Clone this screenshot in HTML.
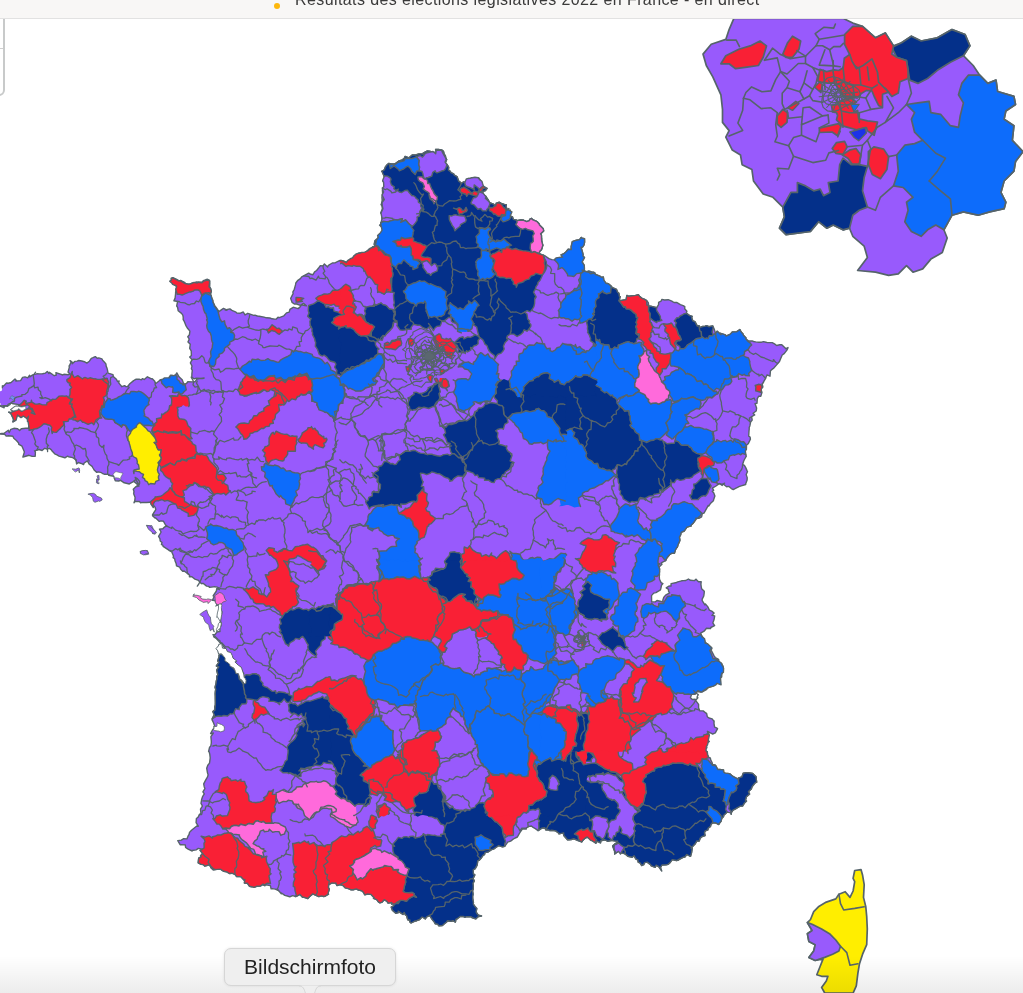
<!DOCTYPE html>
<html lang="fr">
<head>
<meta charset="utf-8">
<title>Résultats des élections législatives 2022 en France - en direct</title>
<style>
html,body{margin:0;padding:0;background:#fff;}
body{width:1023px;height:993px;position:relative;overflow:hidden;font-family:"Liberation Sans",sans-serif;}
#map{position:absolute;left:0;top:0;width:1023px;height:993px;}
#topbar{z-index:5;position:absolute;left:0;top:0;width:1023px;height:19px;background:#f8f7f6;border-bottom:1px solid #e2e2e2;box-sizing:border-box;overflow:hidden;}
#topbar .dot{position:absolute;left:274px;top:3px;width:6px;height:6px;border-radius:50%;background:#fdb80d;}
#topbar .title{position:absolute;left:295px;top:-9px;font-size:16px;line-height:18px;color:#3a3a3a;white-space:nowrap;letter-spacing:0.4px;}
#leftpanel{position:absolute;left:-12px;top:10px;width:12.7px;height:81.5px;border:2.5px solid #c8caca;border-radius:0 0 6px 0;background:#fff;z-index:1;}
#leftpanel i{position:absolute;left:0;top:35.5px;width:13px;height:1px;background:#cfcfcf;}
#fade{position:absolute;left:0;top:956px;width:1023px;height:37px;background:linear-gradient(to bottom,rgba(0,0,0,0),rgba(0,0,0,0.075));}
#tip{position:absolute;left:224px;top:948px;width:170px;height:36px;border:1px solid #d6d6d6;border-radius:7px;background:#efefef;box-shadow:0 0 3px rgba(0,0,0,0.10);font-size:21px;line-height:35px;text-align:center;color:#222;}
#tiparrow{position:absolute;left:299px;top:984.5px;width:22px;height:10px;}
</style>
</head>
<body>
<svg id="map" width="1023" height="993" viewBox="0 0 1023 993" shape-rendering="geometricPrecision">
<g stroke-linejoin="round" stroke-linecap="round">
<path fill="#985afc" d="M203.9 378.2l-1.9 .3-5.8-.3-1.9 .7-2.5-1.5 .1-3.7 .4-3.4-.9-1.7 .6-2.6-1.6-3.1 1.7-3.2-2.4-2.7 1.7-1.6-.2-4.6-1.5-2.5 .6-4.1-2.3-2.3 1-2.1 0-1.2-1.2-1.8 1.6-2 .5-3.7-2.6-3.1-1.5-2.7-1.7-4.2-.9-1.4 0-2.5-.4-2.1-1.3-1.7-3.3-2.6-.6-3.4-.9-1.4 .9-4.5-3.7-.8 1.2-2.6 .5-4.6 0-.8 .6-3.4 .7-2.4-1.1-1.1-2.5-1.7-1.2-1.3-1.5-1.6 .9-1.1-.3-2 1.7-.4 3.7 1.7 2.4 1.5 1.6-.4 3.9 1.8 1.5 1.8 3 .2 2.4-.8 2.6-.7 2.5-.9 2.7 .4 2.9-.3 1.2-1.3 2.3-.9 1.9-.5 1.8 .9 .5 3.7-.1 3 1 1.7 .6 2.6-.5 2-2.2-.6 2 1.5 .8 2.7 1.1 3.5 .5 1.4 .8 2 .8 1.6 2.2 3.2 1.7 2.3 0 1.1 5-3.5 3.5 1.8-1.8-.2 4.7-1.1 2 1.5 4.1 1.7 .9 1 3.5 .1 2.9-1.2 1.7 2.9 2.8-1.6 2.3 .8 3.6 1.3 1.2-.3 2.5 .9 1.8 .3 4.9 .8 2.3 .7 3.5 .2 2.2 .8 2.7 .3 1.5 0 1.7-1.8 1.3 .3 4.6-1.8 2.6-2.9 2.7-.8 .7-2.8 3.3-2 .7 .1 4.2 1.2 1.8-1.5 1.7-2.3 2 .6 2.8 .5-2.9-2.5-3.1 2-3.8-1.4-2.3 0-2.2-1.6-.4-1.1-1-2.9 1.5-3 1-2-.4-1.3 1.5-2.8 1.2-4.4 .3-1.9 2.1-2.7 2.5-1.7 1.3-1.8 1.9-.9 5.1-2.8 2.1 1.2 2.2 .4 1.6-2.8 2-1.4 1.8-2.2 1.9-2.6 2.7 .2 1.4-2 3.2 3 .8-1.6 3.9-2.3 2.7-.1 2.4-1.2 2.7-1.2 3.4 .4 3.1 1.4 3.8-1.9 1.5-1.8 2-1.5 2.2-2.8 2.7-1.2 2.1-.4 2.9 .5 2.8-1.8 2.2-2.1 2.7-.6 1-2 2.8-.1-1.1-2.5 .6-3.3 1.9-1.7 1.7-1.1 .2-2.2 3.1-2.3 2.6-2.9-1.2 .7-.6-4.9-1.8-.3 0-2.1 1.4-3 0-2.8-.2-4.5-.6-.9 2.8-4-1.2-3.2-1.2-3.4 .9-.5-.4-.6-.3-4.1 .7-3.9-.2-2.9 .6-1.6 1-1.3 .2-4.7 1.9-2.4-1.1-2.5-.7-.8-.9-2.4-.8-3.4-.9 .2 2.7-1.5 1-2.8 1.2-1.7 2-1.8 2.9 .5 2.7 0 2.3-1.2 2.3-1.8 2.9-.7 2.6-2.1 .8-1.8 3.9 1.4 3.2-2.8 3.5 0 3.2-1.1 2.7 0 1.7 .3-.1-1 4.2-2.3 2.1 .3 3.8 1.3 3.2-.1-.9-3 2.8 0 3.8 .8 1.2 1.1 .8 2.9 1.3 2 0 1.2 1.2 2.2-1.4 3.3 2 1.9 1.4 2.5-.3 2.8 1.9 1.2 .6 1.4 2.8 1.2 .5 1.2 2.8 1.5 1.6 4.5 1.6 1.1 1.1 1.2 2.1-1.4 2 .1 2.2-2 2.9-1.3-.2-.1 2.2-1.1 3.6 .4 2.5 0 1.4 2 .9 1.6-.3 4 1 1.4 2.1 .1 3.4 1.3-1.7 2.2-2.9 1 1.1 2.9 1.9 1.8 .6 .7 2.4 3.5 1.1 2.8 .3-.5 3.7 1.4 2.5 2.7-.2-2.7 1.9-1.5 1.6-.4 1.9 1 3 1.1 2 .4-.3 1.9 1.9 3.9 2.3-.5-1.2 4 1.2 2.1 2.2 .5 .9 2.6 3.1 .9 .8 .4 3.7-.6 2.8 .3 2.9 1.3 2.4-.8 1.3-1.9 1.3-.4 .8 1.1 4.7 2.1 1.9 2.1 .5 1.3 3.7 3.6 .4 2.2-3 2.9 .8 1.4 .1 3.2 .2 2.9 .6 2 .5 2.1-1.4 4.3-1.3 1-1.3 2.8 2.7 1.2 .8 .2 1.1 .2 2.2 1.1 3.4 2.4 2.8 1 2.8 .3 1-1.6 2.2-.7 4.8-.5-1.5-2.2 2.8-1.2 2.4-2.2 1.9-2.3 3.1 .4-.2-2.8 1.2-5.1 2-.8 2.2-.7 3.1-.6 1.6-2.2 1 .8 2.3 .4 .1 3.4-.6 2.8-1.3 2.2-1.7 .3 .8 2.5 1.3 4.7-.2 1.5 1.6 1.5-1.3 2.3-1.1 2.2 2.2 3.4 .1 3.9-.4 1.3 2.3 1.7 2.4-.2 2 1.6 3-.7 1.9 1.5 4.2 1.6 2 1.4 1.5-.6 .5 3.2 2.1 3.1 2.5 .6 2.4 2.1 1.7 1.8 4 1.7 1 2.7 1.4 1.2 .5 3.1 .8 .2-1.2 4.2 3.4-.5 3.7-.7 .8-4.2 1.9 .9 3.6-.5 3.1-.4 3-.6 1.3 1.8 2.8 2.1 1.6 .5 2.5 1.4 1.6 2.1 .5 3.6 1.9-.2 1.8 .5 4.2 1.1 1.9-3.1 0-2.2 2.4-1.2 .9-1.8 2.7 .6 3.6-.3 3.6 1.4 2.2 1.4 2.6-.1 3.8 2.3 2.8 .9 1.6 1-.1 2.2 2.2 2.5-.6 1.8 3.1 2.4 2.8 .8-.6 1.4 1.3 3.2 2 .8 2.4 4.5 1.8-.6 .3 2.1 3.4-1.2 2.4-.4 1.4-.5 2.2 1.1 3.9-.8 1.5 3.1 1.3 4.5 1.7-2.3 3.8 3.5-.3-1.4 4.7 1.5 .7 1.3 4.3-2 1.9-2.1 4.2-.1 0 0 3.4-2.3 1.1 2.1 2.2 2.5 0 .9 2.8 3-.2 .8 2.9 2.1 3.4-.1 1.5 .6 2.1 .4 3.2 .4 2.7-.1 1.9-.6 2.5 .6 1.2 .4 5 0 2.3 1.3 2.2 1.6 3.1-.8 2 0 4.2 4 2-1.1-1.1 2.5-2.7 3.6-2 1.3-1.6 3.8-1.1 2.8-1.8 1.9-1.3 1.6-2.8 3.2-1 .6-2.1 1.8-.2 1.9-.3 3.6-3-1.3-1.4 3.4-2.5 4.4 .4-.1-1.4 1.1 .8 3.3-2 2.3 1.1 3.1-1.2 3.8-2.1 0-1.4 2.4-.3 4.6-2 .4 1.6 4.5-.4 2.9-3.1 2.2 1.6 1.8-3.1 1.7 .6 3.4-1.6 1.9-.7 3.7-.7 1.9 0 1.6-.2 1.9-.3 5.1 1.4 .8 .3 2.2-2 4.2-1.9 1.9-1.7 2.8-.8 3.2 1.8 3.3 .5 1.6-1.6 2.8-1 2-1.1 3.5 1.8 .9 1.3 2.2 1.3 3 .5 .9-1.3 3.1 1 3-.1 2.5-1.4 3.7 0 .7-4.5 1.3-2.3 .8-.9 .6-3.4 1.6-1.3 .8-2-1-2.3-2.2-2.4 .3-3.4-2.7-1 1.4-2.8-1.9-.9 .6-2.5 1.9-3.6 2.2 1.3 2.1-1.4 1 1.5 1.7 1.1 3.1-1.2 3.3-.3 1.4-2.7 2.4-2 2.9-.4-.7-2.5 4.5-1.7 3.1-1.8 .7-.7 3.2-2.7 1.5-3.5 .2 .6 .8-2.9 3.9-1.9 1.8 0 .8-4.2 1.3-1.1 1.5-1.7 2.3-3.1 1.4-.5 2.6-1.2 2.2 .5 3-.6 1.7-1.3 2.9-.6 2.4-.7 .5-1.3 2.3-1 3.3-2.5-.2-2.4 1.7-2.5 3-1.4 2.9-4.4 2.1 .8 1.5-2.9 2.8 .5 1.9-.6 2.4 .5 3-.2 2.4 .2 2.4 1.6 3.4 1.8 1-1.4 1.6-.4 2.1-.6 2.5-4.6 2.8-2.2 .5-2.2 2.5 .1 4 0 2.3 3.8 0 1.6-1.4 2 .5 4.1 1-.3-1.7 1.1-3.2 1.7-2 4-2.2-1.1-1.7 0-1.9-2.3-1.5 2.8-1.8 2 .1 .1-2.5 5.6-1.1 .2-.4 4.7-1.3 1.9-.2 2.3-.1 2.6-1.5 2.1 1.3 4.1 .3 1.3-1.4 .3 .2 2.3 2.3 2.7 .1-.3 2.4 .4 2.8 .3 1.7 2.7 2.6-.1 1.7-.4 3-1.6 3.1 0 1.5 2.7 4.3 .5-1 2.3 2.7 1.7 3.5 2.3 1 2.4 1.9-2.1 2.4 2.7 .5-.7 3.9-1.2 3.1 1.8 2.8-3.8 1.8-.2 1-4.1-.2-2.4 2.9-3.5 2 .8 1.9 1.4 2.2 1.4 2.1 .9 2.8 1.1 .8 1.6 1.9 4.2 3.2-1.1 2.3 .6 .5 2.6 4.9 1.1 1.7 3.4 1.8 .3 1.9 2.6 2.4-.1-.3 1.6 2.9 .4 2.3-.9 4.3-.7 1.4-.1 2.8-1.3 1-.2 3.9-3.2 0-.9 1.5-2.3 2.4-3.8 1.1-1.7 .7-1.6 1.7-1.2 .8-3.7 2-1.6-.3-3.4-.2-1.8 2.7-3.1-.8-1.5 4.2 2 1.8 2.8-.2 .4 1.1 3 4 0 3.3 1 3 3.6 .2 2.9 2.4 .5 0 .7 3.4 1.7 1.3 3.2 .9 1.8 2.4 .1-.4-.1 2.7 .6 3.5 2 .8 1 .8-2.3 4.1-1.3 .7-1.7 .6-.9-.8-3.9-1.8 .5 2.9-1.2 4.8 2.3 2.4-3.5 1.1 .4 1.9 .7 3.2-2.4 2.7 3 1.3 .2 3.1 1.3 2.6 1.5 .4 .5 2.2 1.3 2.4 .4 1.9 2.8 .5 2.4 4.6 1.8 0 4 .4 .1 2.1 1.5 1.1 4.4 .5 3.5 2.9 .8 .3 3.7 2 1.4-1 3-.9 1.3-3.6 3.5-.7 1.1 .1 2 .3 2.9 .4 3.4 3.4 .2 2.7 .4 2.6-1.1 .5-1 .9-2.5 3.1-.8 2.4-2.4 2.1-.5 .6 1.2 2.3-3.1 2.8-1.1 3.5 1.1 .8-2.3 2.2-1.7 2.8-2-.1-3.4 1.9-1.6 1-2.5 1.3-1.7 2.3-.1 1.7-.4-1.3-3.5-.8-4 3.6 .3 .9-2 1.9-.5 2.4-.6 1-1.4 1.6-.4 .9-2.9-1.6-3.4 .1-1.5 1.6-.4 1.9-2.4 1.9-.2 1.5-2.6 1.1-.9 1.9 .7 2.7-3.1 1.1-1.9 1.6-.9 2.9-2.3-.2-2.1 3.6 .1-.5-3.7 4.1 1 .4-.7 4.4-1 3.5-3.7-1.9-2 2.5-1.3 .2-5.6 2.8 .6 .1-2 .4-4.3-.9-2.3 3.2-1.9 1.6-2 .4-4 .2-1.6 2.7 1.3 3.2-3-4.2-2.6-1.5-.8 2.1-4-1.5-1.1-1.4-3-2.3-2.6 .5-.9 2-2.1 .9-1.3-2.3-2.1-1-.4-2.3-1.8-.8-1.9-3.3-1.9 1.4-4.1-.8-3.1-2.6-2.1-.7-1.3 0-2.3-2.2-1.8 .8-2.8 2.3-.1-3-2-5 2-1.8 1.8-1 1.2-2-3.5-.3-2-.6-4.4 1 .4 0-3.3-1.5-4 1-.3 2.1-3.6-1.8-1 2.2-3.8-3.3-1.5-.5-3.4-2.5-1.6 .8-2.6 2.2-1.3 1.8-1.5-.4-2.1-.7-4-1.9-2.8 .7-2.4 .2-1.4 0-3.7-4.2-.2-.9 .1-1.7-4.7 1-.1-.6-3.2-2.4-4-.7-1.9 .4-1-.6-2.8-.1-1.4-2.2-2.8 .4-3.7 2.5-2.8-2-2.2-1.2-1.7-1.4-5 .9-.2 2.2-3.7-.2-2.8 3.9-1.4 2.6-.9 1.6-2.2 1-2 1.1-2.6 2.1-2.9 .9-1.2 1.8-1.8 2.5-2.2 .5-3.8-1.2-2.1 1.3-2.7 1.8-.3 .3-2.1 .5-3.4 2.4-3 .4-.7 2.3-1.2 .5-1.7 2.5-2.6 2.7-1.1 .2-.7 4.6-1.9 3.5-2 1.2 .1 4 1.5 1-1.8 3.7 1.3 2.2-1.4 2.6 .4 2.5-.1 3.5-.7 1.1 .6 3.7-.5 2.4 .2 2.9 .6 2.6-.1 2 2.1 3 1.4 1.3-.7 3.5 1 1.9 1.4 1.4 3 .8-3.1 .5-2 1.7-.7 .7-3.8-1.4-.8-.8-4.5 0-1.7 .6-1.6-.9-3.1 .1-2.6 2-1.7 .8-.5 2.8-2.3-1.4-2.2 .6-3.3-.6-1.3 1.6-1.9 1.5-2 1.7-3.5 .2-1.3-1.6-2.4-.3-.8-1.7-2.1-2.5-2.7-4.2-2.9 1.5-1.4 2-1.8-1.2-1.5-.6-2.3 2.4-3 1.2-2.4 .6-3.2 1.7-1.4-1.3 .3-1.4-2.2-.5-1.2-4.1-1.3-1-1.1-2.3-1.2 2-4.9-3.2 1.1 1.2-3.4 .8-3.4-3-1.1-3 2.2-1.3 1.7-2.7 3.1 .3 2-3.1-3.4 1.9-1.6 1.5-3.6 .3 .1-1.6-3.7 .6-1.1-1.8-2.8-1.6-2.5 2.7-1.8 .4-1.5-.9-1.7-2.3-3.2-1.2 .9-.5-3.3-3.5-3.6-.4-2.8 .8-1.3-2.5-1.4-1.4-3.5-.9-2.2-1.1-3.1 .8-2.5 0-2.3-1.1-3.2-.7-2-2.2-2.8-1.1-3.5 .9-1.2-2.6-1.1 .2-2.5-.2-3.3 1.6-.5 2.8 1 1.9-1.3 4.2 .5 .8-3.8 2.2-.8 .1-2.5-.6-2.5 .7-2.9-1.3-3.1-1.5-1.6 1.3-2.3 2.2-1.2 1.2-4.3-1.4-.7 .3-2.8-3-2.9 1.1-1.3 1-3.2-.9-2.8 1.3-1.6-.6-3.4-.9-3.4-2.4-.1 .8-2.8-3.3-3.3-1.4-2.8-.5-1.3 .3-.7-3.3-4.9-.8-.5 1-2-1.2-2.8 1.5-3.7 .2-2.3 1.1-2.4-.7-2.4-.5-2.1-3-2.9-.1 .5-3.6-.7 .7-3.5-3.6-3.8 0-.6-.5-1.3-1.7-3.1-1.2-2.5 .3-2.6-1.6-2.9-.6-1.6-.9-1.6-1.2-3.7 .2-2.1 .2-1.7 .1-2.2-2-1.5-2.9-4.8 1.3-1.3-1.5-2.2-.2-3-1.6 .5-4.6 2.5-1.4-.6-1 2.1-2.2-2.6-3.3 2.1-1-3.9-.9-2.1 1.5-4.1 .6 .1 .5-4.1-1.8-2.5-1.7-.3-2.6-4.4-.2-.8 0-2.3-4.1 3.5-.5 2.4-1.4 3.2 .2 1.2-3 1-1.4 .4-2.1 2-2.2 3.4-2.7 1.9-1.5 1.5 .2-2.2-3.6 .3-4.1 1.6-1.2 1.4-2.6 1.5-1.6-.4-3.9 1.9-3.1-.6-1.3-.8-1.4 .7-4.2 1-2.9 1.6-2.5-1.4-1.9 2-3.3-.7-1.9-.5-2.9 1-1.9 1.5-2.8 1.2-1.9 .7-2.3-.7-2.4-.7-4.3 1.1-3 1.7-2.1 .3-2 .4-3.3-.4-3.5-.6-2.5-.6-.3 1-4.3 1.2-1.2 .5-3 0-2.1-.4-4.2 2.4-3.7-2.7 .6 2.3-4.4 .9 .2 .8-3.7-1.4-3.6-1.1-2.2 .6-2.4 1.9-3.8-1.7-2.3 2.1-2-.4-2.4 .7-2.1 .1-2.2-.1-4.9 0-1.7-.1-2.3 .1-1.6 .4-2.9-.6-2.1 .9-3.6 .3-2.4 .6-2.4-.1-2.4 1.1-1.7-1.2-4.5 2.1-3.3-2.4-.9 2.6-3.9-1.3-1.2 1.4-4.1-.1-1.3 1.4-2 2.5-2.5 1.9-3.2 .5 1.3-2.2-3.4-1.5-2.6-1.1 .2-.6-2.4-1.6-1.2-3.2-3.1-2.2-1.8 2.2-.3 1.9-2.7 3-.3-.2-2.9 1.3-3.5 .2-2.5-.8 0 .2-4.7 .7-2.9 .5-3.2-.5-1.2-1.2-2.8 .8-4.6-3.8 1.9-2.3-4.6-2.5-.1 1.9-4.1-1.2-.4 3.3-4.9 .3-2.4 2.8 .9-2.1-2.4-2.9-.3-1.3 .1-3.8 .5-.5-1-2.3-.3-3.6-2.8-1.4 .4-2.1-1.8-1-1.5-3.6-1.3-3-2.3-2.5 0 .2-1.6-2.5-2-2.9-2.2-1.5 .2-2-1.9-1-2.2-3.2-1.2-.3-2.2-1.1-2.7-.5-2.4-1.5-.9 .4-1.6-1.7-4.1-2.9-1.6 0-.2-5.8-3.9-.2-1-1.5-.9 .6-1.8-1.8-1.7-.3-2.3-1.3-2.3 2.5-4.3-1.6-2.9 3.4-.3 1.3-1.5 2.5-1.6-1.2-.7-2.1-3.8-2.3-.3-1.8 .5-3.6-3.4-.7 0-2.5-2.2 1.1-2.8 2.2-3.4-.5-1.9-1.2-1.8-.9 .5-1.7-3.8-1.3-.4-3.7 .3-3.6-.1-2.3 .4-1.2-1.3-4.2-.2-1.2 1.4 .8-2.1 .3-3.2-1.5-3.9 .1-.3 .3-1.4-.7-2.5 2.5-2.5 3.1-.7-.4-2-2.4-4.2-.9-2.5 2.3 1.5 2 2.3 .1 1.8-.3 1.4-2.4 1.8 .6-1.7-3.7-3.1 1.1-1.1-2 1.6-3.6 1.9 0 .2-5.1-1.2-3.6-2.4-1.9 .6-3.4-.2-1-2.6 .3 0-1-2-5-.9 .4-.9-4.3-.1-2.5-.9-.7-.8-3.3-.7-1.4 .5-2.4-2.1-1.4-2.3-.9-1.6-2.8-2.1-1.9-3.4-3.2 2.1-.7 1.6-1.2-.7-3.9-1.4-1.8 1.4-.6-4.3-3.3-2-4.2-.9-.9-.5-2.7 1.6-2.4-.8-3.5-.9-2-1.2-2.3-1.1-2.6-2.7-.7-1.2-1.9-1.5-2.5 .6-2.3-.7-2.6 2.2-3-1-3.7 1.1-.9 .3 .9 1.1-.2 4.2-3 .2-3.2-1.1-3.3 .9-2.8 .8 1.5-5.1-.7-1.7-1.7-4-1.7-1-1.5-.9-.2-1.4-2.2-2.3-2.6-2.3-.9-2.1-4.4-.5-2.1 .4-.6-.5-1.3-1.3-5.5-.4 0 0 2.8-.5 2.3-.2 4.2-3 .9 2.3 1.6-3.2 3.1-1 3.7 .5 2 1.7 1.7-1.8 4.4-.5 2.9 0 .2-4.2-.6-3.6-.9-.5 0-2.5-3.6-1.4-2.9 1.2-3.2-2.2-1.2 2.3-.9 2.8-2.6 1.7 .7-1.8-.5-1.9-2.6-5.4-1.8-.6 1.9 1.1-.1-.5 3.2-1.4-2.9-1.6 4.1-3.1 1.5-.4 2.8 .2 1.6-1.6-1.7-.1-1.5-.3-4.4-.6-.1 0-1.8-.9-3.2 1.5-.4 1.3-4.6 .1 1.6 .7-4.8-.9 .9-1.7-2.2-3.3 1.1-1.9-.6-2.6-1.1-4.4 3.6-.8 .8-3 0-2.1 .5 .7 1.7-1.6 1.9-1.9 1.8 .2 2.8-.7 3.9-3.5 1.8 1.9-1 .1 4.8-.4 2-3.2 2.5-.5 2.6 .9 1.9-2.6 .2 1.6 2.9-1.9 4-1.1 3.2 .1 2.6-.2 3-.6 1.8-1.7 1.6 2.1 .5-1.2 2.2 1.5 2.6 1.9 2.1-.7-.4-2.4 3.8 1.3 3.1 1.1 1.1-.8 4.4 .5 1.7-.7-2-1.9 1.3-4.7-.2-1.5 .4-.3 1.5-3.4-.9-1.6 2 1.4 .1 1.8 2.5-2.4 2.5-.3 1.5-.6 3.1 .5 2.6 .7 2.4 1.4 2.6-1.9 1.9-2.9 1.7-.6 2.3-1.1 1.9 1.7 1.6-.4 3.1 .9 .7 1.5 1.7 1.7 1.6 1.9 .3 2.4 .8 1.8 .5 2 .5 3 5 1.5 .3 1.9 3.1 2.8 1.2 2.3 1.5-.7-.3 2.1 .5 .6 2.6 3.1 2.7-1.1 1.3 1 1.8-.1 2.1-2.7 3.8-3.2 .4-.2 2.2-1.2 3 0 2.1 .6 1.3-1.2 1.6 .9 3.2-2.7 3.6 1.9 1.3 0 2.2 2.2 .8 1.7 .6 .9 3.7-3 2.2-.3 3.4 1.2 2.8-1.5 1.5-3.3 2.5-1.3 1.9 .8 1.4-.4 1.5-2.8 2.2 3.9 3.2 3 1.2 3.2 .8 1 .2 .1 2.1-.6 1.3-1.7 4.4 .1 1.4-.2 1.3 .2 2-2.8 3.9-.7 3.3-.4Z"/>
<path fill="none" stroke="#56646a" stroke-width="1.4" d="M203.9 378.2l-1.9 .3-5.8-.3-1.9 .7-2.5-1.5 .1-3.7 .4-3.4-.9-1.7 .6-2.6-1.6-3.1 1.7-3.2-2.4-2.7 1.7-1.6-.2-4.6-1.5-2.5 .6-4.1-2.3-2.3 1-2.1 0-1.2-1.2-1.8 1.6-2 .5-3.7-2.6-3.1-1.5-2.7-1.7-4.2-.9-1.4 0-2.5-.4-2.1-1.3-1.7-3.3-2.6-.6-3.4-.9-1.4 .9-4.5-3.7-.8 1.2-2.6 .5-4.6 0-.8 .6-3.4 .7-2.4-1.1-1.1-2.5-1.7-1.2-1.3-1.5-1.6 .9-1.1-.3-2 1.7-.4 3.7 1.7 2.4 1.5 1.6-.4 3.9 1.8 1.5 1.8 3 .2 2.4-.8 2.6-.7 2.5-.9 2.7 .4 2.9-.3 1.2-1.3 2.3-.9 1.9-.5 1.8 .9 .5 3.7-.1 3 1 1.7 .6 2.6-.5 2-2.2-.6 2 1.5 .8 2.7 1.1 3.5 .5 1.4 .8 2 .8 1.6 2.2 3.2 1.7 2.3 0 1.1 5-3.5 3.5 1.8-1.8-.2 4.7-1.1 2 1.5 4.1 1.7 .9 1 3.5 .1 2.9-1.2 1.7 2.9 2.8-1.6 2.3 .8 3.6 1.3 1.2-.3 2.5 .9 1.8 .3 4.9 .8 2.3 .7 3.5 .2 2.2 .8 2.7 .3 1.5 0 1.7-1.8 1.3 .3 4.6-1.8 2.6-2.9 2.7-.8 .7-2.8 3.3-2 .7 .1 4.2 1.2 1.8-1.5 1.7-2.3 2 .6 2.8 .5-2.9-2.5-3.1 2-3.8-1.4-2.3 0-2.2-1.6-.4-1.1-1-2.9 1.5-3 1-2-.4-1.3 1.5-2.8 1.2-4.4 .3-1.9 2.1-2.7 2.5-1.7 1.3-1.8 1.9-.9 5.1-2.8 2.1 1.2 2.2 .4 1.6-2.8 2-1.4 1.8-2.2 1.9-2.6 2.7 .2 1.4-2 3.2 3 .8-1.6 3.9-2.3 2.7-.1 2.4-1.2 2.7-1.2 3.4 .4 3.1 1.4 3.8-1.9 1.5-1.8 2-1.5 2.2-2.8 2.7-1.2 2.1-.4 2.9 .5 2.8-1.8 2.2-2.1 2.7-.6 1-2 2.8-.1-1.1-2.5 .6-3.3 1.9-1.7 1.7-1.1 .2-2.2 3.1-2.3 2.6-2.9-1.2 .7-.6-4.9-1.8-.3 0-2.1 1.4-3 0-2.8-.2-4.5-.6-.9 2.8-4-1.2-3.2-1.2-3.4 .9-.5-.4-.6-.3-4.1 .7-3.9-.2-2.9 .6-1.6 1-1.3 .2-4.7 1.9-2.4-1.1-2.5-.7-.8-.9-2.4-.8-3.4-.9 .2 2.7-1.5 1-2.8 1.2-1.7 2-1.8 2.9 .5 2.7 0 2.3-1.2 2.3-1.8 2.9-.7 2.6-2.1 .8-1.8 3.9 1.4 3.2-2.8 3.5 0 3.2-1.1 2.7 0 1.7 .3-.1-1 4.2-2.3 2.1 .3 3.8 1.3 3.2-.1-.9-3 2.8 0 3.8 .8 1.2 1.1 .8 2.9 1.3 2 0 1.2 1.2 2.2-1.4 3.3 2 1.9 1.4 2.5-.3 2.8 1.9 1.2 .6 1.4 2.8 1.2 .5 1.2 2.8 1.5 1.6 4.5 1.6 1.1 1.1 1.2 2.1-1.4 2 .1 2.2-2 2.9-1.3-.2-.1 2.2-1.1 3.6 .4 2.5 0 1.4 2 .9 1.6-.3 4 1 1.4 2.1 .1 3.4 1.3-1.7 2.2-2.9 1 1.1 2.9 1.9 1.8 .6 .7 2.4 3.5 1.1 2.8 .3-.5 3.7 1.4 2.5 2.7-.2-2.7 1.9-1.5 1.6-.4 1.9 1 3 1.1 2 .4-.3 1.9 1.9 3.9 2.3-.5-1.2 4 1.2 2.1 2.2 .5 .9 2.6 3.1 .9 .8 .4 3.7-.6 2.8 .3 2.9 1.3 2.4-.8 1.3-1.9 1.3-.4 .8 1.1 4.7 2.1 1.9 2.1 .5 1.3 3.7 3.6 .4 2.2-3 2.9 .8 1.4 .1 3.2 .2 2.9 .6 2 .5 2.1-1.4 4.3-1.3 1-1.3 2.8 2.7 1.2 .8 .2 1.1 .2 2.2 1.1 3.4 2.4 2.8 1 2.8 .3 1-1.6 2.2-.7 4.8-.5-1.5-2.2 2.8-1.2 2.4-2.2 1.9-2.3 3.1 .4-.2-2.8 1.2-5.1 2-.8 2.2-.7 3.1-.6 1.6-2.2 1 .8 2.3 .4 .1 3.4-.6 2.8-1.3 2.2-1.7 .3 .8 2.5 1.3 4.7-.2 1.5 1.6 1.5-1.3 2.3-1.1 2.2 2.2 3.4 .1 3.9-.4 1.3 2.3 1.7 2.4-.2 2 1.6 3-.7 1.9 1.5 4.2 1.6 2 1.4 1.5-.6 .5 3.2 2.1 3.1 2.5 .6 2.4 2.1 1.7 1.8 4 1.7 1 2.7 1.4 1.2 .5 3.1 .8 .2-1.2 4.2 3.4-.5 3.7-.7 .8-4.2 1.9 .9 3.6-.5 3.1-.4 3-.6 1.3 1.8 2.8 2.1 1.6 .5 2.5 1.4 1.6 2.1 .5 3.6 1.9-.2 1.8 .5 4.2 1.1 1.9-3.1 0-2.2 2.4-1.2 .9-1.8 2.7 .6 3.6-.3 3.6 1.4 2.2 1.4 2.6-.1 3.8 2.3 2.8 .9 1.6 1-.1 2.2 2.2 2.5-.6 1.8 3.1 2.4 2.8 .8-.6 1.4 1.3 3.2 2 .8 2.4 4.5 1.8-.6 .3 2.1 3.4-1.2 2.4-.4 1.4-.5 2.2 1.1 3.9-.8 1.5 3.1 1.3 4.5 1.7-2.3 3.8 3.5-.3-1.4 4.7 1.5 .7 1.3 4.3-2 1.9-2.1 4.2-.1 0 0 3.4-2.3 1.1 2.1 2.2 2.5 0 .9 2.8 3-.2 .8 2.9 2.1 3.4-.1 1.5 .6 2.1 .4 3.2 .4 2.7-.1 1.9-.6 2.5 .6 1.2 .4 5 0 2.3 1.3 2.2 1.6 3.1-.8 2 0 4.2 4 2-1.1-1.1 2.5-2.7 3.6-2 1.3-1.6 3.8-1.1 2.8-1.8 1.9-1.3 1.6-2.8 3.2-1 .6-2.1 1.8-.2 1.9-.3 3.6-3-1.3-1.4 3.4-2.5 4.4 .4-.1-1.4 1.1 .8 3.3-2 2.3 1.1 3.1-1.2 3.8-2.1 0-1.4 2.4-.3 4.6-2 .4 1.6 4.5-.4 2.9-3.1 2.2 1.6 1.8-3.1 1.7 .6 3.4-1.6 1.9-.7 3.7-.7 1.9 0 1.6-.2 1.9-.3 5.1 1.4 .8 .3 2.2-2 4.2-1.9 1.9-1.7 2.8-.8 3.2 1.8 3.3 .5 1.6-1.6 2.8-1 2-1.1 3.5 1.8 .9 1.3 2.2 1.3 3 .5 .9-1.3 3.1 1 3-.1 2.5-1.4 3.7 0 .7-4.5 1.3-2.3 .8-.9 .6-3.4 1.6-1.3 .8-2-1-2.3-2.2-2.4 .3-3.4-2.7-1 1.4-2.8-1.9-.9 .6-2.5 1.9-3.6 2.2 1.3 2.1-1.4 1 1.5 1.7 1.1 3.1-1.2 3.3-.3 1.4-2.7 2.4-2 2.9-.4-.7-2.5 4.5-1.7 3.1-1.8 .7-.7 3.2-2.7 1.5-3.5 .2 .6 .8-2.9 3.9-1.9 1.8 0 .8-4.2 1.3-1.1 1.5-1.7 2.3-3.1 1.4-.5 2.6-1.2 2.2 .5 3-.6 1.7-1.3 2.9-.6 2.4-.7 .5-1.3 2.3-1 3.3-2.5-.2-2.4 1.7-2.5 3-1.4 2.9-4.4 2.1 .8 1.5-2.9 2.8 .5 1.9-.6 2.4 .5 3-.2 2.4 .2 2.4 1.6 3.4 1.8 1-1.4 1.6-.4 2.1-.6 2.5-4.6 2.8-2.2 .5-2.2 2.5 .1 4 0 2.3 3.8 0 1.6-1.4 2 .5 4.1 1-.3-1.7 1.1-3.2 1.7-2 4-2.2-1.1-1.7 0-1.9-2.3-1.5 2.8-1.8 2 .1 .1-2.5 5.6-1.1 .2-.4 4.7-1.3 1.9-.2 2.3-.1 2.6-1.5 2.1 1.3 4.1 .3 1.3-1.4 .3 .2 2.3 2.3 2.7 .1-.3 2.4 .4 2.8 .3 1.7 2.7 2.6-.1 1.7-.4 3-1.6 3.1 0 1.5 2.7 4.3 .5-1 2.3 2.7 1.7 3.5 2.3 1 2.4 1.9-2.1 2.4 2.7 .5-.7 3.9-1.2 3.1 1.8 2.8-3.8 1.8-.2 1-4.1-.2-2.4 2.9-3.5 2 .8 1.9 1.4 2.2 1.4 2.1 .9 2.8 1.1 .8 1.6 1.9 4.2 3.2-1.1 2.3 .6 .5 2.6 4.9 1.1 1.7 3.4 1.8 .3 1.9 2.6 2.4-.1-.3 1.6 2.9 .4 2.3-.9 4.3-.7 1.4-.1 2.8-1.3 1-.2 3.9-3.2 0-.9 1.5-2.3 2.4-3.8 1.1-1.7 .7-1.6 1.7-1.2 .8-3.7 2-1.6-.3-3.4-.2-1.8 2.7-3.1-.8-1.5 4.2 2 1.8 2.8-.2 .4 1.1 3 4 0 3.3 1 3 3.6 .2 2.9 2.4 .5 0 .7 3.4 1.7 1.3 3.2 .9 1.8 2.4 .1-.4-.1 2.7 .6 3.5 2 .8 1 .8-2.3 4.1-1.3 .7-1.7 .6-.9-.8-3.9-1.8 .5 2.9-1.2 4.8 2.3 2.4-3.5 1.1 .4 1.9 .7 3.2-2.4 2.7 3 1.3 .2 3.1 1.3 2.6 1.5 .4 .5 2.2 1.3 2.4 .4 1.9 2.8 .5 2.4 4.6 1.8 0 4 .4 .1 2.1 1.5 1.1 4.4 .5 3.5 2.9 .8 .3 3.7 2 1.4-1 3-.9 1.3-3.6 3.5-.7 1.1 .1 2 .3 2.9 .4 3.4 3.4 .2 2.7 .4 2.6-1.1 .5-1 .9-2.5 3.1-.8 2.4-2.4 2.1-.5 .6 1.2 2.3-3.1 2.8-1.1 3.5 1.1 .8-2.3 2.2-1.7 2.8-2-.1-3.4 1.9-1.6 1-2.5 1.3-1.7 2.3-.1 1.7-.4-1.3-3.5-.8-4 3.6 .3 .9-2 1.9-.5 2.4-.6 1-1.4 1.6-.4 .9-2.9-1.6-3.4 .1-1.5 1.6-.4 1.9-2.4 1.9-.2 1.5-2.6 1.1-.9 1.9 .7 2.7-3.1 1.1-1.9 1.6-.9 2.9-2.3-.2-2.1 3.6 .1-.5-3.7 4.1 1 .4-.7 4.4-1 3.5-3.7-1.9-2 2.5-1.3 .2-5.6 2.8 .6 .1-2 .4-4.3-.9-2.3 3.2-1.9 1.6-2 .4-4 .2-1.6 2.7 1.3 3.2-3-4.2-2.6-1.5-.8 2.1-4-1.5-1.1-1.4-3-2.3-2.6 .5-.9 2-2.1 .9-1.3-2.3-2.1-1-.4-2.3-1.8-.8-1.9-3.3-1.9 1.4-4.1-.8-3.1-2.6-2.1-.7-1.3 0-2.3-2.2-1.8 .8-2.8 2.3-.1-3-2-5 2-1.8 1.8-1 1.2-2-3.5-.3-2-.6-4.4 1 .4 0-3.3-1.5-4 1-.3 2.1-3.6-1.8-1 2.2-3.8-3.3-1.5-.5-3.4-2.5-1.6 .8-2.6 2.2-1.3 1.8-1.5-.4-2.1-.7-4-1.9-2.8 .7-2.4 .2-1.4 0-3.7-4.2-.2-.9 .1-1.7-4.7 1-.1-.6-3.2-2.4-4-.7-1.9 .4-1-.6-2.8-.1-1.4-2.2-2.8 .4-3.7 2.5-2.8-2-2.2-1.2-1.7-1.4-5 .9-.2 2.2-3.7-.2-2.8 3.9-1.4 2.6-.9 1.6-2.2 1-2 1.1-2.6 2.1-2.9 .9-1.2 1.8-1.8 2.5-2.2 .5-3.8-1.2-2.1 1.3-2.7 1.8-.3 .3-2.1 .5-3.4 2.4-3 .4-.7 2.3-1.2 .5-1.7 2.5-2.6 2.7-1.1 .2-.7 4.6-1.9 3.5-2 1.2 .1 4 1.5 1-1.8 3.7 1.3 2.2-1.4 2.6 .4 2.5-.1 3.5-.7 1.1 .6 3.7-.5 2.4 .2 2.9 .6 2.6-.1 2 2.1 3 1.4 1.3-.7 3.5 1 1.9 1.4 1.4 3 .8-3.1 .5-2 1.7-.7 .7-3.8-1.4-.8-.8-4.5 0-1.7 .6-1.6-.9-3.1 .1-2.6 2-1.7 .8-.5 2.8-2.3-1.4-2.2 .6-3.3-.6-1.3 1.6-1.9 1.5-2 1.7-3.5 .2-1.3-1.6-2.4-.3-.8-1.7-2.1-2.5-2.7-4.2-2.9 1.5-1.4 2-1.8-1.2-1.5-.6-2.3 2.4-3 1.2-2.4 .6-3.2 1.7-1.4-1.3 .3-1.4-2.2-.5-1.2-4.1-1.3-1-1.1-2.3-1.2 2-4.9-3.2 1.1 1.2-3.4 .8-3.4-3-1.1-3 2.2-1.3 1.7-2.7 3.1 .3 2-3.1-3.4 1.9-1.6 1.5-3.6 .3 .1-1.6-3.7 .6-1.1-1.8-2.8-1.6-2.5 2.7-1.8 .4-1.5-.9-1.7-2.3-3.2-1.2 .9-.5-3.3-3.5-3.6-.4-2.8 .8-1.3-2.5-1.4-1.4-3.5-.9-2.2-1.1-3.1 .8-2.5 0-2.3-1.1-3.2-.7-2-2.2-2.8-1.1-3.5 .9-1.2-2.6-1.1 .2-2.5-.2-3.3 1.6-.5 2.8 1 1.9-1.3 4.2 .5 .8-3.8 2.2-.8 .1-2.5-.6-2.5 .7-2.9-1.3-3.1-1.5-1.6 1.3-2.3 2.2-1.2 1.2-4.3-1.4-.7 .3-2.8-3-2.9 1.1-1.3 1-3.2-.9-2.8 1.3-1.6-.6-3.4-.9-3.4-2.4-.1 .8-2.8-3.3-3.3-1.4-2.8-.5-1.3 .3-.7-3.3-4.9-.8-.5 1-2-1.2-2.8 1.5-3.7 .2-2.3 1.1-2.4-.7-2.4-.5-2.1-3-2.9-.1 .5-3.6-.7 .7-3.5-3.6-3.8 0-.6-.5-1.3-1.7-3.1-1.2-2.5 .3-2.6-1.6-2.9-.6-1.6-.9-1.6-1.2-3.7 .2-2.1 .2-1.7 .1-2.2-2-1.5-2.9-4.8 1.3-1.3-1.5-2.2-.2-3-1.6 .5-4.6 2.5-1.4-.6-1 2.1-2.2-2.6-3.3 2.1-1-3.9-.9-2.1 1.5-4.1 .6 .1 .5-4.1-1.8-2.5-1.7-.3-2.6-4.4-.2-.8 0-2.3-4.1 3.5-.5 2.4-1.4 3.2 .2 1.2-3 1-1.4 .4-2.1 2-2.2 3.4-2.7 1.9-1.5 1.5 .2-2.2-3.6 .3-4.1 1.6-1.2 1.4-2.6 1.5-1.6-.4-3.9 1.9-3.1-.6-1.3-.8-1.4 .7-4.2 1-2.9 1.6-2.5-1.4-1.9 2-3.3-.7-1.9-.5-2.9 1-1.9 1.5-2.8 1.2-1.9 .7-2.3-.7-2.4-.7-4.3 1.1-3 1.7-2.1 .3-2 .4-3.3-.4-3.5-.6-2.5-.6-.3 1-4.3 1.2-1.2 .5-3 0-2.1-.4-4.2 2.4-3.7-2.7 .6 2.3-4.4 .9 .2 .8-3.7-1.4-3.6-1.1-2.2 .6-2.4 1.9-3.8-1.7-2.3 2.1-2-.4-2.4 .7-2.1 .1-2.2-.1-4.9 0-1.7-.1-2.3 .1-1.6 .4-2.9-.6-2.1 .9-3.6 .3-2.4 .6-2.4-.1-2.4 1.1-1.7-1.2-4.5 2.1-3.3-2.4-.9 2.6-3.9-1.3-1.2 1.4-4.1-.1-1.3 1.4-2 2.5-2.5 1.9-3.2 .5 1.3-2.2-3.4-1.5-2.6-1.1 .2-.6-2.4-1.6-1.2-3.2-3.1-2.2-1.8 2.2-.3 1.9-2.7 3-.3-.2-2.9 1.3-3.5 .2-2.5-.8 0 .2-4.7 .7-2.9 .5-3.2-.5-1.2-1.2-2.8 .8-4.6-3.8 1.9-2.3-4.6-2.5-.1 1.9-4.1-1.2-.4 3.3-4.9 .3-2.4 2.8 .9-2.1-2.4-2.9-.3-1.3 .1-3.8 .5-.5-1-2.3-.3-3.6-2.8-1.4 .4-2.1-1.8-1-1.5-3.6-1.3-3-2.3-2.5 0 .2-1.6-2.5-2-2.9-2.2-1.5 .2-2-1.9-1-2.2-3.2-1.2-.3-2.2-1.1-2.7-.5-2.4-1.5-.9 .4-1.6-1.7-4.1-2.9-1.6 0-.2-5.8-3.9-.2-1-1.5-.9 .6-1.8-1.8-1.7-.3-2.3-1.3-2.3 2.5-4.3-1.6-2.9 3.4-.3 1.3-1.5 2.5-1.6-1.2-.7-2.1-3.8-2.3-.3-1.8 .5-3.6-3.4-.7 0-2.5-2.2 1.1-2.8 2.2-3.4-.5-1.9-1.2-1.8-.9 .5-1.7-3.8-1.3-.4-3.7 .3-3.6-.1-2.3 .4-1.2-1.3-4.2-.2-1.2 1.4 .8-2.1 .3-3.2-1.5-3.9 .1-.3 .3-1.4-.7-2.5 2.5-2.5 3.1-.7-.4-2-2.4-4.2-.9-2.5 2.3 1.5 2 2.3 .1 1.8-.3 1.4-2.4 1.8 .6-1.7-3.7-3.1 1.1-1.1-2 1.6-3.6 1.9 0 .2-5.1-1.2-3.6-2.4-1.9 .6-3.4-.2-1-2.6 .3 0-1-2-5-.9 .4-.9-4.3-.1-2.5-.9-.7-.8-3.3-.7-1.4 .5-2.4-2.1-1.4-2.3-.9-1.6-2.8-2.1-1.9-3.4-3.2 2.1-.7 1.6-1.2-.7-3.9-1.4-1.8 1.4-.6-4.3-3.3-2-4.2-.9-.9-.5-2.7 1.6-2.4-.8-3.5-.9-2-1.2-2.3-1.1-2.6-2.7-.7-1.2-1.9-1.5-2.5 .6-2.3-.7-2.6 2.2-3-1-3.7 1.1-.9 .3 .9 1.1-.2 4.2-3 .2-3.2-1.1-3.3 .9-2.8 .8 1.5-5.1-.7-1.7-1.7-4-1.7-1-1.5-.9-.2-1.4-2.2-2.3-2.6-2.3-.9-2.1-4.4-.5-2.1 .4-.6-.5-1.3-1.3-5.5-.4 M-1 433.9l2.8-.5 2.3-.2 4.2-3 .9 2.3 1.6-3.2 3.1-1 3.7 .5 2 1.7 1.7-1.8 4.4-.5 2.9 0 .2-4.2-.6-3.6-.9-.5 0-2.5-3.6-1.4-2.9 1.2-3.2-2.2-1.2 2.3-.9 2.8-2.6 1.7 .7-1.8-.5-1.9-2.6-5.4-1.8-.6 1.9 1.1-.1-.5 3.2-1.4-2.9-1.6 4.1-3.1 1.5-.4 2.8 .2 1.6-1.6-1.7-.1-1.5-.3-4.4-.6-.1 0-1.8-.9-3.2 1.5-.4 1.3-4.6 .1 1.6 .7-4.8-.9 M2.4 387.9l0-2.1 .5 .7 1.7-1.6 1.9-1.9 1.8 .2 2.8-.7 3.9-3.5 1.8 1.9-1 .1 4.8-.4 2-3.2 2.5-.5 2.6 .9 1.9-2.6 .2 1.6 2.9-1.9 4-1.1 3.2 .1 2.6-.2 3-.6 1.8-1.7 1.6 2.1 .5-1.2 2.2 1.5 2.6 1.9 2.1-.7-.4-2.4 3.8 1.3 3.1 1.1 1.1-.8 4.4 .5 1.7-.7-2-1.9 1.3-4.7-.2-1.5 .4-.3 1.5-3.4-.9-1.6 2 1.4 .1 1.8 2.5-2.4 2.5-.3 1.5-.6 3.1 .5 2.6 .7 2.4 1.4 2.6-1.9 1.9-2.9 1.7-.6 2.3-1.1 1.9 1.7 1.6-.4 3.1 .9 .7 1.5 1.7 1.7 1.6 1.9 .3 2.4 .8 1.8 .5 2 .5 3 5 1.5 .3 1.9 3.1 2.8 1.2 2.3 1.5-.7-.3 2.1 .5 .6 2.6 3.1 2.7-1.1 1.3 1 1.8-.1 2.1-2.7 3.8-3.2 .4-.2 2.2-1.2 3 0 2.1 .6 1.3-1.2 1.6 .9 3.2-2.7 3.6 1.9 1.3 0 2.2 2.2 .8 1.7 .6 .9 3.7-3 2.2-.3 3.4 1.2 2.8-1.5 1.5-3.3 2.5-1.3 1.9 .8 1.4-.4 1.5-2.8 2.2 3.9 3.2 3 1.2 3.2 .8 1 .2 .1 2.1-.6 1.3-1.7 4.4 .1 1.4-.2 1.3 .2 2-2.8 3.9-.7 3.3-.4-.2 .2"/>
<path fill="#f92035" stroke="#56646a" stroke-width="1.4" d="M25.8 403.5l5.2-1.1 .4-2.1 .5 1.8 3.3 2 2 0 2.2-.4 3 1.2 4.2-.1 .4-2.1 2.1-1.2 3.3-2.2 2 .1 1.4-.2 3.4-3.1 2.8-.2 2.9 .3 1.9-.3 1.7 1.8 2.3 1.6 1-.7-2.5 5.3 3.1 .5-1 2.2 1.5 2.1 .7 2.7 .7 2.7 .2 2.7-2.2 .9-.8 1.4-2.2-.3-1.3 2.6-4.7 .3 1 3.2-2.7 2.1-1.7 2.1-1 .7-2.6 2.6-2.6-.3-.8-.4-.7 1.8-.9-4.2 .5-1.9-1.9-2.1-2.4-.5-.9-.6-2.7-.5-2.5 2.3-2.1 1.3-2 1.2-3.4 .6-.3 .4-4.5 .8 0-2.8-.5-2.6-.4-3-.8-.6 1-5.1-1.3 2.5-3.9-2.7-2.2 1.6-3.4-2.6-.7 2.1-.8 3-3.2 1.7 .7-1.8-.5-1.9-2.6-5.4-1.8-.6 1.9 1.1-.1-.5 3.2-1.4 3.7-1.1 1.6-1.1 2.5 2.3 2.9-1.6 4.7-1.3 2.7 1.2 .6 2.2-1.3 1 3.9 1.5-1.6-3-1.2-2.9-1.9-.2-2.4 .4 1.9-1.9Z"/>
<path fill="#f92035" stroke="#56646a" stroke-width="1.4" d="M18.8 405.5l2.7-2.1 2.7-3.1 2.1 .9-.8 1.5 1.2 1.7-.6 .9-3.3 1-3.2 .1Z"/>
<path fill="#ffffff" stroke="#56646a" stroke-width="0.6" d="M16.4 406.2l2.8 .1-.6-.7 1 1.1 2.2 .4 3.8-.9 .3 2.5-3.2 2-1.5 0-2.6-2.2-1 1.4-4.1 .9-2.7-1.1 4.1-3.1Z"/>
<path fill="#6f8ff5" stroke="#56646a" stroke-width="0.5" d="M9.6 398.7l.9-1.6 1.3-1.5 2.9 1.5 1.2 .2-1.3 1 .2 2.5-.7 .7-1.1-1.4-1.7-1.6Z"/>
<path fill="#f92035" stroke="#56646a" stroke-width="1.4" d="M66.9 379.7l3.1-2 1-3.4 1.3-2.9-.2 2.3 2.2 3.8 3.5-1.8 4.8 3.3 1-1.1 1.4-.5 2.4 .9 .2 .4 2.4-.9 4.1 1.1 .9-.1 2.5 .6 2.4 0 4.4-.5 1.6-.6 1.5 .1-.2 .6 1.7 3.4-1.2 5.7-.6 1.5-.4 1.5 .6 2.8-1.8 2.1-2.2 1.3 1.1 3-.4 1.6-.8 5-1.3-1.1-.8 2.7-1.6 2.9 .4 3.4 1.8 3.3-3.3 .3-2.6 1.6-.1 .8-1.8 4-2.2-2-3.6 1.6-4.1-2.1-1.4-.1-2.2-2.2-2.8 1.7-2.6-1.6-2.2-.2 .4-2.7 2.7 0-1.4-3.7-.7-2.2-.9-2.6-1.4-2.3 .7-2.4-2.5-.3 2.9-4.8-1.8 0-2.1-1.6 1.3-2.9 .1-4.3-.3-.7 1.9-2-2.3-2.6 .9-1.7-2-.3-1.4-1.7Z"/>
<path fill="#0d6cfb" stroke="#56646a" stroke-width="1.4" d="M102.3 407.4l1.9-.1 .4-2.8 .3-1.6 3.2-4.4 2 .1 .6 1.8 2.8-.9 3.3-1.3 1.7-1.3 2.6-1 2-1.4 3.3-1.1 3.1 .5 1.4-2.4 2.9-.1 3.3 .6 1.5-.8 2.3 .7 2.4 1.5 2.3 1.9 3.3 3.1 .4 1.8-1 2.9 .8 1.4-1 .5-2.3 2.1-1.9 3.1 .3 2.5 .6 2.4-.9 .8 3.1 1.4 .9 .5 2.8 3.2 1.3 .2 1.9 4.4-2.3 .3-3.6-.7-4.5 .3-3.4-2.4-.6 0-2.2 3.6-.4 1.1-3.2 1.3-1.4 2.2-2.3-.1-1.2-1-3.2-4.7-1.3-.3-1.7-.6-1 2.5-2.6-2.3-4.1-2.3-1-2.5-2.4-.8-3.1 .1-3.4-.6-.4-.8-1.5-1.3-2.4-3.2 .6-3.1Z"/>
<path fill="#ffee00" stroke="#56646a" stroke-width="1.4" d="M128 440.4l-.2-3.8 2.6-3.2 .5-1.8 1.5-2.1 4.1-2.7-.2-.9 2.4-2.8 1.5-.4 1.8 1.9 2.9 2.6 1.5 1.3 1.7 2.3 1.9 .9 4.3 5.4-.8-1.3 1.3 1.1 2 5.3-2.6 .3 1.9 1.9 .8 2.9 1.3 2.5 3.2 0-1.2 4.6-.7 .8 2.3 3-2.1 2.5-1.8 2.2 1.1 .7-1.1 4.1-.5 2.1 .8 2.9 1.1 1.5-.9 2.8 .2 1.6 .5 1.5-3.2 1.2-1.1 2.7-4.2-.5-1.9 1.2-1.4-2.9-2.2-1.1-.5-1.8-2.2-1.5 1.1-3-2.3-1.1-1.8-1.6-2.5-.3-3.5-.5 .5 2.7 .2-3.7 2.3-.4 2.8-.5-.6-4-1.5-1.7 .2-1.8-.8-3.2-3.4-1.8-.6-1.5-.2-2.3-1.5-3.8-1-4-.3-.6-.5-2.6Z"/>
<path fill="#0d6cfb" stroke="#56646a" stroke-width="1.4" d="M160 380l2.8-.9 1.8-1.2 5-.1 .8-2.6 3.4 .5 1.5-.7 1.8 1.5-.1 2.8 2.3 1.7 .8 1.8 3 1.4-.3 .6 2.4-.2 .4 2.2 .7 3-2.3 1.9-1.7 2.2-3.2 0-.2-1.9-3.8 .8-2.5-.5 .5-4.2-.6-1.4-1 .4-2.8-.7-2.5 1.4-4.4-4.6-.2-2.2Z"/>
<path fill="#f92035" stroke="#56646a" stroke-width="1.4" d="M169.4 396l3.2-.3 4.3 1.3 1.2-1.6 1-1.5 3.1 2.7 2.1 0 2.4-.1 1 2.4-1.7 1.9-1.5 2.2-2.5 1.4-.7 1.7-4.1 1.4 .8 2.5-.4 2.1 .3 1 0 3.1 1.5 2.6 5.1 .7 1.1 .8 1 1.1 1.5 4.5 1.4 1.1 1.4 1.4-.3 2.2 .3 1.6-.3 4.2 1.6 2.2-1.9 .4-1.6-.1 .4-.4-4.5-3.1-2.1-.7-.9-1.2-.5-2.8-2.2 1.6-2-.1-4.4-.4-3.4 .5-.9 .1-4.4-1.5-.3 1.7-3.4-.4-2.3-1.4-4.5 1.8-1.4-2.8 1.2-3 1.8-1.3-.4-1.8 2.4-1.8-.4-3.1 4.8-1 .4-3.8 1.1 .6 2.9-2.2 1.6-.9 1.7-2.1 .6-3.7 3.3-.6-1.2-1.2 0-4.8 .6-1.8Z"/>
<path fill="#f92035" stroke="#56646a" stroke-width="1.4" d="M151.6 430.8l1.9 2.2 4.3-2.1 1.9 .8 3.9 .9 .3-.9 4.3 1.6 0 .1 4.3-.8 4.2 .6 2.2-.7 2.2-1.8 .1 4.4 3.3-.5 4.4 5.2 .2-.4 2.8 2.5 .5 1.8 3.3 1.9 .3 3 .1 2.5 1.7 2.5-2.6 1-.6 2-3.6 1.1-3.6 1-1 1.7-4.8-1.5-1.3 1.9-3.3 .7-1.8 3.1-1.4 .3-3.5-1.8-4.2 1.8-1.3 1.1-2.6 1-.9 .6-1.2-1.8-1.5-1.4 1.2-2 1.1-2.3 .4-2.6-1.8-2.8 1.1-.6 .8-4.3-3.2 0-1.3-2.5-.8-2.9-1.9-1.9 2.6-.3-2-5.3-.9-1.7-.3-.8Z"/>
<path fill="#f92035" stroke="#56646a" stroke-width="1.4" d="M160.9 468l1.3-.3 2.2-1.1 2.1-1 3.7-2.6 3.3 1.8 1.3 .3 2.1-3.6 3.5-.1 1.5-1.7 4.7 1.4 1.1-1.8 3.5-1.1 3.7 .1 .4-2.7 1.1-2 3.7 1.2 1.7-.7 1.8 1 2.9 .3 1.7 2.6 .7 1.8 1.8 2 3.2 3.1 .8 1.2 1.6 1.6 .8 2 .1 3.6 1.4 1.3 4.7-.6 2.4 3.3 .5 1-2.9 4.2 1.6 1.3 2.8 1.5 .5 2.6 0 1.9 2.1 1.1-4.5 4.2-1.7-1.9-3.1 .9-2.3-.5-1.4-.2-3 1-.3 .8-1.6-2.8-3-4.4-1.5-.8-2.4 0-.6-1-4 .5-3.5-2.9-3.2-1.3-.7 2.3-3.1 1.1-.7 .3-2.3 1.9-.9 1.4-3.5 1.2 1.3 4.2-.4 .9-2 1.4-2.8-.9-3.8-1.6-.8-2.3-2.1-1.7-.4-1.7-.3-3.4 1-1.8-1.9-2.3-.6-3-1.4 .2-3.1-2.1-1.4-1.3-1.6-3.1-2.1-1.8Z"/>
<path fill="#f92035" stroke="#56646a" stroke-width="1.4" d="M150.5 501.7l1.7-1.5 1.7-1.3 1.9-2-.9 .2 5.7-.8 2.2-1.3 2-1.8 2.6-1.9 .9-.7 1.8-2.9 1.7 1.7 .3 1.1 2.2 2.2 1 2 3.8 1.6 2.8 .9 2.5 .6 .1 3.7 2.4 1.2 3 2.1 1.1-.6 1.9 1.5 3.4 .9 1.6-.7 .3 1.4-.4 3-1 2.2-3.2 2.9-1.2 .2-4.2 .8 .1-3.1-3.9-1.9-2.7-1.4-.8-1.1-3.1-.8-.8-1.8-1.2-2.3-1.3-.2-3.5-1.9-3.4-1.6-2.9 .8-2.9-1.6-2.9 1.2-1.5-.1-2.5 .8-1.4 2.1-.2 4-2.4-3.3Z"/>
<path fill="#0d6cfb" stroke="#56646a" stroke-width="1.4" d="M205.7 528l-.2-.9 2.6-1.4 2.1-.8 .3-1 2.7 1.9 3.2-.3 3.8 .9 2 .7 2 1.2 2.4-.3 2.2 1.7 3.8-.3 3.4 1.4 .6 3.5 1.1 1.9 1-.1 .9 2.1 1 1.7 2.4 2.9 .7 3 .3 3.5-3 1.9-3.7 2.6-.3 .8-3.8 .9 0-2-1.7-4.3-1.4-.2-4.3-2.3-.8-2.3-2.6-1.8-3.6-.3-1.3 1.4-3.9 1.1-2.9-1.6-.5-1.6-1.2-1.1-2.3-1.8 .8-3.6-.1-2.4Z"/>
<path fill="#ffffff" stroke="#56646a" stroke-width="0.6" d="M113.2 474.2l1.7-2 1.1-.6 4.8 1.2 2.2 .4-2.3 4.3 .2 1.9-2.3-1.3-3-.4-1.4 .5 .3-1Z"/>
<path fill="#985afc" stroke="#56646a" stroke-width="0.8" d="M88.3 494.1l1.4-.5 3.8-.3 2.2 1.2 .8 1.6 4.9 1.9 .8 1.9-2.6 1.5-1-.5-3.6 1.4-1.6-1.1-.8-3.6-2-2.4Z"/>
<path fill="#985afc" stroke="#56646a" stroke-width="0.8" d="M72.5 468.9l3.2 .3 3-1.2 .6 .3 .3 2.1-.2 2.6-.9-2.9-2.9 1.7Z"/>
<path fill="#985afc" stroke="#56646a" stroke-width="0.8" d="M140.7 551.2l1.8-.4 2.6-.1 2.4-.2 .5 1.5 .7 2.2-3.9 .7-1.4-1.1-2.6-.2Z"/>
<path fill="#985afc" stroke="#56646a" stroke-width="0.8" d="M146.9 525.6l2.2 .1 2.6-.2 1.9 4 .8 1.6 1 2.9-1 .2-1.4-.6-1.1-2.2-2.1-2Z"/>
<path fill="#985afc" stroke="#56646a" stroke-width="0.8" d="M97.4 475.8l1.5-.5 .3 4.6-.8-.3-.8 3.5 1.6-.3-.4 1-2.4-1 .2-3.9 1.3 .8Z"/>
<path fill="#04308a" stroke="#56646a" stroke-width="1.4" d="M381.7 171.3l2.7-1.5 1-2.8 1.2-1.7 2-1.8 2.9 .5 2.7 0 2.3-1.2 2.3-1.8 2.9-.7 2.6-2.1 .8-1.8 3.9 1.4 3.2-2.8 3.5 0 3.2-1.1 2.7 0 1.7 .3-.1-1 4.2-2.3 2.1 .3 3.8 1.3 3.2-.1-.9-3 2.8 0 3.8 .8 1.2 1.1 .8 2.9 1.3 2 0 1.2 1.2 2.2-1.4 3.3 2 1.9 1.4 2.5-.3 2.8 1.9 1.2 .6 1.4 2.8 1.2 .5 1.2 2.8 1.5 1.6 4.5 1.6 1.1 1.1 1.2 2.1-1.4 2 .1 2.2-2 2.9-1.3-.2-.1 2.2-1.1 3.6 .4 2.5 0 1.4 2 .9 1.6-.3 4 1 1.4 2.1 .1 3.4 1.3-1.7 2.2-2.9 1 1.1 2.9 1.9 1.8 .6 .7 2.4 3.5 1.1 2.8 .3-.5 3.7 1.4 2.5 2.7-.2-2.7 1.9-1.5 1.6-.4 1.9 1 3 1.1 2 .4-.3 1.9 1.9 3.9 2.3-.5-1.2 4 1.2 2.1 2.2 .5 .9 2.6 3.1 .9 .8 .4 3.7-.6 2.8 .3 2.9 1.3 2.4-.8 1.3-1.9 1.3-.4 .8 1.1 4.7 2.1 1.9 2.1 .5 1.3 3.7 3.6 .4 2.2-3 2.9 .8 1.4 .1 3.2 .2 2.9 .6 2 .5 2.1-1.4 4.3-1.3 1-1.3 2.8 2.7 1.2 .8 .2 1.1 .2 1.3 3.7 1.5 2.7 .2 2.4 .5 2-1 3.6-1.4 2.7-2.2 2.9-.1 .7-2.1 4.4-2.2 2.3-.1 1.7-1.9 2.6-.5 2.3-1.9 3.1 2.7 4.7-.9 1.5-.5-.4-.2 5.7-.7 2.9-1.4 2.4-.8 1.1-1.6 1.8-3.1-1.3-2.4 1.6 2.3 1.7 .6 3.6 .1 1.5 2 2-.5 1.8 1.7 1.8 .1 1.4-2.1 3.3-1.8 1.9-2.9-1.4-1.2 2.8-1.7 1.5-4.1 2.4-2.3-1.6-1-.8-3.5 0 .7-3-1.1 3.4-2.5 1.4-.7 2 .9 2.2-2.5 2.3-1.7 3.9 .8 2.7-.8 1.5-2.2 2.6-2.9 1.1-.3-.1-1.3 1.8-2 3.3-.3-3.7-3.6-2.8-1.6-1.6-1.3-2.7-.8-2.6-2.4-1.9-.6-1.8-1.2-2.2-3.3-2.6-.7-1.3-.8-3-.6-1.9-.1-.9-.7-3.2-4.4-2.8 2.1-.6-3.9-.4-1.4-1.2-1.5-1.8-1.6 2.8-1.6 3.2-2.6 .7-2.8-1.1-1.6 .3-.6-2.1-4-1.8-1.4-1.2-.2-3-2.4-.7-2 1.6-2.3 1.7-2.7 .6-1 3.4-.9 1.4-3 .4-2 1.6-1.5 2.6-2.3-3.8-2.3 .4-2.1 2-3.7-1.5-3.1-2.5-2.3 0-4.1-1-2.6 3.4 .5 1.6-3.2-.1-1.2 .4-2.5 .6-2.2 .2-2.3-.4-3.1-4.4 .5-1.2-.6-3.6 .1 1.4-3.4-4.2 1.9-3.3-.2-3.6-2.5-.4 2.5-2-1.7-3.8 .9-1.7-.7-4-.2-3.8 .8-2.6-2.7-.7-.2-1.6-.5-.2-.8-3 1.4-1.8 .1-2.2 .1-2.5 .2-4.4 1-1.5-1.3-2.6-.7-1.8 .6-1.1-4.4-4 .7-2.7-1.8-1.3-1.8-2.4-.7-1.1-1.7-1-2.9-3-3-2.3-2.3 .1-.3-3.5-1.4-.3 2.9-1.1-.5-2.4 .9-3.6 2.3-1.6 .9-2.8 1.2-.8 3.9-4.8-.7 .7-1.5-4.8-1.7-1.3 1-1.2 1.5-2.8 .4-2.3-.6-5-1.2-1 1.6-4.1-.2-2.6-1.1-1.8 1.7-3.1-.3-.3 2.1-4.3-.8-3.9 2.9-2.2-1.6-1.2-.5-2-.6-4.4 .9-3.2-.8-.8 .8-1.9-1.2-2.2Z"/>
<path fill="#985afc" stroke="#56646a" stroke-width="1.4" d="M416.6 156.6l3.6-1.1 2.3 1.6 1.5-1.8 .9-1.5 2-1.1 2.3-.4 3.8-.8 2.7 2.2 .6-3.7 1.7 .2 3.6 0 .6 1.6 2.2 4 .4 .7 1.4 2.7-1.1 2.9 1.8 2.6-.8 2.5-1.2 2.3-1.2 1.1-1.3 .1-2.1 .9-3.3 1.2-1.4-.7-.5-1.3-2.3 1.5-1.1 3.9-3.5 1.3-1.8 .2-1.9 1.6-1.1-3.1-.7-3-.7-1.7-2.9-.7 .4-3.9-.7-1.2-.2-2.1 .5-3.2-2.5-3.2Z"/>
<path fill="#0d6cfb" stroke="#56646a" stroke-width="1.4" d="M389.5 165.1l.7-.7 3.5 .4 1.9-.7 2.4-1.9 1.9-.5 4.2-1 1.3-2.2 2.3 .1 4.3-.1 2.7-.9 1.9-1 0 .6 2.5 3.2-.5 3.2 .2 2.1 .7 1.2-.4 3.9-2.3 .1-1.6 3.7-3.6-3.7-.9-2.1-1.5-1.5-1.1-1.2-2.3 1.1-2.6 2-4 1.6-.6-1.3-4.5-3.6-3.8 2.6Z"/>
<path fill="#985afc" stroke="#56646a" stroke-width="1.4" d="M383.1 179.3l1.4-3.3 2.9 .1 3 2 .6 1.2-.7 2.3 1.1 3.3 2.9 1.9-.5 1.9 2.8 2.3 .9-.6 1.8 1.6 2.4 .5 3.3-2 2.4-.3 1.7 2.3 2.6 2.8-.2 .3 2.1 .2 2.1 1.5 .2 .8 2.3 1.6 .2 2.6 2.6 1.3-.4 2.3 1.2 2.3-1.9 3.1-.3 2.2-.3 2.5-2.3 1.1 .3 1.4-.3 2.2-1.6 2.2-2 2.5-2.3 1.4 .4-1.1-2.9-2.1-1.2-1.6-1.8-2-4.9 2.4 1.7-3.7-5 1.3-4.1-.5 .3 .6-4 1.1-1 .5-2.3-.1-2.8-.1-2.6 1.2 1.3-3.9-.8-3.7-.4-2.1 1.9-4.3-.7-3.2-.2-3 .6-.7 1.7-2.3-2.2-4.5 1.5-3.1-.9-1.9-.4-2 1.5-1.3-.2-4.4-1-1.3Z"/>
<path fill="#ff6adb" stroke="#56646a" stroke-width="1.4" d="M417.8 177.2l.7-.4 3.2-.2 2.9 2.5 1.5 .2 1.4 1.2 .2 3 2 0 .8 2.6 1.4 3.1 .9 1 1.3 3.3 2 2.3 1.3 .9-.3 3-.8 1.1-.5 .6-1.9 2.3-.8-2.3-2-1.7-.7-.2-.8-1.8-.6-3.2 .2-1.2-1.8-1.4-1.4-.7-2.9-2.3 1.3-2.3-1.7-3.8-3-1.4-1.4-1.7Z"/>
<path fill="#985afc" stroke="#56646a" stroke-width="1.4" d="M465.4 181l1-2.1 2.7-.6 .9 .1 2.3-.7 2.6-.4 3.2 .4 1.5 1.9 2.3 1.6 .6 2.1 .9 2.8-1.4 .9-.8 .7-1.8 1.8-1.4-1.8-3.8-2.8-.2 3.5 .4 1.2-2.2-1-2-.9-2.8-1-1.9-1.1-.7-2.6Z"/>
<path fill="#f92035" stroke="#56646a" stroke-width="1.4" d="M459.9 189.4l1.8-1.5 1.2 0 .9-.8 3.5 2.1 2 1.4 1.3 1.6 1.5 1 2-2.3 3.6 1.4 1.7-2.8 1.8-1.8 .8-.7 1.4-.9 2.4 1.6-3 1-1.4 3-1.9-.3-2.1 4.3-1.7 .4-1.4-.6-5.8-1.8-1.8 2.6-1.3-2.5-.8 .2-3.6-1.6Z"/>
<path fill="#985afc" stroke="#56646a" stroke-width="1.4" d="M473.4 197.7l2.3-.2 1.6-1.6 2.2-4.5 1.3 .9 2.5 1 1.7 2.3 1.2 .9-.9 1.8 3.8 3.3 .5 1.5 1.1-.1-.9 1.2-1.7 4.1-1.2 .9-.4 1.7-4-.2-1.7-2.2-3 .8-1.2-1.6-2.7-2.9-2.5-.9-.4-1.1 2.4-5.1Z"/>
<path fill="#f92035" stroke="#56646a" stroke-width="1.4" d="M453.5 208.2l2.7 .9 3-1.4 1.6 .6 1.5 2.2 2.3-.4 1.4-2.7 1.2 2.7-.9 1.6-2.5 .7-1.8 1.5-1.7-.1-1.3 .5-.8-2-.8-2.7Z"/>
<path fill="#f92035" stroke="#56646a" stroke-width="1.4" d="M489.3 207.5l3.1 .2 2.5-1.8 .9 0 .4-2.9 3-.1 2.3 1.3 2.3 3.5 .5-.3 2.3 3.1-.8 .6-.4 4.1-3.9-.7-.8 1.5-1.9 .4-1.3-.4-2.8-2.3-.8 .7-2-2.5-2.5-1.3Z"/>
<path fill="#0d6cfb" stroke="#56646a" stroke-width="1.4" d="M506.6 210.5l1.4-1.3 .9-.8-1.1 1.1 4.1 2.4-1.7 4.1 .3 1.9-1.2 1.4-1.1 .7-3.3 1.4-1.9 .4-2.2-2.5 0-1 1.7-3.2 2.9 .1 .4-4.1Z"/>
<path fill="#985afc" stroke="#56646a" stroke-width="1.4" d="M449.2 215.6l2.7 .4 1.7-1 2.1-.3 1.7 .7 3.3 .3 3.9 .3 1.6 4-.8 1.9-1.6 .7-.3 .2-3.1 1.9-.2 1.6-3.3 2.5-2 2-.9-3.1-2-2.4-.4-1.4-1.7-3-.6-1.7Z"/>
<path fill="#0d6cfb" stroke="#56646a" stroke-width="1.4" d="M479.3 229.3l2.1-1.4 3.8 .5 2.4-1 2.3 .5 .7 1.6-2.3 2 0 2.4 1.4 2.6 1.5 2-.4 1.3 2.6 .4 2.6 1.4 2.9-.8 2.6-.4 2.2-1.2 1.9 1.2 1.4 1.5 3.9 2.9 .6 .4-2.3 .8-3.3 2.1-2.3 .8-2 .9-1.2-.4-3.8-1.5-4.1 1.8-2.5 1-4-2.1 .3 2.1-4.4-.6-.8-1.2-2.5-1.8-1.4-.1 1.3-2.4-2.1-2 .4-3.3-.8-2.7 2.1-2.2 1.3-1Z"/>
<path fill="#0d6cfb" stroke="#56646a" stroke-width="1.4" d="M481.3 250.7l4.1-.5 1.5 .9 2.7 .7 .8 2.4-.4 1.7 .9 2.2 2 .9-.1 2.6 1.3 1.6-1.5 4.9-.8 1.5 1.1 2.6 2.1 1.5 1.4-.3-2.8 2.1-1.1 1.6-3.4 1.8-1.8-.7-2.5 1.7-1.9-1.6-3.8 2.2 .2-3.3-1.6-1.8-.1-1.9 .5-2.2-1.6-3.2-.5-3.8 .3-.4-.6-1.9 2.5-3.2 2.5-.6 .9-2.6-.3-2.4Z"/>
<path fill="#f92035" stroke="#56646a" stroke-width="1.4" d="M392.9 241.5l5.3-1.5 2.2 .2 1-2.9 3.2 1.2 .5 .1 5.2-.9 1.9-.3 1.4 .9-.1 2.8 2.6 .8 1.3 .7 2.9 .6 3.2 2 1-.3 2.5 1.7-1.6 2.5-.4 .9-2.7 3.5-1.1 2.3 1.2 .9 2.9 .7 2.2-.2 3.1 .9 .5 .9-.3 5.4-3.8-3.7-1.6 .5-3.4 .4-.5 .8-1.2-1.9-2.6-1-4.5 0-.5-3.4-1.6-.9 .2-2-.2-4.6-1.4-2.5-3.2 1.2-4.5-.1-1-1.7-.4 1-3.5-.3-1.3-3.2Z"/>
<path fill="#0d6cfb" stroke="#56646a" stroke-width="1.4" d="M380.9 222.7l2.6-1.2 2.8 .1 2.3 .1 1-.5 4-1.1-.3-.6 4.1 .5 5-1.3-1.7 3.7 4.9-2.4 1.8 2 1.2 1.6 2.9 2.1-.4 1.1 2.4 3.4 .3 .2-.8 2 .1 1.5-.9 3.5-1.9 .3-5.2 .9-.5-.1-3.2-1.2-1 2.9-2.2-.2-5.3 1.5 2.9 1.5 1.3 3.2 3.5 .3 .4-1 1 1.7 4.5 .1 3.2-1.2 1.4 2.5 .2 4.6-.2 2 1.6 .9 .5 3.4 3.4 .8 1.9 1.1 1.5 1.9-2.2 2.3 0 2-4.9 2 .1-2.9-2.8-.6-1.1-2.1-.5 .2-3.6-3.3-1.1-.9-1.6 1.5-.7 2-3 0-2 2.1-.2 2.3-2.5-1.8-1.9-1.4-.8-2.8 .1-3.7-1.8-3-2.2-.8-2.1-.9-2.1-2.6-3.7-1.2 .2-1.3-1.1-1.9-2.6-1-.4-.1 .9-4.9 .9-1.5 1.1-1.6-.8-1.9 2.9-2.8 1.6-2.6-.9-4.3-.3-.2Z"/>
<path fill="#985afc" stroke="#56646a" stroke-width="1.4" d="M422.1 263.3l.7-1.1 3.5-1.5 .8 .1 2.8 2.7 1.6 2.2 2.6-2.3 1.7 .8 1 1.7 1 2.2-.7 3-2 .8-3.2 1.5-1.1 2.1-1.3-1.7-2.8-.8-.4-1.2-1.3-1.7-2.2-3 .4-1.3Z"/>
<path fill="#f92035" d="M339.5 260.6l1.9-.2 4.9 2.3 1.3-2.1 3.4-2.2 1.7-.5 .9-1.8 2.5-2 2.6-.9 1.9-.2 1.1-.6 3.2-.2 3.3-1.5 2-2.5 1.7-.4 2.7-1 .9-1.4 .6 .4 2.1 1.7 .4 3.2 2.1-.9 1.9 2.5 2.1 2.6 2 .3 3.5 1.4 .4 3.2 .3 2.5 1.1 2.4-.9 1.1 1.2 2.5-.1 3.3 .8 1.4-.4 3.6-1.9 2.2-.1 2.7 .9 4 0 1.2 .4 2.8-.8 2.9-2.6-.6-2.8 .6-1.4 1.6-2.9-1.2-1.9-1.5-1.9 1.1 0-2.2-.4-2.2 .5-3.2-2.4-.5-1.3-2-2-3.1-1.1-1-1.2-1.1-1.7 0-2.2-3.8-.8-2.4-1 .6-.7-2.9-3.3-2.4-4.1 0-2.5-.8-1 .8-4.4-.6-2.1 .8-2.4-2-1.6-1.3-1.2 .6Z"/>
<path fill="none" stroke="#56646a" stroke-width="1.4" d="M339.5 260.6l1.9-.2 4.9 2.3 1.3-2.1 3.4-2.2 1.7-.5 .9-1.8 2.5-2 2.6-.9 1.9-.2 1.1-.6 3.2-.2 3.3-1.5 2-2.5 1.7-.4 2.7-1 .9-1.4 .6 .4 2.1 1.7 .4 3.2 2.1-.9 1.9 2.5 2.1 2.6 2 .3 3.5 1.4 .4 3.2 .3 2.5 1.1 2.4-.9 1.1 1.2 2.5-.1 3.3 .8 1.4-.4 3.6-1.9 2.2-.1 2.7 .9 4 0 1.2 .4 2.8-.8 2.9-2.6-.6-2.8 .6-1.4 1.6-2.9-1.2-1.9-1.5-1.9 1.1 0-2.2-.4-2.2 .5-3.2-2.4-.5-1.3-2-2-3.1-1.1-1-1.2-1.1-1.7 0-2.2-3.8-.8-2.4-1 .6-.7-2.9-3.3-2.4-4.1 0-2.5-.8-1 .8-4.4-.6-2.1 .8-2.4-2-1.6-1.3-1.2 .6"/>
<path fill="#0d6cfb" stroke="#56646a" stroke-width="1.4" d="M403.4 291l2-1.2 2.2-3.9 1.4-.7 4.9-2.3-.3 .2 2.4-.6 3.6-1.8 1.9 .8 2.9-.4 4.4 2.9 .9 .3 .6-.7 4.3 2 2.5 1.1 1.2 .1 2.2 .7 1.7 1.5 2 1.5 1.8 1-.5 3.3-.2 2.8 1.9 1-1 4.5 .6 2.5 .6 3 .7 .2-2.9 2.7-.9 3.1-3.4 2-1.2-.4-3.2 1.3-2.1-1.2-2.9 1.1-3.1-1.3-1.8-5.4 .6 1-1.6-3.7 .4-5-1.2-1.9-1.3 2.3-2-.9-4.1 .9-1.1 2.8-2.7-3-2.6-.2-1.6-1.1-3.5-3.5 0-2.5-.4-2-1.7-1.6Z"/>
<path fill="#0d6cfb" d="M448.8 305.6l1.7-2.9-.5 0 2.5 2.2 3.4 2.1 2 1.9 2.2-1.1 3 1.6 .9-.7 2-2.9 2.9-2.3-.5-2.6 3.2 2.5 3-3.2 1.4 1.3 3.1 3.9-1.8 .9-1.8 3.9-1.5 1.5 0 1.5-.7 2.2-2.1 3.6 1.8 3 .5 2.3-.7-.1-.8 4.4-3.1 2-.2 .7-1.9 .5-.9 .2-5.2-.3 .7 1.2-3.9-1.6 .3-3.7 .3-3-2.2-2.3-1.2-1.2-1.4-2.2 .6-.1-3.6-2.7 .8-1.5-2.8-.9 1.9-4.2-.9-1.8Z"/>
<path fill="none" stroke="#56646a" stroke-width="1.4" d="M448.8 305.6l1.7-2.9-.5 0 2.5 2.2 3.4 2.1 2 1.9 2.2-1.1 3 1.6 .9-.7 2-2.9 2.9-2.3-.5-2.6 3.2 2.5 3-3.2 1.4 1.3 3.1 3.9-1.8 .9-1.8 3.9-1.5 1.5 0 1.5-.7 2.2-2.1 3.6 1.8 3 .5 2.3-.7-.1-.8 4.4-3.1 2-.2 .7 M461.4 332.9l-3.9-1.6 .3-3.7 .3-3-2.2-2.3-1.2-1.2-1.4-2.2 .6-.1-3.6-2.7 .8-1.5-2.8-.9 1.9-4.2-.9-1.8-.5-2.1"/>
<path fill="#ff6adb" stroke="#56646a" stroke-width="1.4" d="M516.4 220.2l.8 .4 3.7-.6 2.8 .3 2.9 1.3 2.4-.8 1.3-1.9 1.3-.4 .8 1.1 4.7 2.1 1.9 2.1 .5 1.3 3.7 3.6 .4 2.2-3 2.9 .8 1.4 .1 3.2 .2 2.9 .6 2 .5 2.1-1.4 4.3-1.3 1-1.3 2.8-2.7-1.2-2.1-.8-2.1 1.2-.6-1.3-1.1-3 0-1.2 .4-4 1.3-.4 1.4-1.6-.2-2.9-.5-2.4 1.6-2.2-1.1-2.6-1.1-.5-4-.8-2.5-1.4-3.1 1-2.9-1.2-1.7-1.8-2.1-1.9 1.4-2.2Z"/>
<path fill="#f92035" stroke="#56646a" stroke-width="1.4" d="M490 255.9l3-2.4 1.3 0 4.8-2.9 2.6 1.9 .5-3.6 3.3-.2 1.1-1.7 4.6 2 .7 .5 3.8-1 2.2 1 1.4 .4 4 1 2.2 0 3.2 .5 3.2 1.3 2.6-1 3.6 2 3.5 1 .3 .2 1.5 .2 .6 3.4 .9 2.9-.7 1.5 .9 2.7-.2 3.5-1.2 3.5-1.3 2-2.1 0-4.4-1.3-1.7 1.7-3.4 1.1-1.8 3-2.3 .5-2.6 1.3-.3 .7-2.2 .9-3.6 .9-1.7 3.9 .1-1.9-3.1-1.4 .1-2.4-1.6-1.4-.4-1.8-3.1-.2-2 .4-1.7-.9-2.2-.5-2.7 .3-3.1-1.6-.4-2.7-1-1.3-2.1-3.3-.1-.9 1.1-4.5 .8-2.5-1.6-2.1-2-.9Z"/>
<path fill="#0d6cfb" stroke="#56646a" stroke-width="1.4" d="M554.6 259.9l1-1.6 2.2-.7 4.8-.5-1.5-2.2 2.8-1.2 2.4-2.2 1.9-2.3 3.1 .4-.2-2.8 1.2-5.1 2-.8 2.2-.7 3.1-.6 1.6-2.2 1 .8 2.3 .4 .1 3.4-.6 2.8-1.3 2.2-1.7 .3 .8 2.5 1.3 4.7-.2 1.5 1.6 1.5-1.3 2.3-1.1 2.2 2.2 3.4 .1 3.9-.4 1.3-.9 1.3-2 1.1-4.4 .6-1.2 1.3-1.7 1.6-2.4-.4-3.7-.3-.4-2-.9-1.1-2.6-3.5-1.8-1.6-4.1 1.8 .7-3.2-.2-1.7-1.4-2.1Z"/>
<path fill="#0d6cfb" d="M584 270.6l2.6 1.1 2.3-.9 2.9 1.2 1.4-.1 2 1.3 1.7 2.1-.5 3.5-.3 3.8-.2 1.1-.9 3.9 1.3 2.1-.1 3.9 .1 2.6-1.1 3.2 .2 2.2-.2 4 1.4 3.3-.3 3.1-.4 2.6 1.9 4.5-2.2 .2-3.3 1.1-2.3-2.8-2.4 1.3-3.1-.5-3.9 1.2-1-.5-2.1 .6-2.9-.6-2.6 2.1-3.8-2.5-2.4 .1-2.1-1.1-2.2 .3-2.6-1-.9 .8 1.1-.7-.1-5.4-.7-1.1 2.6-3.3-.2-4.2 .3 .1 3.2-4.3 1-.6 .8-3.2 2.4-.9-.1 .2 4.6-3.1 1.7-2.9 1.7 .4 1.5-1.4 1-2.4 1.1-1.2-1.3-4 1.7-2.4 1.1-4.1 2.8-.6Z"/>
<path fill="none" stroke="#56646a" stroke-width="1.4" d="M584 270.6l2.6 1.1 2.3-.9 2.9 1.2 1.4-.1 2 1.3 M595.6 319.3l-3.3 1.1-2.3-2.8-2.4 1.3-3.1-.5-3.9 1.2-1-.5-2.1 .6-2.9-.6-2.6 2.1-3.8-2.5-2.4 .1-2.1-1.1-2.2 .3-2.6-1-.9 .8 1.1-.7-.1-5.4-.7-1.1 2.6-3.3-.2-4.2 .3 .1 3.2-4.3 1-.6 .8-3.2 2.4-.9-.1 .2 4.6-3.1 1.7-2.9 1.7 .4 1.5-1.4 1-2.4 1.1-1.2-1.3-4 1.7-2.4 1.1-4.1 2.8-.6-.2-2.1"/>
<path fill="#f92035" stroke="#56646a" stroke-width="1.4" d="M171.2 279.1l1.4-1.3 3.7 1.9 2.8 1.4 1.2-.4 4 2.4 1 .4 3.4 .8 2.7-.8 2.6-1.1 3.2 .6 1.4-.8 3.4 .5 1.8-1.6 2-.5 1.6-.5 2.4 .9-.8 5.8 1.4 1.4 .9 3-.5 2-2.2-.6-4.4 .8-2.4 2.1-1-2.7-1.1-2-1.6-.8-2-.1-1.9 .3-.9 1-2.9 .8-.7-.1-5 1.9-.8 .6-1.8 .6-3.2-.9-1.7 .2-.6-2.2-.9-2.9 1-2.6-.6-.9-3.5-1.3-.6-1.2-2.3-2 1.8-1Z"/>
<path fill="#0d6cfb" stroke="#56646a" stroke-width="1.4" d="M201.1 298l.2-1.1 .5-.8 3.7-3.1 4 1.9 1.5 .2 .8 3.2 1.1 2 0 2 1.2 2 .1 1.6 3.1 3.9 .8 1.7 .7 3.3 1.2 4.2 1.8 2.8 2.7-1 .6 3.6 .8 1.5 1.6 2.9 1.8-1.2 1.9 1.9-.4 2.8 2.7 .7 1.1 2.6-.4 2.6-.7 2.1-3.8 1.8 .2 2-3.2 2.5-.5 .2-1.9 1.8 .2 1.8-2 2.5-3.5 1.4 .2 2.1-2.9 2.3-.4 1-.4 4.2-1.6 2.6-4-.5-.5-3.5-1.2 .1 1.3-3.2 1.6-2.9-.4-3.2-.2-1.6 1.7-4 .2-2 .4-2.9-.6-.7-.7-2.8-.2-3.1-.9-3-.4-.6-1.4-1.1-1.5-3.2-.4-2.6 .8-3.7-.9-2.3 .7-.6-1.4-5.5-1.2-1-1.2-3.3-.4-3-1.1-2-1.1-2.9Z"/>
<path fill="#f92035" stroke="#56646a" stroke-width="1.4" d="M266.7 329.9l2.7-1.6 2.7-3.5 2.9 2 1.7 1.8 2.2-.5 3.4 2.9-.4 1-1.9 1.6-.7 .8-1.4-.7-3-2.4-1.7-.3-1.4-.6-3.4 2.5-.8-2-1-1.6Z"/>
<path fill="#0d6cfb" stroke="#56646a" stroke-width="1.4" d="M238.8 368.3l1.2 1 2.6-3.3 3.8-2.1 3.2-2.8 1.5 1.2 1-3 3.7 .3 2.4-.6 2.7 1.5 2.7-.1 1.6-.3 2.7-1.5 2.8 1.9 2.2 .2 3.7 1.3 2.4 .2 1.4-2 3-1.8 4.1-1.9 .6-.3 2.7-1.5 .9-3.7 1.7 .7 2.7-1 2.7 .8 1.3-.1 4.3 1.4 2-.5 2.7 1 3.1 1.1 .8 2.2 3.8 1.2 2 .3 2.7 1.4 2 2.2 1.5 2.1 2.2-1.6 2.2 3 1.4 2.8-.4 1.6 5.4 2.7 .5 2.4 .3 2.3 3.5 1.7-.5 .6 1.1 5.2-1 1.2 2.3 .5-.7 2 2.1 3.7 2.8 2.1-3.2 2.3-3.4 4.3-.7 .4-2.9 .4 0 1.9-2.7 1.4-3.2-.4-3.4-.5-3.1 .9-.9-.1-1.7-1.4-1.4 .7-5-2.5-2.8 0-.1-5.2-.2-2.3-2.7-.8 2.8-3.5-1.7 .1 2.3-3 1-3.3-1.1-1.1-1-3.7-2.2-.7-.4-2.1-1.7-2.7-4.3 1.9-2.8-1.5-3.8 4.1-.7-1.5-3.6 1.6-2.7-.2-2 1.9-2.9 .8-2.1-1.4-1.1-1.5-4.2 1.4-2.7-2 .6-1.3-1.9 .4-3.8 .5-3.8 3-2 .8-2.4 0-1.2 .8-3.4-1.8-2.2-3.6-4.2 1.9-3-2.7-1.3-.1-1.2-.6-3-3.4Z"/>
<path fill="#f92035" d="M237.9 389.6l.9-1.5 1-2.5 1.1-3.1 1.1-.9 1.2-2.6 1.9-1.8 .7-2.8 2.5 1.8 2.7 1.1 2.8-1.3 2.1 2.9 3.6 2 .8 .1 3.2 .2 1.6-1.4 3.6-2.9 3.6-.9 2.3 .3 .2 1.1 1.5 1.7 4.2-1 .7 0 2.9 2.8 2.9-1.2 2.2-1.6 2.8 .5 3.2-2.5 .9 1.1 3.5-2.7 3.6 1.2 2.6-1.5 2.6 2.3 .6 1.9 2.1 .4 .9 3.4 1.2 1.2-1 3.3-2.3 3 1.7-.1-2.8 3.5-.3-1.3-2.7 2.9-2.9 .3-3-.8-1.6 2.1-2 1.3-3.2-.1-3.7 1.3-1 1.9-1.6 .1-1.5 3-1.4 1-3.2 1.5-2.4-.6-2.1 .9-2.6-.4-1.8 1 .2-3.3-.8-1.9 3-2.7-.3-2.5 1.1-5.4-3-1.3-2.2-.9-1.4-.3-1.9-.7-.9-.3-1.5 2-3.5 2.6-4.2 1.2-.4-.8-3.1 .7-2.9 1.1-.8-.1-1.7 1.1-3.5 .5-1.5-2.4-2.7-1.2-1.1-2.3Z"/>
<path fill="none" stroke="#56646a" stroke-width="1.4" d="M237.9 389.6l.9-1.5 1-2.5 1.1-3.1 1.1-.9 1.2-2.6 1.9-1.8 .7-2.8 2.5 1.8 2.7 1.1 2.8-1.3 2.1 2.9 3.6 2 .8 .1 3.2 .2 1.6-1.4 3.6-2.9 3.6-.9 2.3 .3 .2 1.1 1.5 1.7 4.2-1 .7 0 2.9 2.8 2.9-1.2 2.2-1.6 2.8 .5 3.2-2.5 .9 1.1 3.5-2.7 3.6 1.2 2.6-1.5 2.6 2.3 .6 1.9 2.1 .4 .9 3.4 1.2 1.2-1 3.3-2.3 3 1.7-.1-2.8 3.5-.3-1.3-2.7 2.9-2.9 .3-3-.8-1.6 2.1-2 1.3-3.2-.1-3.7 1.3-1 1.9-1.6 .1-1.5 3-1.4 1 M271.8 407.2l.2-3.3-.8-1.9 3-2.7-.3-2.5 1.1-5.4-3-1.3-2.2-.9-1.4-.3-1.9-.7-.9-.3-1.5 2-3.5 2.6-4.2 1.2-.4-.8-3.1 .7-2.9 1.1-.8-.1-1.7 1.1-3.5 .5-1.5-2.4-2.7-1.2-1.1-2.3-.8-.7"/>
<path fill="#f92035" d="M170.7 405.3l.8-.8 .2-3.1 0-2.1-.7-2.6 3.8-.7 2.8 .2 1.3-4 .7 1.5 2.5 2.2 2.5-.5 2.2 .8 1.7 1.7 .7 4.1 .2 3.1-.7 1.5-3-.2-2.4-1.5-2.2 1.6-1.5 .3-3.7-1-2.1 .5Z"/>
<path fill="none" stroke="#56646a" stroke-width="1.4" d="M170.7 405.3l.8-.8 .2-3.1 0-2.1-.7-2.6 3.8-.7 2.8 .2 1.3-4 .7 1.5 2.5 2.2 2.5-.5 2.2 .8 1.7 1.7 .7 4.1 .2 3.1-.7 1.5"/>
<path fill="#04308a" stroke="#56646a" stroke-width="1.4" d="M308.5 306.7l.2-1.2 4.8-1.6 1.6-1 2.5-1.8 2.2 .2 4.5 2.3 1.7 3.7 2.4-.7 2.3 1.5 2.7-.4 .6 3.4 4.5 1.2 .6 .8 5.4 1.2-1.2-1.5-.2-2 3.2-4.5 3.1 0 2.8 1.1 1.7 .7 .3 2.5-1 2.1 1.4 .3 3.2 3 2-1.5 5.3 2.4 1.3-1.5 .1-3.4-1.4-.9 .3-3.6 2.5-.2 4.4-1.1 1.8-1.7 1.6 1 4.1-1.8 2.5 .9 3.7 .8 2 2.6 1.8 1.5 1.6 1.7 2.3 2.6-.9 .5-.9 2.9 4.1 5-2.2-.8-.5 4-1 2.3-.8 .6-1 1.6-3.3 3.3-1.5 1.2-1.8 .9-1.7 4.9-3.4-.9-1.6 1.8-1.9 1.3-.6 3 1 3.3 .8 1.7 .4 3.4-1.6 2.2-.3 3.8-.1 1.3-.8 3.1-3.4 .8-3.1-.8-1.9 2.5-3.2-.2-1.3 .8-1.4 .8-2.4 .7-4.5 1.8-.5-.1-3.5 2.6-2.3 .5-1.4 .7-1.1 .7-2.6 1-3.5-1.5-2 .4 .6-1.3 .3-3-2.3-3.4 1.3-3-1.2-2-4.6-1.2-1.8-1.8-1.5-2.1-2.7-2-1.6 .9-1.3-.4-2.1-1.5-1.5-4.4-1.3-2.2-1-1.2 .4-3.9-.5-.9-.7-3-2-3.9 .1-1.8-.7-1.5 .2-2.6-1.9-3.4-.3-3.8 1.1-3-.8 .3-2.6-2.6 1.5-3.3-.7-1.6-.1-.9Z"/>
<path fill="#f92035" stroke="#56646a" stroke-width="1.4" d="M315.8 298.3l2.9-2.2 2.8-.9 2.7-1.2 .6-.1 2.9 .2 2.4-.7 2.7-3.1 3.1 0 2.2-.1 2-1.1 1.9-1.5 2-2.1 1.7-1.3 4 2.2 .9 1.4 .1 2.7 .7 1.8-1.5 3.3 0 .3 1.8 2 3.8 3-2.4 .8-1 1.9-4 .9-2.9 .6-1.4 1.3-4.4 2-.3-2.1-3.4-.2-1.6-1.9-2.8 1-5-.7-1.4 .2-.4-.7-5.2-3-1.7-.6Z"/>
<path fill="#f92035" stroke="#56646a" stroke-width="1.4" d="M295.9 300.2l.2-2.8 4.5 .2 3.1 .9-3.4 1.9 2.2 .9-4.7 .7-1.8 .1 .6-1.1Z"/>
<path fill="#0d6cfb" stroke="#56646a" stroke-width="1.4" d="M340.1 378.7l1.6-2.5 2.7-.2 2.4 .3-.2-2.7 2.1-.1 3.8-3 1 .9 3.8-1.7 2.5-1 1.3-.9 1.1-1.1 3.5 0 2.2-1.8 3.1 1.2 2.8-1.4 1.5-3.5 0-1.5 0-3.6 1.6-2.3 1.7-.2 2.5 0 2.6 1.3 1.1 2.9-.5 2.1 0 4.8-.9 3.5-1.5 .1-2 3.2-1.2 3.6-1.9 .7-4 4.8-.1-.8-2.4 1.9-2 2.2-.9 1.2-4.1-1-2.9 1.1-.8 .2-3.5 .1-3-.3-2.9 1.6-2.4-1.9-2.3 .8-1.8 .3-1.7 .2-2.3-.5 1-1.2-1.1-5.2Z"/>
<path fill="#f92035" stroke="#56646a" stroke-width="1.4" d="M384.4 343.6l3.1-1.4 2.5 1.4 1.9-3.1 2-.2 1.9-.7 4.8-1.5-.6 3.5-1.8 1.5 .4 2.9-3.3 1.8-1.8-.2-1.4 0-2.7 1.3-3.5-.7-.9-2.5Z"/>
<path fill="#0d6cfb" stroke="#56646a" stroke-width="1.4" d="M582.1 270.2l2.4 1.2 1.9 .4 2.5 .4 1.8 1.5 3-.7 1.9 1.5 4.2 1.6 2 1.4 1.5-.6 .5 3.2 2.1 3.1 2.5 .6 2.4 2.1 .9 1.4-.6 .8-.5 4.8-3.9 .9-3.4-1.3-.5-1.5-3.4 3-.9-.3 .5 4-2.2 1.3-1.2 2-.1 2.2 .6 3.2-1.9 2.3 .3 3.7-1.9 1.6 2 .7-3.6 5.8-.4 2.7-3.3-1.1-.9-1.3-4.2 2.1-2.2 .1-.6-3.8 2.3-3.2-1.4-1.5 .5-1.4-.8-2.6 1-4.8 .2-2.2 0-3.7-1.2-1.5 1.3-2.5 .7-2.5-1-3.9-1.3-3.7 1.2-1.4 .4-3.4-.9-2.3 .3-5 2.4-1.7Z"/>
<path fill="#04308a" stroke="#56646a" stroke-width="1.4" d="M599.4 294l3.4-3 .5 1.5 3.4 1.3 3.9-.9 .5-4.8 .6-.8-.9-1.4 1.7 1.8 4 1.7 1 2.7 1.4 1.2 .5 3.1 .8 .2-1.2 4.2 2 2.3 2.7 3.9 1.7-.2 .7 2.1 3 .2 2.4 1.3 1.6 1.7 3.1 2.4 .2 2.9 1.4 0-1.5 4.4-.3 .5 1 2-1.3 2.5 .8 2.3-.7 4.4 3.2 2.4-1.2 3-.9-.3-.5 3.1-2.5 2.2-2.1-1-1.1 0-2.3-1.3-3.1 .9-3.9 1.6-3.1 1.1-.2 2.9-3.7-.8-2.1 2.1-2.6-.7-.9-3.8-3.8 .1-1.4-.5-2.9 0-1.1-5.1-.4 1.5-3.7-2.3-1.1-2.3-2.2-2.6-2.8-2.6-.2 0-1-2.9 .2-4.6 1.6-.4 .8-2.7 3.7-6-1.9-.6 1.9-1.5-.3-3.7 1.9-2.3-.6-3.2 .1-2.2 1.2-2 2.2-1.3-.5-4Z"/>
<path fill="#f92035" stroke="#56646a" stroke-width="1.4" d="M619 300.8l3.4-.5 3.7-.7 .8-4.2 1.9 .9 3.6-.5 3.1-.4 3-.6 1.3 1.8 2.8 2.1 1.6 .5 2.5 1.4 .1 2.3 .1 2.2 1.5-.1 .2 4.5 0 1.7 1.6 2.3 0 1.4-.2 2.9 .2 3.7-.7 .1 1.9 1.3 1.5 4.7-1.4 2.7 1.6 .9-2.4 1.7 .4 3.7-2 2.4 1.4 2 1.8 2.5 1 .5 .5 2.6 2.8 2.1 .2 2.3 2.9 .9 .3 1.5 3.9 .7 1.7 0 4.4-.9 .8 .8 0 3.7-.6 2.8-.3 2.1-.7 1.4-1.7 2.4-1.6 2.4-3.8-.2 .3 2.8-2.5 3.6-2.7-1.7-1.2-1.2 .3-4.2 2.3-2.8 .2-1.8-2.5-1.5-1.9-3.2-.9-1.1-.1-1.3-.6-2.7-2.9-.5 .6-2.3-3.6-1-1.8-3-2.4-1.8 1.2-2.4-3.2-2.9-2.1-.6 .9-4.9-3.1-.6 .6-4.6-1.3-2.1 1.3-2.5-1-2 .3-.5 1.5-4.4-1.4 0-.2-2.9-3.1-2.4-1.6-1.7-2.4-1.3-3-.2-.7-2.1-1.7 .2-2.7-3.9Z"/>
<path fill="#f92035" stroke="#56646a" stroke-width="1.4" d="M663.4 323.8l3.6 .5 2.6-.5 1.6-.8 1.1 1 1.5 2.9 1.8 .1 1.4 2.4 .5 1.7 1.3 4.2 .9 .2 1.7 4.1-2.2 1.1-2.8-.1-1.9 2.6 1.4 3 .1 1.6-.9 1.6-.7-1.2-2.6-2.9-1.2-1.3-.6-2.6-.6-3.8-1.7-1.3 .7-1.7-3.5-3.3 .1-2.4 1.2-.9-1.4-1.7Z"/>
<path fill="#04308a" stroke="#56646a" stroke-width="1.4" d="M648.8 306.3l1.9-.2 1.8 .5 4.2 1.1-.3 1.9 .5 1.4 1.3 1.8 2.1 3.5 .2 2.8 1.4 1.2-3.3 1.1-1.1-.2-.8 1.4-3.7-2.1-3-2.7 .2-2.9 0-1.4-1.6-2.3 0-1.7 .3-3.5Z"/>
<path fill="#04308a" stroke="#56646a" stroke-width="1.4" d="M676.9 317.7l1.7 .2 1.3-1.7 2.4-1.2 1.7-1.2 2.1-.3 .2-.4 3.1 2.4 2.8 .8-.6 1.4 1.3 3.2 2 .8 2.4 4.5 1.8-.6 .3 2.1 .4 3.1 1.5 1.1 .3 4.6 1.1 .7-3 1.1-3.3 .5-2.6 2.1-2.3 1.9-1.2 .5-2.8 1.7-2.1 2.8-1.5 .9-3.7 .1-.5-2.5-2.2-1.1-1.8-2.2 2.6-2.9 1.2 .7 1.9-1.2-1.7-4.1-.9-.2-1.3-4.2-.5-1.7-1.4-2.4-.2-2.2 1-2.1-2.1-1.7Z"/>
<path fill="#04308a" stroke="#56646a" stroke-width="1.4" d="M699.4 327.7l3.4-1.2 2.4-.4 1.4-.5 2.2 1.1 3.9-.8 .5 1.9-1.1 4.2 1 2.7-.4 1.2-3.3-.2-1.4 3.1-1.4-.6-1.9 .6-2-1.6-1.1-.7-.3-4.6-1.5-1.1Z"/>
<path fill="#0d6cfb" stroke="#56646a" stroke-width="1.4" d="M680.2 348.8l3.7-.1 1.5-.9 2.1-2.8 2.8-1.7 1.2-.5 2.3-1.9 2.6-2.1 3.3-.5 3-1.1 2 1.6 1.9-.6 1.4 .6 1.4-3.1 3.3 .2 .4-1.2 2.4-1.2 1.7-2.3 3.8 3.5-.3-1.4 4.7 1.5 .7 1.3 4.3-2 1.9-2.1 4.2-.1 0 0 3.4-2.3 1.1 2.1 2.2 2.5 0 .9 2.8 3-.2 .8 2.5 2.8 1.8 1.1 1.6 2.2-2 1.8-1.3 2.4-3.9 2.3 0 2.5-1.3 1.3 2.1 1.5 3.2 1.2 1.4 3.7-.2 1.2 .9 4 .4 1.5 .8 1.8-3.2 3.2 .8 2.5-4.1-.4-1-1.2-2.1 1.1-3.5-1.8-2 3.2-2.8 0-3.2 .3 1.1 4.2-1.5 2.4-2.1 1.2-2.9 .2-1.7 2.4-1.4 2.2-1.6 0-4.1-1.4-2.8 2.6-.1 .6-2.3-2.3-3-2.2-.1-1.5-2.3-1.5-2.1 .7-2.5-3.8-4.3 .6-1.1-1.8-1.3-2.3-2.8-1.9-.6-.5-3.8-1.5-1.6 .6-1.1-2-1.4-1.6-2.6-1.8-1.9-1.3-1.4-.4-3.7-.9-2.7-.1-.6-1.4-.2-4.1 .6-2.8 0-3.7-.8-.8 2.6-.5 2.5-3.3 2.3 1.1 1.2 .2Z"/>
<path fill="#0d6cfb" stroke="#56646a" stroke-width="1.4" d="M663.1 381.1l2.2-1.4-.8-2.9 .9-.4 4.4-1 1.5-2.9 2.7-1.3 1.4-1 3-.4 .4-2.4 1.9 1.3 2.6 1.8 1.4 1.6 1.1 2 1.6-.6 3.8 1.5 .6 .5 2.8 1.9 1.3 2.3 1.1 1.8 4.3-.6 2.5 3.8 2.1-.7 2.3 1.5 .1 1.5 3 2.2 2.3 2.3 2.8-.3 1.4 2.4-2.7 1.4-3.1 2.8-2-.5-3.2-.2-1.7 2.5-2.5 .7-2.2-.1-4.2-1.3-3.3-2.2-.7 .5-1.8 .3-3.9 1.5-3.1-.1-1.7-.6-2 2-4.5 1.2-2.3-.3-1.1-3.1-2.4-3.2-1.9-.9 1.3-.5-1-2-3.5-4.9-.4-2.1-1.3-2.3Z"/>
<path fill="#0d6cfb" stroke="#56646a" stroke-width="1.4" d="M584.6 362.2l1.1-1.8 1.9-2.3 2.3-4.6 1.5-1.3-.2-1.8 2.1-4.1 1.5-.6-1.7-1.6 2.7-4.1 3.9 1.4 .9 2.2 3 .9 1.4 .5 3.8-.1 .9 3.8 2.6 .7 2.1-2.1 3.7 .8 .2-2.9 3.1-1.1 3.9-1.6 3.1-.9 2.3 1.3 1.1 0 2.1 1 2.7-.6 2.2-1 3.3 .4-1.2 2.5 2.5 3.6 .5 1.6-.5 3.4-2.2 2.3-2.1-.4 1.4 3.9-.4 2.6-1.1 1.2-1.3 3.3 .2 2.6 .8 .6 .5 4.3-.5 2.6-2.8 1.8-.2 2.6-.9 2.1 0 3.5 1.7 1 2.8 2.5-.4 1.4-3 1.3-.9 .9-1.9 1.5-5 1.1-1.1-1.5-1.5 .5-4 1.7-2.4 1-2.2 2.3-1.5-2.2-2.6-1.6-.7-.7-2.9-.7-3.3-2.9-1.9 1.1-2-2.1-.4-1-1.6-2-3-2.2-2.2-1-1.4-1.9-.6-2.8-.7 .3-1.5-2.5-1.7-1.8 0-2.5-2-3.2-.6-2.6-1.6-2.9 .4-1.8Z"/>
<path fill="#0d6cfb" d="M560.5 346.4l4.1 0 .1-2.3 3 .4 3.4 0 3.9 2 .4-2.1 1.3 3.7 3.1-1.6 1.6 2.1 3.2 1.8 1.4 2 0 3.1 .5 2.8-1.9 3.9 .5 1.3-.4 1.8 1.6 2.9-2.9 2.5-1.6 4.2-.8 2.1-3.1 .1-1.4 .3-3.3 2.6-4 .2 .3 .3-5.2-1.4-3.3 1.1 0 .7-.1-.4-1.6-3.1 .7-5.2-.7-2.6 .7-1.7-.6-2.7 2.7-3.8-3.8-3.1 1.3-2.3 1-2.5-1-2-.8-2Z"/>
<path fill="none" stroke="#56646a" stroke-width="1.4" d="M560.5 346.4l4.1 0 .1-2.3 3 .4 3.4 0 3.9 2 .4-2.1 1.3 3.7 3.1-1.6 1.6 2.1 3.2 1.8 1.4 2 0 3.1 .5 2.8-1.9 3.9 .5 1.3-.4 1.8 1.6 2.9-2.9 2.5-1.6 4.2-.8 2.1-3.1 .1-1.4 .3-3.3 2.6-4 .2 .3 .3-5.2-1.4-3.3 1.1 0 .7"/>
<path fill="#0d6cfb" stroke="#56646a" stroke-width="1.4" d="M616.9 402.9l2-1 1.6-3.8 2.3-.4 2.7-2.2 1.5-.5 1.1 1.5 5-1.1 1.9-1.5 .9-.9 3-1.3 2.2 1.3 2.7 1.1 1.3 .9 1.1 2.5 2.6 2.1-.5 1.7 2.4 2.5 1.9-.5 3.5-.3 2.7 1.1 3.3-1.8 2.4-.5 2.1-1.8 1.3 .2 2.4-.7 1.1 1.2 0 3.7 .9-.8-1.7 4.4 .7 3.5 .9 .1-1.8 3.1-.5 3.5-1.9 2.2-2 2.6 1.3 2.9 .8 2.9 .7 1.6-2.1 1.7-1.6 1.7-2.5 2.5-2.5 2.2-2.2 .4-2-.2-2.2 1.6-3 .2-4.3 2-1.1-.7-3.8-1.3-2-.1-.1-3.5-.6-2.7-1.3-.5-2.5-2.1-1-2.5-2.6-1.4-1.6-2.5 1.8-1.2-1.6-4.1 0-3.7-.9-1.4-.4-4-4 .5-1.5-2.3-4-3.4 1.2 .7-1.6-.9Z"/>
<path fill="#0d6cfb" stroke="#56646a" stroke-width="1.4" d="M672.3 403.6l1.6-.6 4.2-1.5 1.6-1.1 2-2.1 1.7 .6 3.1 .1 3.9-1.5 1.8-.3 .7-.5 3.3 2.2 4.2 1.3 .5 3.1 .2 .3-1.7 5.5-2.5-.6-1.3 .4-1.5 .9-2 1-1.8 1-2 2.2-3.3 .9 2.1 3-1 1.3 2.8 4.3-2.8 .2-.5 .8-1 2.3-2.4 4-1.4 1.1-2.1 .8-2.4 2.5-2.2 2-.8 1.4-1.5 .4-1.1-1-1.4-.9-3-2.2 .8-2 .2-.8 1.5-1.7-.7-1.6-.8-2.9-1.3-2.9 2-2.6 1.9-2.2 .5-3.5 1.8-3.1-.9-.1-.7-3.5Z"/>
<path fill="#0d6cfb" stroke="#56646a" stroke-width="1.4" d="M676.3 435.2l2.4-2.5 2.1-.8 1.4-1.1 2.4-4 2.1 .2 1.6-.4 2.5-1.2 3 1.8 2.7 .3 2.5-.1 3.7 1 .8 .6 2.9 .1 4.7 2 1.8 .4-.7 2 1 2.3 .8 1.9 .3 2.5-1.9 2.8-.2 .6-1.5 1.7-2.8 2.8-.8 1.4-1.3 3.2-2 .9-1 .6-1.5 .1-1.7-.1-2.9-.9-3.9-2.5-1.8-3.2-1.8-.6-.9-1.6-3.1-.2-2.8 .2-1.5-.5-2.7-3.3-1.9-.5-1.1-.8 .4-2.5Z"/>
<path fill="#0d6cfb" stroke="#56646a" stroke-width="1.4" d="M705.8 452.7l1.3-3.2 .8-1.4 2.8-2.8 1.9-1.4 .9-1.8 3.1-.8 .2-1.6 4.3 2.3 1.8-1.1 2.6-.5 1.2 1.4 4.3-1.7 2 2.1 1.9-3.5 .2 .1 3.5 1.2 2.4 1.9 2.7-.2 2 2.5 .8 2.2-.1 3.1-1.1 1.2 .5 3.9-3.6-1.2-1.4 1.4-2.4-1.1-4.2 1.7-.4-.7-4 1.1-1.5 3.9-1.3 .2-3.3 1.1 .3 .2-2.5 1.7-4.5 .1-1.5-1.6-1.5 0-1.2 .5-1.1-4.5-2.8-1.5Z"/>
<path fill="#04308a" d="M558.4 388.5l3.4-.5 4 1.4 3.2 .9 .5-3.6 3.5-.3 1.1-2.6-.2-2.5 4.8-1.7 .6-1.5 1.2-1 1.8 0 .4-1.9 3.8 .5 1.9 1 2.3 3.1 1.4 .5 1.4 .2 1.7 3.2 .1 1.8 2.4 .8 3.6 2-.3 1.9 2 1.3 1.8 1.4 1.9-1 4 3.9 1.8-.8 .7 2 2.4 1.2 1.3 2.3 0 2.4 1.9 2.5 1.6 .9-1.2-.7 4 3.4 1.5 2.3 4-.5 .4 4 .9 1.4 0 3.7 1.6 4.1-1.8 1.2 1.6 2.5 2.6 1.4 1 2.5 2.5 2.1 1.3 .5 .6 2.7 .1 3.5 2 .1 .1 3.4-1.7 3.1-1.8 1.3-.2 2.8-2.7-.3-1.7 4.6-1.1 .6-1.1 1.7-2.6 2.7-1.2 1.2-1 2.9-1.5-.7-3.2 2.2-4.4-1.4-1.5 2.3-1 2.2-2 .4-.4 2.3-2.5-1.5-3.2 .2-4-2.2 .6 .9-4.6-1.4-1.3-4.3-2.5 .3-1.4-.5-2-2.4-2.4-1.1-1.6-.8-1.8-3 .8-2.8-.9-1.8-1.4-2.5-1.4-3.5-1.4-1-2.2-.3-1.1-2.8-.9-1.9-3.1-1.7-1-1.4 1.4-3.6-1.8-1.2-1.3-2.7-.3-.4-5.4 2.7-.6-.6-2.5 1.2-4.1-.2 1.3-2.3-.2-1.4 2.1-2.8-1.2-3.4-.1-2.1-1.9-3.3 2.5-2 .7-6-2.4-1.2 .6-4.1-1-2.2 .8-4.5-.1-1.7-.9-3.4Z"/>
<path fill="none" stroke="#56646a" stroke-width="1.4" d="M558.4 388.5l3.4-.5 4 1.4 3.2 .9 .5-3.6 3.5-.3 1.1-2.6-.2-2.5 4.8-1.7 .6-1.5 1.2-1 1.8 0 .4-1.9 3.8 .5 1.9 1 2.3 3.1 1.4 .5 1.4 .2 1.7 3.2 .1 1.8 2.4 .8 3.6 2-.3 1.9 2 1.3 1.8 1.4 1.9-1 4 3.9 1.8-.8 .7 2 2.4 1.2 1.3 2.3 0 2.4 1.9 2.5 1.6 .9-1.2-.7 4 3.4 1.5 2.3 4-.5 .4 4 .9 1.4 0 3.7 1.6 4.1-1.8 1.2 1.6 2.5 2.6 1.4 1 2.5 2.5 2.1 1.3 .5 .6 2.7 .1 3.5 2 .1 .1 3.4-1.7 3.1-1.8 1.3-.2 2.8-2.7-.3-1.7 4.6-1.1 .6-1.1 1.7-2.6 2.7-1.2 1.2-1 2.9-1.5-.7-3.2 2.2-4.4-1.4-1.5 2.3-1 2.2-2 .4-.4 2.3-2.5-1.5-3.2 .2-4-2.2 .6 .9-4.6-1.4-1.3-4.3-2.5 .3-1.4-.5-2-2.4-2.4-1.1-1.6-.8-1.8-3 .8-2.8-.9-1.8-1.4-2.5-1.4-3.5-1.4-1-2.2-.3-1.1-2.8-.9-1.9-3.1-1.7-1-1.4 1.4-3.6-1.8-1.2-1.3-2.7-.3-.4-5.4 2.7-.6-.6-2.5 1.2-4.1-.2"/>
<path fill="#04308a" stroke="#56646a" stroke-width="1.4" d="M616.9 475l-.4-3.1 .7-3.6 .2-3.7 4.4 1.4 3.2-2.2 1.5 .7 1-2.9 1.2-1.2 2.6-2.7 1.1-1.7 1.1-.6 1.7-4.6 2.7 .3 .2-2.8 1.8-1.3 1.7-3.1-.1-3.4 3.8 1.3 1.1 .7 4.3-2 3-.2 2.2-1.6 2 .2 2.4 1.2 2.3-.2 .6 1.9 1.2-.1 2.7 2.1 4.5-.5 2.5 .1 1.1-3.1 1.1 .8 1.9 .5 2.7 3.3 1.5 .5 2.8-.2 3.1 .2 .9 1.6 1.8 .6 1.8 3.2 3.9 2.5 2.9 .9 1.7 .1-.9 4.2-1.7 3.1-.8 1.9 .8 4.4 1.8 2.8 1.1-.4-2.6 1.5-3.4 2.2-2.2 1.3-1 1.7-3.3 1.3-3.3-.1-1.9 1.4-3.7 .8-2.9-1.2-1.7 1-1.2 2.4-2.8-.2-2.2 .1-3.6 4.1-1.3 1-1 .4-1.1 2.6-2.6-.8-.1 3.4-4 .9-1.6 .2-1 1.5-3.9 .3-3.6 2.1 .1 2.1-2-1.7-4.1 .1-1.3 2.4-4.2 .9-2.2-.5-2.3 1.3-2.9-1.8-3.5-2.1-.6-2.3-2.5-2.6 .5-3-1.4-1.3 .1-2.6 .2-2.6-1.1-1.8-.4-3.8-1.2-1.8Z"/>
<path fill="#0d6cfb" stroke="#56646a" stroke-width="1.4" d="M704.2 468.6l3.2-.9 2.1-2.6 1.8 2.6 2.6 1 2.4 0 1.1 1.3 .8 3.7 .6 3.7 .2 1-.5 1.9-1.9 1 .2 1.5-5.1-.9-1.1-2.4-.5-1.7-.8 1.6-3.6-5.2-1.4-2.7 .1-1.5Z"/>
<path fill="#04308a" stroke="#56646a" stroke-width="1.4" d="M693.6 484.2l2.3-.5 2.4-2.2 .5-.5 2.5-2.6 5.3 .1 .9 .4 1.7 4 .8 1.3 1.1 1.7-2.3 4.1-1 3.1-2.3 2.9-1.6-.3-2.7 .8-2.8 2.4 .1 .7-3.7-.1-3.1 .1 0-.1-2.2-4.4 2.1-.3 .7-4.8 2-1.6Z"/>
<path fill="#0d6cfb" d="M559.8 434.8l.6-1.3 3.6-1.9 1.2-1.1 .6 .6 5.4-2.7 .3 .4 1.3 2.7 1.8 1.2-1.4 3.6 1 1.4 3.1 1.7 .9 1.9 1.1 2.8 2.2 .3 1.4 1 1.4 3.5 1.4 2.5 .9 1.8-.8 2.8 1.8 3 1.6 .8 2.4 1.1 2 2.4 1.4 .5 2.5-.3 1.3 4.3 4.6 1.4-.6-.9 4 2.2 3.2-.2 2.5 1.5 2.2 2.4 2.2 .8-.7 2.2-2-1.5-3.1 2.7-2.7 2.3-2.5 0-1 1-2.6 2.3-2.9 .8-1.7 1-3 1.9-2.1 .5-2.8 .9-2 2.1-2.8 .4-2.6 1.8 .2 1.9-4.2 2.9 .5 2.2 .1 2.2 1.5 3.9-3.5 .5-2.6 .4-3.3-1.3-2.7-1.2-2.2 0-3.7 1-3.6 .3 1.8-1.1-1-5.2 .7-1 .4-3.7-1.6-5.1 .2-2.7 1.2-3.3-1.7-2.3 1.2-4.3 0-1.7-.3-2 .1-3.9 1-3.8-.1-3.8 .5-1.2-.6-1.4 .1-2.9-.8-2.6 .1-4-2.4-4.9 .3 .1 3.2-4.4-2-2Z"/>
<path fill="none" stroke="#56646a" stroke-width="1.4" d="M559.8 434.8l.6-1.3 3.6-1.9 1.2-1.1 .6 .6 5.4-2.7 .3 .4 1.3 2.7 1.8 1.2-1.4 3.6 1 1.4 3.1 1.7 .9 1.9 1.1 2.8 2.2 .3 1.4 1 1.4 3.5 1.4 2.5 .9 1.8-.8 2.8 1.8 3 1.6 .8 2.4 1.1 2 2.4 1.4 .5 2.5-.3 1.3 4.3 4.6 1.4-.6-.9 4 2.2 3.2-.2 2.5 1.5 2.2 2.4 2.2 .8-.7 2.2-2-1.5-3.1 2.7-2.7 2.3-2.5 0-1 1-2.6 2.3-2.9 .8-1.7 1-3 1.9-2.1 .5-2.8 .9-2 2.1-2.8 .4-2.6 1.8 .2 1.9-4.2 2.9 .5 2.2 .1 2.2 1.5 3.9"/>
<path fill="#f92035" stroke="#56646a" stroke-width="1.4" d="M755.2 385.5l3.2-1.2 2.6 .4 .5 .7 .7 1.6-.9 1.8 0 3.8-3-1.1-2.6-.6 0-1.8 .2-1.8Z"/>
<path fill="#04308a" d="M658.7 478.5l3 2.9 .9-1.7 6.2 1.5 1.8-1.2 .5 2-.9 1.3 .9 1.8-3.4 2.4-4.1 2.6-.9 2.2-.5-2.1 .3-3.2-1.6-1.5-1.5-2Z"/>
<path fill="none" stroke="#56646a" stroke-width="1.4" d="M670.6 480l.5 2-.9 1.3 .9 1.8-3.4 2.4-4.1 2.6-.9 2.2-.5-2.1 .3-3.2-1.6-1.5-1.5-2-.7-5"/>
<path fill="#0d6cfb" stroke="#56646a" stroke-width="1.4" d="M610.3 526.9l1-3 .5-.1 2.6-3.3 1.1-1.5 1.3-2.1 1.3-3 1.1-3-.3-1.7 2.7-2.5 3.5-2.7 .9-.1 4.5 1.6-.6 .7 6-2.3 .5 4.4 2 2-.1 1.6 1.1 1-.3 2.2-.7 3.5-.8 1.6 .9 2.7 1.3 1.3 1.4 1.3 2.7 4.1 2.3-1.8 1.4 2.6 1.9 .5 1.2 2.6 .3 2.8-.1 4.2 .3 .2-4-.1-1.1 .5-2-1.4-2.1-.4-2.5-2.7-2-1.9-3.5 2-1.8-1.7-4.3 1.7-1.5-1.5-.3 1.9-4.1-3.6-1.7 .4-3.7-1-2-.3-.9-1.1-2.6-.3 0-2.2Z"/>
<path fill="#0d6cfb" stroke="#56646a" stroke-width="1.4" d="M652.3 521.4l-.6-1.2 5.7 .3-.9-1.3 5-2.6 1.7-1.5 1.7-1.7 1.3-2.5 1.5-1.4 3.5-.6 .5-2.9 2-2.3 2.2 .1 2.4 .3 3.8-1.8 2.2-.6 2.4 .9 1.7 .8 3.4 .2 1.9 1.9 1.8 2.1 1.1 .4 2.1 2.2 3 2.9-1.2 2.4-2.7 2.6-2 .1 .2 .8-2.9 4.3-1.9 1.8 0 .8-4.2 1.3-1.1 1.5-1.7 2.3-3.1 1.4-.5 2.6-1.2 2.2 .5 3-.6 1.7-1.3 2.9-.6 2.4-.7 .5-1.3 2.3-1 3.3-2.5-.2-2.4 1.7-2.5 3-1.4 2.9-1.9-2-1.8-2.4-2.6-.1 .1-3.5 2.7-1.9-.8-4.6 .8-2.5-1.2-.5-.4-1.1-5.1-1.6-1.5-1.3-3 1.3 .1-4.2-.3-2.8-1.2-2.6 .3-1.9 2-1.3-1.3-2.8Z"/>
<path fill="#0d6cfb" stroke="#56646a" stroke-width="1.4" d="M635.1 554.9l3-3.3 1.4-3.6 1.5-.1 2.8-3.9 1.3-.3 1.5-2 .7-2.7 5.1 2.2-1.5 0 4.3-2.3 2.4 4.7 1.3 .9 2 1.2 .4 .5 .8 4.6-2.7 1.9-.1 3.5-.6 .3-.7 4.4 .1 2.6 1.8 .3-1.9 1.3 1.6 3.9 .1 2.6-.4 2.6-2.3 2.3-2.7-.4 .4 3.2-3.1 2.1-4 1.3-.6 .4-.6 3.7-1.3 3-4-.1-2.5 .4-.2 .1-4-.6 .6-3.8-2.4-2.6-1.8-2.2 1.1-3.9 .9-2.2 0-2.7-.9-.9 2.5-4.5 1-1.1-.2-2.6 1.6-1.3-.7-4.4Z"/>
<path fill="#f92035" stroke="#56646a" stroke-width="1.4" d="M576.4 564.4l-1.4-5 1.5-.5 3.9-.7 1.4-3.6 1.1-2.8 .9-.6 1.9-3.7 .3-2.1-2-.1-1.5-.6-2.4-1 1.9-2.3 1.1-.5 2.9-1.8 2.2-1.1 3.2 .6 2.5 1.3 3.1 0 2.3-.1 2.3-1.6 .9-2.9 3.2-.7 3.2 1.9-.5 1 2.5 .4 2.7 2.1 1.2 1.1 4.7 1.6-3.6 3.1 .2 3.6-1.2 1.1 .4 .3-1.9 5.1 1.8 .3-1.4 3.3 1.9 3.6-.1 3.7-3.3-.7 1 5.1 1.6 1.2 1 .6-2.9-.1-1.8-.9-2.7-1.2-1.5-.1-2.8 .6-1.9-.6-3.5 .3-2 1.8-2.8 0-1.4 .7-4.5-2.6-2.4-1-.7-1.7-3.5-.6-1.8-1.3-2.4-1.8-1-2Z"/>
<path fill="#04308a" stroke="#56646a" stroke-width="1.4" d="M641.7 780l3.4-3 1-1.4-.1-1.3 3.2-1.3 3-1.9 2.3-.3 .2-2.5 4.2-1.2 2.6-.1 2.1-1.7 1.7 .3 3.6-.8 4-1.8 3.2 .4 1.4-.4 4.2-.1 1.5 .3 .7 .4 4.5 1.5 1.6-1.6 2.2 1.7 5.1 .8-1.4-2.8 3.4 3.9 .8 1.1 1.2 1.2 2.6 4.1 1.5 1-.1 2.7 2.9 3.2 .2 .7-.3 2.8 3.1-.9 4.3 .9-.2 3.3 4.7-.1 .9 2.2 2.6-.5 2 1.4-.7 4.5-.4 2.5 0 .9-1.2 2.9 2.7 1.2-.4 1.8 1 1.6-.9 3.9 1.7 2.6-4 3.6 .3 .9-2 1.9-.5 2.4-.6 1-1.4 1.6-.4 .9-2.9-1.6-3.4 .1-1.5 1.6-.4 1.9-2.4 1.9-.2 1.5-2.6 1.1-.9 1.9 .7 2.7-3.1 1.1-1.9 1.6-.9 2.9-2.3-.2-2.1 3.6 .1-.5-3.7 4.1 1 .4-.7 4.4-1 3.5-3.7-1.9-2 2.5-1.3 .2-5.6 2.8 .6 .1-2 .4-4.3-.9-2.3 3.2-1.9 1.6-2 .4-4 .2-1.6 2.7 1.3 3.2-3-4.2-2.6-1.5-.8 2.1-4-1.5-1.1-1.4-3-2.3-2.6 .5-.9 2-2.1 .9-1.3-2.3-2.1-1-.4-2.3-1.8-.8-1.9-3.3-1.9 1.4-4.1-.8-3.1-2.6 .3-2.2-1.5-1.7 .7-2.8 2.1 .3 1.3-2 4.5 .8 2.7-1.9-1.5-2.6-.2-2.9 1.1-3.1-.9-1.5 1.3-3.4-1.3-2 .3-1.3 1.6-3-1.5-2.9-1.2-2.3 .4-3 2.3-2.7 .7-1.4 4.1-1.6-1.5-2 3.5-3.5 .6-.7 1.3-5.1 .4-2.1 .3-1.8 1.5-3-.9-2.9 .1-1.3-1.6-4-1.3-1.2-1.5-1.2Z"/>
<path fill="#0d6cfb" stroke="#56646a" stroke-width="1.4" d="M701.9 760.1l.1-1.3 2.8 .3 3.6 1 .8 1.4 2.5 2.5 .9 1.4 3.3 .5 1.8 3.6 1.8 0 4 .4 .1 2.1 1.5 1.1 4.4 .5 3.5 2.9 .8 .3 3.7 2 1.4-1-.5 2.2 .5 3.7-3 2.2 1 1.9-.8 2.6-3.2 2.4-1.4-.7-.8 2-1.5 3.2-1.2 3.9-.3 .8 .4 2-1.6 1.6-1-1.6 .4-1.8-2.7-1.2 1.2-2.9 0-.9 .4-2.5 .7-4.5-2-1.4-2.6 .5-.9-2.2-4.7 .1 .2-3.3-4.3-.9-3.1 .9 .3-2.8-.2-.7-2.9-3.2 .1-2.7-1.5-1-2.6-4.1 1-.6-1.1-3.4 .9-.6Z"/>
<path fill="#04308a" stroke="#56646a" stroke-width="1.4" d="M738.9 777.8l3-.9 1.3-3.6 3.5-.7 1.1 .1 2 .3 2.9 .4 3.4 3.4 .2 2.7 .4 2.6-1.1 .5-1 .9-2.5 3.1-.8 2.4-2.4 2.1-.5 .6 1.2 2.3-3.1 2.8-1.1 3.5 1.1 .8-2.3 2.2-1.7 2.8-2-.1-3.4 1.9-1.6 1-2.5 1.3-1.7 2.3-.1 1.7-.4-3.2-2-2.2 .6-3-.1-2.3-1.3-2.3 1.2-3.9 1.5-3.2 .8-2 1.4 .7 3.2-2.4 .8-2.6-1-1.9 3-2.2-.5-3.7Z"/>
<path fill="#04308a" stroke="#56646a" stroke-width="1.4" d="M536.9 767.8l2.2-3.3-.6-.4 2.7 .3 .9-.3 3.3 0 2.4-.8 3.7-.1 0-3 .9-3.1 1 1 2.8 1.9 3.3 2.2 2.2 2.2 .1 1.1 2.4-.6 1.7-1.2 3.5-1.8 1.5-2.7 .3-3.6 1.2-1.5 .9-2.8-.6-3.2 .2-1.8-1.6-2.4 1.4-3.7 .9-2.4-.1-1.6 0-.7 2.6-2.6 0-2.9 .9-2.6 2.5-4-.1 .1 1.6-2.7 .8-.9-.2-3.3 .5-3.3 3.2-1.2 4.1 2.4-.1-2.2-.6 3.4-.2 3.2 1 3-.8 2.1-.3 2.3 1.3 2.7-.6 1.8 1.7 2.7-2 2.3-2.5 2.4-.7 .6-3.1 2.7-.3 1.6 .4 3.8-.7 .9-2.3 1.2-2.2 2.8 .8 2.1 1.1 2.4 1.9 2.7 1.6 2.8 .3 2 2.1 .5 2.9-.6 3.9-.6 3.2-.1 2.3 .7 1.6 1.4 2.5 1.3 3 2.2 4.4 1.8 .2-.8 1.1 1.9 3.7 .5 2 .2 .9 2 3.6 3.5 1.6-.3 1.3 2.9 0 .4 .5 3.7-1 4.2 1.8 2.3 .2 1.3 1.4 4-1 .6 2.3 3.3 1.4 2.1 2.3 2.8 2.9 1.2 .1 1.2 2.8 1.6 3.2 1.6-4.1 1.6-.7 1.4-2.3 2.7-.4 3 1.2 2.3 1.5 2.9-1.6 3-.3 1.3 1.3 2-1.3 3.4 .9 1.5-1.1 3.1 .2 2.9 1.5 2.6-2.7 1.9-4.5-.8-1.3 2-2.1-.3-.7 2.8 1.5 1.7-.3 2.2-2.1-.7-1.3 0-2.3-2.2-1.8 .8-2.8 2.3-.1-3-2-5 2-1.8 1.8-1 1.2-2-3.5-.3-2-.6-4.4 1 .4 0-3.3-1.5-4 1-.3 2.1-3.6-1.8-1 2.2-3.8-3.3-1.5-.5-3.4-2.5-1.6 .8-2.6 2.2-1.3 1.8-1.5-.4-2.1-.7-4-1.9-2.8 .7-2.4 .2-1.4 0-3.7-4.2-.2-.9 .1-1.7-4.7 1-.1-.6-3.2-2.4-4-.7-1.9 .4-1-.6-2.8-.1-1.4-2.2-2.8 .4-3.7 2.5 .8-3.2-.3-4.6 1-2.2-1.9-1.2-2-2.4-.9-3 .8-2-1.4-3.2-.3-3.1 .1-2 2.1-2.7 2.6-.9 1.3 .7 .4-1.4 3.2 .3 3.4-.8-1.3-2-1.4-4.4-2.5-1.3 0-4-1.4-.3 .7-3.6-2.5-3.4-3.6-2.4 0-2.8 1.6-3.4-2.1-.3Z"/>
<path fill="#f92035" stroke="#56646a" stroke-width="1.4" d="M541.1 712l2.5-.5 2.5-3.1 1.8-.5 .8-1.5 2.6-1.2 1.9-1.2 2.6 .1 3 1.2 2 1.2 3.6 1 2.4-.3 1.9-.3 2.9 2.1 2.8 0 2.5 .7 1.5-.3 2.6 2.1 2 .9-2.1 .8 .2 4.1 .7 2.6-.8 .9-1.6 2.7 .1-.1-2.5 4-.9 2.6 0 2.9-2.6 2.6 0 .7 .1 1.6-.9 2.4-1.4 3.7 1.6 2.4-.2 1.8 .6 3.2-.9 2.8-1.2 1.5-.3 3.6-1.5 2.7-3.5 1.8-1.7 1.2-.3-3.3-.4-1.5-1.2-2.9-1.2-3-1-1.9-.6-3.8 2.1-1.1 3.1-1.5-.5-2.4 .4-2.8 .7-1.1 .8-3.6-.2-1 .9-3.3-1.3-1.7 1.3-3.7-1.9-2-.2-2.4-3-1.3-1.7-1.5-1.1-3.9-2.1 1.7-2.5-1-3.5-.2-2.8 1-2.7-2.1-2.1-1.1Z"/>
<path fill="#0d6cfb" stroke="#56646a" stroke-width="1.4" d="M525 723.6l.3-2 .9-1 5.6-2.9-.5-2.2 2.2-1.8 5.1 1.7 1.8-1 .2-1.7 4.2 1.3 .7 1.1 2.5 1.6 2.8-1 3.5 .2 2.5 1 2.1-1.7 1.1 3.9 1.7 1.5 3 1.3 .2 2.4 1.9 2-1.3 3.7 1.3 1.7-.9 3.3 .2 1-.8 3.6-.7 1.1-.4 2.8 .5 2.4-3.1 1.5-2.1 1.1 .6 3.8 1 1.9 1.2 3-1 1.8-1.8 3.2-3.3-2.2-2.8-1.9-1-1-.9 3.1 0 3-3.7 .1-2.4 .8-3.3 0-.9 .3-2.7-.3 .6 .4-2.2 3.3-1.5-3.5-2.1-2.7 .6-2-1.7-3.7-1.1-2.9 1.7-.6-1.7-3.8-2.3-1-.5-2.7-.1-3.9 .4-2.6-.1-3.5-1.2-1.2-2.4-2.3 1-2.7 .1-2.3Z"/>
<path fill="#0d6cfb" d="M521.3 697.8l3.6-1.6 1.4-1.6 1.5-.1 4.1-1.5 1.8-2.4 1.9 .5 2 .9 4.5-.1 .2-1.4 4.5-2.8 1.6 1.4 3 1.8 2.1-.9 0 4.6-1.3 1.2 1.6 2.4-2.7 1.4-1.1 3.6-1.4-1.1-3.5 2.3-.1 3.1-1.2 3.2-2.7 1.3-1 1.9-1.6 .6-4.9-.9-2.3 1.9-.1 .9-.9-1.4-2.6 .4-3.5 .6-.5-3.7 .2-3 .2-3.2-2.8-1.8 2.3-4.8Z"/>
<path fill="none" stroke="#56646a" stroke-width="1.4" d="M521.3 697.8l3.6-1.6 1.4-1.6 1.5-.1 4.1-1.5 1.8-2.4 1.9 .5 2 .9 4.5-.1 M553.5 690l0 4.6-1.3 1.2 1.6 2.4-2.7 1.4-1.1 3.6-1.4-1.1-3.5 2.3-.1 3.1-1.2 3.2-2.7 1.3-1 1.9-1.6 .6-4.9-.9-2.3 1.9-.1 .9-.9-1.4-2.6 .4-3.5 .6-.5-3.7 .2-3 .2-3.2-2.8-1.8 2.3-4.8-2.3-1.7"/>
<path fill="#0d6cfb" d="M520.6 741.2l.7 2.6 3.9 .4 .4 1.9 1.9 2.1 3.3 1.3 .9 .9-.1 5.8-1.8 .7-1 2.9-.9 2.5-1 1.5-.5 3.2 .8 1.6-1 6.2-3.8 .9-1.1-1 .2-4.5-2.2 .2 .2-2.3 1.6-2.3 .4-2.7-1.7-4.6 .2-4.3-.2-1.7 .4-3.4-1.1-1.8 1.9-4.8Z"/>
<path fill="none" stroke="#56646a" stroke-width="1.4" d="M520.6 741.2l.7 2.6 3.9 .4 .4 1.9 1.9 2.1 3.3 1.3 .9 .9-.1 5.8-1.8 .7-1 2.9-.9 2.5-1 1.5-.5 3.2 .8 1.6-1 6.2-3.8 .9-1.1-1 .2-4.5"/>
<path fill="#f92035" d="M526 755.4l4.1-4 1.1-1.7 2.2 3.8-2.5-.5 1.3 2.9 1.7 3.7-.6 2 2.1 2.7 1.5 3.5-2.4 3.2 2.1 .3-1.6 3.4 0 2.8 3.6 2.4 2.5 3.4-.7 3.6 1.4 .3 0 4 2.5 1.3 1.4 4.4 1.3 2-3.4 .8-3.2-.3-.4 1.4-1.3-.7-2.6 .9-2.1 2.7-2.2 1.3-2.9 .2-.5 2.6-2.5 2.5-2.5-1.6-2.7 4 0-3.1-.9-3.4 1.4-2-1.5-4.5 .7-2.4-1.3-1.6 2.2-3.4-.2-4.6-1.2-1.1 1.1-2.4-1.5-5.3 1.3-2.3 .2-.8 1.4-.3 4.1-.7 .9-6-.9-1.8 .4-3.2 .2-1.7-.1-2.1 2.3-2.5Z"/>
<path fill="none" stroke="#56646a" stroke-width="1.4" d="M526 755.4l4.1-4 1.1-1.7 2.2 3.8-2.5-.5 1.3 2.9 1.7 3.7-.6 2 2.1 2.7 1.5 3.5-2.4 3.2 2.1 .3-1.6 3.4 0 2.8 3.6 2.4 2.5 3.4-.7 3.6 1.4 .3 0 4 2.5 1.3 1.4 4.4 1.3 2-3.4 .8-3.2-.3-.4 1.4-1.3-.7-2.6 .9-2.1 2.7-2.2 1.3-2.9 .2-.5 2.6-2.5 2.5-2.5-1.6-2.7 4 M520.8 776.6l.2-.8 1.4-.3 4.1-.7 .9-6-.9-1.8 .4-3.2 .2-1.7-.1-2.1 2.3-2.5-3.3-2.1"/>
<path fill="#0d6cfb" d="M583.3 689.5l2.9 2.2 1.6-1.4 3.6 1.5 .4-1.4 4.1 .1 4.2 1.2 1.5-2.1 1.8-.7 2 5.1 2.1 2.3 .6 2.3-1.9 0-3.7 3.9-2 .3 0 1.7-1.3 4.7-4.8-1.1-2.1-.6-2.3-2.1-1.6-2.4-2.3-1-.2-2-2.4-2.1-.5-2.6-.6-3.4Z"/>
<path fill="none" stroke="#56646a" stroke-width="1.4" d="M603.4 688.9l2 5.1 2.1 2.3 .6 2.3-1.9 0-3.7 3.9-2 .3 0 1.7-1.3 4.7-4.8-1.1-2.1-.6-2.3-2.1-1.6-2.4-2.3-1-.2-2-2.4-2.1-.5-2.6-.6-3.4 .9-2.4"/>
<path fill="#04308a" stroke="#56646a" stroke-width="1.4" d="M394.5 846.3l-1.7-2.2 3.5-3.9 2.1-2.9 3.6 1.1 1.4-1.5 3-.2 2.8 .9 .5-1.1 3.3-.4 2.4 2 4.8-1.2 2.2-1.5 1-1.6 2.9 1.6 1.2-.9 5.7 .9 1.5-.2 1.8 .7 4.7 .4-.5-1.8 4.3-.7-1.5-.9 1-3.8 .3-1.9-1-2.3-3-.9-2.3-3.3-1.7-2.5-1.4 .3-3.8-1.8-3-.4-.3-2-3.1-.5-3.1-3.4-1.6-1 .1-1-1.7-.9-1.7-2.5-1.8-3.2-1.6-3.1-.9-.6 1.5-2.8 3-2.7 2.1-.5 2.2-.1 3.3-1.5 2.6-1.7 .3-.1 .7-.4 1.4-4.1 .6-3.5 .6 .8 1.1-.2 1.4 2.7 3.1-.5 1.2 3.8 2.5 1.2 1 2.3 .1 2.4 2.8 3.3-.2 2.6-1.9 2.6 3.5-.2 .6 2.3 3.3 4.4 3.9-1.3 1.5 2.2 1.4 .4 4.5 1.5 2.9-.6 1.1 1.1 2.3-1.7 2.4 0 1.2-2.2 2.1-1 .9-1.1 3-1.9 2.8-1 .5 .5 2.7-.6 1.8 1.4 .5 1.5 .7 2.7-.5 4.7 2.6-.7 .8 3.5 1.4 1.1 1.7 1.2 3.2 3.7 1.9 .6 1.7 1.8 3.2 3.1 .7 2.3-.1 .4 .6 4.7 .5 1.6 1.2 3.2 .8 1.9-.9 2.8 0 2.4-2.2 .5-3.8-1.2-2.1 1.3-2.7 1.8-.3 .3-2.1 .5-3.4 2.4-3 .4-.7 2.3-1.2 .5-1.7 2.5-2.6 2.7-1.1 .2-.7 4.6-1.9 3.5-2 1.2 .1 4 1.5 1-1.8 3.7 1.3 2.2-1.4 2.6 .4 2.5-.1 3.5-.7 1.1 .6 3.7-.5 2.4 .2 2.9 .6 2.6-.1 2 2.1 3 1.4 1.3-.7 3.5 1 1.9 1.4 1.4 3 .8-3.1 .5-2 1.7-.7 .7-3.8-1.4-.8-.8-4.5 0-1.7 .6-1.6-.9-3.1 .1-2.6 2-1.7 .8-.5 2.8-2.3-1.4-2.2 .6-3.3-.6-1.3 1.6-1.9 1.5-2 1.7-3.5 .2-1.3-1.6-2.4-.3-.8-1.7-2.1-2.5-2.7-4.2-2.9 1.5-1.4 2-1.8-1.2-1.5-.6-2.3 2.4-3 1.2-2.4 .6-3.2 1.7-1.4-1.3 .3-1.4-2.2-.5-1.2-4.1-1.3-1-1.1-2.3-1.2 2-4.9-3.2 1.1 1.2-3.4 .8-3.4-3-1.1-3 2.2-1.3 1.7-2.7 3.1 .3 2-3.1 3.1 0 3.1 .9 2.4-2.7 2.1-1.3 2.7-1.2 2.8 1.2-2.5-2.2 .2-1.3-1.9-1.3-3.8 .2-3.5-.3-1.9-1 .9-2.8 .5-3 .4-.9 .8-2.6-.4-2.9 1.6-3.5 .4-2 1.7-5-.3 0-3.3-1-1.5-3.2-1.9-1.2-1.4-1.9-2.6-2.1-.1-2.4-1.3-.8-2.4-1.7-1.1-3-.1 .2-.5-6.6Z"/>
<path fill="#0d6cfb" stroke="#56646a" stroke-width="1.4" d="M470.7 728.8l.4-2.7 .9-1.9 3.4-2.2 1.3-3.3 2.2-3.1 2.1-.6 1.3-1.4 1.4-3.9 2.3-1.2 1-1.6 2.9-.5 2.5 .5 2.8 .6 3.2 1.5 3.3-.6 2.4-.1 2 1.4 3.5 .4 3 3.8-.6 .4 3 1.6 1.3 1.1 2.3 1.3 2 2.1 2.3 2.8 2.1 1.5 1 1.6-.4 2.2-.9 3 2.1 1.8 1.3 1.5-.9 3.3-.7 3.1-1.4 3.3 1.9 1.7-.6 4.7-.7 2.6-.2 .9 1.3 3.1-.5 2.3 .3 2.5 0 2.2-1.4 2.2-.9 2.8-3.4 1.2-2 .4-1.5-.6-4.5 2.1-1.7-.6-.7 .8-3.3 .8-1.8 1.1-2.9-.1-3.5-.2-3.8-.9-1.7-.1-1.9-1-3.5-1-.9-1.8-3.1-2.4-1.3-2.1 .2-2.3-.3-1.5-1.5-1.8-1.8-3.2 .6-.7-.8-3.9-.9-2.8 .3-3-2.2-2.6-.7-.2-.1-3.6-3-3.6-1.4-2.3 .6-2.5Z"/>
<path fill="#0d6cfb" d="M372.3 689.3l4.5 1.6 4.2 .8 3.1-2.1 2.1 1.5 1.8-2.4 2.3-.3 5.3 .2 2.4 2.1 2.2-.9 3 .2 2.2-1.6 1.9 3.1 4.6-1.4 3.7 2.1 1.9-1.2 2.3-.9 2.9-.9 4.9 .8 1.4 1.4 3.5 .8 3-1.6 4.6-.6 1.7 1.7 2.2-3.8 5 1 3.2-.6 1.5 .4 4.9 1.6 2.1-.3 2 .8 4.2-1.9 3.8 .1 1.4 .9 .8 .8 6.3 1.1 3.6-.8 1.8-1.7 1.5 1 2.7-.2 3.4-1.9 4.2 2.2 2.4 .7 3.2-.4 2.8-1.9 3.7 2.1 3.9 .3-.5-.3 4.2-2.5 1 .9 3.9 0 3.5 1.3 3.1-.3 3.7-.3 2.6 1 2 .2 6.1 .9-.1-1.3 5-2.8-1.1 3.8 .2 2.2-.6 3.6 .8 3.6-.7 2.9 .3 3.5 1.4 2.2-2.9 1.1-2.8 .9-1.6 1.1-1.8 .6-4 .3-3 1-.2 1.7-.5 1.2-4.7 2.7-1.9 1.3-.6-.8-4.6-2.6-2.3-1.3-1.3-1.1-3-1.6 .6-.4-3-3.8-3.5-.4-2-1.4-2.4 .1-3.3 .6-3.2-1.5-2.8-.6-2.5-.5 0-1.3 0-3.9-2.4-1.9 1.1-1.1-2.7-.6-3.5 .7-2.8 2.1 .5 2.4-3.1 2.4 .8 3.1-2.3 1.8-2.9 2.8-.4 2-1.4 1.6-1.9 2.4-4.8 1.2-1-3-1.3-.7-2.6-2.2 .2-.5-2.3-.5-1.9-.7-1.4-4.2-.8-2.9-.8-1.3 1.6-2.6 1.5-4.1 .9-1.6-1-1.3-4.4-.9-3-1.3-.1-.6-1.9-.8-3.5 2.8-3.8-1.3-2.2 2.4-2.5-.4-2.5-1.5-1.8 .1-2.9 1.4-4.3-1.5-1.2 .3-2.6 1.9-2.7 .8 .3 3.1-.2 2.4-2.7 .3 .4-1.3-1.6 1.4-1.5-.7-3.1-1.5-5.1-1.9-2.5-2.1-2.2 .3-2-1.7-3.6 1.1-.4 .6-1.6 .1-4.3 2-3.2 3.2-4.1-2.2-2.2 1.5-.5-1.6 .3-4.6-.4-2.8Z"/>
<path fill="none" stroke="#56646a" stroke-width="1.4" d="M547.2 709.8l-2.9 1.1-2.8 .9-1.6 1.1-1.8 .6-4 .3-3 1-.2 1.7-.5 1.2-4.7 2.7-1.9 1.3-.6-.8-4.6-2.6-2.3-1.3-1.3-1.1-3-1.6 .6-.4-3-3.8-3.5-.4-2-1.4-2.4 .1-3.3 .6-3.2-1.5-2.8-.6-2.5-.5 0-1.3 0-3.9-2.4-1.9 1.1-1.1-2.7-.6-3.5 .7-2.8 2.1 .5 2.4-3.1 2.4 .8 3.1-2.3 1.8-2.9 2.8-.4 2-1.4 1.6-1.9 2.4-4.8 1.2-1-3-1.3-.7-2.6-2.2 .2-.5-2.3-.5-1.9-.7-1.4-4.2-.8-2.9-.8-1.3 1.6-2.6 1.5-4.1 .9-1.6-1-1.3-4.4-.9-3-1.3-.1-.6-1.9-.8-3.5 2.8-3.8-1.3-2.2 2.4-2.5-.4-2.5-1.5-1.8 .1-2.9 1.4-4.3-1.5-1.2 .3-2.6 1.9-2.7 .8 .3 3.1-.2 2.4-2.7 .3 .4-1.3-1.6 1.4-1.5-.7-3.1-1.5-5.1-1.9-2.5-2.1-2.2 .3-2-1.7-3.6 1.1-.4 .6-1.6 .1-4.3 2-3.2 3.2-4.1-2.2-2.2 1.5-.5-1.6 .3-4.6-.4-2.8-3.3-2.2"/>
<path fill="#0d6cfb" stroke="#56646a" stroke-width="1.4" d="M415.8 695.9l2.7-.8 2.6-1.9 1.2-.3 5.2 1.6 1.6-3.2 3.3 .6 3.2 1.4 2.8-.6 3.7 .5 3.7-2.3 1.9 .8 .1 .6 3 1.3 4.4 .9 .2 1.2-1.4 4.3-1.2 4.3 .7 1.8-1.1 1.7-.2 2.1-1.9 4.5 1.3 2.5-2.2 2.3-2.9 .6-.4 1.9-1.4 1.9-1 2-.7 .9-2.9 2-.7 2.6-2.5-.1-3.5 1.3-1.9-.6 0 2-2.5-3.1-3.2-1.2-2.6-.6-1.9-3.1 .2-3.1-1.5-3.5-2-.4 .7-2.3 .2-2.7-3-4.1 1.2-2.2-1.5-2.2-2.4-3.5 2.7-.3 .2-2.4Z"/>
<path fill="#0d6cfb" d="M526 726.3l1.2-1.6-.7-3.2-.3-.9 4.9-2.3-.2-1.8 .5-2 3.6-.8 3.7-.6 2.5-.8 2.2-.7 3.8-1.8-.8 2.3-.9 2.5 .4 4.7-.2 2.2-.5 1.6 1.8 3.6-1.4 1.8 .5 5-.1 .6-1.3 2.5 1.4 3.2-.8 3.3 .9 2.7 .3 4.1-1.9 .9-2.3 2.1-.9 1.7-.2 .8-1.3 4.4-2.8 .7-.7-2.3-2.4 .2-2-3.8 0-1.3 .7-1.7-1.8-3-.6 1.9-4.6 3 .7-2.6 .6-4.7-1.9-1.7 1.4-3.3 .7-3.1 .9-3.3-1.3-1.5-2.1-1.8 .9-3Z"/>
<path fill="none" stroke="#56646a" stroke-width="1.4" d="M526 726.3l1.2-1.6-.7-3.2-.3-.9 4.9-2.3-.2-1.8 .5-2 3.6-.8 3.7-.6 2.5-.8 2.2-.7 3.8-1.8 M546.5 749.9l-1.9 .9-2.3 2.1-.9 1.7-.2 .8-1.3 4.4-2.8 .7-.7-2.3-2.4 .2-2-3.8 0-1.3 .7-1.7-1.8-3-.6 1.9-4.6 3 .7-2.6 .6-4.7-1.9-1.7 1.4-3.3 .7-3.1 .9-3.3-1.3-1.5-2.1-1.8 .9-3 .4-2.2"/>
<path fill="#0d6cfb" stroke="#56646a" stroke-width="1.4" d="M350.9 740.3l.9-1.4 2-2.1 1.9 .7 1.3-4.7 0-1.1 3-1.8 .5-2.1 2.2-2 1.3-1.5 1.9-2.5 1.5-1.4 2.5-4 3 0 1.7-.4 2.2 1.7 .1 .3 3.4 1.7 .5 3.5 2.2 .3 1.2 3.4 0 1.7 2.4 1.2 .6 3.5 .9 .9 1.7 1.3 3.6 3.7-.4 1.5 .5 4.8 .8 1.4 .5 2.6-1 1.5-2.9 3.1-1.8 .2 2.2 1.2 1.3 .8 .1 2-1.1 1.9-2.8-.1-2.1 4.1-4.8-2.5-2.7 3.3-1.9-2-2.4 2.4-3.9 1-.8 1.4-2.4-1.9-4.1 .4 .4-1.7-1-1.9-.6-2.4-4-3-.8-1.8-2.3-1.6-1.1-1.7-2-2.1 .3-2.4-.8-3.1Z"/>
<path fill="#f92035" d="M325.2 697.2l3.1-.7 3.1 .1 2-2.5 2-3.3 1.5 .2 1-.4 3.9-.5 2.9-.9 3 .9 1-.2 2.1 1 6.2-2.1 2 1.3 1.4 1.9 3.3-2.9 2.6 1 5.2-2.1 1.2 1.4 0 4.1 1.4 3.5 0 2.5 .1 .6 1.3 3.7-1.7 .9 1.9 2.4-1.1 2.3-.6 4.3-1.1 2.7-3 0-2.5 4-1.5 1.4-1.9 2.5-1.3 1.5-2.2 2-.5 2.1-3 1.8 0 1.1-.4 4-2.8 .4-2.5-1.2-.5-1.1-.5-2.8-.8-2.3-1.3-2.7-1.3-1.9 .1-4-1.2-1.5-2.1-1.9-3.3-2.9-.5-.8-2.6 .7-1.4-3.2-.4-2.7-3.3-3.3-1.9 .3 .1-2.9-1.8-2.3-.3-2.3Z"/>
<path fill="none" stroke="#56646a" stroke-width="1.4" d="M325.2 697.2l3.1-.7 3.1 .1 2-2.5 2-3.3 1.5 .2 1-.4 3.9-.5 M372.7 689.4l0 4.1 1.4 3.5 0 2.5 .1 .6 1.3 3.7-1.7 .9 1.9 2.4-1.1 2.3-.6 4.3-1.1 2.7-3 0-2.5 4-1.5 1.4-1.9 2.5-1.3 1.5-2.2 2-.5 2.1-3 1.8 0 1.1-.4 4-2.8 .4-2.5-1.2-.5-1.1-.5-2.8-.8-2.3-1.3-2.7-1.3-1.9 .1-4-1.2-1.5-2.1-1.9-3.3-2.9-.5-.8-2.6 .7-1.4-3.2-.4-2.7-3.3-3.3-1.9 .3 .1-2.9-1.8-2.3-.3-2.3-3.1-1.2"/>
<path fill="#04308a" stroke="#56646a" stroke-width="1.4" d="M340.1 756.7l2.8-1.6 2.8 0 3.2-.9 .7-1.3 1.8-1.5 .9-1.3 2 2.1 1.1 1.7 2.3 1.6 .8 1.8 4 3 .6 2.4 1 1.9-1 2.3 2.4 1.9-1.1 .3 1 3.3 .5 .7-.5 3.2-2.2 4.2 2 .3 2.3 5.1 1.1 .8-.8 2.9 1.6 4.4-.2 1.7 1.5 2.9-.3 1.3-1.1 4-1.6 .2-1.8 2.3-3.1-2.5-4.3 .3-.4-.5-3.3 .1-3.3 1.2-1.6-2.7-1.5-.2-2-.7-.5-3.1-3.9-.7 .7-3.3-1.2-2.5-1-3-.7-2.5-1.2-1.1-2.6-1.8-.3-3.6 .4-1.5 1.5-1.2-2.4-3.9 1.9-4 2.6-.6 1.9-2.1 1.9-2.2-1.7-2.5-1-1.5Z"/>
<path fill="#f92035" stroke="#56646a" stroke-width="1.4" d="M359.8 776.1l3.3-2.1 2.3-1.6 3-2.5 1.8-2.1 .8-1.4 3.9-1 2.4-2.4 1.9 2 2.7-3.3 4.8 2.5 2.1-4.1 2.8 .1 1.1-1.9 2.3 .3 3.5-2.8-.9-1.3 2.5 0-.2-4.5 1-1.9-1.3-2.2 .4-.2 3-2.6 2.8-2.8 3.5 .7 2.9-.9 1.9-1.5 2.6-.6 2.2-.4 1.5-2 3.3-1.5 2.3-.6 3.6-.7 1.9 .9-.1-1.6 1.7 .1 3.8-.5 3.7 1.5-.9 .3-2.6 5.2-.8 1.8-1.9 1.6-1.3 3.1 1.2 2.2-.9 2.5 2.1 .5 1.7 2.6 1.1 2.9-1.4 2 1.9 5.6-1 1.3 3.1 1.3-2.9 2.1 1.4 3.6-2.6 2.9-1.6 .7-2.6 .2-1.9 4.8-.6 .1 1.1 1-.6-.8-.6 3.5-1.4 4.1-.7 .4-.3 .1-2.6 1.7-3.3 1.5-2.2 .1-2.1 .5-3 2.7-1.5 2.8 1.2 1.7-2.1 2 .5 3-.9 3.6-2.8 1-.1 3.2-2.6-1.9 .1-1.5-3-3.5-1.5-1.7-2.5-2.9-.4 .5-2.2-.1-2.7 .4-2 .7-2.9-.8-.8-.4-3.9-1.2 1.7-2.8-3.1-2.7-.3-1.9-3.6 .5-1.3 1.7-.7 .7-5.6-1.8-.4 .9-1.7-4.7-.2-4.1-1.5-.8-2.4-4.4-1.8-1.3-1.2-2.7Z"/>
<path fill="#ff6adb" stroke="#56646a" stroke-width="1.4" d="M292 798.5l1.3-2.4 2.3-1.7 1.7-3.8 1.6-2.7 2.6 .5 1.7-.4 2-1.8 2.1 .7 2.3-.9 3.8-2.5 2.8-1.2 1 .8 2.4 .5 3.1-1.1 3-.5 3.9 2.6 .7 0 .9 2.5 2.8-1 .3 0 2.3 5.1-1 2.3-.5 2.9-.2 3.2-.5 .9 1.8 3.7-.3 1.2 3.2 .5 .6 1.2 2.5 1 2.2 4.1 3.6 .2 2.5 .9 2.4 1 .8 1.2 2.7 1.6 1.2 3 .5 2.1-1.6 1.3-.1 .9-3.7 1.9-2.1 1.6-4.1-1.5-1.5-.4-1.3-1.4-2.4-1-3.3-2-2.3-2.2-2.5-1.7-2.6-1-.3-2.1 1.8-3.1-.3-.3-.3-2.2-3.3-.3-1.9-.6-2.4 .1-2.5 .8-2.2 2.2-2.2 1-1.7 1.3-2.1 3.6-3 1.8-1.5 .8-.7-1.3-2.8-3.7-1.5-1.9-.1-2.1-4-1.9-2.1-.8-1.3-1.7 .9 0-4.1-3.2 .8-2.8Z"/>
<path fill="#f92035" stroke="#56646a" stroke-width="1.4" d="M376.3 811.2l2-2-.3-3.1 .7-.3 4.2-1.1 1.1-1.2 .9-.2 1.7 3 3.8 3.7-4.4 .8 .5 1.8-3.1 1.7-1.6 .6-3.1 2.5-1.5-4.1Z"/>
<path fill="#f92035" stroke="#56646a" stroke-width="1.4" d="M370.6 816l1.2-.9 4.8 2.2-1.7 2 1.5-.8 1.1 2.4-2.4 3.9 .4 3.4-2.8 .8-1.1-.4-2-1.9-.5-1.5-.3-3.8 1.2-1.9Z"/>
<path fill="#f92035" stroke="#56646a" stroke-width="1.4" d="M292.6 843.4l1.6 .1 4.8-1.2 .9 1 4.5-2.4 2.7 1.9 1.2-1.2 1.2 2.7 4.6-1.9 .5 1.1 3.2 2.1 3.4-.3 3.7 1.3 .6-1.2 2-.7 3.4-.1 1.3-2.3 2.2-1.1 2.4-1.7 2.2-1.8 2.6-1.8 3.5 1 1.8-.6 2.1-2.1 4.1 .7 2-1.5 3-2.2 1.5 1.5 3.1-2.2 .5-2.1 3.7-2.1 2.2 1.6 2.5 3.1 .9-1.8 1.5 2.9 1.5 5-.4 1 2.7 1.4 3.3 .1 .7 1-1.2 5.5-1.4 .2-2.7 .9-1.3-1.8-2.6 1.6-1.9 1-.5 2.3-.4 2.5-3.8 1.2-2.2 2.3-.7 0-2.3 1.3-2.7 1.2-1.7 .4-2.8 1.9 1.1 .7-2.1 3.1-2.9 1.1 1.9 1.8 1.9 1.7-.8 2.9 2.6 3.5 .4 .9 1.5 3 3.5-2.1 1.7 1.1 3.5-2.8 .3-1.1 .4-1.2 4.2-5 2.5 1.6 .2-.9 2.6-.6 5.1-1.4 1.8-.5 1.6-1.4 4.3 .9 2.3 0 1.7 1.9 .4 1.4 5.3-.2-1.1 2.1 2.7 2.1 4 1.4 1.5 0 1.2 .6-1.6 3.5 .4 2.9-.8 2.6-.4 .9-.5 3-.9 2.8 1.9 1 3.5 .3 3.8-.2 1.9 1.3-.2 1.3 2.5 2.2-2.8-1.2-2.7 1.2-2.1 1.3-2.4 2.7-3.1-.9-3.1 0-3.4 1.9-1.6 1.5-3.6 .3 .1-1.6-3.7 .6-1.1-1.8-2.8-1.6-2.5 2.7-1.8 .4-1.5-.9-1.7-2.3-3.2-1.2 .9-.5-3.3-3.5-3.6-.4-2.8 .8-1.3-2.5-1.4-1.4-3.5-.9-2.2-1.1-3.1 .8-2.5 0-2.3-1.1-3.2-.7-2-2.2-2.8-1.1-3.5 .9-1.2-2.6-1.1 .2-2.5-.2-3.3 1.6-.5 2.8 1 1.9-1.3 4.2 .5 .8-3.8 2.2-.8 .1-2.5-.6-2.5 .7-2.9-1.3-3.1-1.5-1.6 1.3-2.3 2.2-1.2 1.2-4.3-1.4-.7 .3-2.8-3-3 1.8-1.7 .4 .9-1.7-1.1-4-.4-3.7-1.4-.8 .1-3.7 1.6-4.1-1.1-1.5 .1-3.3 2.2-1.6-2.4-2.4 2.4-3.4-1.6 .5-1.5-4.5-.1-2.6 .2-4.1 .5-1.8-.1-.2-.2-3.6-.3-2.5Z"/>
<path fill="#04308a" stroke="#56646a" stroke-width="1.4" d="M219.1 656.8l-.1-1.3 1.4-2 1.9 1.4 2.7 2 .7 .5 1 2.8 2.3 2.3 1.6 1.2 .1 1.9 3.6 3.7 1.3 .9 .3 3 2.4 .7 .7 3.4 .3 1.9 1.6 1.1 2.2 3.6 .4-1.5 0 4.4 1 4.1 .1 2.8 1.4 2.3-.5 1.3 1.1 1.4 .2 3.5-.9 1.7-4.2 .1-.1 .4-2.2 3-.3 2.3-3.5-1-1.3 3.1-.5 1.7-2.6 .6-1-.4-2.6 2.3-3.7-.5-2.6 .8-2.9-.3-2.2 .4-4.2 2.4 2.5-3.5-1.8-3.6 2.2-1.6 .1-2.5 .3-2.6 .1-2.3-.1-4.9 0-1.7-.1-2.3 .1-1.6 .4-2.9-.6-2.1 .9-3.6 .3-2.4 .6-2.4-.1-2.4 1.1-1.7-1.2-4.5 2.1-3.3-2.4-.9 2.6-3.9-1.3-1.2Z"/>
<path fill="#04308a" stroke="#56646a" stroke-width="1.4" d="M243.5 682.4l.5 1.3-2.7-4.3-1.5-.1 2.9-.5 2.9-3.9 1-.2 3.1 .3 3.2-1.3 3.5-.1-1 .4 3.3 .9 1.6 2.7-.1 2.6 2.7 3.1-.3 1.8 2 1.6 2.7 .8 .9 .7 3.7 2.9 1.3 .3 2.5-.6 .4 2.7 2.9-1.8 5.4 .8 1.5 .6 3.3 .5-.7 1 4.8 1.9-1.5 1.8-1.5 2.6-.2 .9-2.7 .8-1.3-.9-1.9-2.8-2.8 3.4-2.5 .5 .8 1.8-2.2-1.9-3.9-1.3-4.7 0 .5-2.3-1-1.3-3.2-.7-2.3-.5-2.6 1-2.8 2.7-2.3 0-1.6-.6-2.9-.4-4.1-.6-1.1-1.4 .5-1.3-1.4-2.3-.1-2.8-1-4.1Z"/>
<path fill="#04308a" d="M290.1 701.8l2.8 1.9 2.5 0 2.3 2.3 2.1-1.5 2.9-1.4 3.5-2 2.9-.2 .4 .4 4.4-1.4 3.6-1.2 3.5-1.1 1.5-1.4 1.5 2.1 4.2 1 .7 1.6 2.2 2.3 .4 2.8 3 2.4 1.6 .6 2.7 2.8 2.9 .5-.9 .7 2.9 3.1 1.4 3.3 1.5 1.5 .3 3.9 1.3 3.8 2.3 2.8 0 1.6 2.5 2.1-.1 1.1 1.2 .9 2.2 .7-.2 3.2 .4 2.8 0 2.8-1.3 2.6 0 4.6 .8 1.6-.4 2.2 .8 2.7 0 2.8 .3 4.2-1.3 2.1-.3 4.5 1.1 1.4 .9 2.6-.4 3.2-.7 4.1-.5 2.7-1.4 1.6 1.5 5.1 1.1 1.5-1.2 2.4 .2 3.7 .9 2.1-3.1 .4-3.7-3.1-1.8-.1-1.9-1.6-2.3-1.6-2.7 .5-2.4-2-1.6-1.2-1.8-1.6 1.5-2.2-2.9-4.1 0-2.1 1.7-.9 1.2-3.2 1.6-3.1 3-3.4 .5-1.5-.8-.3-1.6-3.3 .9-3.4 1.2-.5-4.7-3.2-2.5 1.3-1.7-.4-3.2-.2-2.1-.1-3.9-1-1.3 2.1-2.2 1.3-4-.6-3.3 1.1-2.1 .7-.8-.1-3.1 .8-2.3 1.1-3.7-.5-.4 2.2 .6 2.8 .1 3-3.3 .4-2-2.2-2.3-.4-3-1.2-1.7 .7-1.4-1-4.4 .1-2.9-2.5 2.3-2.5 .2-1 1.6-2.6 1-2.7 2.1-1.7 .3-3.7 .5-2.9 .1-2.9-1.1-2.4 .6-1.9 .2-.2 2.6-2.9 2-1.5 2.5-2.5 2-3.6-1-1.9 .7-.5 1.4-2.7 .8-2.3-2.4-1.1 3.1-.9 3.5-1.7 .2 2.7 1.6-2.4-2.8-4-1-1.3-2 .5-1.3-2.5-2.4-2.2-1.3-2-2.3 .9-2.9-2.7 .3-2.9-.7-3.7 3-1.8Z"/>
<path fill="none" stroke="#56646a" stroke-width="1.4" d="M290.1 701.8l2.8 1.9 2.5 0 2.3 2.3 2.1-1.5 2.9-1.4 3.5-2 2.9-.2 .4 .4 4.4-1.4 3.6-1.2 3.5-1.1 1.5-1.4 1.5 2.1 4.2 1 .7 1.6 2.2 2.3 .4 2.8 3 2.4 1.6 .6 2.7 2.8 2.9 .5-.9 .7 2.9 3.1 1.4 3.3 1.5 1.5 .3 3.9 1.3 3.8 2.3 2.8 0 1.6 2.5 2.1-.1 1.1 1.2 .9 2.2 .7 M356.6 804.3l-3.1 .4-3.7-3.1-1.8-.1-1.9-1.6-2.3-1.6-2.7 .5-2.4-2-1.6-1.2-1.8-1.6 1.5-2.2-2.9-4.1 0-2.1 1.7-.9 1.2-3.2 1.6-3.1 3-3.4 .5-1.5-.8-.3-1.6-3.3 .9-3.4 1.2-.5-4.7-3.2-2.5 1.3-1.7-.4-3.2-.2-2.1-.1-3.9-1-1.3 2.1-2.2 1.3-4-.6-3.3 1.1-2.1 .7-.8-.1-3.1 .8-2.3 1.1-3.7-.5-.4 2.2 .6 2.8 .1 3-3.3 .4-2-2.2-2.3-.4-3-1.2-1.7 .7-1.4-1-4.4 .1-2.9-2.5 2.3-2.5 .2-1 1.6-2.6 1-2.7 2.1-1.7 .3-3.7 .5-2.9 .1-2.9-1.1-2.4 .6-1.9 .2-.2 2.6-2.9 2-1.5 2.5-2.5 2-3.6-1-1.9 .7-.5 1.4-2.7 .8-2.3-2.4-1.1 3.1-.9 3.5-1.7 .2 2.7 1.6-2.4-2.8-4-1-1.3-2 .5-1.3-2.5-2.4-2.2-1.3-2-2.3 .9-2.9-2.7 .3-2.9-.7-3.7 3-1.8-1.3-.9"/>
<path fill="#f92035" stroke="#56646a" stroke-width="1.4" d="M222.1 778.7l1.4-.7 4-1.2 1.3 1.4 1.5 .6 .8 2 4.6-.9 2.2 1.4 3-2.1 .2 2.2 3.5 0 .7 2.7 1.6 2.9-1.1 1.8-.1 2.6 1.9 1.9 1.1 2.4 .2 4 .2 1.1 2.8 1.3 3.2 .3 0 .3 4.8-.7 2.1-.6 2.9-2-1.3-1.6 3.2-2.1 2.1-4.6 2.5 .2 2.1-1.9-1.2 4.8 5.3 .2-1.7 4.5-.5 1.5 1.1 1.6-2.1 4.8 1 1.7-.4 2.6-.6 1-2.5 1-.8 4.2 .7 3.9 .2 1.8-6.1 .4-2.7-2-1.6 .9-3.2-1-.1-.6-2.7 .5-2.3 3.2-4.1-.9-1 .2-2.6 1.8-4.9-1.2-1.7 1.7-2.3-.5-3 0-2.4 1-1.7 2.3-3.9-.5-3.1 .4-1.4-2.4-2-2.2-2.3 0-1.3-2-1.4-1.9-1.2-1.5 2.1-.2 1.3-2.5 3.8-1.2 2.4 1.5 .2-.3 4.7-.4 .9-2.5 1.4-3.5 .2-2.3-.9-2.2 .7-2.5-2.2-3.4-.3-1.9-.9-2.8-3.1-2.1-.9 1.2-1.9-.7-5.1-1.3 3.4-1.9 .5-3.4 .9-3.4 1.4-1.6Z"/>
<path fill="#ff6adb" stroke="#56646a" stroke-width="1.4" d="M222.6 828.7l3.1-.4 3.9 .5 1.7-2.3 2.4-1 3 0 2.3 .5 1.7-1.7 4.9 1.2 2.6-1.8 1-.2 4.1 .9 2.3-3.2 2.7-.5 .1 .6 3.2 1 1.6-.9 2.7 2 6.1-.4 1.3 .4 1.3-.8 4 .6 .9 .4 1.3 1.3 4.5 2.1 1 2.5-1.2 2.5-.6 2-1.5 .4-1.9 .8-.2 .2-1.9-3.8-3.5 0-2.8 .7-3.4-3-.7 1.8-4.3 .6-.7-1.8-3.3 1.3-1.1 3.8-1.5 1.9-.4 2.1-2.7 2.1-1.5 2.5 3.8 2.2 2.1 .7 2.3 2.2 2.6-.1-1 .7 2.9 2-3 .8 1.1 4-1.9 2.4 .1-2.4-4.8-1.6-1.8-.3-.6-2.1-1.1-2.7-4-1.2 .5-.5-1.8-2.2-2-2.7-4.2-2.9-1.6-1.6-1.7-2.9 .5-.5-3.4-.4-3.2-.4-2.1-1.2-1.3 .7-2-2.9-1.9-1.7Z"/>
<path fill="#f92035" stroke="#56646a" stroke-width="1.4" d="M201.1 836.2l4.1 1 3.8-1.3 3.4 2.2 .2-1.3 2.4-.5 2.7-1.4 3.2 .1 4.1-1.9 .8 .1 2.5-.5 2.7 .9 1.5 1.4 2.6 2.6 2.6 .6 1 1.7 2 1.8 3.1 2.6 1.1 2 4.4 1.5-1.1 .6 2.1 1.4 2.8 3.9 2.2 .5 .8 .5 5.9 1.6-.5 1.5 5.4-1.6-.7 1.7 .4 3.9 1.4 2.7 1.1 2.8 1.2 1.3-.4 4.1 1.2 1-2.2 2 1.1 5.4 .5 2.5-3-.4-2.3 1.2-1.6 .7-.4-1.1-3 2.1-3.7 .2-2.3 1.1-2.4-.7-2.4-.5-2.1-3-2.9-.1 .5-3.6-.7 .7-3.5-3.6-3.8 0-.6-.5-1.3-1.7-3.1-1.2-2.5 .3-2.6-1.6-2.9-.6-1.6-.9-1.6-1.2-3.7 .2-2.1 .2-1.7 .1-2.2-2-1.5-2.9-4.8 1.3-1.3-1.5-2.2-.2-3-1.6 .5-4.6 2.5-1.4-.6-1 2.1-2.2-2.6-3.3 2.1-1 2-1.4-.2-3.9 0-.8 1.1-1.6-.8-2.4Z"/>
<path fill="#0d6cfb" stroke="#56646a" stroke-width="1.4" d="M261.3 466.6l2.7 .3 .2-2.5 1.5-1.4 2.2 1.9 1.8 .3 3.6 .6 1.3-.8 3.8 1.1 2.6 2.4 2.3-.5 1.4 1.2 1.6 1.9 3.7-.5 2.4 1.7 2.4 .4 3 .2 2.4 1.2-.2 2.6 .5 1.9-1.5 2.6 .7 2.9-.5 2.2-.5 2.7-3 2.3 1.7 4.2-1.5 1-1.7 2.5-.1 1.6-2.4 4.3 .5 2.1-.9-.3-1.5-1.4-4.1-1.5-.4-3.8-2.9-1.9-1.8-2.6-1.1 1.7-3.5-3.4 .1 0-1.9-3.6-2-3.1 .3-1.7-2.4 .7-1-2-1.7-4.8-1.3-1-1.5-1.5 .7-3.7-.7-1.2-2.7-1.4Z"/>
<path fill="#f92035" stroke="#56646a" stroke-width="1.4" d="M243.4 589.5l4.2-1.3 .9 1 4.5-2.4 2.5 1.8 3.3 1.7-.1 3.2 3.4 1.1 2.2 .2 2.5 2.3 1.1-1.7 1.2-2.1 1.6-1.3-.5-3.6-1.6-2.2-.1-2.5 .2 0-1.3-3.5-2.2-5.4 3.6 .2 0-2.5 1.9-1.2 2.3-.7 2.9-1.1 2-2.2 .3-2.2-.9-2.9-1.6-3-2.1-1.4-2.7-2.5-1.4-.1-.3-.5-1-1.9-2-2.2 2.7-2.9 3.6 .4 1.9 .5-.5 2.3 2.1 .7 1.4 1 1.5-1.3 4.3-2.5 0-.2 3.3 .9 2.5 1.1 3.2 .1 1.9-2.4 1.2-1.5 3.9-.7 3.7-1.1 2.4-.2 2.2-.6 2.1 1.4 2.3 1.7 1.6 0 2.4 1.7 2 2.3 1.4 1.9 1.3 2.3 2.4 .2 .6 1.8 3.2 3.5-.7 .6-1.6 3.6 1.4 .5-2 2.9-3.7 1.2-2.2 .9-.2-.6-1.8-1.8-1.3-2.3-.9-2.1-1.7-1.5-3.9-1.1-2.8-1.7-2-1-2.2-1.4-3.4-1.7-.5 .1-1.3 2.1-2.4 .8-4.2 .6-1.2 2.4 1 .8-1 2.8-.1 1.5 1.3 2.5 .9 2.7-.4 1 .1 2.2 2 3.7-1.4 2.9 2.3-.4 2.6 2.5 3.5 2.3-1.3 2.6-1.7 2.9 .5 1.3-.1 2.2 1.5 1.3-1.2 1.3 1.2 3.3 .7 1.5-2.1 2.9-1.8 1.2-2 .1-1.3 3-.5-1-3 2.6-.7 1.6-1.9 1-2.7 2.8-2.1-1.9-.7-2.5-.3-.5-2.9-1.9-3.2-3.4-2.9 1.1-.9-1.7-3.5 .5-2.4-2.4-3.9-.1-3.7-.1-2.2-1.3-1.2-3.3-1.9-.4-2.3-4.2-1.8-2.3-1.8-1.8Z"/>
<path fill="#04308a" stroke="#56646a" stroke-width="1.4" d="M279.7 619.1l2-1.3 1-1.4 2.2-3.5 2.4-.6 1.1-1.3 2.6-1.7 1.7 .8 2.7-1 .9-.9 2.6-.5 3.6 1.6 1 .3 3.2-.5 1.3 1.2 2.1-.9 4.2-1.5 .7 1.2 3.9-2.6 1 .6 3.4-1.7 2.3 .3 2.2-1 2.5 0 3.3-1.5-.4 3 1.3 2.5 1 3.3 5.3 1.7 .6 .8 2.3-.5-.8 5-2 1-1.9 1.2-1 .9-3.9 1.7-2.5 1.8-1.6 1.7 1.3 4-4.2-.2-2.2 2.4 .4 2.2-.2 3.3-2.9 1.7-1.1 1.4-.3 3.5-.1 0-2.6 2.5-2.6 3.2 1.3 3.1-1.1 1.9-3.9-2.9-2.1-2.1-1.3-1.4-.7-3.1 .6-1.9-1.5-1.9-1.6-3.3-2.5-3.3-2 1.3-1.1 1.5-4-.8-1.9 2.3-2.6 1.4-1.6 1.5-.9 2.6-1.7-1.8-1.5-.5-.7-2.3-1.4-2.5-1.2-4.1-2.8-3.5 1.7-.2-1.7-3.6 .3-3.2 1.7-.6Z"/>
<path fill="#f92035" d="M335.7 595l4.4-2.4 2.7-.4 1-2.4-.6-1 3.6-.9 1.2-2.1 3.5-.1 3 .5 1.1-1.3 .2 2.7-.3 2.1 1 3 .9 4-.6 1.8-1.3 2.7-.9 4.4 1.8 2.9 .3 1.5-1.6 3.5 .9 3.2 .8 2.2-1.9 3.2 .7 4.1 .9 2.2-.7 1.6 0 1.9 .8 5-1.1 2.8 1.1 3.1-1.9 2.9 2.4 3.2-1.4 2.9-.5 2.4-1.4-1.1-1.3-2-2.1-1.4-1.2 .3-1-2.6-3.3-2.9-2.5-.9-2.4 .1-2.8-1-.9-1.5-2.1-.6-2.8-.2-3-2.5-.4-2 2.3-2.4 2.6-2.7 2.3-.9 1.5-2.8 2.2-3.3 .1-2.6 1.9-1.2 2-1 .8-5-2.3 .5-.6-.8-5.3-1.7 .8-4.3 .6-1.9 0-3.3-.8-3.9 2.4-.6Z"/>
<path fill="none" stroke="#56646a" stroke-width="1.4" d="M335.7 595l4.4-2.4 2.7-.4 1-2.4-.6-1 3.6-.9 1.2-2.1 3.5-.1 3 .5 1.1-1.3 M355.2 654.2l-1.4-1.1-1.3-2-2.1-1.4-1.2 .3-1-2.6-3.3-2.9-2.5-.9-2.4 .1-2.8-1-.9-1.5-2.1-.6-2.8-.2-3-2.5-.4-2 2.3-2.4 2.6-2.7 2.3-.9 1.5-2.8 2.2-3.3 .1-2.6 1.9-1.2 2-1 .8-5-2.3 .5-.6-.8-5.3-1.7 .8-4.3 .6-1.9 0-3.3-.8-3.9 2.4-.6-2.8-3"/>
<path fill="#ff6adb" stroke="#56646a" stroke-width="0.8" d="M214.8 596.2l-.2-.4 4.8-3.3 2.3 .5 2.2 2.5 1 3.2 1.4 2-1 .7-2.1 .5-1.6 1.8-3.9 1.4-2.3-2.4-.2-3.7Z"/>
<path fill="#ff6adb" stroke="#56646a" stroke-width="0.8" d="M194.1 594.1l-.7 1.1 3.7 .1 4.1 1.2-1 1 2.5 1.6 3.7 .3 1.5-.5 3.9 .8-3.7 3.9-.3-1.4-.2-.5-4.5 .7-.9-.8-3-1.4-2.6-2.6-3.4-1.1Z"/>
<path fill="#ffffff" stroke="#56646a" stroke-width="0.8" d="M215.8 605.9l4.3-2.2 1.9 1.5-.6 2.2 .1 3.1 .4 1.4-.2 2.9-.7 3.6-.9 4 1.2-.2-.1 2.1-.8 3.4-1.3 1.7-1.6 1-.6 2-.5-3 1.6-3.1 .4-2.5 1.9-2.3-3-4.8-.5 .7 .6-4.5 1.1-4 0-3.3Z"/>
<path fill="#985afc" stroke="#56646a" stroke-width="0.8" d="M200 614.3l2.8-2.2 3.9-2.2 1 3.2 1.5 3.1 1.1 .7 .6 4.7 .5 2.2 2.2 2 .2 .6-.6 1.4 1.1 4.3-1.8-3.1-2.2 1.8-1.2-3.8-.4-2.5-1.9-1-1.6-1.6-.9-1.9-.7-1.6 .1-.7Z"/>
<path fill="#985afc" stroke="#56646a" stroke-width="0.8" d="M146.9 525.3l2.5 .5 1.8 1.3 2.3 2.6 1.3 .7 1.7 2.4-4.3 .8 .6-.4-1.5-1.7-2.5-1.9Z"/>
<path fill="#985afc" stroke="#56646a" stroke-width="0.8" d="M140.5 551.5l2.1-.8 2.9-.3 1.6 .5 1.5 2.5-2.8 .4-2 1.2-2.6-1.3Z"/>
<path fill="#0d6cfb" d="M310.6 387.6l.9 .1 1.3-2.8 3-4.2 3.6-.2 1.2-.4 3.7 1.8 2-3.4 1.8 2.1 2.4-.6 2.5 1.1 4.2-2.3 2.1 .3 1.1 3.1 1.4 1.7 1.9 .2 .7 1.8-.6 1.8 .9 1.8-.8 4-.6 .7-.3 3.1-2.4 4.2 .8 .5-2.4 2.5-.5 2.4-.3 3.7-1.4 1.3-.9 4.7-.1 2.5-2 1.8-.2-2.2-2-2.5-.7 .2-2.6-2.6-1.7-1.9-1.2 .1-2-1.9-4.2-1.2-2.5-4.1 .5-2.2-3.1-1.1-1.6-.7 0-5.6-1.8-2 .2-2.9Z"/>
<path fill="none" stroke="#56646a" stroke-width="1.4" d="M310.6 387.6l.9 .1 1.3-2.8 3-4.2 3.6-.2 1.2-.4 3.7 1.8 2-3.4 M339.3 379.1l1.1 3.1 1.4 1.7 1.9 .2 .7 1.8-.6 1.8 .9 1.8-.8 4-.6 .7-.3 3.1-2.4 4.2 .8 .5-2.4 2.5-.5 2.4-.3 3.7-1.4 1.3-.9 4.7-.1 2.5-2 1.8-.2-2.2-2-2.5-.7 .2-2.6-2.6-1.7-1.9-1.2 .1-2-1.9-4.2-1.2-2.5-4.1 .5-2.2-3.1-1.1-1.6-.7 0-5.6-1.8-2 .2-2.9-.3-2.7"/>
<path fill="#0d6cfb" d="M339.9 378.4l4.8 1.6 1.8 1.8 1.5-2.3 3.8-.1 2.7 .5 4.2 1.7 2.1-3.2 1.7 1.8 5-1.1 1.6 2 2.1-2.2 1.4 2.3 2.7-1.4 2.3 1.5-4 3.8-2.4 .8-1.6 1-4.2 1.3-.9 .7-3.9 2.2-2.4-.5-3.3-.4-1.9-2.1-3.8-.1-1.9-1.7-1-1.2-2.4-.8-1.5-2.3Z"/>
<path fill="none" stroke="#56646a" stroke-width="1.4" d="M375.3 379.8l2.3 1.5-4 3.8-2.4 .8-1.6 1-4.2 1.3-.9 .7-3.9 2.2-2.4-.5-3.3-.4-1.9-2.1-3.8-.1-1.9-1.7-1-1.2-2.4-.8-1.5-2.3-2.5-3.6"/>
<path fill="#04308a" stroke="#56646a" stroke-width="1.4" d="M407.9 397.9l2.6-.9 3.4-2.3 1.3-1.7 4.1 1 1.9-.5 1.9-.5 3.3-1.7 2.9-4-1.3 .6 4.8-2.2 1.5-1.3 2.6-.8 2 .2-.7 2.6 1.8 5.1-1.5 .7 1.6 4.1-.7 1.4 2 2.7-3.2 .1-1.4 2.9-2.2 2.3-2.5-1.8-3 .9-3.9 .6-3 .9-1.4 .2-3.8 1-.8 2.2-3.5-.2-2-.5 .3-.4-.7-1.8-2-1.5 .1-1.4 .3-3.5Z"/>
<path fill="#f92035" d="M435.3 379.4l3.9 1.9 .6-3.3 4.1 .1 1.7 1.3 1.1 .5 1.4 1.3 1 5-3.8 1.7-.3-1.3-2.5 1.1-2.6-1.7 1.1-3.9-1.6 .7-2.4 .9-.2-.6Z"/>
<path fill="none" stroke="#56646a" stroke-width="1.4" d="M446.7 379.9l1.4 1.3 1 5-3.8 1.7-.3-1.3-2.5 1.1-2.6-1.7 1.1-3.9-1.6 .7-2.4 .9-.2-.6-1.5-3.7"/>
<path fill="#0d6cfb" d="M453.2 379.8l3.6 1.1 3.5 .1 1.3-3 4.6 .9 2.6 .1 4.4-.9 1.7 3.3 1.4-.2 3.5-1.7 2.4-1.1 5.1-.2 1.1 3 3.8 .2 .7-.7 6.5 .6 1.9-1-2.5 1.2-1.7 2.4-.9 2.4-.8 .2 .9 5.7 .1 1.1-2.6 1.4-1.1 1.8-2 1.9-.5 3-2.8-1.6-.4 4-3.6-3-2.9 3.3-3.7-1.5-1.9-2.2-.4 1-3.2-3-2.3 1.6-2-.2-3.4 .9-1.5-1.3 1-1.6-.7-5.2-2.9-2-1.9-1.6 1.1 .6-1.5-4-.1-3.4Z"/>
<path fill="none" stroke="#56646a" stroke-width="1.4" d="M501.3 380.3l-2.5 1.2-1.7 2.4-.9 2.4-.8 .2 .9 5.7 .1 1.1-2.6 1.4-1.1 1.8-2 1.9-.5 3-2.8-1.6-.4 4-3.6-3-2.9 3.3-3.7-1.5-1.9-2.2-.4 1-3.2-3-2.3 1.6-2-.2-3.4 .9-1.5-1.3 1-1.6-.7-5.2-2.9-2-1.9-1.6 1.1 .6-1.5-4-.1-3.4-3.9-2.4"/>
<path fill="#04308a" d="M501.3 380.3l2.7-1.2 3.5 1.3 1-.2 4.3 1.4 1.5-1.9 4.6-1.4 3.1 2.1 .9 1 4.1-2.5 3.8 .4 3 1.4 1.9-.9 3.6 1.2 3.7-2.2 3.3 2.2 3.7-2.3 1.9 1.7 3.4 2 2.7-1.1 4.2 .5-.3-2.8 4.4 0 .2 3.5-.5 4 .8 2.9-2.1 .8 3.2 6.1-2.7 1.1 1.7 4.3-1.9 3.1 .5 1.9 1.6 2.8-1.6 .9-.4 6.7 .2 .7-.2 3.7 1 2.6 .4 2.7-1.5 2.8 2.4 3.4-.9 1.7-1.8-.5-3.6 .2-1.2-2-1.1-2.1 .4 0 .5-2.2-2.9-3.4-.9-1.1-2.4-3.4-1.2-1.8-1.5-.7-3.6-1-.7-3.2-2.8-2.7-2.7-.2-2.4-2.1-3 1-.1 1.1-4.6 1-1.6 .1-3.8-.9-.8 .8-3.9 1.2-2 .1-2.2 .2-4.2 .8-.9 .9-2 1.8-1.7 1.8-3-2.4-.7-1.5-.7-4.6 .2-2.6-2.4-.7-2.1-1.4-1.9-1.1 .2-3.3-2.9-3.1-.7-3 2.6-1.4-.1-1.1-.9-5.7 .8-.2 .9-2.4 1.7-2.4Z"/>
<path fill="none" stroke="#56646a" stroke-width="1.4" d="M566.5 434.7l-1.8-.5-3.6 .2-1.2-2-1.1-2.1 .4 0 .5-2.2-2.9-3.4-.9-1.1-2.4-3.4-1.2-1.8-1.5-.7-3.6-1-.7-3.2-2.8-2.7-2.7-.2-2.4-2.1-3 1-.1 1.1-4.6 1-1.6 .1-3.8-.9-.8 .8-3.9 1.2-2 .1-2.2 .2-4.2 .8-.9 .9-2 1.8-1.7 1.8-3-2.4-.7-1.5-.7-4.6 .2-2.6-2.4-.7-2.1-1.4-1.9-1.1 .2-3.3-2.9-3.1-.7-3 2.6-1.4-.1-1.1-.9-5.7 .8-.2 .9-2.4 1.7-2.4 2.5-1.2"/>
<path fill="#0d6cfb" stroke="#56646a" stroke-width="1.4" d="M508.7 418.2l3-2.8 .7-1.5 4.2-.8 2.2-.2 2-.1 3.9-1.2 .8-.8 3.8 .9 1.6-.1 4.6-1 .1-1.1 3-1 2.4 2.1 2.7 .2 2.8 2.7 .7 3.2 3.6 1 1.5 .7 1.2 1.8 2.4 3.4 .9 1.1 2.9 3.4 0 2-.4-.3 .2 1.8 1.1 3.1 2.6 2.8 .9 3.6-2.1 .7-1.6-1.2-4.4 1.1 0-2.2-2.9 2.4-5.3-1.7-.3 2-4.3 1.7-2.5-1.8-1.5 .7-3.7 .2-1.1-.3-2.4 1.6-2.8-.6-1.1-2.2-2.1-1.9-2.6-1.1-.8-3.5-.3-1.9-2.1-1.3-1.8-3.9-1.6-1.4-1.7-1.8-1-2.1-1.1-.5-1.1-1.3Z"/>
<path fill="#04308a" stroke="#56646a" stroke-width="1.4" d="M442.9 426.8l3.4 .2 .9-1.3 1.1-1.1 3.3 0 2.1-.7 2.1-.5 2.5-1.9 4.7-.8 2.9-.4 .7 .6 3.2-2.3 1.5-1.3-.6-.4 2.7-1.3 1.6-4.1 1.8-.4 1.9-3.1 2.5 0 2.3-1.3 2-3.2 1.2 .6 3.1-1.2 2.1-.2 3.4 .6 2.4 .9 1.3 1 3.3 .6 .8 1.7 .3 2.2 .4 4.5 1.1 1.6 2.9 2.6-.7-.5 .9 4.4-1.3 .8-1.9 1.1-.6 1.7-.8 3.3-2.1-.8-3.1 .8-2.5 1.6 2.2 2-.6 4.2 1.1 2.3 .7 2-.1 3.1 3 .6 3.3 1.2 1.6-.2-.6 2.2 1.4 2.7 4.2 3.2-1.3 .3 1.4 1-1.9 5.5 3.8 1.8-2.6 1.3-.3 2.2-1.5 3.2-4.2 2.6-.3 1.5-1.4 .9-1 .3-1.9 3.9-3 .2-2.5 1.1-1 2.7-2.8-.4-1.5-1-1.3-1.1-4.1 .1 .2-2.1-6.1-.5-1-2.7-2.5 .7-1.8-2.5-3.4-1.3-3.1-.8-2.2-.5-.5-4.3-.6 .4-.2-4.2-.3-1.4 .5-4.6-1.3 .8-.9-.6-2.7 1.1-2.7-2.4-1.7-1.5-2-.2-1.6-2.1-.2-1.8-.9-2.7 .5-3.5-2.7-.8-1-2.7-.7-1.9-2.1-3.3 2.1-1.8-.9-3.6Z"/>
<path fill="#04308a" stroke="#56646a" stroke-width="1.4" d="M365.7 501.7l2.4-1.4 .7-3 3.6-1.4-.2-3.9 1.7-1 1 1.1 3.7-.6 1.7-3.2 .2-3.9-1.4-.8-2.1-2 .4-2.6-.8-.3-2.9-2.4-.8-1.5 .8-1.3 1.9-1.7 2.9-1.5 0-3.8 3-.7 1.1-1.4 1.7-3 2.4 .1 3.1 1.5 .5 .8 2.6-.3 1.2 1.1 2.2-.4 1.7-2.7 2.3-1.7-1.4-4.6 .4-.3 1.9-.6 4.1-3.1 3.1 .2 2.1-.2 .8-.5 2.2-.5 1.7 .3 2.7 1.6 2.4 1 3.2 .3 3.8 1.2 1.7-.3 3.2 0 .8 .4 4 1 3.2 .5 2.3-.9 .2-.4 4.7-.8 2.5 1.3 2.3-1.8 2 .2 1.7 1.5 2.7 2.4 2.3 .4 1.8 4.1 1.7 .7 1.4 2.7-.9 1-.3 3.9 1.7 2.4-1.6 1-1.8 2.6-2.3-.3-2.6-.3-2.9 1.7-1.8 1.5-.9 1.4-2.6 .8 .1-1.2-2-2-1.5-.3-2.8-1.3-1.1-.9-3.3-1.9-2.3-.2-3.1-1.1-2.2-.5-1.7 1.5-3.2 1.3-3.4-1.3-2.9-.3 .5 3.2 .6 1.8 1 2.9 .7 .8-1.9 4.7 2.3 .2 .4 3.6-2.3 1.1-.9 3.2-3.6 .6 .3 1.3 .1 3.1-1.1 2.4-2.7-.9-2.3 .4-3 1.2-2.4 1.3-2.7 .3-2.8-.4 .8 3.4-4.1-2.6-3 .7-2.7-.9-3.2 .9-.3 0-5.8 1.3 1.3-2.1-4.8 .7-.2 0-5.1 .9-2.7 .9-1.6 1.9-1.6-3.7-1.1-1.4Z"/>
<path fill="#0d6cfb" stroke="#56646a" stroke-width="1.4" d="M364.9 525.2l2.6-4.6 .4-1.7 .1-2.4 .9-2.1 2-1.3 2.6-3.9 2-1.7 2.8-2-.1 .7 4.6-.1-.2 1 5.5-1.7 .3 0 3.2-.9 2.7 .9 3-.7-.3 2.7 1.2 4.1 .3 1.3 1 1.3 1.2 0 3.8 1.5 2.7 2.8 .7-.7 2 .6 1.5 1.9 1.3 1.2 .3 2.4 .9 2.6 1.9 1.6 1.6 1.9 .7 .4 .9 3.9-.2 2.8 1 2.5-3.1 2.3 .7 1-2.6 3.7 .1 2.5 .8-.4-.9 3.8 2.6 1.6 1 2.8 2.4 2.2-1.8 1.9 2.1 3.9-1.3 1.8 .7 2.6-.8 2.3 .9 3.3-.1 4.6-2.2-1-5.1-1.5-3.8 .7-3 .2-2.7-.1-.6 .4-3.6 .7-1.7 1.6-1 1.3-4.5-.1-4.5-1.8-1.8-.6-3.8 .4-2.7 1.4-.2-2.5 .2-4.2-.6-2.5 0-.3-2.2-3.5 1.8-2.5 .5-1.7-2.2-3.1 2.2-.8 .7-3.9-.7-2.9-.5-1.9 3.1-.2 4.9-.2 .7-1.1 3-2.5 1.8-.7 4.6-.1-.8-4.5 2.3-2.9 1.3-.3-4.6-.9-1.2-2.4-2.6 0-2.9 .6-1.4-.7-3.1-1.7-1.2-1.8-3-1.5-.7-2.8-3.5 1.1-1.7 .6-1.2 1.7-4.3-2.5 .3-2.7Z"/>
<path fill="#0d6cfb" d="M478.2 602.1l.7-.9-.2 0 3.3-2.3 2.8-2.8 .2-1.5 4-.9-.7-.8 4.3 .9 1.7 1.7 1.7 1.2 2.6 3 .5-.8 .7-2.6 2.8-2.5-1-1.9 .4-2 .3-2.6 0-2.4 1.8-.7 2.8-2.2 3-.3 2.4-2.5 .7-1.2 4.1-.6 2.6 1.5 .2-.1 3.1 .1 2.8 .7 .7-2.8 3.8-4-3.6 .6-2.6-1-2.2 .6-.5-.2-4-4.7-.5-1.3-2.2-2.2-.5-2.2-1.6-1.7-1.8-1.5 1.4-3.1-1.5-2.8-.8-2.1 2.5 2.2 3.7 .1 4 .8 .7 2 2 3.4 1.3 .2 3.5 .2 2.5-2.1 2.7-.5 1 1.1 3.5-1.4 3.1 .3 2.1 3.9 1.5-.4 1.8-.3 3.9-2.1 3.8 .7 1.8-1.4 3.1-2.7 2.7-2.1 3.1 .5 1.2-.1 1.2 1.5-1.2 3.3 .2 3.1 .9 1.4-.4 6.4-.8 1.3 .5 3.8 .2 1.3-.6 3.9 1.2 1.5-.7 3.4 .1 4.9-.1 2.3-.9 4 2.1 2.6-.3 2.6-1.2 1.5-.7 4.5 1.3 1.1 .2 3.7-1.2 4.3 1.7 3-.4 2.6 .1 3.2-.6 2.2-.9 3 1.2 2.5-1.8 3.8-.4-1.3-2.3 .9-6-.3-1.6 1.5-2.8-1.2-1.8 .2-4 1.1-4.2-.3-.6 1.3-4-1.9-3.9 .4-2.2-2.1-3.9 .7-2.2-.3-2.7 1.5-3.7-1-2-.6-1.2-2.5 1.4-3.4-3.1-1.5-2.1-3.5 1-.8-2.1-1-1.7-2-2.2-2-2.7-1.4-3 0 1.2-1.6-2.9-2.1-2.7-3.2-1.7-.5-.2 .2-3.2-1.4-4.2 .9-1-2.2-3.9-1.4-3.4-1.5Z"/>
<path fill="none" stroke="#56646a" stroke-width="1.4" d="M478.2 602.1l.7-.9-.2 0 3.3-2.3 2.8-2.8 .2-1.5 4-.9-.7-.8 4.3 .9 1.7 1.7 1.7 1.2 2.6 3 .5-.8 .7-2.6 2.8-2.5-1-1.9 .4-2 .3-2.6 0-2.4 1.8-.7 2.8-2.2 3-.3 2.4-2.5 .7-1.2 4.1-.6 2.6 1.5 .2-.1 3.1 .1 2.8 .7 .7-2.8 3.8-4-3.6 .6-2.6-1-2.2 .6-.5-.2-4-4.7-.5-1.3-2.2-2.2-.5-2.2-1.6-1.7-1.8-1.5 1.4-3.1-1.5-2.8-.8-2.1 2.5 2.2 3.7 .1 4 .8 .7 2 2 3.4 1.3 .2 3.5 .2 2.5-2.1 2.7-.5 1 1.1 3.5-1.4 3.1 .3 2.1 3.9 1.5-.4 1.8-.3 3.9-2.1 3.8 .7 1.8-1.4 3.1-2.7 2.7-2.1 3.1 .5 1.2-.1 1.2 1.5 M516.2 634.8l-1.2-2.5 1.4-3.4-3.1-1.5-2.1-3.5 1-.8-2.1-1-1.7-2-2.2-2-2.7-1.4-3 0 1.2-1.6-2.9-2.1-2.7-3.2-1.7-.5-.2 .2-3.2-1.4-4.2 .9-1-2.2-3.9-1.4-3.4-1.5-.3-1.8"/>
<path fill="#0d6cfb" d="M547.5 442.2l.3-2 5.3 1.7 2.9-2.4 0 2.2 4.4-1.1 1.6 1.2 2.1-.7 2 0-.1 2.4-1.8 4.3 2.3 1.6 .3 4.1-1 3.3-1 3.7 2.3 1-1.4 3.2 .4 5.2-1.3 2.4 .8 1.4 0 5.2 2.1 2.4-1.6 2.8-.5 1.6-.3 3.4 1.9 2.2-1.4 2.8 .6 4.6-1.2 2.3-2.5-.8-2.4-.8-2.3-.9-1.8 1-2.7 2-1.9 2-3.1 1.4-2.5-.6-2.1 .2-1-2.9-1.2-2.8-4.3-.9-1.2-2.5 1.6-3.7 .9-1.9-.7-1.5 .7-2.1 2.3-1.5 2-2.4-1.7-3.7 2.1-4.5-.4-2.8 .3-1.4-.2-1.7 1.8-3.9 .6-2 1.4-2.4-.2-2.4 1.4-3 1.9-3.4-1.9-1.7-.2-.7-.5-3Z"/>
<path fill="none" stroke="#56646a" stroke-width="1.4" d="M547.5 442.2l.3-2 5.3 1.7 2.9-2.4 0 2.2 4.4-1.1 1.6 1.2 2.1-.7 2 0 M565.2 501l-2.5-.8-2.4-.8-2.3-.9-1.8 1-2.7 2-1.9 2-3.1 1.4-2.5-.6-2.1 .2-1-2.9-1.2-2.8-4.3-.9-1.2-2.5 1.6-3.7 .9-1.9-.7-1.5 .7-2.1 2.3-1.5 2-2.4-1.7-3.7 2.1-4.5-.4-2.8 .3-1.4-.2-1.7 1.8-3.9 .6-2 1.4-2.4-.2-2.4 1.4-3 1.9-3.4-1.9-1.7-.2-.7-.5-3 .1-3.5"/>
<path fill="#f92035" d="M337.3 593.8l4.6-2 1.6-3 1.4-1.1 1.6-2.2 1.1-.5 3.8-.4 2.5 .5 1.4-1 3.4-.9 1.9 .8 6-.6 2.4 .6 1.1-1.3 2.9 1.4 1.5 1.1 3.1-1.4 1.6 .5-.3-2.7 .6-.6 2.7-1.4 3.8-.4 1.8 .6 4.5 1.8 4.5 .1 1-1.3 1.7-1.6 3.6-.7 .6-.4 2.7 .1 3-.2 3.8-.7 5.1 1.5 2.2 1 3-2.2-.4 .7 6.2-.4 1.5 2-2.2 0 .4 4.4 2.3 2.4 3 1.2 1.2 .2 .8 1.5 2.6 2.7 .8 2.1 1.4 3.4 .4 0 3.1 1.8 1.9 2.9-1.1 3.5 3.2-3.6 2.4 .3 2.5-2.4 .4-.4 1.7-1.1 1.8-2.2 1.8-1.9 2.7 .1 1.3 2.5 1.4 1.1 1.5 .5 2.2 3.5 2 1.5 1 2.2 1.7-2 2 .9 3.2-2.5 .3 1.8 3.4 1.5 3.9 1.4 1 2.2 4.2-.9 3.2 1.4 .2-.2 1.7 .5 2.7 3.2 2.9 2.1-1.2 1.6 3 0 2.7 1.4 2.2 2 1.7 2 2.1 1-1 .8 2.1 3.5 3.1 1.5-1.4 3.4 1.2 2.5-3.8 1.8-3.1 0-1.1 .1-2.9-.7-4.5 1.1-1.6-.9-3.3 0-4.2-.6-3.5-.7-1.3 .9-2.8 1.3-3.8 .5-1.7-.4-4.3-1-3.7 0-1.1-.8-3.4-.6-4.3 2.2-1.9-1.2-3.4 .9-2-2.3-3.5 .9-4.1-.8-2.4 .7-2.4 1-2.1 .8-4.4-1-2.6 1.1-3.3-1.3-1.9 1-5-1-2.6-.3-2.2 .9-2.3-1-3.9 1.3-1-.2-4.9 .1-2.9 .1-1.3 .5-3.3-1-3.3 .4-2.4-2-4 1.2-3.6 1.2-1.1-.7-5 0-.8 .5-4.3 .3-3.6-1.5-3.3 .6-.6 0-1.9-.7-5.1 .1-2.6 .4-4.3 0-3 .2-.6-1-3.7 .7-4.4-1-1.8 1.5-2 .3 1.3-2.9 .3-3 .8-.7 3.1-2 .2-4.2-.8-1.2 1.2-2.6-.1-.8-1.4-3.7-1.7-1.6-.2-2.4-2.8-1.4-.4-2.7 0-2.3-.8-3 .4-4.1 1.7-1.3Z"/>
<path fill="none" stroke="#56646a" stroke-width="1.4" d="M337.3 593.8l4.6-2 1.6-3 1.4-1.1 1.6-2.2 1.1-.5 3.8-.4 2.5 .5 1.4-1 3.4-.9 1.9 .8 6-.6 2.4 .6 1.1-1.3 2.9 1.4 1.5 1.1 3.1-1.4 1.6 .5-.3-2.7 .6-.6 2.7-1.4 3.8-.4 1.8 .6 4.5 1.8 4.5 .1 1-1.3 1.7-1.6 3.6-.7 .6-.4 2.7 .1 3-.2 3.8-.7 5.1 1.5 2.2 1 3-2.2-.4 .7 6.2-.4 1.5 2-2.2 0 .4 4.4 2.3 2.4 3 1.2 1.2 .2 .8 1.5 2.6 2.7 .8 2.1 1.4 3.4 .4 0 3.1 1.8 1.9 2.9-1.1 3.5 3.2-3.6 2.4 .3 2.5-2.4 .4-.4 1.7-1.1 1.8-2.2 1.8-1.9 2.7 .1 1.3 2.5 1.4 1.1 1.5 .5 2.2 3.5 2 1.5 1 2.2 1.7-2 2 .9 3.2-2.5 .3 1.8 3.4 1.5 3.9 1.4 1 2.2 4.2-.9 3.2 1.4 .2-.2 1.7 .5 2.7 3.2 2.9 2.1-1.2 1.6 3 0 2.7 1.4 2.2 2 1.7 2 2.1 1-1 .8 2.1 3.5 3.1 1.5-1.4 3.4 1.2 2.5 M337 636.7l1.3-2.9 .3-3 .8-.7 3.1-2 .2-4.2-.8-1.2 1.2-2.6-.1-.8-1.4-3.7-1.7-1.6-.2-2.4-2.8-1.4-.4-2.7 0-2.3-.8-3 .4-4.1 1.7-1.3-.5-3"/>
<path fill="#04308a" d="M308.5 610.5l3.4-2.5 3.1 1.4 1.3 1.8 3.9-.7 1.1-.5 3.1-3.2 3.3 .2 1.4-.6 5.6-.2-.4 1.3 3-.1 2.3 2.3 2.2 4.6 .2-.2 1 4.5 .1 1.5-1.2 2.6 .8 1.2-.2 4.2-3.1 2-.8 .7-.3 3-1.3 2.9-3.2 .8-4.9-1.4-2.8 .5-2-1-2.7-.2-3.5 1.1-2.8-.4-3 0-2.9 1.4-.6-5.5 3.2 .3-1.1-6.2-2.2-1.9 1.3-3.1-.1-1.8-1.7-3.4 3.3-2.5Z"/>
<path fill="none" stroke="#56646a" stroke-width="1.4" d="M308.5 610.5l3.4-2.5 3.1 1.4 1.3 1.8 3.9-.7 1.1-.5 3.1-3.2 3.3 .2 1.4-.6 5.6-.2-.4 1.3 3-.1 2.3 2.3 2.2 4.6 .2-.2 1 4.5 .1 1.5-1.2 2.6 .8 1.2-.2 4.2-3.1 2-.8 .7-.3 3-1.3 2.9"/>
<path fill="#f92035" d="M308.7 550.7l4.1 .8 3.2 .1 1.4 .5 1.2 2.2 2.1 2 1.4 2.2 4 2.8-1.4 2-1.4 2.9-1.7 2.7-1.8 .5-1.8 1.8-.4-.1-2.7-2.9-2.8-2.2-1.3-1 1.1-3.4-1.2-1.8 .2-2.4-.6-2.8-1-3Z"/>
<path fill="none" stroke="#56646a" stroke-width="1.4" d="M308.7 550.7l4.1 .8 3.2 .1 1.4 .5 1.2 2.2 2.1 2 1.4 2.2 4 2.8-1.4 2-1.4 2.9-1.7 2.7-1.8 .5-1.8 1.8-.4-.1-2.7-2.9-2.8-2.2-1.3-1"/>
<path fill="#0d6cfb" d="M511.2 371.3l1.7-1.7 1.6-3.8 2-.7-.3-3.8 3-.1-.4-4.6 .5-2.6 3.3-1.1 1.5-4 1.4 .4 1.4-1.7 1-1.9 1.8-.7 4.5 .3 2.5-2.8 1.9 .8 3.6 .4 2.4 .4 0 1.1 2.1 3.5 3.5-.5-.1 2.4 2.2 1.1 2.8-1.6 1.9-2.4 3-.8 2.8-3.6 1.8 .9 2.3 .6 4.2 .6 .4 .5 2.4 4.3 2.5 1-.2 3 3.6-.1 2.7-2.4 3.3 .9 1-1.9 1.8 .2 2-2.3 2.6-3 1.7 .9 1.3-1.7-.3 1.8-.5 2.9 .6 2.3 .9 3.7 .5 2.4-.7 1.9 .9 2.4-1.8 3.3-.4 3.6-.2 2.5 .3 2.2-.8 1.6 2.1 4.5-3.6-1.5-2.6-1.4-.6-.9-1.9-.8-4.8-.6-1 1.6-2.1 1.1-3.4-.5-.9-1.2-3.3 3.7-3.6 2.3 .1 .3-2.4 .1-2.3 2.8-4.4-1.4-.2-1.7-1.5-1.7-4 2.2-1-1.6-4.2-2.2 .9-4-3.1-1.8-4.1 .8-2.1 1-2.1 2.4-1.7-.1-3.3 2-.4 1.7-4.1 .9-3 3-2.2 2.6-.4 0 .4 2.4-2.2 3.5-.5 2.1-.1 2-3.7 .2-.5-1.7-1.1-2.7-1.8-1.8-1-.3-2.3-2.7-.7-2 .1-2.2-.9-3.5 1.8-3.1 .7-1.9Z"/>
<path fill="none" stroke="#56646a" stroke-width="1.4" d="M511.2 371.3l1.7-1.7 1.6-3.8 2-.7-.3-3.8 3-.1-.4-4.6 .5-2.6 3.3-1.1 1.5-4 1.4 .4 1.4-1.7 1-1.9 1.8-.7 4.5 .3 2.5-2.8 1.9 .8 3.6 .4 2.4 .4 0 1.1 2.1 3.5 3.5-.5-.1 2.4 2.2 1.1 2.8-1.6 1.9-2.4 3-.8 2.8-3.6 1.8 .9 2.3 .6 4.2 .6 .4 .5 2.4 4.3 2.5 1-.2 3 3.6-.1 2.7-2.4 3.3 .9 1-1.9 1.8 .2 2-2.3 2.6-3 1.7 .9 1.3-1.7 M596.8 379.9l-3.6-1.5-2.6-1.4-.6-.9-1.9-.8-4.8-.6-1 1.6-2.1 1.1-3.4-.5-.9-1.2-3.3 3.7-3.6 2.3 .1 .3-2.4 .1-2.3 2.8-4.4-1.4-.2-1.7-1.5-1.7-4 2.2-1-1.6-4.2-2.2 .9-4-3.1-1.8-4.1 .8-2.1 1-2.1 2.4-1.7-.1-3.3 2-.4 1.7-4.1 .9-3 3-2.2 2.6-.4 0 .4 2.4-2.2 3.5-.5 2.1-.1 2 M516.9 395.5l-1.1-2.7-1.8-1.8-1-.3-2.3-2.7-.7-2 .1-2.2-.9-3.5 1.8-3.1 .7-1.9-.5-4"/>
<path fill="#04308a" d="M521.1 397l.1-2 .5-2.1 2.2-3.5-.4-2.4 .4 0 2.2-2.6 3-3 4.1-.9 .4-1.7 3.3-2 1.7 .1 2.1-2.4 2.1-1 4.1-.8 3.1 1.8-.9 4 4.2 2.2 1 1.6 4-2.2 1.5 1.7 .2 1.7 4.4 1.4 2.3-2.8 2.4-.1-.1-.3 3.6-2.3 3.3-3.7 .9 1.2 3.4 .5 2.1-1.1 1-1.6 4.8 .6 1.9 .8 .6 .9 2.6 1.4 3.6 1.5 .8 2.5-2.3 2.9 1.1 2.2-1.9 3.8 .9 1.9 1.4 3.1-3.8-1.4-1.6 1-4.2 .2-2.5 .3-3.3-.9-2.2-.2-4.3-.4-2.3 .6-2.5 0-2 1.2-3.8 .7-4.1-2.2-2.1 .1-.7 2.4-5.2-1.2-2.7-.2-2.1-.1-3.2 .1-3.4-.4-4.8 .2-.1-2.1-4.8 1.7-1 1.6-3.6-1.8-3.9 1.1Z"/>
<path fill="none" stroke="#56646a" stroke-width="1.4" d="M521.1 397l.1-2 .5-2.1 2.2-3.5-.4-2.4 .4 0 2.2-2.6 3-3 4.1-.9 .4-1.7 3.3-2 1.7 .1 2.1-2.4 2.1-1 4.1-.8 3.1 1.8-.9 4 4.2 2.2 1 1.6 4-2.2 1.5 1.7 .2 1.7 4.4 1.4 2.3-2.8 2.4-.1-.1-.3 3.6-2.3 3.3-3.7 .9 1.2 3.4 .5 2.1-1.1 1-1.6 4.8 .6 1.9 .8 .6 .9 2.6 1.4 3.6 1.5"/>
<path fill="#04308a" d="M587.9 319.7l2.4-1 1.9 2.2 3.4-1.6-.1 3.4 .6 2.3-.8 3.1-.7 4.5 1.6 1.6-.5 2.7-.4 4.4 .9 3.5-3.4-2.5-2.5-1.7 .4-1.9-1.4-3.8-1.8-2.8 .5-.7-.6-2.6 .2-2.4-1-3.9Z"/>
<path fill="none" stroke="#56646a" stroke-width="1.4" d="M587.9 319.7l2.4-1 1.9 2.2 3.4-1.6 M596.2 344.8l-3.4-2.5-2.5-1.7 .4-1.9-1.4-3.8-1.8-2.8 .5-.7-.6-2.6 .2-2.4-1-3.9 1.3-2.8"/>
<path fill="#f92035" d="M340.5 288.5l4 2.4 1.8-2.3 1.4 3.2 1.3-1.7 1.8 1.3 1.8 2.7 .9 2-.5 .9 1.4 2.5-1.3 2.9-.5 1.5 2.1 0-.1 1.4 1.7 1.7-1 2.5-2.3 3 1.3 .8 2.4 2.2 2.1-1 3.1 0 2.3 2.7-.9-.5 1.9 3.4 1.1 2.1 2.8 1.7 .8 .6 2.3 1 1.2 3.3-2.4 3.3-.6 2.6 0 1.6-.9-.4-1.6-.6-2.1 1-2.2-.9-4.9-.4-2.1-2.7-.7-3.1-1.5-1.3-2.7-1.6-3.7 1.2-1.8-.2-1-3.2-3.5-.9-.9 2.2-2.3 1.4 1.5-3.1 1.2-1.3-1.5-2.7 2.1-5.5-3.2-1.9 1.9-3.2-1.9-.6 2-4-1.1-3.4 1-2.6 1-1.5-1.4-3.1Z"/>
<path fill="none" stroke="#56646a" stroke-width="1.4" d="M349 290.1l1.8 1.3 1.8 2.7 .9 2-.5 .9 1.4 2.5-1.3 2.9-.5 1.5 2.1 0-.1 1.4 1.7 1.7-1 2.5-2.3 3 1.3 .8 2.4 2.2 2.1-1 3.1 0 2.3 2.7-.9-.5 1.9 3.4 1.1 2.1 2.8 1.7 .8 .6 2.3 1 1.2 3.3-2.4 3.3-.6 2.6 0 1.6-.9-.4-1.6-.6-2.1 1-2.2-.9-4.9-.4-2.1-2.7-.7-3.1-1.5-1.3-2.7-1.6-3.7 1.2-1.8-.2-1-3.2-3.5-.9-.9 2.2-2.3 1.4"/>
<path fill="#f92035" d="M378.1 291.7l2.2-2.9 2 1.3 4.5-1.4 1.4 .9-1.5-.3-.6 2.7-2 2.2-3.2-1.7-2.1-.6Z"/>
<path fill="none" stroke="#56646a" stroke-width="1.4" d="M388.2 289.6l-1.5-.3-.6 2.7-2 2.2-3.2-1.7-2.1-.6-.7-.2"/>
<path fill="#04308a" stroke="#56646a" stroke-width="1.4" d="M364.5 310.6l1.4-1.6-.2-1.9 2.1-.3 2.2-.5 4.3 0 .5-2.3 1 1.4 5.2-2.6 1.8 1.7 3.4 1.1 3.2 3.4 .7-.1 2.7 .6 .9 2.8 1.2-.2-.9 2.7-.6 4.4 3.1 2.8-3.1 .1-.8 3.8-.2 1.8-.9 .7-1.4 1.7-2.8 2.5-.9 1-1.3 2.4-2.1-.6-1.9 2.2-1.2 2.1-2.5-.1-2.8-2.1-3-.9-.3-1.5 .1-3.2 2-3.1-1.2-3.3-2.3-1-.8-.6-2.8-1.7-1.1-2.1-.9-3.9 1.3-2.8Z"/>
<path fill="#04308a" d="M338.4 328.8l2.9-2.2 0-2.6 4.1 .9 .8 2.4 1.8 .2 3.7-1.2 2.7 1.6 1.5 1.3 .7 3.1 2.1 2.7 4.9 .4 2.2 .9 1.8 1.1 .9 2.8 2.5 1 2.5-.4 1.9 1.6 .1 2.4 1.4 2.3 2.2 1.9-1.5 .9 .2 4.3-2.5 1.5-1.7 3-2.6-.4-2.1 2.1-2.5-.4-1.5 2-2.3 1.1-2.8 2.1-1.5 .7-.5 .3-3.4 1-1.6-.6-1.5 .3-1.4 2.6-2-1.4-1.6 .7-2.2 2.4-2 2-1.6-.4 .6-.7-2.1-5.2 .9-.6 .4-5-1.4-3.2 1.2-1.6-1.7-2.1 2.6-2.1-.1-5.7 .9-3.7-2.7-1.9-.3-3.6 1.6-1.7-1-3.3 1.6-2.9Z"/>
<path fill="none" stroke="#56646a" stroke-width="1.4" d="M338.4 328.8l2.9-2.2 0-2.6 4.1 .9 .8 2.4 1.8 .2 3.7-1.2 2.7 1.6 1.5 1.3 .7 3.1 2.1 2.7 4.9 .4 2.2 .9 1.8 1.1 .9 2.8 2.5 1 2.5-.4 1.9 1.6 .1 2.4 1.4 2.3 2.2 1.9-1.5 .9 .2 4.3-2.5 1.5-1.7 3-2.6-.4-2.1 2.1-2.5-.4-1.5 2-2.3 1.1-2.8 2.1-1.5 .7-.5 .3-3.4 1-1.6-.6-1.5 .3-1.4 2.6-2-1.4-1.6 .7-2.2 2.4-2 2-1.6-.4"/>
<path fill="#04308a" stroke="#56646a" stroke-width="1.4" d="M453.5 343.4l3-2.8 1.7-1.7 1.5-1.3 3.3-.8 .9 2.1 3.8-2 2.6 .5 2.7-1.2 1.9-1.6 2.7 1.2 1.4 1.2 .9 1.2-1.9 2.3 .1 3.2-1.8 1.5-2.2 .5-2.1 2.5-1.4-.8 .3 2.4-3.3 2.2-.9-1.3-.8 1.3-1.4 .9-3.9-.4-2.8-.3 .7-2.4-.9-3.3-.3-1.2Z"/>
<path fill="#04308a" stroke="#56646a" stroke-width="1.4" d="M408.9 409.4l.8-2.3-1.7-2 .3-3.1 .8-1.6 .4-1.4 1.7-2.9 2.9-1.8-.3-1.9 2.4-.2 3.5 1.4 1-.2 1.8 2.7 2.4 .3 3.8-1.2-.3-1.2 1-1.7 2.3-2 .1-2.1 2-2.1 .5-2.6 1.2 1.1 .4-1.3 3.4-.6-.8 2.8 .9 3.1 .8 3.4-1.3 1.7 .8 3.7-.3 1.9-1 1.1-2.3 2.1-1.6 2.8 .2 .9-2.5 .6-3.5 1.7-4.7-1.2-2 .4-3.3-.5-3.2 2.4-1.9 .2-1.2 .5-1-.4Z"/>
<path fill="#0d6cfb" d="M341 376.1l1.1-1.6 1.2-1.3 1.9-.9 1.6-1.5 2.3-.9 2.3-.6 2-.8 4.2-2.8 .8 .6 2.8-2.3 3.4-.4 1.9-2.2 2.4-.1 1.6-1.1 2.4-1.9 2-.6 1.2-1.9 3-2.4 0 .2 3.2 1.9 .8 2.7 .8 1.6 .4 3.1-2.3 3.1-.9 1.5-.4 .8-2.5 5-.8-.5-1.7 4.1-2.7 1.4-.6 .9 1.4 2.3 3.1-.5-1.6 3.8-3.2-.8-1.8 1.4-1.4 1.5-3.7 .9-.2 .4-2.6 2.3-2.6 .4-1.7 .1-2.3 .1-2.8-1.6-3.2-1.3-1.4 .9-1.9-2.8-.6-.4-2.7-2.1-2.5 .9-3 1.5 2.9-2.2-.6-6 1.2-1.7Z"/>
<path fill="none" stroke="#56646a" stroke-width="1.4" d="M341 376.1l1.1-1.6 1.2-1.3 1.9-.9 1.6-1.5 2.3-.9 2.3-.6 2-.8 4.2-2.8 .8 .6 2.8-2.3 3.4-.4 1.9-2.2 2.4-.1 1.6-1.1 2.4-1.9 2-.6 1.2-1.9 3-2.4 0 .2 3.2 1.9 .8 2.7 .8 1.6 .4 3.1-2.3 3.1-.9 1.5-.4 .8-2.5 5-.8-.5-1.7 4.1-2.7 1.4-.6 .9 1.4 2.3 3.1-.5-1.6 3.8-3.2-.8-1.8 1.4-1.4 1.5-3.7 .9-.2 .4-2.6 2.3-2.6 .4-1.7 .1-2.3 .1-2.8-1.6-3.2-1.3-1.4 .9-1.9-2.8-.6-.4-2.7-2.1-2.5 .9-3 1.5"/>
<path fill="#0d6cfb" d="M338 387.8l3.7-.9 1.1 .5 2 2.2-.2 3.2 .4 3.8-1.7 1.8-.3 2.4-.1 2.6-1.3-.2-2.3-.2-.5-1.3-.1-3.1 2.7-4.9 .8-.8-3.1-3.9Z"/>
<path fill="none" stroke="#56646a" stroke-width="1.4" d="M338 387.8l3.7-.9 1.1 .5 2 2.2-.2 3.2 .4 3.8-1.7 1.8-.3 2.4-.1 2.6-1.3-.2-2.3-.2"/>
<path fill="#0d6cfb" stroke="#56646a" stroke-width="1.4" d="M459.3 364.2l1.5-.3 3.2-1.8 2 .3 2.4-.5 2.3 1.5 2.8 1-.1-2 2.2-1.7 2.1-3.7 .6-2.3 2.4-2.1 1.6 .8 2.8 2.5 2.9-2.1 1.4 2.8 1.9 1.6 1.1 0 2.2 2.4 2.3 2.5 1.7 1.5-.7 1.2-.1 2.3 0 2.8-1.5 3.2 2.6-.6-.7 4.2 1.8 2-.3 1.6-1.9 .1-2.3 3.6 1.9 2-1.6 1.5-.2 3-.1 2.4-1.9 2-1.3 1.9-1.6 3.1-1.5 .6-2.1-.5-2.7 .3-1.8 .6-4 1-3.1-1.3-2.4 .5 1.5 1.9-3.9 3.2-3 2.2-2.4 .6-.8 1.5-2.3-1-3.7-1.5-.6-3.4-.9-3.3-.7-.8 .5-2.7-.7-2.4-2.2-3.3-.3-1.3 1.5-2.7 .8-3-.6-3.5 .6-1.7 2.1-1.8 3.8-.3 2.7-.1 1.4 0 2.2 1.4 2-2.1 .2-1.5 1.5-2.6-2.4-2.7-1.1-1.3-2-.6-1.6-.2-2.1-2.3-4.3 .1 .9-1.6Z"/>
<path fill="#f92035" stroke="#56646a" stroke-width="1.4" d="M434.8 337.4l1.2-1.8 3-1.8 1.5 .7 1.2 3.7 1.7 .7 3 .2-.3-.8 2.4 1 1.9-.9 1.6 2.7 2.1 2.1 1.6 2.3 1.2 1.1-1 1.8 .3 2.8-.6-.4-2.2 2.2-1.5 3.6 0 2.5-4.8-2.8-1.2-1.1-.5-2.6-2.3-2.4 1-2.3-2.4-1.6-3.4 2.3 .7-1-2.1-.6-1.3-2-.6-1.5-1.7-4.1 1.4-.5Z"/>
<path fill="#f92035" stroke="#56646a" stroke-width="1.4" d="M384.2 345.3l2.7-.1 2.2-.4 1.8-1.6 1.6-2.1 2.1 .2 2.9-1.8 3.4 .7 .8 3-.6 2.2-2 .9-3.6 3.4-.1 .1-4.5-1.1-2.1-.1-4.1-.3Z"/>
<path fill="#f92035" stroke="#56646a" stroke-width="1.4" d="M408.6 339.6l1.9-1.3-.2-.1 2.9 1.5 .9 1.2-.5 2.8-1.9 2.3-2.2-.9-.7-1.1-.2-2.9Z"/>
<path fill="#f92035" stroke="#56646a" stroke-width="1.4" d="M406 366.7l2.3 .3 1.2-2.2-.1 3.6 .4 1.2-.7 2-1.8 0-.7-1.8Z"/>
<path fill="#f92035" stroke="#56646a" stroke-width="1.4" d="M442.7 379l1.9 .2 1.1-.6 2.1 2.5 1.2 5-2.9 2 1.4 2.7-2.1-2.8-2-.1-1.5-2.4-.1-2.1Z"/>
<path fill="#f92035" stroke="#56646a" stroke-width="1.4" d="M434.4 378.8l2.4-.5 1.9 3.5-.6 .5-1 1.2-1.8 1.1 1.6-1.4Z"/>
<path fill="#f92035" stroke="#56646a" stroke-width="1.4" d="M428.4 375.8l1.6-.8 2.3 .5-.4 3.6-.4 3.3-.7 0-2-2.5-1.1-2.5Z"/>
<path fill="#f92035" stroke="#56646a" stroke-width="1.4" d="M440.1 369.7l1.4 0 2.2-.2 .8 1.3-.7 2.1-2.9 1.7 .1-1.1-.5-.8Z"/>
<path fill="#f92035" stroke="#56646a" stroke-width="1.4" d="M333.6 318.3l2.9-1.6 3.7-1.5 4.3-.9-1.2-1.5-.2-2 3.2-4.5 3.1 0 2.8 1.1 1.7 .7 .3 2.5-1 2.1 1.4 .3 3.2 3 2-1.5 2.6 2.7 .9 1.7 3 3.4 1.6 .6 1.5 1.3 2.3 .3 2.9 2.3-3.3 4.6-.8 1.5 0 .7-1.7 1.5-1.9 .4-2.6 .3-3.3 .3-2-1.2-2.8-2.1-1.6-1.9-.7-1.3-3.1-1.8-2.1 .1-2.5-.1 0-2.2-2.3 1.1-2.8 .5-2.5 1.7 .6-2.8-2.6 0-5-3.5 2.2-2.1Z"/>
<path fill="#ff6adb" stroke="#56646a" stroke-width="1.4" d="M643.4 353.8l.7-2.2 2.7-1.4-.4 2.8 .6 1.9 2.7 1.9-1.4 1.7 .5 2.6 1.8 2.7 .3 1.5 1.7 2.1 2 3.4 .7 .6 3.3 2.6 1.3 3.4 .5 .4 .3 1.5 1 1.5-.3 .9 3.4 2.9 1.5 4.1 3.1 2.3 .6 2.4-1.5 2.4 .2 1.6-.9 1.8-1.3-.1-2 2.7-2.4 .5-3.3 1.8-2.7-1.1-3.5 .3-1.9 .5-2.4-2.5 .5-1.7-2.6-2.1-1.1-2.5-1.3-.9-2.7-1.1-2.2-1.3 .4-1.4-2.8-2.5-1.7-1 0-3.5 .9-2.1 .2-2.6 2.8-1.8 .5-2.6-.5-4.3-.8-.6-.2-2.6 1.3-3.3 1.1-1.2 .4-2.6-1.4-3.9 2.1 .4Z"/>
<path fill="#f92035" stroke="#56646a" stroke-width="1.4" d="M697.8 458.1l2.9-1.5 .4-1 4.1 .5 1.7 .5 2 .9 1.6 1 2.8 3.3 1.5-.2-1.1 3.7-3.4 1-1.7-.7-2.3 1.7-2.1 1.3-.7 2.4-.1 2.3-.4 2.8-.8 2.5 .3-3-1.3-2 .4-3.3-.8 1.1-.6-3.3-1.8-1.2 .7-3.2-1.3-2.8Z"/>
<path fill="#0d6cfb" stroke="#56646a" stroke-width="1.4" d="M705.6 811.7l3.1-1.2 .2-4.1 2.1 .3 1.6 2 1.4 1 2.5 1.1 2.4 2.4 2.3 2.8 .4 2.5-.5 2.4-.6 1-1.4 1.6-.4 .9-2.9-1.6-3.4 .1 .4-1.5-1.1-3.1-.6-.5-1.6-1.5-2.4-3Z"/>
<path fill="#985afc" stroke="#56646a" stroke-width="1.4" d="M549.4 783.4l1.1-3 1.6-1.2 1.5-1 3.8 2.5 1.1 .3-.6-.9 3.5 2.5 1.6 2.2-1.2 2.1-3.8 4.3 1.9 .8-.3 2.1-1 .6 .7 5.3-.5 1.1-2.7 2.5-2.1-3.4 .6-1.4-3.1-.4-1-2.5 .1-3 .7-.7 .1-.5-4.2-3.5 .8-2.6Z"/>
<path fill="#985afc" stroke="#56646a" stroke-width="1.4" d="M582.1 778.3l2.9 .8 3.6-3.2 .9 .6 3.4-1.2 3.7 2.1-.8-2.7 5.3-.7 2.1-1.4-.2 1.9 2.6-.6 2.7-1.4 2.1 3.1 2.9 3 1.4 .1 1.1 3.7 .6 2.5 .2 1.3 3.5 2.4 2.2 3.3-.5 .7 2 3.3 .1 .2 2.2 3.6 1.6 1 1.5 2.5 2.4 2.2 2.6 .8 0 1.6 3.3 3.6 1.1 .3-2.7 2.1-.8-.3-1.9 2.8-.4 3 1.2 2.3 1.5 2.9-1.6 3-.3 1.3 1.3 2-1.3 3.4-2.1 2-1.8 1.8-2.7-2.9-4.2-1.3-2-1.1 1.1-2.2-.7-2.1-1.6-2.1-.5 2.8-.2 2.6-2.6 .8-.9 3.7-1.7-.5-1.6 4.6-2.5-2.4-1.5-.7 .3-3.5-1.4-2.4 .7-1.8 1.1-2.7-.2-3.1 2.9-3.4 2.2-.2 2.2-.9 .6-3 2.4-3 1-1.5 .2-2-2.7-2 1-1.6-.6-2.7-3.5-3.6-2.9 .4-.1-.9-1.4 0-3.2-2.3-.2-1.1-2.1-3.7-1.8-2.2-.6-2.3-.3-1.3 1.2-2.8-3.1 0-3-2.3-2.4 1-3.8 .3-.1-.4-1.3-.4-1.8-.9-3.4 .1Z"/>
<path fill="#985afc" stroke="#56646a" stroke-width="1.4" d="M590.8 819.7l2.8-2.1 2-1.7 2.1 .1 2.8 .5 1 .9 5.6 1 .8 2.9-1.1 .1 1.8 2.3 .2 3.2-1.1 2.2-1.2 2.1-.8 2.9-1 2.6-2.1 2.8-2.7-2.6-3.1-.8-1.1-2.4-1.2-3-2.8-.1 .5-3.7 .5-1.8-.3-3.9Z"/>
<path fill="#985afc" stroke="#56646a" stroke-width="1.4" d="M614.4 844.9l1.5-1.7-.2 1.4 2.8-1.7 2.3 2.2 3.5 2.4-1.7 2.7-2 3.3-.1 .5-2-2.7-2.7 1.7-1.5-3.4-.3-2.4Z"/>
<path fill="#f92035" stroke="#56646a" stroke-width="1.4" d="M574.4 834.1l3.5-3.2 2-1 1.9-.8 .8 1.2 2.5-.6 2.9-1.9 .6 1.8 2.4 2.4 2-.8 .9 5.3 2 2.8 .6 .3-1.7 2.9-3-1.8-.7-.2-1.2-.9-2.7-2.6-1.6 .8-2.6 2.2-1.3 1.8-1.6-.7-1.6-2.2-.6-3.2Z"/>
<path fill="#f92035" d="M589.3 712.3l.1 2.2-4.1-2.4 1.8-2.9 .5-2.5 2.4-1.3 2.3 2.1 2.1 .6 4.8 1.1 1.7-3.5-.5-.9 .9-.9 4-.7 1.5-2.2 2-1.8 .8 0 1.9-3.1 2.9 3 4.5 1.1 2.6-2.3-2.8-1.9 1-3.5 .1-1 .4-1.3-.3-.7 4.1-1 4.8 .6 3.7 2 .6 .1 1.1 1.7-1.8 .5 1.4 3.5 1.6 2.1 1.2 2.2 2.9 1.4 1.6-.9 2.2-2.6 2.4-.7 3.2-1.8 1.4 .5 3.2-1.2 1.7-.4 3.9 1.5 2.2-2.6 3.5-1.4 2.7 .9-.1 .2 1 2 1.5 1.1 2.7 3.5-1.9 1.5 .1 3.5 1.6 3.2-3.5 .3-1.6 2.6-2.1 .6-3.2 1.9-1.9-1.1-4.2 2-.1 1.3-2.4 1.8-.7 1.9-2.7 .4-4.1 3.3-2.3 2-2 .9-2.5 .5-1.1 1-3.4 3.7-2.9-.8-1.1 1.9-.1 2.2-1.5 1.6-.2 2.6 .3 1.9-3.5 2.2-1.7 1.3-1.7 2.5-2.6-1-.1 2.8-1.3 3.2 .5 3.1 1.8 1.9 3.2 2.4 2.7 1.3 1.2 .9 3.5 .8 1.3 1.1 .5 5.3 2 .2-3.9 1.5-1.7 2.7-2.5-.4-3 .1-2.3 2.3-1.3-.4-4.3-2.8-1.9-.4-3.7-.5-1.1-1.9-.2 .8-4.4-1.8-3-2.2-2.5-1.3-1.6-1.4-1.9-.4 .5-3.8-.9-1.2-.8-1.7-1.6-3-.1-1.1-3.4 .2-3.1 0-.2 1-1.4-2.7-2-3.7 0-.4-.4-3.8 .3-1.6 3.1-2.7 .7-.6 2.5-2.4 2-2.3-1.7-2.7 .6-1.8-1.3-2.7 .3-2.3 .8-2.1-1-3 .2-3.2Z"/>
<path fill="none" stroke="#56646a" stroke-width="1.4" d="M589.3 712.3l.1 2.2-4.1-2.4 1.8-2.9 .5-2.5 2.4-1.3 2.3 2.1 2.1 .6 4.8 1.1 1.7-3.5-.5-.9 .9-.9 4-.7 1.5-2.2 2-1.8 .8 0 1.9-3.1 2.9 3 4.5 1.1 2.6-2.3-2.8-1.9 1-3.5 .1-1 .4-1.3 M633.1 691.2l1.1 1.7-1.8 .5 1.4 3.5 1.6 2.1 1.2 2.2 2.9 1.4 1.6-.9 2.2-2.6 2.4-.7 3.2-1.8 1.4 .5 3.2-1.2 1.7-.4 3.9 1.5 2.2-2.6 3.5-1.4 2.7 .9-.1 .2 1 2 1.5 1.1 2.7 3.5-1.9 1.5 .1 3.5 1.6 3.2-3.5 .3-1.6 2.6-2.1 .6-3.2 1.9-1.9-1.1-4.2 2-.1 1.3-2.4 1.8-.7 1.9-2.7 .4-4.1 3.3-2.3 2-2 .9-2.5 .5-1.1 1-3.4 3.7-2.9-.8-1.1 1.9-.1 2.2-1.5 1.6-.2 2.6 .3 1.9-3.5 2.2-1.7 1.3-1.7 2.5-2.6-1-.1 2.8-1.3 3.2 .5 3.1 1.8 1.9 3.2 2.4 2.7 1.3 1.2 .9 3.5 .8 1.3 1.1 .5 5.3 2 .2-3.9 1.5-1.7 2.7-2.5-.4-3 .1-2.3 2.3-1.3-.4-4.3-2.8-1.9-.4-3.7-.5-1.1-1.9-.2 .8-4.4-1.8-3-2.2-2.5-1.3-1.6-1.4-1.9-.4 .5-3.8-.9-1.2-.8-1.7-1.6-3-.1-1.1-3.4 .2-3.1 0-.2 1-1.4-2.7-2-3.7 0-.4-.4-3.8 .3-1.6 3.1-2.7 .7-.6 2.5-2.4 2-2.3-1.7-2.7 .6-1.8-1.3-2.7 .3-2.3 .8-2.1-1-3 .2-3.2 .6-3.4"/>
<path fill="#f92035" stroke="#56646a" stroke-width="1.4" d="M621.5 775.6l2.3-2.3 3-.1 2.5 .4 1.7-2.7 3.9-1.5 1.7-.6 1.7-1.4 3.5-.8 1.4-.8 3.3-1.4-1.7-2.1 1.8-2.9-1.9-1.9 1.4-1.2 3-2.2 2.5-2.1 4.2-.8 1.9-.6 .7-2 2.8-.1 1.4 3.2 2.4 .5 1.8-1.2 2.2-1.8-.4 1 3.9-.8 1.3-2.5 1.8 .3 5.3-1.6 1.7 .8 4.1-.1-1.1 .7 4.9-1.5 .9 .7 3-1.4 2.3-1.3 2.8-1.3 1.3-.7 1.1-2.2 1.9-2 1.5-2 2.8-2-.6-1.8 .5 2.9-1.2 4.8 2.3 2.4-3.5 1.1 .4 1.9 .7 3.2-2.4 2.7 3 1.3 .2 3.1 1.3 2.6-4 1.6-2.8-.3-.1 1.3-2.1 3.6-3.9-.5 1.4 2.8-5.1-.8-2.2-1.7-1.6 1.6-4.5-1.5-.7-.4-1.5-.3-4.2 .1-1.4 .4-3.2-.4-4 1.8-3.6 .8-1.7-.3-2.1 1.7-2.6 .1-4.2 1.2-.2 2.5-2.3 .3-3 1.9-3.5 1.8 .6 1.8-2.4 1.9-1.3 3.2 2.7 2 .4 4-.2 1.5 .9 3.2-1.5 3-.3 1.8-.4 2.1-1.3 5.1-1-1-2.4 3.3-2.5 1.3-.9-.7-1.9-1.1-2.9-1.2-2.3-2.8-1.4-2.1-2.3-3.3 1-.6-1.4-4-.2-1.3-1.8-2.3 1.3-4.6-1-3.7-1-1.3Z"/>
<path fill="#0d6cfb" stroke="#56646a" stroke-width="1.4" d="M475 837.1l3.2-.6-.3 .3 3-2 4.1 2.9 1.7 .7 4.4 1.9-1 2.5 1.5 .5 1.6 1.4-3.3 2.6 .1 2.2-4 .1-3.2 .9-3.8-.2-.7-1.8-1.6-2.1-1.3-1.6-.2-2.3 .3-2.7Z"/>
<path fill="#f92035" d="M490 780.2l3.5-1.7 1.8 0 .9-2 3.5-2.1 3.4-1.4 1.7 1.5 2.2-2 3.5 .3 .7-.8 1.7 .6 4.5-2.1 1.5 .6 2-.4 3.4-1.2 .9-2.8 1.4-2.2 0-2.2-.3-2.5 .5-2.3-1.3-3.1 .2-.9 4.6-3 .6-1.9 1.8 3-.7 1.7 0 1.3 2 3.8 .1 1.2-.8 3.1 2.1 2 1.2 3.6-2 2.7 3 .2 .3 4-2.3 2.5 3 2.4 2.6 3.3-1.1 3.9 1.4 .2-.2 3.3 2.8 .4 2.1 1.9 .3 4.4 .4 1.3-2.8 .9-3.6 .1-.4 .7-1-.3-3.1 .9-2.4 2.2-4.8-.3 1.2 2.1 .3 1.7 .2 3.9-1.5 1 .2 1.7-3.1 .8-2.1-.9-2.2 2-2.9 .8-1 1.3-1.6 4.1-.7 2.2-.6 1.1-1.4 1.5-.4 3.5 .3 2.8-.2 2.6-5.4 .6-3 1.9 .4-2.9-2.3-1.6-.5-3.4 .1-.4-.7-2.3-3.2-3.1-1.7-1.8-1.9-.6-3.2-3.7-1.7-1.2-1.4-1.1-.8-3.5-2.6 .7 .5-4.7-.7-2.7-.5-1.5 2.2-3.5 1.6-2.1 3.2-1.4 0-1.7 1.1-.4 2.5-1.9 1.1-.6-1.1-2.4-1.1-2.5-1.2-4-1.6-.8Z"/>
<path fill="none" stroke="#56646a" stroke-width="1.4" d="M490 780.2l3.5-1.7 1.8 0 .9-2 3.5-2.1 3.4-1.4 1.7 1.5 2.2-2 3.5 .3 .7-.8 1.7 .6 4.5-2.1 1.5 .6 2-.4 3.4-1.2 .9-2.8 1.4-2.2 0-2.2-.3-2.5 .5-2.3-1.3-3.1 .2-.9 4.6-3 .6-1.9 1.8 3-.7 1.7 0 1.3 2 3.8 .1 1.2-.8 3.1 2.1 2 1.2 3.6-2 2.7 3 .2 .3 4-2.3 2.5 3 2.4 2.6 3.3-1.1 3.9 1.4 .2-.2 3.3 2.8 .4 2.1 1.9 M546.9 798.8l-2.8 .9-3.6 .1-.4 .7-1-.3-3.1 .9-2.4 2.2-4.8-.3 1.2 2.1 .3 1.7 .2 3.9-1.5 1 .2 1.7-3.1 .8-2.1-.9-2.2 2-2.9 .8-1 1.3-1.6 4.1-.7 2.2-.6 1.1-1.4 1.5-.4 3.5 .3 2.8-.2 2.6-5.4 .6-3 1.9 .4-2.9-2.3-1.6-.5-3.4 .1-.4-.7-2.3-3.2-3.1-1.7-1.8-1.9-.6-3.2-3.7-1.7-1.2-1.4-1.1-.8-3.5-2.6 .7 .5-4.7-.7-2.7-.5-1.5 2.2-3.5 1.6-2.1 3.2-1.4 0-1.7 1.1-.4 2.5-1.9 1.1-.6-1.1-2.4-1.1-2.5-1.2-4-1.6-.8-1.4-2.4"/>
<path fill="#985afc" d="M290.4 716.9l3.3-3.2 2 .2 2.6 2.2 3.2-2.6 .9 2.9 3.4 .8 .2 1.8-3.9 1.5 .1 2.2-1.5 .2-3.6 2.7 0 1.2-2 2.2-.5 3 .5 1.3-2.7 3.4-2 4.2-1.2 .4-.7-2.8 2.2-1.6-.5-5-1.1-1.6 .1-3.1 .1-2.6-.2-3.8 1.2-2.7Z"/>
<path fill="none" stroke="#56646a" stroke-width="1.4" d="M290.4 716.9l3.3-3.2 2 .2 2.6 2.2 3.2-2.6 .9 2.9 3.4 .8 .2 1.8-3.9 1.5 .1 2.2-1.5 .2-3.6 2.7 0 1.2-2 2.2-.5 3 .5 1.3-2.7 3.4-2 4.2-1.2 .4"/>
<path fill="#ff6adb" stroke="#56646a" stroke-width="1.4" d="M349.7 866l2.9-1.1 2.1-3.1-1.1-.7 2.8-1.9 1.7-.4 2.7-1.2 2.3-1.3 .7 0 2.4-1.7 2-1.2 2.9-1.9 .6-2.4 3.4-.9 2 1.3 3.6 .7 1.1 2.2 2.5-1.6 5.4 2.7 1-.7 .5 .8 5.2 3.2 1.5 .7 .2 1.7 3.6 1.7 1 1.2 1.6 2 1.2 3.1 3.2 1.5 .3 0-1.7 5-.4 2-1.2-.6-1.5 0-4-1.4-2.7-2.1 1.1-2.1-5.3 .2-.4-1.4-1.7-1.9-2.3 0-4.3-.9-1.6 1.4-1.8 .5-5.1 1.4-2.6 .6-.2 .9-2.5-1.6-4.2 5-.4 1.2-.3 1.1-3.5 2.8-1.7-1.1-3.5 2.1-1.5-3-.4-.9-2.6-3.5 .8-2.9-1.9-1.7Z"/>
<path fill="#f92035" stroke="#56646a" stroke-width="1.4" d="M253.3 701.4l.9-.8 1-.3 .7 1.9 2.5 .9 .8 1.9 2.9 1.8 2.6 .3 2.5 3.8 2 2.7-3.3 .5-2.4 1.1-2.4-1.1-1.6 1.8-1.1 1.4-3.8 3.3 .2 1 .2 1.5-.3-2.2-2.7-3.3 .5-3.5 1.3-1 .3-1.8 .7-3.7-.9-1.9-.7-1.5Z"/>
<path fill="#f92035" d="M293.3 696.5l0-3.8 1.9-1.6 2.1-.7 1.4-2.1 1.7 1 3.8-1.5 2.6-1.3 1.5 .2 3.7 .1 2.4-2.4 3.1-2.9 .8-.1 1.3-.3 3.8-2.1 2.6-1.6 1.9-.3 2.2-.5 1.3 3.9 3.2-.5 2.9 1.3 1.9-2 3.8-1.1 1 0 2.5-1.1 3.3-1.3 2.1-.3 4.2 .4-1.6 1.9 .1 4.5 1.9 .9-1.4 3.3 1.7 2.5-.7 3.8 .3 2.3-.9 4.3 .2 2.7 1.9 2.2-2 3.4-.4 3 1 2.6-.2 2.6 .5 3.9-1.5 1.8 1.6 3.4 .1 4.2-.8 1 .4 4-.6 2.5-1.3 .3-1.7-.8 .1-1.1-2.5-2.1 0-1.6-2.3-2.8-1.3-3.8-.3-3.9-1.5-1.5-1.4-3.3-2.9-3.1 .9-.7-2.9-.5-2.7-2.8-1.6-.6-3-2.4-.4-2.8-2.2-2.3-.1-2.5-1.1-2.1-1.1-2.4-3.4-.5-3.2-1.5-1.3-.4-1.1 1-4 1.5-2.1 1.7-2.5 .3-2.9 3.1-1.5 .8-2.7 .3-.3 2-2.2-1-3.1 .4-2 .1-1.5-.5 .2-3.1Z"/>
<path fill="none" stroke="#56646a" stroke-width="1.4" d="M293.3 696.5l0-3.8 1.9-1.6 2.1-.7 1.4-2.1 1.7 1 3.8-1.5 2.6-1.3 1.5 .2 3.7 .1 2.4-2.4 3.1-2.9 .8-.1 1.3-.3 3.8-2.1 2.6-1.6 1.9-.3 2.2-.5 1.3 3.9 3.2-.5 2.9 1.3 1.9-2 3.8-1.1 1 0 2.5-1.1 3.3-1.3 2.1-.3 4.2 .4 M355.9 736.7l-1.3 .3-1.7-.8 .1-1.1-2.5-2.1 0-1.6-2.3-2.8-1.3-3.8-.3-3.9-1.5-1.5-1.4-3.3-2.9-3.1 .9-.7-2.9-.5-2.7-2.8-1.6-.6-3-2.4-.4-2.8-2.2-2.3-.1-2.5-1.1-2.1-1.1-2.4-3.4-.5-3.2-1.5-1.3-.4-1.1 1-4 1.5-2.1 1.7-2.5 .3-2.9 3.1-1.5 .8-2.7 .3-.3 2-2.2-1-3.1 .4-2 .1-1.5-.5 .2-3.1 .3-1.6"/>
<path fill="#ff6adb" d="M276.1 792.8l2.7-.9 1.8-1 3.3-1.6 3.5 2.4 1.2 .7 3.4-.4 .2-.5 3.6-2.9 .7-1.6 3.3-.2 2.3 0 1.1-2.1 2.6-1.7 2.2 .2 2.7-1.5 3.7 .2 1.9-.6 1.4 1 3-.2 2.7-1.3 3 .7 3.2 2.6 .6 1.7 2.5 .4 1.2 1.5 2.9 4.1-1.5 2.2 1.8 1.6 1.6 1.2 2.4 2 2.7-.5 2.3 1.6 1.9 1.6 1.8 .1 3.7 3.1 3.1-.4-.7 2.8 .7 5.6-.9 1 .4 2.8-.2 2.5-.4 3.9 .8 1.9-3.4 .4-2.7-1.1-2-1.7-3.2-1.3-.3-1.5-2 .1-3.1-.9-3.9-1.9-1.8-1.5-3.1-1.2 2.3-1.8 2.9-.8 .4-2.4-2.6-2.3-2.9-1.1-2.6-.3-1.8 .3-2.7 1.1-2.9 .3-.7 1.7-1 2.7-3 .4-2.1 1.4-2.1 2.6-1.6 2.5-1.2 1.6-.4-1.1-2.2-1.6-2.1-1.9-1.3-4.6-1.9-2.5-2.3-2.4-.4-1.7-.8 .2-4-.6-1.5-2.9-1.8-.4-2.3-.4-1.7 1.4-3.2-.2-4.3 1.9-1.3-2-1.4-3.3Z"/>
<path fill="none" stroke="#56646a" stroke-width="1.4" d="M276.1 792.8l2.7-.9 1.8-1 3.3-1.6 3.5 2.4 1.2 .7 3.4-.4 .2-.5 3.6-2.9 .7-1.6 3.3-.2 2.3 0 1.1-2.1 2.6-1.7 2.2 .2 2.7-1.5 3.7 .2 1.9-.6 1.4 1 3-.2 2.7-1.3 3 .7 3.2 2.6 .6 1.7 2.5 .4 1.2 1.5 2.9 4.1-1.5 2.2 1.8 1.6 1.6 1.2 2.4 2 2.7-.5 2.3 1.6 1.9 1.6 1.8 .1 3.7 3.1 3.1-.4 M356.3 824.8l-3.4 .4-2.7-1.1-2-1.7-3.2-1.3-.3-1.5-2 .1-3.1-.9-3.9-1.9-1.8-1.5-3.1-1.2 2.3-1.8 2.9-.8 .4-2.4-2.6-2.3-2.9-1.1-2.6-.3-1.8 .3-2.7 1.1-2.9 .3-.7 1.7-1 2.7-3 .4-2.1 1.4-2.1 2.6-1.6 2.5-1.2 1.6-.4-1.1-2.2-1.6-2.1-1.9-1.3-4.6-1.9-2.5-2.3-2.4-.4-1.7-.8 .2-4-.6-1.5-2.9-1.8-.4-2.3-.4-1.7 1.4-3.2-.2-4.3 1.9-1.3-2-1.4-3.3-.2-5.2"/>
<path fill="#f92035" stroke="#56646a" stroke-width="1.4" d="M398.5 512.8l2.7-1 3.4-2.1 .8-1.6 1.5 .6 3.3-1.7 1.4-2 2.5-3.5 2.4 .5 1.1-2.4-.1-3.1-.3-1.3 2.9-2.9 2.4-3.4 .9 2.4 3.8 2.6-.5 2.9-.1 1.9 .1 2.2 1 .7 .8 1.2-1.2 3.8-1.7 1.9 1.2 2.5 2.7 .9 .8 3 3 1.8 2.3 1.7-1.4 2.2-2.9 3-2.6 .9 .2 1.3-1.6 .7-.5 2.2-1.2 5.2-.7 1.4-.7 2.1-3.2 .9-1.2 1.2-1-2.5 .2-2.8-.9-3.9-.7-.4-1.6-1.9-1.9-1.6-.9-2.6-.3-2.4-1.3-1.2-1.5-1.9-2-.6-.7 .7-2.7-2.8-3.8-1.5-1.2 0Z"/>
<path fill="#f92035" stroke="#56646a" stroke-width="1.4" d="M461 554.6l3.3-1.5-.3-4.3 .3-1.9 3.2 1.5 2.4-2.9 1.3 2.7 1.3 1.6 3.5 2.4 1.4 .6 3.2 .4 1.2 3.2 4.1-1.8 3.3 2.1 2.4-3.8-.2 2.4 3.5 1.4 1.5 1.7 2.8-2.9 1.1-1.3 2.8-2.1 2.6-1.5 3.6 3-.1 1.3 .8 1.1 .8 3.2 1.8 1.5 1.6 1.7 .5 2.2 2.2 2.2 .5 1.3 4 4.7 .5 .2 2.2-.6 2.6 1 3.6-.6-3.8 4-.7 2.8-2.8-.7-3.1-.1-.2 .1-2.6-1.5-4.1 .6-.7 1.2-2.4 2.5-3 .3-2.8 2.2-1.8 .7 0 2.4-.3 2.6-.4 2 1 1.9-2.8 2.5-.7 2.6-.5 .8-2.6-3-1.7-1.2-1.7-1.7-4.3-.9 .7 .8-4 .9-.2 1.5-2.8 2.8-3.3 2.3 .2-2.4-1.9-2.1-3.5-2.6 .5-2.6-1-3-1.4 .2-1.8-2.2-1.2-3.2-2-1.6-.3-2-.1-4.4-1.8-2.2-2.8-3.3 .3-3.2 1-1.9-1-2 .3-3.4-1.1-1.6Z"/>
<path fill="#04308a" stroke="#56646a" stroke-width="1.4" d="M429.3 577.5l0-.6 2.2-1.6 .4-3.5 2.7-1.3 .9-2.2 3.9 .3 1.9-.2 3.5 .6 1.4-4.2-.6-.9-1.1-2.3 1.8-2.7 3.1-3.4 .3-2.7 .9-.6 4.2-.4 1.7 .8 2.7 .2 1.8 1.8 .1 3.1 1.1 1.6-.3 3.4 1 2-1 1.9-.3 3.2 2.8 3.3 1.8 2.2 .1 4.4 .3 2 2 1.6 1.2 3.2 1.8 2.2 1.4-.2 1 3-.5 2.6 1.6 1.2 .7 3.6 1.4 1.8 1 1.4-3.2 2.5-2-.9-1.7 2-1-2.2-2-1.5-2.2-3.5-1.5-.5-1.4-1.1-1.3-2.5-2.7-.1-1.8 1.9-1.8 2.2-1.7 1.1-.4 .4-2.5 2.4-2.4-.3-3.2 3.6 1.1-3.5-1.9-2.9-3.1-1.8-.4 0-1.4-3.4-.8-2.1-2.6-2.7-.8-1.5-1.2-.2-3-1.2-2.3-2.4-.4-4.4 2.2 0Z"/>
<path fill="#0d6cfb" d="M475.3 608.1l3.2-1.9 .8-2.7 3.4-.3 .8-4 .1-1.7 2.7-1.7 2.3-1.6-.4 .5 4.6 .3 3.6 1.2 .7 .1 1.7 1 1.5-.5 .5-2-1.2-.6-.4-3.2 1.1-1.3-.9-1.7-.4-4 2.4 .1 2.9-.5 1.8-2 2.3-.8 3.7-2.3 .5-.2 3.7 .2 2 1 .9 .3 3-1.2 1.8-3.2-1.1-1.1-2.1-1.5-2.6-2.8-1.3-2.7 0-3.4-.8-2.9-2.5-.6 3.7 1.1 3-2.8 3.4 1.4 3-.5 3.3-.4 3.1-.5 1.5 .6 4.2-.6 2.7-.4 2 3.3 1-.7 3.6-1.4 4.3-.2 2.2-.2 3.4-.7 4.4 2.9 .9-3.2 2.1 3-1.8 5.2-2 .9-1.2 4.6-2.2 .3-1.1 1.9-.8 2.9 .2 .8-.9 4-1.7 1-.3 3.3 3.7 3-.3 0 2.2 2.6 1.8-1 2.9-.3 1.9-2 4.2 1 2.3 3.6 .7 .9 0 1.3 .6 2.9 .9 3.8-.4 1.8 2.3 2.5-1.3 1.9 2.2 1.8 .6 4.3-1.7 3.3-3.3 2.6 1.2 .8-2.3 3.5-1.4 3 .5 1.1-3.2 1.2-1.2 1.5-2.3 .9-1.3 1.3-2.8 .1-2.2-.1-1.7 .5-2-3.2-1.3-2.1-1.2-1.5-.3 0-4-2.1-2.3-1.7-1.4 .3-2.3-.7-2.6 1-2.1 .5-1.2 1.5-4.5 0-3.4 .8-1.1 1.5-2.5 .3-3.3 1.3-1.1-2.1-3.4-1.9-2.8-1.8 .1-3-1.5-1.9-.1-1.1-3.2-1-.4-1.9-2.7-.4-2.4-.1-3.4-.3-1.9-3-1.3-.3-3.1 1.5-3.4-2.2-2.9 .6-3.9-.7-1.9 1.3-1.5-1.8-1.9-.2Z"/>
<path fill="none" stroke="#56646a" stroke-width="1.4" d="M475.3 608.1l3.2-1.9 .8-2.7 3.4-.3 .8-4 .1-1.7 2.7-1.7 2.3-1.6-.4 .5 4.6 .3 3.6 1.2 .7 .1 1.7 1 1.5-.5 .5-2-1.2-.6-.4-3.2 1.1-1.3-.9-1.7-.4-4 2.4 .1 2.9-.5 1.8-2 2.3-.8 3.7-2.3 .5-.2 3.7 .2 2 1 .9 .3 3-1.2 1.8-3.2-1.1-1.1-2.1-1.5-2.6-2.8-1.3-2.7 0-3.4-.8-2.9-2.5-.6 M563.3 558.1l2.1 3-1.8 5.2-2 .9-1.2 4.6-2.2 .3-1.1 1.9-.8 2.9 .2 .8-.9 4-1.7 1-.3 3.3 3.7 3-.3 0 2.2 2.6 1.8-1 2.9-.3 1.9-2 4.2 1 2.3 3.6 .7 .9 0 1.3 .6 2.9 .9 3.8-.4 1.8 2.3 2.5-1.3 1.9 2.2 1.8 .6 4.3-1.7 3.3-3.3 2.6 1.2 .8-2.3 3.5-1.4 3 .5 1.1-3.2 1.2-1.2 1.5-2.3 .9-1.3 1.3-2.8 .1-2.2-.1-1.7 .5-2-3.2-1.3-2.1-1.2-1.5-.3 0-4-2.1-2.3-1.7-1.4 .3-2.3-.7-2.6 1-2.1 .5-1.2 1.5-4.5 0-3.4 .8-1.1 1.5-2.5 .3-3.3 1.3-1.1-2.1-3.4-1.9-2.8-1.8 .1-3-1.5-1.9-.1-1.1-3.2-1-.4-1.9-2.7-.4-2.4-.1-3.4-.3-1.9-3-1.3-.3-3.1 1.5-3.4-2.2-2.9 .6-3.9-.7-1.9 1.3-1.5-1.8-1.9-.2-2.7-1.3"/>
<path fill="#0d6cfb" stroke="#56646a" stroke-width="1.4" d="M513.4 623.9l2.8 1.8 3.4 1.9 1.1 2.1 3.3-1.3 2.5-.3 1.1-1.5 3.4-.8 4.5 0 1.2-1.5 2.1-.5 2.6-1 2.3 .7 1.4-.3 2.3 1.7 4 2.1 .3 0 1 1.9-.8 1.9 2.3 4.3-.3 2.3 1.6 3.2 .1 1.3 0 3.3 .6 3.4-.7 2.1 1.3 2.6-4 4.2 .6 1-2.7 .4-1.1 1.9-2.9 1.2-2.3 1.7-3.4-1-2-1-2-1.1-2.7 .2-3.9-1.5-3-2.6 1.1-.9-2.4-2.5-2.6-.5-2-3.8 .4-.2-.8-3.1-2-1-2.6-3.3-.2-2-3.1 .1-.4-4.2 1.1-2.9 1.3-2.7-1.4-2.6Z"/>
<path fill="#0d6cfb" stroke="#56646a" stroke-width="1.4" d="M522.4 673.8l2.6-1.5 1.6-1.6 2.8 0 1.4-4.1 2.2 1.8 1 1.3 1.7 .5 3.5-.8 2-.4 2.2-.5 .4-1.8 2.2-2.6 2.4-1 1.2-2.3 .8 .3 1.9-1 4 0 2.3 1.4 2.9-.7 3.4 1.6 1.9-1.2 4.8-.4 2-.5 1.4 2.9-2.4 1.3 1.6 4.3-1.6 1.7-2.9 2.7-1.5 1.2-5.2 1-1.5 2.3-1.5 2.3-1.4 1.6 .1 .8-1.3 1.5-.4 1.4-2.1 2.5-1.6 3.5-.3 2.7-2.7 .4-1.5 1.3-2.4 3.2-.2 2.4-1.6 1.1-1.5 2.8-.7 1.4-1.5-.6-1.6 2.4-3.1 .1-2.5 2.7-2.2 2-.4 3.2-3-2.1-2-1.6 .4-3.1-1.9-1.9-1.6-3.4 2.1-1.8-1.3-3.7-1-2.1-.7-2.7 .4-2.8 .7-1.5 1.7-3.8-.2-2.2-3.2-2.8-1.1-3 .6-.2 .3-.3Z"/>
<path fill="#0d6cfb" stroke="#56646a" stroke-width="1.4" d="M366.1 661.7l1.2 .1 2.2-1.4 2.3-2.2 .7-1.5 .9-2 3.3-2.5 2-1.2 3.2 0 3.5-1.8 1.1-.2 3.6-2 2.6-3.5 2.4-.4 1-.1 3.7-1.8 .9-2.5 3.4 .5 0-1.9 3-.8 3.8 .1 .8 1 3.1 .6 3.1 1 2.6 1.2 3.1-.7 .3 .7 2.5 .2 1.4-.6 .6 1.4 3.9 .8 2.2 2.6 1.6 1.2 1.5 1.8 2.5 3.7-.9-.2 2 3-1.1 2.9 .6 2-.3 4.3-2.2 1.7-2.8-1.2-4.3 2.5 1 3.4-1.4 2.3-1.3 2-2.9 1.9-1.1 1.8-.8 1.7-1.5 .6-1.5 4.6-1.1 2.4-.1 1.7-2.1 1.2-.1 3.6-.9 2.8 .6 3.8-.9 2.5-.1 1.9-2.3-1.5-1.6 1.1-3.1-.1-1.1 1.3-4.3-.5-1.5 .4-2.5 .2-3.1 2.5-2.9-3.8-.9 .2-4.2-.5-1.8-2.2-1.9-.7-4.8-1.2-2.6-.7-2.5 1 .3 .9-2.2-1.2-1.6-.5-1.6-.5-2.3-2.7-.8-1.6-.9-2.4-.4-4.1-.5-1.7-1.6-1.8-.1-2.6-.4-2.8 .5-2.8 .9-3.5 .5-1.5-1.2-2.8-.5-2.6Z"/>
<path fill="#0d6cfb" stroke="#56646a" stroke-width="1.4" d="M420.4 688.9l.1-1.7 1.1-2.4 1.5-4.6 1.5-.6 .8-1.7 1.1-1.8 2.9-1.9 1.3-2 1.4-2.3-1-3.4 4.3-2.5 2.8 1.2 2.2-1.7 2.3-.6 .7 2.5 4.1 .7 2.1 1.5 1.7 .6 3.1 .4 2.8-.3 2.6-.7 2 2.6 2.3 2 4 1 1.9 .6 1.8 .7 2.2 2.2 .9-2.1 3.4-.4 2 .4 .4-1.6 3.8-1.8 2.8-.3-.6-2.7 2.2-.2 3 .7 4.8-1-.8 .8 5.5 2-.2 1.3 5.6-2.1-.1 2 4 .2 2.4-2.2 1.1-2.7 2.4 2.4 2.4 .4 2.4 .3 0 3.1-.5 3.2 .3 1.1-.8 .4 1.1 3 3.2 2.8 .2 2.2-1.7 3.8-.7 1.5-.4 2.8 .7 2.7 1 2.1 1.3 3.7-2.1 1.8 1.6 3.4 1.9 1.9-.4 3.1 2 1.6 3 2.1-.9 .4-2.9 2.5-1.8 2.5-.5 .6 0 3.3-2.7-2.2-3.7-3.3-1.9-.4-1.5-1.7-1.2-1.2-2.9-.7-1.9-2.5-1.6 .3-3.2 1.9-2.5-.7-.8 .9-2.4-2.5-2.1-.1-2.4-.3-.6-3-2-1.1-3.2-3.2-2.6 1.5-.6 1.6-3 1.2-2 2.2-3.5-1.8-1.6 4.7 .2 2.1-1.9 3.5-1.8 2.9-1.8 .5 .2 2.9-.4 .2-1.6 3.5-1-3-2.1-3.7 0-2 .1-1.7-1.9-3.8-2-.1-1.1-2.9-.5-.7-3.4-2.1-.5-.1-2.3-2.7-.8 1.2-2.7 4.5 1.5 3-2 .2-1.8 1.2-1.5 2.5 0 3-2.1 1.4-1.6 1.5-3.8 2-1.1 .6-.8 1.7-3.9 .5-1.9-1.2-2.1 .7-3.4-.1-1 0-1.9 .1-2 .2-1.5-2.8 .2-1.7 .1-5.6-.6-2.2 .2 .4-1.6-3-.5-3.7-1.6-3.5 1.2-2.1 0-3.3-2-2.3 1.9-1.2-.5-4.4 1.6-.8 .4-3.9Z"/>
<path fill="#0d6cfb" stroke="#56646a" stroke-width="1.4" d="M469.8 724.3l1.8-.5 1.8-2.9 1.9-3.5-.2-2.1 1.6-4.7 3.5 1.8 2-2.2 3-1.2 .6-1.6 2.6-1.5 3.2 3.2 2 1.1 .6 3 2.4 .3 2.1 .1 2.4 2.5 .8-.9 2.5 .7 3.2-1.9 1.6-.3 1.9 2.5 2.9 .7 1.2 1.2 1.5 1.7 1.9 .4 3.7 3.3 2.7 2.2-.5 2.2-.8 2.5 1.2 3.2 .4 .7 2.8 1.4-.3 3.4 .5 3.5-.5 3.6 .8 2.6 2.2 1.3-2 3.1 .2 3.8 .4 1.5 .8 2.6-.4 3.6-.2 2.5 .7 2.2-1.2 2.2-.6 1.9-.4 2.5-3.5 .9-2.7-.5-1.4-1.6-1.9-.3-2.4 1.2-3.2-1.7-1.4-.9-2.8 .1-.8 1.8-1.8 1.8-2.2-2.7-3.5-.5-1.5 1.6-4.9-.8-1.9-.4-4.4-2.6 1.4-.1-4.2-4.3-2.1-1.2-.1-1.6-2.2-1.5-.7-2.6-1.5-2.3-1.1-2.4 1-2.9-.6-2.5-.4-3.4 .1-1.6-2.3-.6 .3-2.8-2.9-4.6-1.2-1.8 .4-1.2-1.3-2.3-.6-2.9 1.1-.4Z"/>
<path fill="#0d6cfb" stroke="#56646a" stroke-width="1.4" d="M525 725.7l0-3.3 .5-.6 1.8-2.5 2.9-2.5 .9-.4-.5-1.9 2.1-1.2 3 0 4.2 1.3 3.3-.7 1.1 1.9 2.7 2.8 1.6 0 3.5 .1 2.6 1.5 .7 1 1.8 2 3.2 .5 2.4 4 1.1 1 .3 1.3 2 1.7-.3 1.8-.3 2.7 1.7 .4-1.8 3.6-.9 1.8 0 4.4-.9 1.2-3 2.6-.4 1.3-1.5 1.8-.6 2.9-1.5 .4-.9 1.1-1.8 2.6-2.1 .9-1.5-3.4-2.3 1.3-2.7 1.2-2.6 1.6-2.5 2.4 1.8-.9-3.7-3.5-1.6-.3 .3-2.6-3.4-4.1 .1 .9-2.2-4.2-1.9-1.3-1.9-2.1 .5-3.6-.5-3.5 .3-3.4-2.8-1.4-.4-.7-1.2-3.2 .8-2.5Z"/>
<path fill="#0d6cfb" stroke="#56646a" stroke-width="1.4" d="M350.4 740.4l1.5-3.3 2.1-.4 2.7-.4 .3-3.5 1.2-1.3 3-1.9 1.1-2.1 1.2-2.1 3.1-2.9 3-.5 1.1-2 .6-2.3 4.3-1 .9-2.5 .3 2.3 3.4-.2 .6 4.3 2.7 .9 .9 2 .9 1.6 2.1 1.1 1.1 1.9 2.8 2.2 2 .3-.3 3.2-.1 2.2 .2 4 .3 .3-.3 2.1 .9 4.5 .7 1.9-.4 1.7-1.6 3.6-1.7 1-1.9 1.3-3.2 .8-2.5 1.3 .1 .2-2.9 2.5-1.4 .2-3.2 1.3-1.6 1.3-2.6 1.3-.3 2-2.2 1.2-2.1-2.3-3.9-.1 2.2-1.8-3.1-2.9-.8-1.1-3.2-3.7-2.7-1.8-.1-.3-1.9-2.5-1.1-2.2-.5-1.8 0-2.1-1.6-4Z"/>
<path fill="#0d6cfb" d="M376.4 559.3l1.6 1.1 5.5-.6 1.4-1.3 2.9 2.8 3.5-2.2 4.1 1.5 2.9-1 2.9 1.3 2.2 .7 1.9-2.3 1 2.7 4.5-1.5 2.7 .6 3.9-1 5.1-2-4 2.5 2.4 3.8-2.4 1.4 .8 3.8-.3 1.7 1 2.8 1 4.2-1.3 .6-5-2.5-2.7 1.5-2.3 1.1-3.2-.3-3-1.5-.4-.1-3.5 .4-2.4-.5-3.3 1.5-2.7 .2-2.2 1-1.8-.9-4.4-.3 1.2-1.3-1.9-4.4-1.6-2.7-2.2-2.4-1.5-1.7 2.1-.7-.3-1.7Z"/>
<path fill="none" stroke="#56646a" stroke-width="1.4" d="M422.5 558.1l-4 2.5 2.4 3.8-2.4 1.4 .8 3.8-.3 1.7 1 2.8 1 4.2-1.3 .6-5-2.5-2.7 1.5-2.3 1.1-3.2-.3-3-1.5-.4-.1-3.5 .4-2.4-.5-3.3 1.5-2.7 .2-2.2 1-1.8-.9-4.4-.3 1.2-1.3-1.9-4.4-1.6-2.7-2.2-2.4-1.5-1.7 2.1-.7-.3-1.7-2.2-4.3"/>
<path fill="#985afc" stroke="#56646a" stroke-width="1.4" d="M441.3 652.4l3.6-.4 1.9-3.9-2.6-1.7 3.2-4.7 1.5-.8 2.5-2.2 .7-3.1 .1-1.4 2.5-1.4 3.2-1.4 .5-1 1.9-.6 2.9-.3 3.1-.9 2-1.1 1.5-.7 2.3 3.6 2.7-.1 1.6 2.6-.9 1.7 .8 2.9 1.5 2.3 .8 .6 4.7-2.2 2.9-.5 .1 .1 1.6 .3 3.3 4 .4 1.3 2.1 .3 .7 1.8 .5 1.7 3.9 4.5-.4 2.4 2.5 1.3 .9 1-.4 1.6 .1 4.5-.1 2.9-.3 2.2-1.1-.5-4.1 1.4 .8-.8-4.8 1-3-.7-2.2 .2 .6 2.7-2.8 .3-3.8 1.8-.4 1.6-2-.4-3.4 .4-.9 2.1-2.2-2.2-1.8-.7-1.9-.6-4-1-2.3-2-2-2.6-2.6 .7-2.8 .3-3.1-.4-1.7-.6-2.1-1.5-4.1-.7 .5-3-1-1.7-1.2-2.7-.8-1.2 1.6-2.8Z"/>
<path fill="#985afc" stroke="#56646a" stroke-width="1.4" d="M376.1 701.1l-.3-.9 2.5-1 2.6 .7 4.8 1.2 1.9 .7 1.8 2.2 4.2 .5 .9-.2 2.9 3.8 3.1-2.5 2.5-.2 1.5-.4 4.3 .5 .1 .1 3.3-.2 2.1 .9-1.3 4.2 1.4 1.2 1.8 4.8 1.9 2.2-.5 .8 .3 1.5 1.2 5.6-.2 1.7 1.5 2.8-2.6 1.8-.9 1.8-1.6 1.8 1 1.3-3.6 1.6-1.7 .5-3.9 .5-.4 1.3-4 2-1.4 2.8 1.3 2.3-1.1 .7-3.6 2 .6 1.4-1.4-1.5-2.4-2.6-.7-1.9-.9-4.5 .3-2.1-.3-.3-.2-4 .1-2.2 .3-3.2-2-.3-2.8-2.2-1.1-1.9-2.1-1.1-.9-1.6-.9-2-2.7-.9 1.2-5.1-2.9-.2 .6-1.2-1.1-4.7-1.1-2.7-.4-2.3 .4-.4Z"/>
<path fill="#985afc" stroke="#56646a" stroke-width="1.4" d="M437.4 729.2l1.1-.6 3.8-2 1.6-1.5 2.1-1.4 0-3 1.5-2.5 1.8-1.2 2-.2-1.5-3 2.7-4.5 .8-1.2 2.3 2.7 .5 .1 3.4 2.1 .5 .7 1.1 2.9 2 .1 1.9 3.8-.1 1.7 0 2 2.1 3.7 1 3 .5 1.1 2.8 2.2 .1 1.4 1.1 1.4 2.9 4.6-.3 2.8 2.3 .6-.1 1.6 .4 3.4 .6 2.5-1 2.9 1.1 2.4 1.5 2.3 .7 2.6 2.2 1.5 .1 1.6 2.1 1.2 4.2 4.3-1.4 .1 2 2.7-2.2 3.6-1.2 1.9-.8 2.9-.5 1.1-.3 2.8-1.5 3 .3 2.1 1.6 4.1-3.5 .5-1.3 3.2-1.1 2.5-1.6 1.9-2.1 1.9-.6 1.8-3.7 1-1.5 1.7-3.8-.8-1.7 .4-.9 .7-4.6-.4-2.9-.4-2.3-1-1-2.4-1.5-.2-4.8-3.6-1.1-1.9-1.8 .6 2.3-2.3-.1-2.5-3.1-4-2-1.5 .4-4.5-3.1-1.6-.8-4.1-.8-1.5-.1-3.5 1-.8 .1-3.3 1-4.1 1.4-.7 .1-2.3-.3-3.2-.2-3.4 .1-.8-1.2-2.1-1.5-4-4.7-.1 2-1 1.3-4.3-.1-3.5 2.8 .1 2-1.8 1.6-3.7-1.5-1.7-.1-1.7Z"/>
<path fill="#f92035" stroke="#56646a" stroke-width="1.4" d="M330.9 634.7l.6-4 2.9-.8 .5-2.1-.5-3.8 3.1-2.1 1.6-.9 2-.8 1.2-1-1.3-4-.6-1.1-.8-2.5-2.7-1.7 .2-2.5-.2-3.3 .5-4 1.2-1.2 .9-2.9 1.8-3.2 1.7-1.1-.5-2 3.9-2.4 1.7-1.3 2.8-.2 3.8 .5 .9-1.1 2-.5 2.5-.7 3.2-.3 4 1.3 1.7-.7 2.2-2.6 1.2 .2 3-.5 3.7-.5-.2 .7 1.4-.5 2.5-2.6 4.4 .3 1.8 .9 2.2-1 2.7-.2 3.3-1.5 2.4 .5 3.5-.4 .4 .1 3 1.5 3.2 .3 2.3-1.1 2.7-1.5 5 2.5 1.3-.6 1.1 .9 1.6 2.2 6.3 .1-2.7 .7 2.1 4.9 2.5 3.2 1 1.4 2.9 0 2.1 2.4 .4 1.9 .9 3.5 .8-.9 1.2 3.4 .7 2.3 1.1 2.2-.8 2.1 .6 2.2-.6 1.7-2.8 2.1-1.6 2.6-.6 2.3 1.8 4.1-2.4 1.9-.7-.2 .2 4.6-.8 2-1.2 3.1-.8 2.1-1.5 1.6-.8 2.2-2.6 .5-.6-1.4-1.4 .6-2.5-.2-.3-.7-3.1 .7-2.6-1.2-3.1-1-3.1-.6-.8-1-3.8-.1-3 .8 0 1.9-3.4-.5-.9 2.5-3.7 1.8-1 .1-2.4 .4-2.6 3.5-3.6 2-1.1 .2-3.5 1.8-3.2 0-2 1.2-3.3 2.5-.9 2-.7 1.5-2.3 2.2-2.2-.1-2.9-1.9-3.6-.8-1-1.8-1.9-1.3-3.9-1.3-.9-1.9-2.2-1.5-2.1 0-2.3-1.7-3.2-1.1-4.3 .5-.3-1.8-.9-.8-2.8 0-4.3-1.2 2.1-2.5-.5-2.4Z"/>
<path fill="#f92035" stroke="#56646a" stroke-width="1.4" d="M441.9 604.3l4.8-1.8-.3-2 3.9 .2 1.7-.7 .8-1.2 3.3-2.4 2.5-1.9 3.3-.9 3.5 .9-2.7 2.1 .8 .5 2.4 2 .1 1.5 4 1 1 1.5 2.2 .5 2 2.6 1.6 2.6 3.1 .8 1.5 1.8 1.9-1.3 3.9 .7 2.9-.6 3.4 2.2 3.1-1.5 1.3 .3 0 5.2-3 .9-4.7 .9-.9 1.4-2.1 .4-2.1-.4-2.6 .4-1.1 1-1.3 4.6-1.8 1.5-2.1 2 .1-.5-3.9 1.2-2.6-3-1.5 .7-2 1.1-3.1 .9-2.9 .3-1.9 .6-.5 1-3.2 1.4-2.5 1.4-.1 1.4-.7 3.1-2.5 2.2-1.5 .8-3.2 4.7 2.6 1.7-1.9 3.9-3.6 .4-.3-1.2-.6-.4-2.8-3 2-3.6 1.8-3-.9-2-2.5-1-2.9-1.8-1.8 .7 .8-2.1 1.2-3.1 .8-2-.2-4.6 .7 .2 2.4-1.9-1.8-4.1 .6-2.3 1.6-2.6 2.8-2.1 .6-1.7-.6-2.2 .8-2.1Z"/>
<path fill="#f92035" d="M460.5 567.1l2.2-2.2 .6-.9 1.3-2.2 1-.1 5.5-1 2.6 0 2.6 .4 1-2.1 3.8 1.1 3.9 .1 2.1-1.2 2.6 1.8 4.4-1.2 1-.3 5.4 2.2 .4-.8 4.8 .7 2.2-1.8 2.7 .3 3 .5 2.5 .6 .8 2.9 0 3.4 1.3 2.7 2.6 2.8 2.1 1.5 1.1 1.1-1.8 3.2-3 1.2-.9-.3-2-1-3.7-.2-.5 .2-3.7 2.3-2.3 .8-1.8 2-2.9 .5-2.4-.1 .4 4 .9 1.7-1.1 1.3 .4 3.2 1.2 .6-.5 2-1.5 .5-1.7-1-.7-.1-3.6-1.2-4.6-.3 .4-.5-2.3 1.6-2.7 1.7-.1 1.7-2.6 0-1.5-1.3-2.3-1.5-3.1-2.6 .3-3.6-1.6-1.8-2-1.2 .3-1.9 .4-3.2-3.3-.7 1.8-3.5-3.3-1.7 1.1-1.5-2.8-1.4-1.4-2.3-2.2-2.5Z"/>
<path fill="none" stroke="#56646a" stroke-width="1.4" d="M460.5 567.1l2.2-2.2 .6-.9 1.3-2.2 1-.1 M513.6 560.4l2.5 .6 .8 2.9 0 3.4 1.3 2.7 2.6 2.8 2.1 1.5 1.1 1.1-1.8 3.2-3 1.2-.9-.3-2-1-3.7-.2-.5 .2-3.7 2.3-2.3 .8-1.8 2-2.9 .5-2.4-.1 .4 4 .9 1.7-1.1 1.3 .4 3.2 1.2 .6-.5 2-1.5 .5-1.7-1-.7-.1-3.6-1.2-4.6-.3 .4-.5-2.3 1.6-2.7 1.7-.1 1.7-2.6 0-1.5-1.3-2.3-1.5-3.1-2.6 .3-3.6-1.6-1.8-2-1.2 .3-1.9 .4-3.2-3.3-.7 1.8-3.5-3.3-1.7 1.1-1.5-2.8-1.4-1.4-2.3-2.2-2.5-.8-1.4"/>
<path fill="#04308a" d="M427.3 577.1l1.8-.2 2.6-1.7 1.1-3 2.3-.6 2.3-.7 4-1.6 1.5 0 2.5-1.6 1.4-4.2-1 .2-1.2-2.4 2.7-.8 2.7-.1 4.7 .7 2.7-1.2 1-.8 3.1-.1-1.5 2.6 1.1 2.8-.6 2.7 .8 1.4 2.2 2.5 1.4 2.3 2.8 1.4-1.1 1.5 3.3 1.7-1.8 3.5 3.3 .7-.4 3.2-.3 1.9 2 1.2 1.6 1.8-.3 3.6 3.1 2.6-.4 .9-1.7 3.2-.4 2 2.2 3.9-4.1-3.1-1-2.4-4.9 0-.9-1.8-2.4-2-.8-.5 2.7-2.1-3.5-.9-3.3 .9-2.5 1.9-3.3 2.4-.8 1.2-2 1.5-2.1 .1-1-2.2-1.2-1.7-2.6-1.4-2.2 .1-2.8-2.2-.6-4.5-2-2-.7 .4-2.5-1.3-3.3-2.6-1.3-3.8 2.7-.3Z"/>
<path fill="none" stroke="#56646a" stroke-width="1.4" d="M427.3 577.1l1.8-.2 2.6-1.7 1.1-3 2.3-.6 2.3-.7 4-1.6 1.5 0 2.5-1.6 1.4-4.2-1 .2-1.2-2.4 M461.5 559l-1.5 2.6 1.1 2.8-.6 2.7 .8 1.4 2.2 2.5 1.4 2.3 2.8 1.4-1.1 1.5 3.3 1.7-1.8 3.5 3.3 .7-.4 3.2-.3 1.9 2 1.2 1.6 1.8-.3 3.6 3.1 2.6-.4 .9-1.7 3.2-.4 2 2.2 3.9-4.1-3.1-1-2.4-4.9 0-.9-1.8-2.4-2-.8-.5 2.7-2.1-3.5-.9-3.3 .9-2.5 1.9-3.3 2.4-.8 1.2-2 1.5-2.1 .1-1-2.2-1.2-1.7-2.6-1.4-2.2 .1-2.8-2.2-.6-4.5-2-2-.7 .4-2.5-1.3-3.3-2.6-1.3-3.8 2.7-.3-3.1-3"/>
<path fill="#f92035" stroke="#56646a" stroke-width="1.4" d="M480.1 625.6l1.3-4.6 1.1-1 2.6-.4 2.1 .4 2.1-.4 .9-1.4 4.7-.9 3-.9 0-5.2 1.9 3 3.4 .3 2.4 .1 2.7 .4 .4 1.9 3.2 1 .1 1.1 1.5 1.9-.1 3 .4 3.2 1.4 2.6-1.3 2.7-1.1 2.9 .4 4.2 3.1-.1 .2 2 2.6 3.3 2 1 .8 3.1-.4 .2 2 3.8 2.6 .5 1.6 2.2-.4 2.7 .6 .7-1.4 3.4-.3 1-.7 .8-2.5 1.9 .6 3.7-2.2 .4-2.4-.3-2.4-.4-2.4-2.4-1.1 2.7-2.4 2.2-4-.2-.4-1.8-2.2-3.2 .7-2-3.7-1-.7-4.3 2-1.4-1.5-2.6-2.5-1.3 .4-2.4-3.9-4.5-.5-1.7-.7-1.8-2.1-.3-.7-1.4-5.6-3.9 2-.8 1.2-3.2 2.4-.1-3.2-.5-1.5-1.8-1.7-.2-1.5-3.1-1.9-1.6Z"/>
<path fill="#f92035" stroke="#56646a" stroke-width="1.4" d="M401.9 749.2l1.2 .6 .6-3.1-.3-3.5 3.3-1 .4-1.8 3.9-.5 1.7-.5 3.6-1.6 .9 .5 3.9-1.9-.1-.7 2.9-1.8 2.5-1.4 2.3-1.6 2.1-.7 1.9 1.2 3.9-.5 .8-1.7 2.5 4 .1 1.7 1.5 1.7-1.6 3.7-2 1.8-2.8-.1 .1 3.5-1.3 4.3-2 1 4.7 .1 1.5 4 1.2 2.1-.1 .8 .2 3.4 .3 3.2-.1 2.3-1.4 .7-1 4.1-2.2 2.3-2.7 1.5-1.3 1.4-2.5 .4 .4-3.6-3.2-.5-3.1 .6-.5-.8-4.9-1.8-1.7 2.2-2.7-2-3.2 2.9-1 1.7-1.8-4.6-3.2-3.6-.2-2.6 2-1.5-.8-2.8 1.6-.9-3.3-2.3-.3-5.5Z"/>
<path fill="#f92035" stroke="#56646a" stroke-width="1.4" d="M360 775.2l1.7-1.8 2.6-1.9 2.1-2.3 2.9-.7 2.2-1.2 .3-2 2.6-1.3 1.6-1.3 3.2-1.3 1.4-.2 2.9-2.5-.1-.2 2.5-1.3 3.2-.8 1.9-1.3 2.3 0 2.3 3.7 3.9-1.7-.5 1.1 1.6 3.5 3.2 3-.4 .3 .2 2.6 3.2 3.6 1.8 4.6 1-1.7 3.2-2.9 2.7 2 1.7-2.2 4.9 1.8 .5 .8 3.1-.6 3.2 .5-.4 3.6 2.5-.4 1.3-1.4-.6 4.8-.5 1.5-.6 .2-1.1 2.4-.8 2.4-.1 1.8-.2 2.1-2.1 2.5-2.3 2-.8 2.2-.5 2-1.5 1.7-.8 2.3-2 1.3-2.8 2.6-3.3 .4-1.5 .8-2.3 .9-1.2 .8-1.9-.3-1.4-2.4-2.5-1.6-.9-2.2-.6-1.6-2.2-.3-2.1-1.3-3.8-2.2 .3-3.2-2.4-2.1-2.1-.2-3.4-.5-3.5-.2-3.2-.7-.2 2.8-1-1.3-3.5-1.6-1.8-1.9-1.4 .7-.6-3.4 .2-2.8-2.9-1.3-3.1-1.6 .2-3.5-1.2-.9Z"/>
<path fill="#f92035" d="M378.1 806.7l2.1 .7 2.7-2.3 .4-1.5 2.8 .6 .1 1.8 4.1 2.3-1.6 3.2 .7 2-1.2 .8-3.6 1.9-1.4 .2-1.5-.3-3 1-.4-5 1.1-1.6Z"/>
<path fill="none" stroke="#56646a" stroke-width="1.4" d="M378.1 806.7l2.1 .7 2.7-2.3 .4-1.5 2.8 .6 .1 1.8 4.1 2.3-1.6 3.2 .7 2-1.2 .8 M378.7 817.1l-.4-5 1.1-1.6-1.3-3.8"/>
<path fill="#f92035" d="M329.6 688.5l3 .3 2.2-1.3 2.3-1.8 2.6-1.5 2.7-1.1 1.9-2.5 2 .7 1.6-3 2.4-.6 1.3-1.2 2.6-.5 4 3.3 3-.5 2.1 2.6 1 3.1 1.2 2 .8 1.6 .4 4.1 .9 2.4 .8 1.6 2.3 2.7 1.6 .5-1.8 4.1 4.3 2.5-2.5 .1 1.8 3-.9 4.1-1.8 .7-1.4 .9-2.7 3.8-1.7 1.4-.2 2.4-2.1-.6-2.8 3.1-2.1 3.7-1.1 .3-1.9 2 1.1 3.5-.7 3.1-1.7-2.6-2-2.9-.7-1.6-3.9-1.6 1.2-2.2-2.3-4.1 .1-3.5-2.3-1.1-2.7-4.3-.4-.2-1.6-.7-3.6-3.3-1.1-.5-3.1-3.5-1.4 .4 .2-1.2-1-3.8 0-2.1 2.5-1.9-1.6-2-1.7-3.6Z"/>
<path fill="none" stroke="#56646a" stroke-width="1.4" d="M329.6 688.5l3 .3 2.2-1.3 2.3-1.8 2.6-1.5 2.7-1.1 1.9-2.5 2 .7 1.6-3 2.4-.6 1.3-1.2 2.6-.5 4 3.3 3-.5 2.1 2.6 1 3.1 1.2 2 .8 1.6 .4 4.1 .9 2.4 .8 1.6 2.3 2.7 1.6 .5-1.8 4.1 4.3 2.5-2.5 .1 1.8 3-.9 4.1-1.8 .7-1.4 .9-2.7 3.8-1.7 1.4-.2 2.4-2.1-.6-2.8 3.1-2.1 3.7-1.1 .3-1.9 2 1.1 3.5-.7 3.1-1.7-2.6-2-2.9-.7-1.6-3.9-1.6 1.2-2.2-2.3-4.1 .1-3.5-2.3-1.1-2.7-4.3-.4-.2-1.6-.7-3.6-3.3-1.1-.5-3.1-3.5-1.4 .4 .2-1.2"/>
<path fill="#04308a" d="M327.8 606.3l6.9-.1-1.5 1.1 2.5 1.6 2 2.1 3.8 3.5 .9-.5 .3 1.9-.4 3.3-1.2 1-2 .8-1.6 .9-3.1 2.1-.4 3.8-.7 1.5-3 2-.6 1.8 2.2-2.2-2.6-4.8-1.3-1.6 .4-2.1 1.7-4.2-1.3-3.1 2.2-.8-.7-3.5 .7-2.2Z"/>
<path fill="none" stroke="#56646a" stroke-width="1.4" d="M327.8 606.3l6.9-.1-1.5 1.1 2.5 1.6 2 2.1 3.8 3.5 .9-.5 .3 1.9-.4 3.3-1.2 1-2 .8-1.6 .9-3.1 2.1-.4 3.8-.7 1.5-3 2-.6 1.8"/>
<path fill="#04308a" d="M330.1 706.9l3.1 3.8 2.9-1 .2 1.2 3.2 1.8 1.6 .7 .4 .2 2.7 4.3 2.3 1.1-.1 3.5 2.3 4.1-1.2 2.2 3.9 1.6 .7 1.6 2 2.9 1.7 2.6-2.1-2.1-2.3 1.8-1 3.2 .1 1.5 1.6 4 0 2.1 .5 1.8 1.1 2.2 1.9 2.5 .1 .3 2.7 1.8 3.2 3.7 .8 1.1 3.1 2.9-2.2 1.8 3.9 .1 2.1 2.3-2.9 .7-2.1 2.3-2.6 1.9-1.7 1.8 2.3 1.2 1.2 .9-.2 3.5 3.1 1.6 2.9 1.3-.2 2.8 .6 3.5 .6 3.3-1.3 2.3 2.5 2.4-3.2-.4-2.2 2.4-.3 2.6-1.1 1.5-4.3 .2-1.9-.5-2 .8-1.5 1.6-4-4.1-1.7-1.6-2.4 .2-.3-4.5-2.8-2.4-.3-2.9-1.1-2.6-3.2-3.1-.7 .6-2.3-2.8-.4-2.9 .4-2.4 .3-.5 1.9-2.7-1.7-2.7-.8-2.2-.7-1.9-1.5-1-.3-2.2-2.5-3-2.5-.5 1.8-3.2 .5-1.1 1.1-3.1-1.3-5.9 1.3-.8-.3-3.5-.6-2.2-.8-4.6 0-2.9 1.4-1.2-.5-2-1-4.3 .3-2.3 .1-1.8-.8-6 .5-2.1 1.1-2.6Z"/>
<path fill="none" stroke="#56646a" stroke-width="1.4" d="M330.1 706.9l3.1 3.8 2.9-1 .2 1.2 3.2 1.8 1.6 .7 .4 .2 2.7 4.3 2.3 1.1-.1 3.5 2.3 4.1-1.2 2.2 3.9 1.6 .7 1.6 2 2.9 1.7 2.6-2.1-2.1-2.3 1.8-1 3.2 .1 1.5 1.6 4 0 2.1 .5 1.8 1.1 2.2 1.9 2.5 .1 .3 2.7 1.8 3.2 3.7 .8 1.1 3.1 2.9-2.2 1.8 3.9 .1 2.1 2.3-2.9 .7-2.1 2.3-2.6 1.9-1.7 1.8 2.3 1.2 1.2 .9-.2 3.5 3.1 1.6 2.9 1.3-.2 2.8 .6 3.5 .6 3.3-1.3 2.3 2.5 2.4-3.2-.4-2.2 2.4-.3 2.6-1.1 1.5-4.3 .2-1.9-.5-2 .8-1.5 1.6-4-4.1-1.7-1.6-2.4 .2-.3-4.5-2.8-2.4-.3-2.9-1.1-2.6-3.2-3.1-.7 .6-2.3-2.8-.4-2.9 .4-2.4 .3-.5 1.9-2.7-1.7-2.7-.8-2.2-.7-1.9-1.5-1-.3-2.2-2.5-3-2.5-.5"/>
<path fill="#04308a" d="M413.7 798.5l.7-1.3 3.4-2.2 1.7-2.7 .7 1.3 1.8-.4 3.8-.6 2.6-2.1-.4-1.2 .5-.9 1.3-3.7 .8-3.5 .6 .4 1.2-.2 1.5 2.8 3.1-.4 1.5 4.6 2.1 1.3 .9 1.3 1.4 4.1 .7 1.9-1.4 4.6 .5-1.1 .4 4.9 .9 3.9-.8 .6 1.5 3.8-.4 2.8-4-.5-1.7 .4-1.4 .2-5.1-.4-3.1 0-2.2-.4-3.8-.7-2.1 .1-3.2 1.6-3.3-1.7 .6-1.3-1.9-3.4 0-1.7 2.7-2.8-1.7-3.9Z"/>
<path fill="none" stroke="#56646a" stroke-width="1.4" d="M413.7 798.5l.7-1.3 3.4-2.2 1.7-2.7 .7 1.3 1.8-.4 3.8-.6 2.6-2.1-.4-1.2 .5-.9 1.3-3.7 .8-3.5 .6 .4 1.2-.2 1.5 2.8 3.1-.4 1.5 4.6 2.1 1.3 .9 1.3 1.4 4.1 .7 1.9-1.4 4.6 .5-1.1 .4 4.9 .9 3.9-.8 .6 1.5 3.8-.4 2.8 M414.4 815.1l.6-1.3-1.9-3.4 0-1.7 2.7-2.8-1.7-3.9-.4-3.5"/>
<path fill="#04308a" d="M536.5 766.8l2.2-3.4-.2 .6 1.8 .3 2.5-2.4 2.6-1.6 2.7-1.2 2.3-1.3 1.5 3.4 2.1-.9 2.2-.7 2.5-.6 2.4 .6 2.6 1.3 1.4-1.3 .5 1.5 .5-3.5 1.7-2.9 2.2-1.6-.5-2.1 1.9-4.4-1.6-.6 2.5-4.3 .8-3.1 .7-1.5 0-1.4 1.3-3-1.7-3.7 3.1-1.9 2.1-1.8 2.1-1.7 .8-.4-.5-2.7 2.1-1.4 3-1.4-.2-2.2 1.3 3.6 .3 1.6-.9 3.1-.5 1.5-1 3.3 .4 3.3 .4 2.2 .1 4 .3 2.4 1 3.5 .5 2.6-1.9 2.3 .9 4.5 .3 3.7-1.1 2.3-.4 4.1-.5 .8 .8 4.8 .7 2.3 .5 3.1-.1 2.3-.3 3.5 .3 2.4-.8 4-.9 1.8 2 4.6-1.3 2.6-.2 3.1 0 1.4 1.2 3.9-1.9 2.6 .4 2.5-.4 3.9 2.6 2.5-5 .8-2.9 .9-2.3-2.3-3.7 1.1-3.6-.7-1.1-1.3-3.9 1.6-2.4 .4-4.1 .1-2.1-.5-3.5-.1-3.1-.1-2.1 .7-4.2-.7-3.2 0-3.9 1.8-1.6-2-.9 2.1-4.8-1.9-2.3 0-3.6 0 1-2.8 2.5-.3 1.9-3-.1-3.7 1.2-.5 2.7-.5 2.4-2.7 2.6-1.7 .6 .4 3-1.5 .1 .5 2.9-2.3 1.8-1.1 .9-5.1-2.6-2-.7-3.6-.8-1.9-2.4-2.8-.8 .4-1.3-3.4-1.3-1.5 .6-3.4-.5-2.6-.7-.4Z"/>
<path fill="none" stroke="#56646a" stroke-width="1.4" d="M536.5 766.8l2.2-3.4-.2 .6 1.8 .3 2.5-2.4 2.6-1.6 2.7-1.2 2.3-1.3 1.5 3.4 2.1-.9 2.2-.7 2.5-.6 2.4 .6 2.6 1.3 1.4-1.3 .5 1.5 .5-3.5 1.7-2.9 2.2-1.6-.5-2.1 1.9-4.4-1.6-.6 2.5-4.3 .8-3.1 .7-1.5 0-1.4 1.3-3-1.7-3.7 3.1-1.9 2.1-1.8 2.1-1.7 .8-.4-.5-2.7 2.1-1.4 3-1.4-.2-2.2 M523.4 815.5l1-2.8 2.5-.3 1.9-3-.1-3.7 1.2-.5 2.7-.5 2.4-2.7 2.6-1.7 .6 .4 3-1.5 .1 .5 2.9-2.3 1.8-1.1 .9-5.1-2.6-2-.7-3.6-.8-1.9-2.4-2.8-.8 .4-1.3-3.4-1.3-1.5 .6-3.4-.5-2.6-.7-.4 .1-3.2"/>
<path fill="#f92035" d="M486.3 780.4l-.6-2.5 3.9-2.5-1.1-4.3 4.5 4.3 .9-.3 5.1 .1 1.5-1.6 3.5 .5 2.2 2.7 1.8-1.8 .8-1.8 2.8-.1 1.4 .9 3.2 1.7 2.4-1.2 1.9 .3 1.4 1.6 2.7 .5 3.5-.9 .2-3-.1-1.4 1.2-2.4-1.3-3.3-.4-2.2 .7-2.7 .6-2.4 0-1.6 1.1-4.1 1.5-3.3 2.2 4.2-.1-.9 3.4 4.1-.3 2.6-1.7 .5-1.1 3.3-.7 2.1 1.5 3.7 1.3 1.3 1.1 2.7-.2 3.2 1.3 1.5 1.3 3.4 .8-.4 2.4 2.8 .8 1.9 .7 3.6 2.6 2-.9 5.1-1.8 1.1-2.9 2.3-.1-.5-3 1.5-.6-.4-2.6 1.7-2.4 2.7-2.7 .5-1.2 .5 .1 3.7-1.9 3-2.5 .3-1 2.8-3 .8-3.4-.7-1.2 1.1-4.7-.7-2.4-1.3-2.2 .5-2.4-.1-2.6 1.8-3.6-.4-3.3-.5-2-.5-3.2 2.1-2.3-2.4 .6-2.7-1.4-.6-2.5-5.9 .9-1.4 .1-2.2 2.8-3.3 2.4 .3 3-4 .3 1.5-.2-3.9-.8-2.8-3-1 .3-1.7-.7-3.8-3.5-1.3Z"/>
<path fill="none" stroke="#56646a" stroke-width="1.4" d="M486.3 780.4l-.6-2.5 3.9-2.5-1.1-4.3 4.5 4.3 .9-.3 5.1 .1 1.5-1.6 3.5 .5 2.2 2.7 1.8-1.8 .8-1.8 2.8-.1 1.4 .9 3.2 1.7 2.4-1.2 1.9 .3 1.4 1.6 2.7 .5 3.5-.9 .2-3-.1-1.4 1.2-2.4-1.3-3.3-.4-2.2 .7-2.7 .6-2.4 0-1.6 1.1-4.1 1.5-3.3 2.2 4.2-.1-.9 3.4 4.1-.3 2.6-1.7 .5-1.1 3.3-.7 2.1 1.5 3.7 1.3 1.3 1.1 2.7-.2 3.2 1.3 1.5 1.3 3.4 .8-.4 2.4 2.8 .8 1.9 .7 3.6 2.6 2-.9 5.1-1.8 1.1-2.9 2.3-.1-.5-3 1.5-.6-.4-2.6 1.7-2.4 2.7-2.7 .5-1.2 .5 .1 3.7-1.9 3-2.5 .3-1 2.8 M487.1 815.2l.6-2.7-1.4-.6-2.5-5.9 .9-1.4 .1-2.2 2.8-3.3 2.4 .3 3-4 .3 1.5-.2-3.9-.8-2.8-3-1 .3-1.7-.7-3.8-3.5-1.3 .9-2"/>
<path fill="#f92035" stroke="#56646a" stroke-width="1.4" d="M543.6 711.4l1.1-2.9 2.1-1.1 3.4-1.4 1.7-1.3 3.3 .5 1 .8 1.8 1.4 3.4-.4 4.7-.1 .8-1.7 3.4-.3 1 3.3 3.8 .9 1.4 .8 3.4 3-1.8 2.4 1.1 3 1.2 2.5 1.1 2.4-.8 .4-2.1 1.7-2.1 1.8-3.1 1.9 1.7 3.7-1.3 3 0 1.4-.7 1.5-.8 3.1-2.5 4.3 1.6 .6-1.9 4.4 .5 2.1-2.2 1.6-1.7 2.9-.5 3.5-.5-1.5-1.4 1.3-2.6-1.3 1.1-2.1-.9-1.7 .1-2.2 .3-2.6 1.6-3.3 1.3-1.3-.4-4.4 1.7-1.2-.6-3.6 .3-1.8 1.1-3-1.2-1.7-2-.7-.1-2.2-3-4.1-3.2-.5-1.8-2-.7-1-2.6-1.5-3.5-1.8 0 1.4-3.1-4.5-2.7-.9Z"/>
<path fill="#985afc" d="M563.3 558.1l2.6 2.2 2.4-.3 4.9-.9 .4-.7 1.8 .2 3.8 2.3 .6 2.6 2.3 2.1 .4 2.2 .9 .7-2.8 3.2-2 2.5-1.9 2.7-.3 2-3.5 1.8-.3 1.2-2 3 1 3.6 .9 2.5 .5 2.8-.7-.9-2.3-3.6-4.2-1-1.9 2-2.9 .3-1.8 1-2.2-2.6 .3 0-3.7-3 .3-3.3 1.7-1 .9-4-.2-.8 .8-2.9 1.1-1.9 2.2-.3 1.2-4.6 2-.9 1.8-5.2Z"/>
<path fill="none" stroke="#56646a" stroke-width="1.4" d="M575.4 558.6l3.8 2.3 .6 2.6 2.3 2.1 .4 2.2 .9 .7-2.8 3.2-2 2.5-1.9 2.7-.3 2-3.5 1.8-.3 1.2-2 3 1 3.6 .9 2.5 .5 2.8-.7-.9-2.3-3.6-4.2-1-1.9 2-2.9 .3-1.8 1-2.2-2.6 .3 0-3.7-3 .3-3.3 1.7-1 .9-4-.2-.8 .8-2.9 1.1-1.9 2.2-.3 1.2-4.6 2-.9 1.8-5.2-2.1-3"/>
<path fill="#985afc" d="M577.3 609.8l3.1 1 3.4-1 1.7-.8 2.4 3.3-1.3 1.7-.8 3.5 .4 3.6 0 2.8 0 3.3 0 3.5 1.2 3.2-2.6 1.9 .5 4.1 .1 1.6-.6 2.6-.2 2.5 2.6 6-1.6 1.8-.1 2.7 .3 2 .4 4.1-.9 1 1 5.4 .2 3.3-.1 1.7 1.9 4.1-3.3 2.4 1.1 2.2-1 3.5 1 4 1.9 2.2-1.5 1.6-1.8 5.2 1.1 1.7 .2 2.5-2.4 2-2.4 1 .1 3.7-1.4 2.2-3.4-3-1.4-.8-3.8-.9-1-3.3-3.4 .3-.8 1.7-4.7 .1-3.4 .4-1.8-1.4-1-.8-3.3-.5-1.7 1.3-.3-2.5 .5-4.9 1.5-1.6 .6-2.5 1.2-2.3 1.2-4.4 2.1-2.5 .4-1.4 1.3-1.5-.1-.8 1.4-1.6 1.5-2.3 1.5-2.3 5.2-1 1.5-1.2 2.9-2.7 1.6-1.7-1.6-4.3 2.4-1.3-1.4-2.9-2 .5-4.8 .4-1.9 1.2-3.4-1.6-2.9 .7-2.1-3.2-2.2-.5-1.5-.3 4-4.2-1.3-2.6 .7-2.1-.6-3.4 0-3.3-.1-1.3-.3-2.8 .6-1.5 .4-2.5 1.7-.5 2.2 .1 2.8-.1 1.3-1.3 2.3-.9 1.2-1.5 3.2-1.2-.5-1.1 1.4-3 2.3-3.5-1.2-.8 3.3-2.6 1.7-3.3Z"/>
<path fill="none" stroke="#56646a" stroke-width="1.4" d="M577.3 609.8l3.1 1 3.4-1 1.7-.8 M586 704l-2.4 2-2.4 1 .1 3.7-1.4 2.2-3.4-3-1.4-.8-3.8-.9-1-3.3-3.4 .3-.8 1.7-4.7 .1-3.4 .4-1.8-1.4-1-.8-3.3-.5-1.7 1.3-.3-2.5 .5-4.9 1.5-1.6 .6-2.5 1.2-2.3 1.2-4.4 2.1-2.5 .4-1.4 1.3-1.5-.1-.8 1.4-1.6 1.5-2.3 1.5-2.3 5.2-1 1.5-1.2 2.9-2.7 1.6-1.7-1.6-4.3 2.4-1.3-1.4-2.9-2 .5-4.8 .4-1.9 1.2-3.4-1.6-2.9 .7-2.1-3.2-2.2-.5-1.5-.3 4-4.2-1.3-2.6 .7-2.1-.6-3.4 0-3.3-.1-1.3-.3-2.8 .6-1.5 .4-2.5 1.7-.5 2.2 .1 2.8-.1 1.3-1.3 2.3-.9 1.2-1.5 3.2-1.2-.5-1.1 1.4-3 2.3-3.5-1.2-.8 3.3-2.6 1.7-3.3-.6-4.3"/>
<path fill="#0d6cfb" stroke="#56646a" stroke-width="1.4" d="M312.5 385.7l-.2-2.4-.4-.7-.7-3.7 1.7 .1 4.2-.9 3.3 .4 1.7-.5 .7-.1 4.4-1.8 .8 0 5.4-1.8 2.1 1.9 3.3 2.8 .4 .2 1.4 4.3-.6 1.7 2.8 .2 .6 2.4 1 2.2-.1 3.1 .3 3-1 2.4-1.1 2.2-.9 1.3-1.9 1.9-1.4 1.2 0 1.9-.6 3.7-3.3 .9 .8 3 .1 3.5-.1 1.7-.4-1.8-2.9-2.2-1.2 .6-2.4-3-2.3-1.2-.9 .3-1.5-1.1-4.5-1.5-1.8-4.9-.2-2.2-3.2-1.2-1.2-.8-.9-5.2-1.2-2.1-.7-.2 3-2.8-1.6-1.5Z"/>
<path fill="#f92035" stroke="#56646a" stroke-width="1.4" d="M237.7 390.2l.9-.8 1.7-.6 2.5-1.8-2.3-4.5 1.9-1.3 .5-2 2.2-2 1-3 2 1.9 2.9 1.9 2.2-.8 1.4 2.8 1.7 .2 2 1.2 2.1-1.6 3.1 1.5 1.2-.6 5.4 .2 2.3 .6 2.5-1 .5-.5 2.2 2.9 1-.2 1.6-1.8 1.4-1 3.5 2.6 2.7-3.5 3.1 .4 3.3 .9 1-3.5 1.1-.3 1.6 .1 2.9-.4 3.3-.9 1.9-.1 2.3 2.5 .1 2 2.8-.8 .7 3.7 .4 .7 .2 2.4-.8 2.4 .7 1.5-.2 2.1-3.1 .8 .2-1.4-3.2 3.2-2.6 .6-2.4-.9-1.9 2.3-1.9 .2-1.5 3.2-3.9-.8-3 2.6-.6-.5-1.7-2.1-1.9-2.3-1-.7-1.9-2.2-3-2-.7-1.4-2-.4-1.2-2.1-4.3 1.5-1.6 1.8-2 .5-2.2-1.6-1.8-.3-4.4 3.4-3.4-.3 1.1-.5-3.8 1.2-2.4 .7-.6 .4-3 .9-3.2-.3-3.3-.5-.9-3Z"/>
<path fill="#f92035" stroke="#56646a" stroke-width="1.4" d="M271.9 398l.6-.4 3.7-1.9 .3-3 2.7 1.2 2.4 1.4 .2 .4-.1 1.8 2.5 5.2-.4 2.1-3.7-.4-1.5 .3 .4 2.8 .5 3.1-.8 .8-3.2 3-.3 2.8-.8 2.4-1.8 .5 .8 3.1-3.3 .6-.9 2.4-3.5 .4-2.3 2-1.9-.3-1.9 1.4-2.7 1.9-2.3 .2-1.7 1.2-2.8 .4-.4 2.4-2.9 2.9-3 .6-.3-2.3-1.7-2.6-.9-.6-3-5-2.1-1.8 .5-.3 2.2-2.5 2.2-.9 1-.1 2.5-.2 3.8 .6 .9-.2 .8-2.7 2.7-1.9 1.4-3 3.1 0 1.9-2.6 4-2.1 1 .1 .1-2.9 3.1-2.3 2.7-.9-1.4-4.3 .7-.1Z"/>
<path fill="#f92035" stroke="#56646a" stroke-width="1.4" d="M262.5 450.2l1.8-1.6 .8-2 2.3-.5 1.8-1.5-.2-2.6 .1-2-.1-1.9 2.5-4.7 1.7-1.1 1.1 2 1.8-3.1 5.1 2.4 3.3 .8-.6 0 3.2-.2 2.6 1.9 1.6 .1 .6-.5 2.2 .5 2.9-.1-.1 2.8-.7 2.7 .8 1.2-1.5 3-.1 .1 0 5.4-1.5-.1-2.4 0-3.8 0 0 2.9-1.5 2.6-1.6 1.3-.8 2.5-1.5 .5-3.5-.6-2.9-1.3-1.6 .5-2.1 .6-1.7 .8-2 3.2-2.6-3.4-.4-3.6-1.6-.8 1.3-3.5-.9-.5Z"/>
<path fill="#f92035" stroke="#56646a" stroke-width="1.4" d="M297.9 439.7l1.9-1.6 2.2-3.7 .1-1.3 2.2-1.5 3.1-2.1 .6-1.8 3.4-.3 0-.9 1.5 2.7 2.1-1 .8 1.7 2 1.4 .9 2.6 4.1 3 .9-.6 .4 2.6 2.4-.8 .5 1.5-1.4 2.9-2.1 .8 1.2 2.5-1.6 2-3.2-1-2-1-3-1.2-1.8 2.4 .4 2.2-3-2.1-1.6-.6-2.1-3.3-4.2-.3-1.4 .3-2.6-1.6Z"/>
<path fill="#04308a" stroke="#56646a" stroke-width="1.4" d="M584 756.3l2 .3 .2-3.2 2.5-1.7 3.2 2.2 .5 1 1.4 1.2-.6 1.4-1.8 1.8-.2 2.7-1.4-.9-2.7 .3-3.9 .6 .8-4Z"/>
<path fill="#04308a" stroke="#56646a" stroke-width="1.4" d="M571.2 763.9l-.7-2.3 .2-5.3 .3-1.7-.2-2.7 1.3-3.7 1.1-1.8 .5-1.8 1-3.6-.8-2.1 .2-2 1-3.5 1.1-1.2 1.5-3.2 .6-3.7 2.4-1.5-.3-1.3 .6-2.3 1.1-2.3-.9-3.8 3.9-1 3.9 1.9 .7-2.6-.9 4.3 0 2.5 .3 2.8-1.6 3.2-1.5 0-2.1 2.4 2.1 3.8 1.4 2.4 3.1-1.2-1.2 4.7-2.5 1.3-.6 2.4-1.3 3.1-1.2 1.2-1.4 1.1-.7 2.2-3 .7-1 1.1-1.9 2.7 .5 3.4 .8 1 2.6 3.3 .8 .5-3.6 .5-1.9 1Z"/>
<path fill="#985afc" stroke="#56646a" stroke-width="1.4" d="M589.2 775.9l.6 1.1 3.4-1.7 2.7 1.7 0-2.7 4.8 .1 2.1 0 1.4 .6 2.7-1.7 3.3 .6 4.4 1.6 .4-.6 1.8 1.7 2.6 3.6 3 1.6 .8-.8 1.3 4.2-1.8 3.1 1.7 3-4.4 1 0 .9-1-3.3-1.4 .2-2.6 .1-.8-1.6-5.3-3.5 .1-1.2-4.3-.5-1.5-1.4-3-.3-2.2-.9-1.7 1.3-3.9-.1-1.7-.1-.6-1.8Z"/>
<path fill="#985afc" stroke="#56646a" stroke-width="1.4" d="M516.8 819.7l.4-2.1 2.8-1.1 1.9-2.2 1.9-2 2.5 .9 2.4-1.5 0-1.2 4.4-1 2.2 .7 3-1.9 1.3 2-.1 3.6 1.2-.5-1.2 .8-1.2 3.8-1.5 1.4-2.1 .5-.1 .5-4.2 1.4-2.6 .9 .4 4.1-2.2 1.4-4.2-.1-1.8 2.9-1.4-2.9-1.8-1.8-.9-2.9 1.2-1.4Z"/>
<path fill="#f92035" d="M576.6 748.8l3.2 .6 2.6-2.2 2.6-1.7 2.2 1.6-.7 2.7 .2 3.4 .6 3.6-.2 1.4-1.2 3-.1 3.2-2.4 .3-.8-1.3-1.1-2-1.3-.6-1.3-3.8-2.2-1.2-.6-4.1Z"/>
<path fill="none" stroke="#56646a" stroke-width="1.4" d="M576.6 748.8l3.2 .6 2.6-2.2 2.6-1.7 2.2 1.6 M585.8 764.4l-2.4 .3-.8-1.3-1.1-2-1.3-.6-1.3-3.8-2.2-1.2-.6-4.1 .5-2.9"/>
<path fill="#0d6cfb" d="M578.5 671.3l2.2-1.9 3.4-.7 2.4 .8 .2 2.5-.7 2.9 2.2 3.5-3.2 2.1 1.8 2.5-2.1 2.6 .6 4.6-1.6-1.5 .4-2.3-4.7 2.9 1.7-3.1-2.2-4.5 0-.8 1.9-3.9-1.4-2.7Z"/>
<path fill="none" stroke="#56646a" stroke-width="1.4" d="M578.5 671.3l2.2-1.9 3.4-.7 2.4 .8 M585.3 690.2l-1.6-1.5 .4-2.3-4.7 2.9 1.7-3.1-2.2-4.5 0-.8 1.9-3.9-1.4-2.7-.9-3"/>
<path fill="#04308a" d="M578.2 607.9l1-2.4-.5-2.5 .7-3 1.5-.9 1.5-3.6-1.2-3.3 2.6-2.9 2.2-2.5 .4-.8 .6 2.2-.1 2.5-.9 2.4-.4 3.1 1.3 2.7-2.3 4.8 1.7 1.4-.8 3.9-2 .9-1.5-1Z"/>
<path fill="none" stroke="#56646a" stroke-width="1.4" d="M578.2 607.9l1-2.4-.5-2.5 .7-3 1.5-.9 1.5-3.6-1.2-3.3 2.6-2.9 2.2-2.5 .4-.8 M585.5 609l-2 .9-1.5-1-3.8-1"/>
<path fill="#985afc" stroke="#56646a" stroke-width="1.4" d="M549.3 778.1l1.1 .1-.5 .1 2.6-3 2.6 1.5 3.8 4.7-1.4-1.1 1.9 3.7-1.9 1.8 .1 4-2 .5-4.9-.8-2.4-1.6 .6-2 .2-1.8 .5-3.1Z"/>
<path fill="#0d6cfb" stroke="#56646a" stroke-width="1.4" d="M586 578.3l1.6-.6 .5-2.7 3.7-.7 .5-2.4 4.4 2 .9-2 2 .7 1.7-1 4.8 2.3 1.9 1.8 2.4-.4 1.3 4 2-.9 2.1 2.1 2.2 2.7-.3 2 .4 3.9 .7 2.5 .4 3 .2 3.1-3 2.3-2.3 2.1-.4 1.1-1 3.1-1.8 2.3-3.3 2.3 .7 2.1-1.7 2 1.2 3.6-1.7 1.3-5-.6 .6 1.9-4.6-2.5-1.9-.1-.7-.1-3.5 1.3 .3-.6-2.7 0-2.8-1-1.8-1 .1-1.5-2.9-1.8-2.2-1.1-.9-2-1.6-3 2-1.4-.5-3.2 .7-3.1 1.5-.9 2.6-4.2-2.6-2.8 4.9-3.1-2.5-2.8 1.6-1.6 1.7-2.4Z"/>
<path fill="#0d6cfb" stroke="#56646a" stroke-width="1.4" d="M610.5 617.2l1.4-2.2 2.7-1.2 .4-2.3-.3-3.9 .9-1.5 2.4-.5 .6-5.6-.3-2.6 2.5-2.2 1.1-2 1.4-1.1 3.6 .2 .8-3.2 3.5-1.4-.7 .5 4.1 1.3 2.4 1.8 1.2 1 2.4 1.9-.5 1.2-1.6 3.1-1.6 4.1-1 .6 1.5 4.4-1 3.6-1-.1-.4 3.4 2.7 3.5 .2 3.6-1.9 1-.8 3-.5 .6-.2 4.4-2.3 1-1.3 1.2-2.6 2.3-3.7 1.9-.6 2.7 .7 1.9-2.2-2 .7-4.2-2.2 .7-1.9-2.9-.8-1.9 .2-5.3-2.5 .1-3.1-2.2 .8-2.9-.9 .3-2.2-2.3Z"/>
<path fill="#04308a" stroke="#56646a" stroke-width="1.4" d="M598.7 637l2.5-3 1-1.4 2 0 2.6-1.4 1.9-1.3 3.2-2 1.1-1.4 .5 1.9 .7 .4 2.6 2.1 2 1.8-.3 3.3 2.2 .5 2.5 2.2 .8 2.5 .6 .5 1 4.3 2.2 1.6-3.2 2.1-2-1.8-2-1.7-3.5 0-2.6 2.9-1.9 2.8-.5-1.2-3.3-2.6-1.7-1.4-1.2-.1-2.1-1.6-1.8-1.4-1.4-2.3-2.5-2.9Z"/>
<path fill="#0d6cfb" d="M540.6 598.1l.4 1.8 1.5 .7 2.8 .1 .5-4.2 2.9-.6 3.8-.7-.6-1.5 2.9-3.2 1.3-1.9 1.4 .6 3 2.2 1.3 0 3.4 2.3 .3-.1 3.3 1 1.6 1.7 3.9 2.4-.4-1 1.3 3.6-.6 2.4 .8 1.6 .6 3.8-.3 .3-1.8 2.6 1.8 2.6-1.5 5-2.1 .8 .4 2-3.2 3.2-.3 2.5 1.3 1.6-1.4 4.4-3.6 1.5-1.7-1.3 .3-.1-2.2-1.1-3.1 0 1 0-3.7-2.5-.2-4.4-2.6-.5-.7 0-1.3 .4-4.3-1.1-2.9-1.3-3 3.1-1.4-1.2 1.7-3 .7-.6-.1-3.4-1.5-5.3 .7 .5-1.4-5.1 0-1 1.2-4-.5-2.2Z"/>
<path fill="none" stroke="#56646a" stroke-width="1.4" d="M540.6 598.1l.4 1.8 1.5 .7 2.8 .1 .5-4.2 2.9-.6 3.8-.7-.6-1.5 2.9-3.2 1.3-1.9 1.4 .6 3 2.2 1.3 0 3.4 2.3 .3-.1 3.3 1 1.6 1.7 3.9 2.4-.4-1 1.3 3.6-.6 2.4 .8 1.6 .6 3.8-.3 .3-1.8 2.6 1.8 2.6-1.5 5-2.1 .8 .4 2-3.2 3.2-.3 2.5 1.3 1.6-1.4 4.4-3.6 1.5-1.7-1.3 .3-.1-2.2-1.1-3.1 0 1 0-3.7-2.5-.2-4.4-2.6-.5-.7 0-1.3 .4-4.3-1.1-2.9-1.3-3 3.1-1.4-1.2"/>
<path fill="#0d6cfb" d="M541.1 558.1l2.2 3.8 .6-1.1 3-.8 4.7-.1 2.7-.9 2.3 0 4.5 2.3 1.5-3.4 2.1 1.9-.2 .9-.8 5.5-3 2.2-1.9 3.7-1.2-.3-1.6 2.1 .1 2.7-2.4-.1 1.1 4.6-1 1.4 .3 2 .6 4.6-3.1 1.9 .4 2.1 .5 2.1-3.8 .7-2.9 .6-.5 4.2-2.8-.1-1.5-.7-.4-1.8-1.6-1.3-.4-2.1 .9-4.2 2.3-3.5-.9-3.4-.3-4-.5-.8-.1-2.2-.7-4 .6-5 .2-2.7 .1-2.4Z"/>
<path fill="none" stroke="#56646a" stroke-width="1.4" d="M564.7 559.8l-.2 .9-.8 5.5-3 2.2-1.9 3.7-1.2-.3-1.6 2.1 .1 2.7-2.4-.1 1.1 4.6-1 1.4 .3 2 .6 4.6-3.1 1.9 .4 2.1 .5 2.1-3.8 .7-2.9 .6-.5 4.2-2.8-.1-1.5-.7-.4-1.8"/>
<path fill="#0d6cfb" stroke="#56646a" stroke-width="1.4" d="M641.8 608.1l.7-2.6 1.2-.4 2.8-1.5 1.4 .1 2.8 .8 .9-1.1 2.3 1.9 1.9 .8 2.7 .9 .3-3.6 4.9 .1 .4-1.7 1.4-1.9 2-3.4 4.2-.5 0-1.2 3.7 .5 2.7 .4 1.7-.2 1.4 3 1.9 3.6 .9-.6 1.5 4.4-3.5 2.8-.2 1.3-1.5 1.6-1.1 2.2 .3 3.6-1.3 1.4-1.1 3.3-3.5-3-1.9-3.1-1.3-1.4-4.1-3.4-1.4-.1-2.2 .5-2.4 .3 .4 .3-3.7 1.7-1.5-1-.7-.8-3.9 1.8-2.1-1.4-.4 2-1.8 2.5-2.9 1.5-.3-.7-1.7-.7-.5-3.4-.4-2.2Z"/>
<path fill="#0d6cfb" stroke="#56646a" stroke-width="1.4" d="M648.1 657.3l.9-1.4 1.2-.2 2.1 .1 3.1 .3 2.3-.3 1.7 1.8 2.2-3.9 1.2 0 2.5-.8 4.3-1.6 2.8-.8 3.7 .8-.6-3.4-.3-3 1.5-2 1.3-1.2 1.9-1.5-2.4-4.9 2.4-3.2 2.9-3.4 0-.8 3.7 1.2 2.1 .6 1 .3 2.3 2.8 .4 2 .8 1.9 3.6 0 2.3-1.5 1.9-.7 .9 2.1 2.8 2.2 .5 2.9 0 1.3 2.7 .9 3.6 3.7-.7 1.5-1 1.3 1.7 3.8 1.7 4.5 1.8-.1 2.4 1.1 1.3 1.5 3.1 2.3-.1 .9 1.4 2.2 .6 1.9-.2 3.9-1.6 .8-.7 2.6-.6 2.5 .2 1.9 .4 4.6-4-1.5-1.2 1.5-2.6 1.3-3.2 .9-2.9 .9-1 1.1-.9 .2-3.1 2.4-1.5 .4-2.8-1.3-2.9 3-2.2 .6-1.9 .1-2.6-.4-4.1 .4-.6-1.4-3.4 .2-3.1-.4-.5 1.6-2.1-1.3-3.4-3.4-.9-3-2 .3-1.3-.2-3.3-3.8-1.2-2.5-.3-.8 .6-2.6-2.2-2.3 1.3-3.4 1.5-3.9 1.2-1.9-4.4 .4-2.5-2-3.4-1.6-1.1-1-.6-1.6-2-3.4Z"/>
<path fill="#f92035" stroke="#56646a" stroke-width="1.4" d="M624.8 660.7l2.3-.8 2.1-.3 1.4 2.1 2.5 .9-.3 .3 1 .7 3.5 3.6 3.1 .2 .3-2.1 2.6 1.4 1.1-2.9 1.5 0 1.5-1.8 2.5-2 3 1.5 1.3 .9 3.4 1.6 2.5 2 4.4-.4-1.2 1.9-1.5 3.9-1.3 3.4-1.3 1-.1 1.3-2.6 3.4 4.4 1.2 .5 0 2.2 1.3 3.3 3.8 1.3 .2 2-.3 1.3 4.2 1.8 2.8 .4 1.8-.2 2.5-.7 3.4-1.2 2.5 1 4.3-2.6 .9-.3 1.8-1.1 .6-1.8 2.1-5 1.3-.8-1.8-4 1.1-3.4 1.8-1.6 0-2.8 2-1.2 2-3.1 3-1.3-.6-2 1-2.4 1.1-5 3.1-2.8 .9-.3-2.2-1-.5-2.1-4.6-3.3 1.1-2.1-4.5-3.4 .5 1.8-3.5-.3-2-.7-3-.2-2.7 .1-2.8 .8-4-.5-3.1 .8-2.3 0-3.6-1.2-1.4 1.2-2.2 2.6-3.8 3.6-.4 .1-2.3 1.9-3-.3-.5 2.2-.9 .3-3.5 .2-1.4 2.7-2.5-3.9-3.6-1.1-1.6-4.2-.4Z"/>
<path fill="#f92035" d="M588 705.9l3.4 .8 3.4 .1 1.2-2.6 3.2-1.8 1.7 .3 4.4-1.3 1.6-3 2.9-.1-.2-.1 1.8-1.4 2.3 2.3 4.3-.2 .9 2.3-.6 .5 .4 4.4 1.1 1 .2 2.7 .7 3 .3 2-1.8 3.5 3.4-.5 2.1 4.5 3.3-1.1 2.1 4.6 1 .5 .3 2.2 2.7 1.4 5-2.1 1.5 1.8-1.5 .8-1.3 1-2.8 2.4-2.8 2.4-1.6 1.8 .4 1.5-.5 1.7-1.6 1.5 2.2 5.9-3.4 1.8 .4 3.1-3-2.7-2.3 .9-4.1 .1-1-.5-5-.7-2.4 1.7-1.6-.9-2-1.1-4.4 .3-4.1 .4-2 .6-1.1 .4-2.5 .7-5.3-1.2-1.1 .5-4.9-1.2-3 1-2.9-.8-4.3 .6 2.2-3.2-.3-1.9 4.2-.7-.8-4.8-.1-2.2 1.6-.6 .5-4 2.6-1.3 1.1-1.3 .4-4.3-.6-2.5 .5-1.7 1.2-3.3 1.6-1.3 1.7-.9-.2-2.5 2-2.9-.6-3.2Z"/>
<path fill="none" stroke="#56646a" stroke-width="1.4" d="M588 705.9l3.4 .8 3.4 .1 1.2-2.6 3.2-1.8 1.7 .3 4.4-1.3 1.6-3 2.9-.1-.2-.1 1.8-1.4 2.3 2.3 4.3-.2 .9 2.3-.6 .5 .4 4.4 1.1 1 .2 2.7 .7 3 .3 2-1.8 3.5 3.4-.5 2.1 4.5 3.3-1.1 2.1 4.6 1 .5 .3 2.2 2.7 1.4 5-2.1 1.5 1.8-1.5 .8-1.3 1-2.8 2.4-2.8 2.4-1.6 1.8 .4 1.5-.5 1.7-1.6 1.5 2.2 5.9-3.4 1.8 .4 3.1 M571.1 751.6l2.2-3.2-.3-1.9 4.2-.7-.8-4.8-.1-2.2 1.6-.6 .5-4 2.6-1.3 1.1-1.3 .4-4.3-.6-2.5 .5-1.7 1.2-3.3 1.6-1.3 1.7-.9-.2-2.5 2-2.9-.6-3.2-.1-3.1"/>
<path fill="#f92035" d="M542.8 710.3l1.4-1.5 .9-1.4 2.3-1.2 2.8-.4 3.6 1.2 3.1 .6-.5-1.9 2.4 3 1.8-.3 4.9 0 .6-.2 6.1 3.6 1-1.2-.2-.5 4 2 .7 2.7-1 3.9 .8 3.1 .7 1.3 .3 2-.8 3.9-1.3 4.3-.5 .6-.7 4.8-.6 2.2 2.1 2.6-.5 2.6-3 .5-.4 1.9-1.7 3.1 0 .4-3.8 0-4.9 .1-2.3 .4 .9-2.2 3.2-2.9 .7-2.6-.5-4.1 1.1-.5 .4-3-.1-1.5 .6-3.7-2.8-1.5 1.4-.6-2.1-2.3-2.7-4.2-4.3-.7 .2-2.7-1.3-1.3-3.4-1-3.6-1.9-.5 1.7-1.9-3.3-3-1.1-.3-1.1Z"/>
<path fill="none" stroke="#56646a" stroke-width="1.4" d="M542.8 710.3l1.4-1.5 .9-1.4 2.3-1.2 2.8-.4 3.6 1.2 3.1 .6-.5-1.9 2.4 3 1.8-.3 4.9 0 .6-.2 6.1 3.6 1-1.2-.2-.5 4 2 .7 2.7-1 3.9 .8 3.1 .7 1.3 .3 2-.8 3.9-1.3 4.3-.5 .6-.7 4.8-.6 2.2 2.1 2.6-.5 2.6-3 .5-.4 1.9-1.7 3.1 M560.1 752.5l.9-2.2 3.2-2.9 .7-2.6-.5-4.1 1.1-.5 .4-3-.1-1.5 .6-3.7-2.8-1.5 1.4-.6-2.1-2.3-2.7-4.2-4.3-.7 .2-2.7-1.3-1.3-3.4-1-3.6-1.9-.5 1.7-1.9-3.3-3-1.1-.3-1.1 .7-1.7"/>
<path fill="#0d6cfb" d="M541.3 715.2l2.2-1.8 1.9 .8 1.9 3.3 .5-1.7 3.6 1.9 3.4 1 1.3 1.3-.2 2.7 4.3 .7 2.7 4.2 2.1 2.3-1.4 .6 2.8 1.5-.6 3.7 .1 1.5-.4 3-1.1 .5 .5 4.1-.7 2.6-3.2 2.9-.9 2.2-2-1-3.2-.2-3 1.1-.5-.9-1.2 .1-4.9-.8-2.7 1.2-2.9 2-.2-5.3 .8-2.8 0-3.5-.9-1.2 2.5-2.4-1.7-5.7 1.1-2.3-1.3-1.3-.6-3.4 .8-2.8 .1-4.6 1.3-2.7Z"/>
<path fill="none" stroke="#56646a" stroke-width="1.4" d="M541.3 715.2l2.2-1.8 1.9 .8 1.9 3.3 .5-1.7 3.6 1.9 3.4 1 1.3 1.3-.2 2.7 4.3 .7 2.7 4.2 2.1 2.3-1.4 .6 2.8 1.5-.6 3.7 .1 1.5-.4 3-1.1 .5 .5 4.1-.7 2.6-3.2 2.9-.9 2.2"/>
<path fill="#0d6cfb" stroke="#56646a" stroke-width="1.4" d="M577.6 675.5l.7-2.8 1.7-2.6 3.3-2.3 2.8-.2-.4-3.9 2.8 .4 3.3-.1 .8-.7 .7-2.6 2.7-1.9 3.7-.4 1.1-.8 1.4-.7 4.4-.8 .7-.4 3.4 .9 2 .3 3.7 1.6 2.9 1.4-.2-2 5.5 1.4 .2 1.4-.2 3-.3 1.9-1.7 2.5-1.8 2.4-1.8 1.6-1.6 .7-1.4 1.8-.5 3.9-3.1 1.6-3.1 .3-1.6 1.8-1.1 .9-.8 2.1-1.6 4.4-3 1.2-.1 3 .3 2.9 2.5 2.2 1.4 2.5-4.4 1.3-1.7-.3-3.2 1.8-1.8-1.3-1.8-1.9-3.2-2.9 .8-2-1.9 .2-.1-2.7-3.8-.7-3.2-.2 1-1.9-1.3-1.8-.3-1.5-.9-3.4-1.8-1.7 .3-2.6 .6-3.1Z"/>
<path fill="#0d6cfb" stroke="#56646a" stroke-width="1.4" d="M548.2 663l3.6-.3-.5-2.4 2.5-.3 4.2 1.4 .7 3.4 3.8-.6 3-.7 3.4-1.5 3.6-2.4 1.1 1.1 1.5 2.7 2.6 3.1 .8-.4 .3 2.2-.3 5-.9 2.2-.7-1.7-4.9 1.2-1.4 4-2.5 .4-1.8-.6-1.4 1-3.3-.4-2.9-.3-2.5-3.9-.6 0-1.9-.8-.7-1.4-1.3-1.7-3.8-.3-.1-4.7 .4-1.2Z"/>
<path fill="#f92035" d="M666.1 749.4l1-1.2 3.3-.1 3.1-2.3 3.4-.8 0-.3 4.7-1.9 1.4 .8 2.1-.5 2.9-1 1.2-.8 1.6-3.8 2.7 2.3 2.6-2.3 5.4-.7 1.9-.5 .4-1.4 4.6-.9-.1-2.1 1.1 3.3-1 4.3-.2 2.6-.7 2.7-1 1.5-.6 4.3 1.1 1.1-4 .4-4 1.1-1.9-1.9-2.3 1.7-4.4-1.3-2.1-.2-2.9 1.3-3.8 .3-3.1-.2-.7-.7-4.8-.6-.9-.7-5.1 .6 .9-2.2Z"/>
<path fill="none" stroke="#56646a" stroke-width="1.4" d="M666.1 749.4l1-1.2 3.3-.1 3.1-2.3 3.4-.8 0-.3 4.7-1.9 1.4 .8 2.1-.5 2.9-1 1.2-.8 1.6-3.8 2.7 2.3 2.6-2.3 5.4-.7 1.9-.5 .4-1.4 4.6-.9-.1-2.1 1.1 3.3-1 4.3-.2 2.6-.7 2.7-1 1.5-.6 4.3 1.1 1.1 M667 751.5l.9-2.2-1.8 .1"/>
<path fill="#f92035" stroke="#56646a" stroke-width="0.8" d="M581.8 637l2.2-.6 1-3-.1 3.3 .8 1.9-2.1 1.8-.9-1.1-.6-1.7Z"/>
<path fill="#f92035" stroke="#56646a" stroke-width="0.8" d="M580.9 641.7l2.7 .2 .9 0 1.2-.1-.2 3.2-1.7-.4-1.8 2.4-.4-2.5Z"/>
<path fill="#ffffff" stroke="#56646a" stroke-width="0.8" d="M213.7 726.7l3.2-.4 .3-3.6 2.4 1.2 1.9 .6 2.7 1.8 .2 2.1-.2 .8 .1 1.4-3.5 1.3-2.4-.9-1.2-.1-2.5-.3-1.1-.9 .5-1.9Z"/>
<path fill="#ffffff" stroke="#56646a" stroke-width="1.0" d="M219.5 644.2l2.2-.7 .8 4.6 3.6 .4 1.3 3.1 3.4 .9 1.5 3.1 .7 2.5 4.1 3.2-2.2 .6 3.5 3.4 2.7 1.7 .7 1.7 1.9 5.4-.1-1.5 .6 5 1.3 1 .6 1.8-.3 3.1-1.4 .2-2.9-4-1.7-.6-.3-2-1.2-3.6-2 .2-1-2.1-.5-1.7-1-2-3.7-1.6-.5-1.9-1.3-1.4-3.4-2 .1-3-1.1-1.3-2.4-2.9-2.9 .4-.9-3.4-1.7-2.2 2.4-2.7 .3-1.2Z"/>
<path fill="#04308a" stroke="#56646a" stroke-width="1.4" d="M578.1 610.8l-1.6-3 2-1.4-.5-3.2 .7-3.1 1.5-.9 2.6-4.2-2.6-2.8 4.9-3.1-2.5-2.8 2.9-2.6 2.3-2.1 2.3 2.2 1.7 1.4-1.6 3.2 .5 3.4 3.5 2.4 1.6 .3 1.5 .5 2.2 1 2 1 1.8 1.3 2.8 1 3.7 0-1 3.3 .7 2.5-1 3.2-1.8 .3-3.4 2.2 1.1 1.7 2 1.4 .6 4.9-2.3 .5-3.7 0 .7 1.9-4.6-2.5-1.9-.1-.7-.1-3.5 1.3 .3-.6-2.7 0-2.8-1-1.8-1 .1-1.5-2.9-1.8-2.2-1.1Z"/>
<path fill="#f92035" stroke="#56646a" stroke-width="1.4" d="M643.3 656.4l2.2-3.6 .4-1.6 2.6-2.5 1.3-.6 2.8-2.4-1.1-1.5 2.4-1.1 1.4-1.5 2.3-1.4 3.4 1.7 1-1 1.1 1.2 4 1.1-.9 .6 3.1 2.6 1.3 1.3 3.5 2.8 2 .8-3.7-.8-2.8 .8-4.3 1.6-2.5 .8-1.2 0-2.2 3.9-1.7-1.8-2.3 .3-3.1-.3-2.1-.1-.4 .5-1.6 1.2-2.4 2.3-.5-1.7-.8-.3Z"/>
<path fill="#985afc" stroke="#56646a" stroke-width="1.4" d="M634.5 685.2l1.9-2.4 1.8-.6 1.3-3 1.5-.6 4.9-.2 0 .8 1.4 3.3-1.3 .3-3 4.4-1.3 4.4 1.3-.6-1.6 3.1-1.1 4.4-1.1 2-.6 1.4-5 .1 2.7-4.2-2.6-1-1.6-4 1.8 .5 .2-1.9 .9-4.2Z"/>
<path fill="#04308a" d="M577.7 714.8l1.8 1.2 2.4-2.3 3.7-.7 3.6 1.7 0-2.5-.8 3.1 .3 3.8 .9 2.9-1.9 2.6 .2 2.7-.1 2-1.5 2.5-.6 1.7-.5 1.8 .2 1.3-.4 3.8-1.3 3.4-.4 1.7 .8 4.9-2.8 .5-3 1-2.9-.9-4.3 .6 1.7-3.1 .4-1.9 3-.5 .5-2.6-2.1-2.6 .6-2.2 .7-4.8 .5-.6 1.3-4.3 .8-3.9-.3-2-.7-1.3-.8-3.1Z"/>
<path fill="none" stroke="#56646a" stroke-width="1.4" d="M577.7 714.8l1.8 1.2 2.4-2.3 3.7-.7 3.6 1.7 0-2.5-.8 3.1 .3 3.8 .9 2.9-1.9 2.6 .2 2.7-.1 2-1.5 2.5-.6 1.7-.5 1.8 .2 1.3-.4 3.8-1.3 3.4-.4 1.7 .8 4.9-2.8 .5 M571.1 751.6l1.7-3.1 .4-1.9 3-.5 .5-2.6-2.1-2.6 .6-2.2 .7-4.8 .5-.6 1.3-4.3 .8-3.9-.3-2-.7-1.3-.8-3.1 1-3.9"/>
<path fill="none" stroke="#56646a" stroke-width="1.3" d="M582.2 638.8l-.7 .5 0 .4-.2-1.9-.2 1.8 .2-1.8 .7 .9"/>
<path fill="none" stroke="#56646a" stroke-width="1.3" d="M583.5 640l-.1 1.3-2.5 .7-.8-1.9-2.3-2 2.5-1.3 1 .4 1.7 .3 .6 3"/>
<path fill="none" stroke="#56646a" stroke-width="1.3" d="M583.9 640.7l.7 1.4 1.1-1.1-1.7 .7-.3 2.1-4.1-.7-.7 .5 .4-.1-3.3-3.1-2.1-1.1 3.3-2.2 1.9-2.3-.1-1.6-1.3-.8 1.8 2.4 3.9 2.5 .8-1.7 .7 1.2-.6 3.9"/>
<path fill="none" stroke="#56646a" stroke-width="1.3" d="M588.2 639.4l.6 1.9-3.1 .9-.5 .6-.8 1.2-1.6 3.8-2.2-.5-2.8-.9 .3-3-.5-.7-2.7-.8-1-1-.2-1.1 .5-1.8 1.6-1.7 2-1.9 1.1-1.6-.6-1.7 2.6-1.4 1.9 1.5 1.7 2.4 .6 .4 2.6 1.5 .1 .5-.5 3.3"/>
<path fill="none" stroke="#56646a" stroke-width="1.2" d="M582 638.9l1.6 3.3 2.8 .8"/>
<path fill="none" stroke="#56646a" stroke-width="1.2" d="M581.7 639.7l2.7 4.3-.4 2.1"/>
<path fill="none" stroke="#56646a" stroke-width="1.2" d="M581.8 639.8l-3.1 2.7 .3 2.2"/>
<path fill="none" stroke="#56646a" stroke-width="1.2" d="M581.4 638.7l-3.8 1.8-3.1 .8"/>
<path fill="none" stroke="#56646a" stroke-width="1.2" d="M580.8 638.2l-3-2.8-2.6 1.2"/>
<path fill="none" stroke="#56646a" stroke-width="1.2" d="M581.3 639.4l-2-5.1-1.3-2.5"/>
<path fill="none" stroke="#56646a" stroke-width="1.2" d="M581.3 638.1l2.4-.6 .9-4.5"/>
<path fill="none" stroke="#56646a" stroke-width="1.2" d="M582 638.1l2.9-.2 2.2-2.4"/>
<path fill="none" stroke="#56646a" stroke-width="1.3" d="M554.1 584.5l4.3 1.9 1.9 1.7 1 1.3 3.7-.2 1.4-2.3 2.9-2.7 1.2-1.1 1.4-2.7 1.2 0 3.2-1.9 2.9-.1 2.1-.4 2.2 2.4 2.5-2.1"/>
<path fill="none" stroke="#56646a" stroke-width="1.3" d="M564.7 559.8l.5 2.8 1.6 1.9 2.2 1.3 3.5 1.4-1.5 4.1 3 2 2.2 2.1 .1 3.1"/>
<path fill="none" stroke="#56646a" stroke-width="1.3" d="M576 609.1l-.6-1.2 2.9 3.9 2.1 2.1 3.7 1.8"/>
<path fill="none" stroke="#56646a" stroke-width="1.3" d="M568.9 634.1l2 .4 4.2 2.2 2.4-.8 2.8 .9 1.4 0 2.3-1.4 1.8-1.2 2.6-1.7 2.6 .5 2.7 1.6 1.9-.1 3.1 2.5"/>
<path fill="none" stroke="#56646a" stroke-width="1.3" d="M559.6 633.1l-2.9 .4-1.5 2.9 .9 3-1 2 3.2 2.7-.2 1.5 1.2 1.8 1.9 4 3.1-.3 2.7-.6 2.6 1.9 1.4 1.7 2.5-1.7 1.5-2.9 2.3 .1 4.2 .1 1.6-2.7 4.3-.9 3.3-.9 3.6 2.3-1 1.9 5.6 3.4 1.9-4.4 .8 0 4 1.5 1.5-3.2"/>
<path fill="none" stroke="#56646a" stroke-width="1.3" d="M548.2 663l-1.1-3.3-1-3.6-.1-2.6 .6-2.4 3.1 1.1 2.4-1.1 2.7-3.7-1.4-2.9 1.6-2.2 .1-.9"/>
<path fill="none" stroke="#56646a" stroke-width="1.3" d="M572.5 659.6l-1.9-3 .4-1.9 3.3-.5"/>
<path fill="none" stroke="#56646a" stroke-width="1.3" d="M590.7 645.2l-1.8-1.7 .5-1.7-1.3-2.7 .1-3.7 .2-2.9"/>
<path fill="none" stroke="#56646a" stroke-width="1.3" d="M612.6 651.9l.7-.1 2 3.3 4 4.8"/>
<path fill="none" stroke="#56646a" stroke-width="1.3" d="M627.8 647.6l-.9 1.2 2 1.6 .8 1.2 2.9 4.5 1.1 .5 2.8 2 .7-1.5 2.9-1.3 3.2 .6"/>
<path fill="none" stroke="#56646a" stroke-width="1.3" d="M624.6 637l3.3-.8 2.6 .8 2.2-1 2.1 1.2 2.7-1.1 2.5-2.8 3.4-3.6 .8-.8-.9-3.2 2.8-.5-2.8-4.5 .4-2.2"/>
<path fill="none" stroke="#56646a" stroke-width="1.3" d="M640 633.3l4.7 2.7 2.7 .2 2.4-.6 2.5 1.9 .6 .1 1.5 .6 3.2 2"/>
<path fill="none" stroke="#56646a" stroke-width="1.3" d="M655.5 612.9l.3 3.6-1.4 2.3 .2 1.8 .5 2.5 1.8 1.8 2.8 2.4-1.4-1.1 3.9-1 1.3 .9 1.4 .8-.3 1.7 2.9 2.3-.7 2.1 5.6-3.9-.7-1.5 2.9 0 2.4-3-.7-.8 .3-3.3 3-1.9-.1-1.2"/>
<path fill="none" stroke="#56646a" stroke-width="1.3" d="M684 601.5l1.7 2.1 3.9 .8 4.5 1.6 1.1-1.2-.2 1.8 2.1 1.6 2.5 1 1.2 .6 3.6 .8 1.8-1.6"/>
<path fill="none" stroke="#56646a" stroke-width="1.3" d="M681.8 610l1.8 3.8 3 .8-1.6 2.6 1.3 3 1.5 1 1.6 2.7 2 2.7 .3-.1 4.4 4.3-1 1.5 3.4 1.2 2.4 1"/>
<path fill="none" stroke="#56646a" stroke-width="1.3" d="M676.7 642.9l-1.5 2.2 .5 3.4 .2 3.1-1.9 3.1 0 2.4 1 2.9 2.1 2.2 1.4 2.1 .7 1.5 .7 4.3 2.1 .5-.3 .3 2.6 3.9 2.6 .8 3-1.6 .3 1.2 3.2-2.2 3.3-.9 3.1-2.4 2.9-2.1 2.1 0 1-.8 2.2-1.2 1.6-1.9 2.3-2.3 2.2 .4 1.7-1 2.8 .4"/>
<path fill="none" stroke="#56646a" stroke-width="1.3" d="M551.4 717.7l2.5-1.7 2.3 .6-1.3-3.9 2.3-2.6-.9-3.4-.7-1.9 .6-3.9-3.8-1.1 1.2-2.9 1.2-1.2 3.9-2 .5-3.5-1.7-1.8 5.1-2.9 1.7-1.2-.4-2.3 2.4-3.2"/>
<path fill="none" stroke="#56646a" stroke-width="1.3" d="M581 692.7l-.5 2.8 .9 4.6-2 2-.3 1.8 1.1 .6 .6 3 4.1-1.5 2.8 .3 .3-.4"/>
<path fill="none" stroke="#56646a" stroke-width="1.3" d="M601.2 690.8l2.2 3.2 3.7-.3 2.7 .7 2.1 .5 1.1 .1 3.3-.5 2.9 1.3 1.8-.9"/>
<path fill="none" stroke="#56646a" stroke-width="1.3" d="M648 720l3.9 .6 .1 4.8 .5 1 .7 1.4 2.4 4.4 2.7-1.5 1.8 .1 2.4 1.2 3.7 1.3 .2 5 2 .7 3 2.4 0 1.6 2.1 2.8"/>
<path fill="none" stroke="#56646a" stroke-width="1.3" d="M668.6 711.5l2.8 2.2 2.3-1 2.4 .9 1.6 1.1 3.3-.1 2.7-2.5 1.9 1 1.8-.6 4.5-1.6 2.6-.3 .5-2 3.6 1.2"/>
<path fill="none" stroke="#56646a" stroke-width="1.3" d="M673.7 695.5l2.9 2.6-.9 .6 3.1 3.5 1.6 1 2.5 2.4 2.5 2.4 2.2 .3 1.6 1.5 2.7 1.1"/>
<path fill="none" stroke="#56646a" stroke-width="1.3" d="M631.4 728.5l-.6 1.8-.8 3.7 1.1 3.3-.1 2.2"/>
<path fill="none" stroke="#56646a" stroke-width="1.3" d="M619.8 707.1l1.2 2.4 .2 .1 2.2 3.7 .5-.2 5.4 0 1.3 .9 2.7-.4 3.8-1.6 3.8 2.9 1.5-1.8 2.5 .1 1.7 2.3 2.2-.6 3.2 1.1"/>
<path fill="none" stroke="#56646a" stroke-width="1.3" d="M35.6 372.2l-2.4 3.1 .6 3.7 .5 4.6-.4 2 .7 2.2 3.4-.6 .4 2.6 2.3 2 0 2.4 1.7 3.1-2.6 .4 2 .9 3.4-.9 3.5 1.2 2.9 1.9"/>
<path fill="none" stroke="#56646a" stroke-width="1.3" d="M-.7 405.6l4.9 2.2-.8-2.2 4.1 .7 2.2-1.5 2.6-3.2 1.9-.1 .2-3 2.3-1.4 5.3-1.1-.2-1.3 3.3-.4 2.7-2.4 1.2-3.6 1.7-.7 3.2-2"/>
<path fill="none" stroke="#56646a" stroke-width="1.3" d="M63.8 421.9l.3 2.7 .6 1.9-.7 2.8 1.8 3.8 .6 1.4 2.6 1.2 1.1 1.7 2.2 5.1 1.2 1.2 .9 2.6 1 2.7-1.1 2.7-.9 2.9 1.1 1 .1 3.1 1.5 1.8"/>
<path fill="none" stroke="#56646a" stroke-width="1.3" d="M48.5 427.9l.8 3.5-1 2.7-.8 .6-1.3 4.5 .1 1 0 3 2.3 2.5-1.3 .4 .3 5.5"/>
<path fill="none" stroke="#56646a" stroke-width="1.3" d="M33.8 429.2l-2.3 3.3 1.6 2.2 .9 2.5 1.6 4.7-.8 1.9 1.6 2.4 1.8 .7-1.3 3.3"/>
<path fill="none" stroke="#56646a" stroke-width="1.3" d="M65.8 433.1l1.1-1.3 4.1 .6 3.1-2.7-.2-1.2 4.8 .1 .5-1.1 4.6 .9 .6 .2 2.4 .5 3.3 1.7 .4 .6 4.8 1.3 .9 1.1-.8-1.9 2.8-5.1 .3-2.1-2.1-3.3 2.5-2.9 1.3-1.6 .5-3.5"/>
<path fill="none" stroke="#56646a" stroke-width="1.3" d="M96.2 433.8l.2 2.8 2.3 1.6 .1 3.9 .7 3 2.7 2.3 1.8-2.2-.4 3 .5 2.4 1.2 3.3 1.4 1.6 .4 3.1 1.7 3.1 .1 2.6-1.3 2.7 .2 3.1-.2 3.4"/>
<path fill="none" stroke="#56646a" stroke-width="1.3" d="M74.4 446.3l1.8-1.3 3.9 1.7 2.8 2.3 2.4-.5 .8 3.5 0 3.9 1.2 1.6 1.9 3.5"/>
<path fill="none" stroke="#56646a" stroke-width="1.3" d="M108.1 398.5l-.9-.8-.8-5.2 1.6-1.1 .3-2.2 .5-1.9 2-3.1-.5-3.3 .4-3.3 2.6-1.1"/>
<path fill="none" stroke="#56646a" stroke-width="1.3" d="M108.8 387.3l-.8-2.6-.6-1.1-2.9-1.9-2.4-2.5 3.1-.6-2.1-2.2 2.6-1.6 .9-1.6"/>
<path fill="none" stroke="#56646a" stroke-width="1.3" d="M123.1 394.5l2.1-1.5 1.6-2.9 2.3-2.6-1.4-1"/>
<path fill="none" stroke="#56646a" stroke-width="1.3" d="M148.9 398.4l2.3-1.5 .5-4.5 1.6-1.2 1-3.2 2.3-.4-1.5-2.8 .2-2.2"/>
<path fill="none" stroke="#56646a" stroke-width="1.3" d="M113.9 420l1 2.5 4.1 2.3 2.6 2.3 1-2.5 1.7 .6 1.3 .3 1.8 4.9-.8 2.1-.2 3.5 1.6 4.4"/>
<path fill="none" stroke="#56646a" stroke-width="1.3" d="M108.8 461.7l2.4 .7 3.1 1 2.7 .7 1.8 1.3 1.9-2.6 2.4-2.6 4-.3 2.7-1.1-.6-1.7 1.9-.6 1.4-1.5"/>
<path fill="none" stroke="#56646a" stroke-width="1.3" d="M186.7 396.5l2.3-1.3 3.4-.3 1.7-.8 2.1 .1 1.8-4.1 0-4.5-1.5-2.4 .7-2.2"/>
<path fill="none" stroke="#56646a" stroke-width="1.3" d="M190.9 432.2l6.4 1.7 2.3-2.6 1.7-.1 3.4-.8 2.6 1.1 2.6 .5 1.8-1.1 2.7 .6 .9-1.1 2.9-4.4 0-.1 3.4-4.5-.2-2.3 0-1.7-2.3-2.8 2.6-3-.4-.9 .7-1.8-2.3-3.9 3-1.7 1.8-4.7-2.1-1.7 .4-2.4 .9-3.3-2.3-1-.3-4.9-.1-1.8-.2-1.6-1.8-1.8-2.9-.5-2.5-3-.1-.7-.5-2.4-2-3.5 .7-3.8"/>
<path fill="none" stroke="#56646a" stroke-width="1.3" d="M196.2 394.2l3.9-1.7 1.4-1.6 1.9 .1 1.6-.4 3.6-.8 2.4 1.3 3.1-.7 1.7 1.3 3.4-.3 3 .9 1.5-1.1"/>
<path fill="none" stroke="#56646a" stroke-width="1.3" d="M197.8 453.6l2.8-.5 2.2 .5 4.2 .5 2.5-.4 1.5-.2 2 1.7 1.7-3.6 .5-2.8 .6-3 2-1.8-1.9-3.1 1.5-2.5-3.9-4.2 .9-2.7"/>
<path fill="none" stroke="#56646a" stroke-width="1.3" d="M217.8 444l.9-2.1 1.5-1.6 4.2 1.7 3.2-1.4 .9-.1 5-2.5 .6 2.2 4.1-.4 1-1 1.8-2"/>
<path fill="none" stroke="#56646a" stroke-width="1.3" d="M230.3 490.9l.9 2.1 3.5-2.2 2.7 .9 .7-1.5 3.2 1.3 2 .8 1.4 1.2 1.1 2 6.2-2.4 .1-2 3.1 .6"/>
<path fill="none" stroke="#56646a" stroke-width="1.3" d="M217.2 473.3l3.1-2.6 4.7 3 3.2-.3 .6-.6 1.6 .8 5.6-1.1 1.4 4.2 2.3-1.2 1.2 1.4 5.2-.1-.3 .4 5.8-4-1 2.6 3.4 1.6 2.5 .6"/>
<path fill="none" stroke="#56646a" stroke-width="1.3" d="M197.9 505.9l.8 .9 3.1 1.5 2.5-.7 2.5-1.2 1.8-.6 0-1.8 1.5-2.1 2.1-3.5-1.4-.1 3.5-3.9"/>
<path fill="none" stroke="#56646a" stroke-width="1.3" d="M196.8 512.5l-.4 2.9 2.8 3.5 .1 2.7-.8 .4-.7 3.5 1.6 1 4.4 4.1 1.9-2.6"/>
<path fill="none" stroke="#56646a" stroke-width="1.3" d="M165.4 526.4l1.9-.1 4.4 2.2 .4-1.6 3.4 3.2 3.1 .9 2.4 .4 1.9 2.4 2.3-.8 1.6-.5 4-1.3 2.4 .3 3.1-.1 2.7-2.2-1.2-3.7"/>
<path fill="none" stroke="#56646a" stroke-width="1.3" d="M170.6 550.5l1.4 .7 3.7-2.6 2.1 1.3 2.5-1.8 .8 2.1 5.5 2.3 1-.5 2.6-1.2 2.1 1.2 2.4-2.4 1.2 1.2 5.3-4.5 .3-2 1.5-.7 1.3-.7 4.7-2.4"/>
<path fill="none" stroke="#56646a" stroke-width="1.3" d="M181.4 563.9l-.3-1 1.7-3.8 .4-1.5 2.2-3.2 1.5-.4 3.4-1.8 2-.2"/>
<path fill="none" stroke="#56646a" stroke-width="1.3" d="M233.2 555.5l-1.1 2.7 1.5 2.7-1.1 5.2-.3 .2-2.8 3.5-.6 1.9-1.9 3.3-1.7-.3-2.4 2.8 .3 2.9-1.3 2.5-.9 3.7"/>
<path fill="none" stroke="#56646a" stroke-width="1.3" d="M197.3 586.1l1.5-2.1 2.7-5.4 .6-2 .9-.5 .2-4.4 2.6-.7 3-1.8 2.1-.2 1.6-1.6 3.3 .8 3.9 1.5-.4 2.1 3.4 2.3 2.5 .6"/>
<path fill="none" stroke="#56646a" stroke-width="1.3" d="M239.6 538.2l4.4 .9 .9-3.6 2-1.1 1.3-1.4 3.9 1.4 .7 .7 2.6 1.6"/>
<path fill="none" stroke="#56646a" stroke-width="1.3" d="M152.5 514.3l.4 .9 4.9-.4 1.4 .3 2.4-2.4 1.4 1.6 3.6-1.4 .7-3.3 .5-1.6 .9-2.2 2.1-1.4 3.7-.6"/>
<path fill="none" stroke="#56646a" stroke-width="1.3" d="M215.7 440.4l.4 2.9-1 2.8-.9 1.7 0 3.9-1.4 3 0 2.7 1.1 1.5 .1-.3-.1 3.7 1.8 2.1 1.6 1.6 1.3 2.6-1.5 2.8-.5 2.6-.5 3.8 .7 1 1.4 1.6 3.5 0 .7 3.3"/>
<path fill="none" stroke="#56646a" stroke-width="1.3" d="M213.9 458.9l.4 .2 5.1-.1-.9-2.1 4.1 2.2 3.8 .7 .3-1.4 3.1-.5 2.2 .7 2.9 .8 3.2 .5 3.2-1.4 1 1.7 1.3-.6 3.3-1.2 1.9 1.7 3.1-.7 3 .7 2.4-2.9 2.9 3.8 .6 .3 2.8 .3"/>
<path fill="none" stroke="#56646a" stroke-width="1.3" d="M246.9 458.4l2.1 5.1-1.8 .4 1.3 5.1-.1 1.9 .3 0 3.1 2.4-.1 3.2 .4 1.5 .5 2.3 .3 2.8 3.6 4-4.6 .5-3.1-.4-2.6 .1-2.3 1-4 2.7 .9-.6-3.5 0 1.2 4.7-1.8 3.2-.5 1.7 5 .9 2-.4 3.8 1.7"/>
<path fill="none" stroke="#56646a" stroke-width="1.3" d="M256.5 487.1l1.9-2.3 1.4-1 2.2-1.4 4.3-.7"/>
<path fill="none" stroke="#56646a" stroke-width="1.3" d="M247 502.2l-.5 4-.6 2.3 2.6 3.8-1.1 2.5-.2 2.8 .6 2.9-.2 1.7 1.1 2.6-2 .7-1.2 1.8-1.6 1.5-2.9-.2-4.4 .8"/>
<path fill="none" stroke="#56646a" stroke-width="1.3" d="M248.7 524.8l3.2-1.7 2.8 1.3 1.8-3.8 .7 .9 1.8-1.7 4.7 .2 1.9 .8 3-2.4 1.3 .8 2.7-1.9 1.5 1.6 2.6-.1 3.4-.9 2.1 3.4 2.3-2.1 3-2.5 .8-2.5 3.4-.8-1.6-4.1 .7-1.9"/>
<path fill="none" stroke="#56646a" stroke-width="1.3" d="M282.2 521.3l1.9 1.4-.5 1.7 .8 1.9 .6 3.1-.1 3.7-.6 1.5-.1 2 .9 3.4-.6 1.5 2.3 4.6-.2 2.8-2.9-.4-1.3 2.3-3.4 .7"/>
<path fill="none" stroke="#56646a" stroke-width="1.3" d="M291.7 513.4l2.2 .1 .6-.2 4.1 2.1 1.3 .9 2.3 2 .3 2.4 3 .8-.4 1.7 .6 2.6 2.1 3.7 .1 3.2 2.6-2.4 1.4 .7 3.2-1.7 2-.9 2.8 1.5 2.4-.5 1.6-1.1"/>
<path fill="none" stroke="#56646a" stroke-width="1.3" d="M290.8 507.4l2.6-1.8 2.9-2.8 2.2 1 2.5-1.3 1.1-.6 2.7-.2 2.9-1.6 1.8-2 2.7-1.3 2 .5 4.5 .3 2.7-1 1.5 .2 3.5-3.9 2.4-.9 2.8-1.9"/>
<path fill="none" stroke="#56646a" stroke-width="1.3" d="M300 474.9l2.1-2 2.9-.7 3.2-1.3 1.8 .8 4.6-1.2 1.5-1.5 .8-.6 1.9-.5 5.2-1.6 2.4-.4-.7-1.2 6.1 1.9 .5 .2 4 1.5-.5 1.5 .1 1.7 2.8 1.4 2.7-1.8 3.2-1.6 1.6 .3 3.7-.9"/>
<path fill="none" stroke="#56646a" stroke-width="1.3" d="M326.4 465.9l-.7-4 3.7-.9 1.8-1.9 1.4-3-.1-2.2 2.1-2-1.9-2.9 3.4-1.5-1.3-2 1-2.9 2.2-2.5"/>
<path fill="none" stroke="#56646a" stroke-width="1.3" d="M331.6 490.1l-1.5-1.9-1.3-3 .9-1.7-1.7-3.8 2-.7 1.3-2.5 2.9-1.4-.7-3.4 0-1.6 2.8-1.8"/>
<path fill="none" stroke="#56646a" stroke-width="1.3" d="M322.9 496.8l1.1 1.1-.5 1.9 1.2 3.1 .7 2.7 1 1.8 2.7 .7 .3 3.5 1.5 2.7 .1 2.1-.3 1.3 .3 3.5-1.1 2.3-1.2 1.4-3.5 1.7-1.3 1.7 .2 1.8 2.8 .8 2.7 4-1.2 1.7 2.4 2.5 2.7 1.4 2.8 .3 1.2 2.3 .1 1.3 2.4 1.4 .3 5.3 0 1.2 2.2-.8 2.2 1.2"/>
<path fill="none" stroke="#56646a" stroke-width="1.3" d="M340.3 552.3l-2.8-1.3-1.7 2.5-2.8-3.2-2.5-.8-4.4 2.8"/>
<path fill="none" stroke="#56646a" stroke-width="1.3" d="M331.6 490.1l1.6 4.3 1.8 1 1.5 .4 1.4-.5 2.2 3.6-.7 1.8 1.9 1.6 1 2 1.6 1.7 .8-.1 1.3 .4 2.6-.6 2.4-.7 3.2-.9 2.4 .6 1.5 .9 1.6-.4 3.1-.2"/>
<path fill="none" stroke="#56646a" stroke-width="1.3" d="M349.9 468.9l1.1 3 2.8 2.1 0 1 .7 3.8-.9 3.2-.3 2.8 .3 1.1-2 .9 .7 3.2 2.9 3.8 1.4 2.3-.2 3.5-1.9 1.4-.3 3.1"/>
<path fill="none" stroke="#56646a" stroke-width="1.3" d="M344.7 552.7l1-2.6 .2-1.6 2.2-2.5 2.8-4-.7-2.3 .2-1.9-.2-2.9 1.6-3.8-.3-4 2.4 .2 1.8-.5 1.8-1 3-.9 3.1 1.5 1.2-.3 3.9-.4-1 1.9 5.1 1.1"/>
<path fill="none" stroke="#56646a" stroke-width="1.3" d="M344.7 552.7l-1.1 4 .6 3.5 1.9 2.2 1.1 .9 1.6 2.2 1.8 .9 2.1 1 .7 2.9 3.4 .8 2.5 4.2-.6 1.2 2.7 2.4 1.2 1.9 1 2.8"/>
<path fill="none" stroke="#56646a" stroke-width="1.3" d="M179.1 506.3l3.1 .6 2.7 1.5 1-.8 3.5-1.9 1.4-1.6 .5-2.6 3 .8 1.2 4.1 1.4 .4 1-2.4 2.3-2.4 2.7 .4 .9-.5 1.8-.3 3.6-3.1 1.8 4.7 1.7 1.3 2.9 1.5-.4 2.9 .7 2.3-.7 2.9 .1 .2-.6 4.7-1.9-.3-2.7 .5-1.6 2.9-.6 2"/>
<path fill="none" stroke="#56646a" stroke-width="1.3" d="M186.3 485.6l1.6 .4 1.3-1.6 3.4 .6 .9-1.5 2.2-.3 3.3 3.5 3.5 .1 2.9 2.3 1-.5 3.2 3.4 4 3-4.6 1.6 2.3 1.7-2.1 .2"/>
<path fill="none" stroke="#56646a" stroke-width="1.3" d="M215.2 514.1l2.7-.2 3.6 3.1 .1-1.8 2.2 2.5 3-1.9 3.8 2.2 1.2-1.1 3.4 0 2.8 1 1 2.8 2.7 1.2 3.9 .4-.2 2.9"/>
<path fill="none" stroke="#56646a" stroke-width="1.3" d="M178.9 533.2l3.3 2.2 1.3-.4 5.6 3.4-.3-.4 3.5-.6 2.4-1.9 1.7 .9-.1-1.5 1.9 2.2 3.2-.2 3.6 .5"/>
<path fill="none" stroke="#56646a" stroke-width="1.3" d="M179.2 549.2l1.1 2.2 6.1 1.5-.4 1.1 3.2 .8 2.1 1.9 3.4 .7 2.1-.1 1.8-1 3.6 1.4 1.7-1 3.8-.1 2.6-3.3 1.1 .1 2.1 .8 3.4-.7 2.2-2.1 3-2.1 1 .3 2.9-1.9 2.2 1.8 .2 2.1 2.4 2.2 .6 1.9"/>
<path fill="none" stroke="#56646a" stroke-width="1.3" d="M180.4 561l.5 2 3 1.7 1.1 1.8 1.8 1.3 .3 3.1 .3 2.2 1.4 1.3"/>
<path fill="none" stroke="#56646a" stroke-width="1.3" d="M244.1 545.9l2.1 3.4-1 1.4 .6 1.7 1.4 1.7 .8 2.4-.8 3.1 .9 5-.7 .5 .7 2.1 1.8 2-.4 3.1 2.4 3.5-.6 3.6-1.1-.2-2.4 4.1-1.4 2.8-.1 .9"/>
<path fill="none" stroke="#56646a" stroke-width="1.3" d="M205.2 579.8l3.9-3.4 2.8-.2-1.1-1.9 3.1 .3 3.4-5.3-1 .2 1.7-4.1 1.6-2.6-.7-2 3-3.2 .3-2.3 5.3 2.3 .9-2.4 3 .5"/>
<path fill="none" stroke="#56646a" stroke-width="1.3" d="M248 556.5l2.9 .1 2.9-.4 2.9 0 .7-3.6 1.9 2.4 4.4-.9 1.2-.7"/>
<path fill="none" stroke="#56646a" stroke-width="1.3" d="M251.3 579.4l1.2 1.9 2.4 .1 .6 4.2 1.7 1.3 2.8 2.2 .8 1.7 1.1 3.7 0-.7 2 .1 .6-3.8 .7-2.5"/>
<path fill="none" stroke="#56646a" stroke-width="1.3" d="M218.6 587.6l2.4 1 4.5 .5 1.1-1.6 3-1.2 3.5 .9 3.1 .9 1-1 3.4 .4 3.1 .8"/>
<path fill="none" stroke="#56646a" stroke-width="1.3" d="M235.7 599.3l3.1 2.8-.8 3.9 4.8 1.2 2.1 1.7-2.9 .7-3.2 3.1 0 .9 .7 1.1-.4 4.7-2.9 1.5-1 2.3 2.2 3.8-.8 3.1-1.2 .9"/>
<path fill="none" stroke="#56646a" stroke-width="1.3" d="M244.9 608.9l.6-2 2.4-.4 2.5 0 2.5-.7 3.3 1.6 2.4 1.7 1 2.4 2.4-.9 4.2-.7 2.6-.9 1.5-.1 2 2 3.4 1.3 1.6 1.4 2.2 1.2 2.8 1.5"/>
<path fill="none" stroke="#56646a" stroke-width="1.3" d="M283.8 560.8l2.1 2.8 1.4 2.5 1.1 2.2 1.3 3.5 1.2 .3 2.3-.6 3 1.4-.9 3.9 1.4 1.6 3.6 2.6 .8 .1 2.5 0 1.7 2.2 3.2-2.4 3 .9 1.2-1.2 2.3-2.3 2.1-.7 2.1-2.9-1-3.3 1.6-1.8 .3-.5"/>
<path fill="none" stroke="#56646a" stroke-width="1.3" d="M283.8 560.8l5.3 1.5 .5-1 3.8 .8 2 1.8 3.9 .7 2.8-.6 1.3-.4 2.4 1.9 2.8 .9 2.4 1.8 2.9-.6 .7 1.7 3.9 5.1 .7 .3"/>
<path fill="none" stroke="#56646a" stroke-width="1.3" d="M296.2 588.1l-.3 2.7 .6 1.3 1.7 2.1 .8 1.4-.5 2.4 3.1 2.3 3 .3 1.5 .3 3.3 1.9 1.9 1.7 2.7 1.7 .5-1.8 .8-1.9"/>
<path fill="none" stroke="#56646a" stroke-width="1.3" d="M361.4 578.9l-3.3 2.3-.9 2.1-3.6 1-.4 .7-4.9 .3-1 2.6-4 1 .4 1.4-1.9 2.5-2 .9-.2 5.5-4.1-.3"/>
<path fill="none" stroke="#56646a" stroke-width="1.3" d="M360.6 464.3l1.9 4.5-3.4 .7 1.7 .8-.8 4.1 3.3 1.9 1.8 2.4 2.9-2.8 1.9 2.2 3.3-.9"/>
<path fill="none" stroke="#56646a" stroke-width="1.3" d="M338.7 472.9l1.4 1.2 1.2 1.8-.6 4.5-1.3 3.2 2.5 2-2.3 .2 2.7 5.5-2 .8-.2 3.5 0 3.3"/>
<path fill="none" stroke="#56646a" stroke-width="1.3" d="M213.6 636.6l2.9 2.1 2.8 3.2 1.3 1.1 1.3 0 3.6 3.9 2.8 0 2.2 2.1 1.7-.1 2.4 1.5 3-2.4 .4-2.5 4.2-.3 1.3-1.5 1-.9 4.2 .8 3.2 .6 2.1-2.5 3-2.4 3.2 .1 1.7-.8 .4-2.7 .8-1.2 2.4-1.9 2.5 0 1.5 1.7 2.6-2.4 2.7 .9 1.8 2 1.6 1.1 2.4 .7"/>
<path fill="none" stroke="#56646a" stroke-width="1.3" d="M237.2 620.3l-.4 .8 1.6 2.4 .8 1.3 2.2 2.1-.5 4.4 1.5 2.9-1.9 0 .1 3 1 .5 2.2 4.3 .7 .8"/>
<path fill="none" stroke="#56646a" stroke-width="1.3" d="M261.9 638.6l1.4 4.5 .7 2 1.5 3.1 1.1 .4-.4 2.3 1.9 2.5 1 4.4 1.3 1.1-.7 1.2-.5 3.3 1.2 2.4-2.3 3.9 2.6 1.5 3.1 2.9 1.5 1.4 .3 2.6 3.8 .2 3.5 2.7 1.1 1.7 2.4 1.5 .8 2.2 1.1 1.8 1 3.5 .1 2.3"/>
<path fill="none" stroke="#56646a" stroke-width="1.3" d="M286.4 684.2l4.2-1.5 1.1-.7 2.5-2.3 2-1.5 2.3-.4 2.3-1.1 1.9-4.5 .7-2.9-1.3-.7 3.1-4.8 .9-2 2.1-2.2 1.9-.9 2-1.9 2.3 .7 2.3-.4"/>
<path fill="none" stroke="#56646a" stroke-width="1.3" d="M267.7 711.4l1.2 2.9 3 2 2.5 1.1-.2 1.5 3.7-.2 3.1 2 .9-1 4.5-1.6 1.6 .6 2.6 1.5 3.8-1.3 4-.4 .7 1.4 2.3-1.8 3.5-.2 .1-1.3 .9-3.8"/>
<path fill="none" stroke="#56646a" stroke-width="1.3" d="M255.9 718.9l.3 2.6 1.8 2.1 1.1-.2 2.7 2.5 1.4 2.7-.1 3.6 4.3 1 .7 .6 2.6 1.6 .5 2.2 3.2 2.4 1.2 1.5 3.8 1.3 .8 .9 2.1 .8 3.9 2.9-.5-.1"/>
<path fill="none" stroke="#56646a" stroke-width="1.3" d="M254.2 720.4l-.5 .4-5.3 3.6 0 2-3 1.5-1.5-.1-4.7 3.4-.9 0-1.4 3.4-1.4 3.1 .1 .3-.3 1.6-2.9-.9-2.6 3.9-.9 1.9-1.2 1.9 .9 3.4-1.6-1 .7 3.1 3.1 .7 1.4-.9 3.7-1.1 3.1-2.5 2.7 2 1.2 1.1 4 1.4 1 .4 1.9 2 2.7 2 1.6 1.1 2.2-.1 1.9 3.9 1.2 1.2 1 .8 2.6 3.9 2.8 2.5 1.8-.7 3.3 .5 2.3-1.5 1.9-.4 2.5-1.3 2.4-.3 3.5-.3"/>
<path fill="none" stroke="#56646a" stroke-width="1.3" d="M212.9 746l3.5-.8 .4 .7 3.6 .3 3.3-1.1 4 1.3"/>
<path fill="none" stroke="#56646a" stroke-width="1.3" d="M234.1 712.5l1 2.9 1.5 2.5 2.3 3.9 .3 .9 3.4 1.4 1 .1-.8 2.1 2.6 1.6"/>
<path fill="none" stroke="#56646a" stroke-width="1.3" d="M295.4 775.7l-1.7 2.7-1.9 2.4-.1 2.7 .3 2.8-.4 .9-3.2 3.9-1.5 .9-4-1.5"/>
<path fill="none" stroke="#56646a" stroke-width="1.3" d="M295.4 775.7l1.6 .5 3.4-2.8 1.7-.8 1.1-1.2 3-.4 3.2-1.3 2.5 .1 1.5-.7 1.6-.5 4.1-.1 3-.9 2 1.2 1.3 0 3.4 .3 2.2-.2 1.3 1.5 3.6 .8 2 1.6 3.6 1.1"/>
<path fill="none" stroke="#56646a" stroke-width="1.3" d="M202.8 800.8l4.2 .2 1.4-.1 4.2 2.1 1.8-1.2 4.9-.8 1.9-1.2 1.9-1.3 2.4 1.3"/>
<path fill="none" stroke="#56646a" stroke-width="1.3" d="M306.1 720.4l1.2 3.8 .7 .9-.4 3.3-.6 2.7 4.2-.3 .3 1.8 3.5-1.6 2.2-.2 .2 2.8 1.5 2.4-.4 3.7-4.2-1 .9 3.6-2.4 3.5 .6 1.1 1.3 1.9 2-.1 1.8 3.9 .5 2.6-1.3 1.8-2.5 1.8 1.8 3.2-3 2.2"/>
<path fill="none" stroke="#56646a" stroke-width="1.3" d="M318.7 731.5l3.2-.7 1.9-.7 3.3 1 3.7-.7 .2-.5 3.5-1 4.1 .1-.6 2.1-1.3 2.3 1.9 1.2 3.6 .5 3.7 2.4 .4-2.5 5.1 1"/>
<path fill="none" stroke="#56646a" stroke-width="1.3" d="M341.5 773.9l.3-3.6 .2-2 1.5-2.3 .8-2.9 .9-2-3.2-4-.7-2 3.6-.4 4.4 0 .4 .7"/>
<path fill="none" stroke="#56646a" stroke-width="1.3" d="M354.9 619.4l-.3 2.4 2.9 2 1.6 2.8 2.6-.1 .5 3.2 .5 3.2 3 2.3 .2 1.4 2.5-1.4 5 2.3 3 1 2.7-2.6-1-1.4 2.8-2.6"/>
<path fill="none" stroke="#56646a" stroke-width="1.3" d="M462.4 478.8l.6 2.5 .8 1.3 0 3.6 1.5 3.3 1.3 2-2.3 1.1-.9 2.6-1.5 3.6 1.8 1.1 2.4 1.3 1.1 2.6 .8 2.8 .5 2.5 1 2.2 1.7 1 .5 4.2 1.8 3.3-1.4 2.1 1.5-.2 2.6 5.1-2.4 2.2 .1 1.5-.2 3.3 .2 2.5-.9 3.2-2.3 .8 .5 1.9-.5 2.5"/>
<path fill="none" stroke="#56646a" stroke-width="1.3" d="M467.2 503.8l-1 2.2-4.4 .7-2.2 .8-1 1.5-3.4 2.2-2.1 2.2-3.1 1.1-3.7-.8-2.9 1.7-.2 3.2-4.7-.1-2.3 .1"/>
<path fill="none" stroke="#56646a" stroke-width="1.3" d="M470.8 480.9l1.9 1.8 4.4 2.1-.4 .9-.1 3.8-.5 .9-1.8 2.5 .8 2.6 3.5 2.3 1.2 1.7 2 1.7 1.9 3.6 0 1.8 .6 2.6 1.6 2.8-1.7 1.7 .2 4.1-2.2 .9-3.1 2.2-.5 1.9-.8 1.4-1.6 2.6"/>
<path fill="none" stroke="#56646a" stroke-width="1.3" d="M476.2 526.8l1.9-2.8 .9 0 2.5 .7 2.8-1.4 2.5-.6 1.3-2.5 4.2 .8 1.5 .9 1 2.8 3.2-1.2 1.5 3.5 4.8-1.4-.8 1 3.7 2.4 0 2.5 .9 2.1-2.3 3-2.8-1.2-2.8-1.2-.7 .5-2.4-.9-2.7-1.4-3.4 1.8-3 2.3-2.7-.8-1.6-.6-.8 2.7-3.3-.9-3.9 .1-2.7 2.5"/>
<path fill="none" stroke="#56646a" stroke-width="1.3" d="M500.4 479.2l-.2-.6 3.7 2.9 1.5 2.3 1.1 2.1 1.9-.2 4 2.7 2.2 2 2.9-.3 .4 1.9 3 0 2.4 2.1 3.6-.2 2.5 1.2 2.3 .2 2.4 1.9 2.4 2.2 .2-1.7"/>
<path fill="none" stroke="#56646a" stroke-width="1.3" d="M536.7 497.7l3.9 1.5-.2 4.1 1 1.2-.3 1.9 4.8 3.9-1.9 1.6-3.1 2.6-2.7 2.1-1.5 .9-2.3 2.4 .8 2.8-1.6 2.4-1 3.6 .7 2.5 .1 .3 0 3.6 .8 3-1 1.9-.4 2.5-1.3 2.9-1.3 3.8-3 .4-1.8-.3-1.8 2.1-2.9 1.7"/>
<path fill="none" stroke="#56646a" stroke-width="1.3" d="M545.9 510.3l.8 1.2 1.3 1.9 .8 1.5 .6 1.6 2.1 3.1 1.7 1.6 1.9 .3 3.7 2.6 2.8 .1 1.5 1.3"/>
<path fill="none" stroke="#56646a" stroke-width="1.3" d="M533.2 540l5 2.9 2.2 1.9 .2-.2 3.3 1.3 1.5 2 1.5-3.6 1.7-.7 0-2.3-1.2-2.5 2.9 2 2.4-1.1 .9 .5-.2 3.2 2 3.6-.3 2.5 2.6-1.3 3.6 .1 3.2 1"/>
<path fill="none" stroke="#56646a" stroke-width="1.3" d="M379.4 440.9l2.9-.8 1.1 5.2 .1 0-1.1 3.2 1.8 2.8-1.9 3.1-.4 3.6-.1 2.5"/>
<path fill="none" stroke="#56646a" stroke-width="1.3" d="M403.9 440l.1 2.7 1.8 .7 3.2 1 1.5 1.7 2.5-.8 3 1.9 1.1 1.2 4-.5 1.2 2.2 3.5 .2 3.2-1.4 .5-1.1 4.7 .3 3.5 2 2.3-3 3.5 .5 1.4-.4 3.2-.5 3.5-.8"/>
<path fill="none" stroke="#56646a" stroke-width="1.3" d="M372 472.4l1.7 1.3 1.2 .2 3.2 2.5-.2 1.9 .1 3.9 .7 1.1-.4 5.6 .4 3.6-3.3-.2-1.2-.7-2.2 1.9"/>
<path fill="none" stroke="#56646a" stroke-width="1.3" d="M463.6 459.9l1 3.4 1.8 2-.5 2.8-.6 3.5 .7 2.3-1.5 2.1-2.1 2.8"/>
<path fill="none" stroke="#56646a" stroke-width="1.3" d="M451.3 441.2l3.8 2.3 .4 2.3 1.2 .3-1.1 2.6 .8 1.5 2.8 3.5 0 .5 3.6 3 .8 2.7 3.2-1.7 1.9-3.6 .9-2.4 1.2-1.6 1.6-1.2-.2-1.3 .7-2.2-1.5-3.3"/>
<path fill="none" stroke="#56646a" stroke-width="1.3" d="M513.7 462.3l-.8 3.5-1.7 1.8-.4 3.7-.5 .7-3.7 2.4-.3 2.4-3.8-.8-2.1 3.2"/>
<path fill="none" stroke="#56646a" stroke-width="1.3" d="M516.9 597l1.9 2.2-2.3-.2 1.4 5.5 1.6 1.3-1.9 2.1-.7 2.9 .2 1.1-.5 4.7 2.4 3.9-1.3 2.6 3.3-.1 2.7 1.8 1.9 .3 3.1-.8 3.6-.2 .7-3.1"/>
<path fill="none" stroke="#56646a" stroke-width="1.3" d="M525.6 592.9l.8 .7 3.8 2.3 1.3 2.1 .7 2.3 3-.2 1.8 .2 3.8-1.3 4-1.1 2.4-1.7 .1-.9 3.6 1.4 3.5-1.4 2.6-1.5 .7-.5 1.1-.6 2.1-2.4 2.4-1.3"/>
<path fill="none" stroke="#56646a" stroke-width="1.3" d="M547 632.8l2.1-4.4 .4-1.4-.9-1 .4-3 .5-4.1-.7-.8-2.4-3.6 .9-2.3-1.9-2.5 2.3-2.7 3.5-.7-.9-1.2 3.2-2.5 1.6 .3 1.9-1.1 3.3 .8 3.1-1.3"/>
<path fill="none" stroke="#56646a" stroke-width="1.3" d="M371.1 582.9l2 1.9 .2 4.2 1.1 1.5 2.3-.5 .9 4.6 0 3 .4 2.2 .5 1.7 2.6 2.4 .5 2-.3 3-1.9 1.8-2.8 3.8 3.1 2.3 .7 2.6 1 3 2.4 1.8 1.4 2.7 1 3.2-1 3.4"/>
<path fill="none" stroke="#56646a" stroke-width="1.3" d="M441.6 605.8l2.8 .9 .4 1.6-1.3 4.6 1.5 1.2-1 .8 .1 3.1-1.4 3.3-2 3.5-1.9 1.9-1.3 2.4 .5-.9-1.3 3.2"/>
<path fill="none" stroke="#56646a" stroke-width="1.3" d="M479.3 631.5l-.8-3-.6 .2 2.7-3.5 1.1-4 1.9-.2 2.6 0 3.2-.5 1.2-1.1 3.6-1.2 2.3 1.1 3.5-3.2 1.4-.6 1.9-.9 3.9 1 1.3 1.3 3.6 .9 .4 1.5 .6 2.8 1.3 3.8"/>
<path fill="none" stroke="#56646a" stroke-width="1.3" d="M373 548.9l2.6-.5 2.2 .5-.1 2.7 .9-.1 .7 3.7 .3 3-2.1 1.5 2.1 3.5 .3 1.1-2.2 2.5 .9 1.9 3.4 2.8-.6 2.5-2 5.7-.7 2.1"/>
<path fill="none" stroke="#56646a" stroke-width="1.3" d="M744.5 351.5l3.7-1.6 1.9 2.6 3.4 1.9 2.2-1.2 2.6 1.8 2.7 2 3.3 .8 1.4 .9 3.5 1.4 3.6 1.4 1.3-1.5-.8-.3 2.4 2.6 2 1.2"/>
<path fill="none" stroke="#56646a" stroke-width="1.3" d="M751.8 370.2l3.1 2.6 3 1.8 1-.4 .1 1.8 2.8-1.6 3.3 3.3 .5 .6"/>
<path fill="none" stroke="#56646a" stroke-width="1.3" d="M720.6 389.7l.5-2.7 .9-2.9 1.6-1.4 .9-3.7 4.3-.2 2.8-2.4 .7 1.3 2.3-.6 3.5-1.8 .5 4 3.3-.9 3.7 .1 1.1 3.8 .1 1-.3 3.8 1.6 1.9-1.3 2.4-.6 2.5-.2 2.6 1.3 1.8 3.6 1.1 3.2-1.4 1 2.2"/>
<path fill="none" stroke="#56646a" stroke-width="1.3" d="M720.6 389.7l.6 1.1-1.4 4.3 0 1.1 .4 2.4 1.2 3.9 0 1.8 .4 2.4 .8 4.1 5.5 1.4 2-1.3 4.9 2.2 .3 1.5 3 0 .6 .6 3.1 1.3 1.2 .4 3.2 1.7 3.5 3.2-.5-3.7 2.2-1.4"/>
<path fill="none" stroke="#56646a" stroke-width="1.3" d="M722.6 410.8l.1 .5-1.2 2.6-.5 1.5-2.4 3.6-2.8 2 1.3 2.8-.4 2.2 .2 4.4-3.4 1.1-.1 2.9 .5 .9-1.1 4.2"/>
<path fill="none" stroke="#56646a" stroke-width="1.3" d="M729.8 435.7l.7-3.4 .9-3.1 1.1-2.3 3.2 0 3.1-3.2 .4-4.6 1.5-2.9-1.8-1"/>
<path fill="none" stroke="#56646a" stroke-width="1.3" d="M729.8 435.7l1.6 2.7 2.7 .9 1.9 2.7 2.9 .9 2.3 2.3 .9 2.4 3.5-.8 .8 2.7"/>
<path fill="none" stroke="#56646a" stroke-width="1.3" d="M685 414.9l2.7 1.4 2.8 .4 2 1.6 4.2-1.4 3.3-2.3 1.6-1 3.7-1 1.4 .5 1.6 1 3 1.9 2.9 3.5 1.5-.8 .1 2.3"/>
<path fill="none" stroke="#56646a" stroke-width="1.3" d="M699.4 409.1l3.8-3.5 .9-2.1 2.1-2.3 1.9-3.1 1.9-.8 2 .5 3.1-2.8 2.7-1.4 1.7-3.3 1.1-.6"/>
<path fill="none" stroke="#56646a" stroke-width="1.3" d="M723.7 461l2.9 3.8-.1 2.2-1 2.5 2 1.1 2.2 3.6 1.1 2 2 .8 4.2 1.6 0-3.3 2.2-1.7 .7-2 1.7-2.1 .7-2.1 .3-2.9"/>
<path fill="none" stroke="#56646a" stroke-width="1.3" d="M716.8 482.8l1.5 1.1 1-.3 3.2 .8 2.1-1.3"/>
<path fill="none" stroke="#56646a" stroke-width="1.3" d="M582.6 495.3l-.2-.3 3.3 1.4 2 0 4 .6 2.8 .7 .4 1.4 .7 1.9 .4 2.6 2.7 1.5"/>
<path fill="none" stroke="#56646a" stroke-width="1.3" d="M616.9 475l-1.3 2-1.5 2.2-.8 1.4 .9 5.5-2.3-.2-.1 3 1.4 2.5 .2 1.8 3.6 6.1-.3 .9-.1 3.1 2.4 3.3"/>
<path fill="none" stroke="#56646a" stroke-width="1.3" d="M671.6 482.4l-.6 1.2 .1 2.2 2.6 3.5 1.1 2.6-2.5 3.7-.6 2.1-.4 3.5-.5 1-2.2 3.9"/>
<path fill="none" stroke="#56646a" stroke-width="1.3" d="M560.6 293.8l4-.5-1.1-.1 5-.4-.1 1 5.2-3.3 2.7 .1 2.8-1.1 1.9-.1"/>
<path fill="none" stroke="#56646a" stroke-width="1.3" d="M559 324.6l2.3 1.3 4.5-.3 1.8 .9 2.7 0 2.1-2.1 4.5 1.6 2-3.5 1.1 .5"/>
<path fill="none" stroke="#56646a" stroke-width="1.3" d="M651.4 322.9l.1 1.8 3 3 4.5 .5 1.1-2.8 1.5-1.2 1.8-.4"/>
<path fill="none" stroke="#56646a" stroke-width="1.3" d="M653.1 331.2l1.5 3.3 4.4-.4-.2 2.9 5.5 1.9 1.3-1.2 1 2 2.8-2.1"/>
<path fill="none" stroke="#56646a" stroke-width="1.3" d="M649.1 339l1.9 2.9 2.9 1.3 2.7 1.2 1.4 1.6 1.9 1 .7 4.4-.6 2"/>
<path fill="none" stroke="#56646a" stroke-width="1.3" d="M558 526l4 2.3 3.9-.6 1.4 3.9 2.4-1.3 1.9 .8 2.4-.3 2.3-2.8 3.7-.5 3.2 2.5 1.6 2.1 4.8 .4 1.2 2 1.1-1.3 4.2-1.4 .9-2 2.8-2.3 1.8-1.1 1.4-.4 2.3-.2 3.2 .9 1.8 .2"/>
<path fill="none" stroke="#56646a" stroke-width="1.3" d="M582.6 496.2l1.2 1.6 1.1 1.7 1-.6 2.2 1.1 2.3 .5 3.2 .4 1.9 .6 2.8 1.2 1.2-1.7 3.4-2.9 1.1-.2 1.9-1.7 2.3 .5 3-.8 1.7 1.7 4.1 1.8-.3 .9-.2 2.9 2.5 3.4-.1 2.6"/>
<path fill="none" stroke="#56646a" stroke-width="1.3" d="M598.3 502.7l1.5 2.5 .7 3.4-1.1 2.5 1.7 1.3 .2 2.6 2.4 3 .8 2.7 2.5-.3 1.7 3.1 1.6 3.4"/>
<path fill="none" stroke="#56646a" stroke-width="1.3" d="M637.7 507.3l.4-.3 2.3 2.3 3.3 3 2 1.6 1.1 1.9-.5 .9 2.9 2.6 3.1 2.1"/>
<path fill="none" stroke="#56646a" stroke-width="1.3" d="M635.9 503.9l.9 .4 1.6-2.2 .9-4 .5 .1 .4-.9 4.7 1 .8 .7 2 1.8 4.2 2-.8-4.2 2.8-1.6 2.4-.1 2.6 0 1.8-2.3 .9-3.2 1.7-.1 4.1-3.4 3.7-2.8"/>
<path fill="none" stroke="#56646a" stroke-width="1.3" d="M614.9 550.5l1-1.3 2.9-2.6 2.6-.5 1.9-2.6 5.6 .6 .6-3.1 1.5-1.3 1.9 .6 3.2 1.5 2.1-.5 3 2.1 2.6 .6"/>
<path fill="none" stroke="#56646a" stroke-width="1.4" d="M430.7 356.6l.4 2.4-1.2-.1-2.7-1.7 .9-2.1 1.8-.5 .8 2"/>
<path fill="none" stroke="#56646a" stroke-width="1.4" d="M431.2 356.5l1.1 1.9-3.4 .2-2-.3-.8-1.2 .8-1.5 4.5-2.4 0 .1-.2 3.2"/>
<path fill="none" stroke="#56646a" stroke-width="1.4" d="M435.3 356l-2.2 1.4-2.1 1.9-2.5 1.2 .3 .9-1.5-1.4-1.3-1.6-1-1.9 .3-3.5 1.2-.3 .6-1.2 4.2 1.6-.5 .9 1.2-.5 1 1.4-.2 .8 2.5 .3"/>
<path fill="none" stroke="#56646a" stroke-width="1.3" d="M434.9 356.3l.7 2.1-.8 2.5-1.4 2.9-.3-2.1-3.8-.7-1.8-1.1-4.4-.9-.3-1.8-1.4-1.8-.3-.3 3.3-2.4 1-.4 2.1 .9 1.2-1.4-.4-.7 4.6 .6 .6 .1-.8 1.3 1.5 .8-.4 1.2 1.1 1.2"/>
<path fill="none" stroke="#56646a" stroke-width="1.3" d="M441.3 356.1l-.8 1.5-3 2.7-2.2 .7-1.5 1.3-.2-.7-1.7 .7-2.6 1.1-1.4-1.1-.8-.8-2.5 2.6-1.1-.4-2.4-2.7 1.4-3.4 1.9-1.8-1.6-.7-.4-2.9 .9-1.3 .1 .2 1.2-1.4 3.2-.5 1.6-.7 3.9 1.2 .2 2.2-.9 1.3 .6 1.4 2.2-1.6 3.5 .5 2.4 2.6"/>
<path fill="none" stroke="#56646a" stroke-width="1.3" d="M439.5 356.7l-.5 2.9-2.4 .4 0 2.3 .2 1.4-1 2.1-2.3 1.1-.3 .2-4.6-3.2-.4 .2-.7-1.8-.9-1.6-2.9 2.1-2.1-.3-.5-1.6-.7-1.9-2.5-1.4-.6-3-.4-1.8 4.3-2 2.6 1 .7-1.1 1.8 .2 1.2-1.9 3.4-3.2 3 3 1.6-1.7 2.4 2-.8 1 .7 1.6-.3 0 1.9 2.1 .1 2.9"/>
<path fill="none" stroke="#56646a" stroke-width="1.2" d="M443.3 354.7l.3 2.9-.2 2-2.7 .5-3 2.2-2.1 1.7-1.2-.2-.5 .9-2.4 4.2-1.8-.3-.5-.2-1.3 2.4-5-2.2-.9-1.5 1.6-.4-1.3-3.2-1-1-.1-1.7-1.6-2.1-1.9-1.5-.3-1.9-1.8-1.1 3-4.4 .9-1.7 1.8-.2-.3-1.5 3.6-2.1 3.6 1 2.1 .4 2.3 3.3 2 1.3 .8-1.1 2.9-1.4 .5 1.4 1.9-1.4 4.4 1.9-2 1-.7 2.5 .9 1.5"/>
<path fill="none" stroke="#56646a" stroke-width="1.2" d="M451.2 355.6l-3 1.5-2.7 .5 .3 3.2-1.6 2.5-3.2-.3-1.6 2.3-2.3 1.6-2.3-.2-1.7 1-1.9 1.7-2.3-.6-.1-.2-5.9 1-1.6-.4 .2 .3-1.6 2.3-3.9-2.6-1.7-2.5 2-2-.2-1.9-.5-1.6 2.6-2 .2-1.7-.9-2.1-2.9-1.7 1.4-3.4 1.8-1.4-.4-1 4.4-2.6-.7-1.1 3.8-4 1.8 1.9 1.1 .4 3.3-.4 2.1 3.1 2.2 1.9 1.9 2.4 .4 .2 2.9 2.4 4-2.2-1.6 .8 4.5 2.6 1.5 1.2 2.2 1.1"/>
<path fill="none" stroke="#56646a" stroke-width="1.1" d="M455.3 355.6l-1.8 1.9-2.1 3.7 2 2.6-4.4-.2 .3 2.6-2.9-.8-2.6-.1-2.6 2.3-1.6 2.3-2.9 .1-2.2 .8-2.2-.7-3.1 .4-.7-.4-2.9-.2-2.4 0-2.1 1-.6 1.3-2.7-.2-2.5 1.5-2.1-1.4-2.3-3.3-2 .8 2.3-4.5 .9-2.1 1.1-2.4 .7-.2 .3-2.7 1.8-.4 .8-1.7-1.8-2.5-.2-2.1 0-4.3 1.4-1.7 .1-1.8 3-2.2 .4-.7 3.2-2.1 3.7-2 .9 1 3.3 .6 3.7 .6 .2 .6-.1-.3 1.4 2.7 2.2 3.9 .4 2.6 .3 2 4.9-.4-.6 1.4 2.9 1.4 3.6 0 2.8 .5 .6 2.3 2.2 .5"/>
<path fill="none" stroke="#56646a" stroke-width="1.1" d="M459.3 355.7l-1.5 2.3-2.5 2 .2 3.8-2.2-.7-3.3 .9-1.1 3-1 2.6-2.9 .8-1.8 1.6-2.2 .7-3.1 .3-3.4-1.3-2.9 1.3-.9 1.3-2.5 .5-1.7 2.1-3.1 1.1-1.8 0-2 1-6.3 .5 .6-1.6-1.8-2.6-4.2-1 .5-2.8 1.4-1.8 0-1.9 1.2-3.8 2.3-1.7 .5-2.2-2-2 0-1.1-.9-3.2-1.5-3.1 .6-2.5-1-.3 .5-1.6 1.3-3.7 2.3-1.4 1.1-2.4 .3 .1 1.5-2 4.2-2.5 1.9-.6 1.7-1.6 2.7-.5 2.4 .8 .8 .6 3.2 2.5 1.8 .9 1.4 1.6-1.2 .8 1 2.9 1.6 3.4 2-1.8 2.2 1.3 3 .6 3-.6 1.8 1.6 3.7 2.7 1.4-.2 1.8 2.1-.3 .5 2.4 2.9 .8 1.4"/>
<path fill="none" stroke="#56646a" stroke-width="1.1" d="M460.1 356.6l-1.8 1.3-2.6 1.6 1 4.7-.8-.9-1.8 2.6-2.5 2.2-2.3 .8-1.6 1.4-1.9 1.2-1.1 .5-1.6 1-1.8 .8-1.3 1.2-5-.7-1.9 3.1-1.4 2.1 0 2.3-2.6 .3-3.1-.1-3 3.3-1.7 2-1.1-.5-3.4-1.3-3.2-.5-.7-1.1-1-1-2-4.4 1.8-1.8-3.9-2.3 .9-2.4 .6-2.1 .9-.7 1.4-3.7-.3-2.3 .2-2.9-1.1-1.6-3.7 .2-1.1-1.4-.3-3.5 .7-2.1-3.4-2.4 1.2-.9 2-1.6 .3-3.5 .7-2 1.3-2.7 1.9-.6 .2-1.5 2.7-2.1 0-2.4 2.2-1.1 5-2.6 1.9 .2 3.4 1.6 1-.2 3.9 1.5 2.6 3.9 1.8 2.3 0 1.1 1.1 1 3.8 3.4 2.2-1.3 2 0 3.5 .7 4.7-1.5 1.5 .6 .4 .9 2.2 .2 4-.9 .2 3 2.1 2.9 .9 2.6-1.9 3.2-1.3 2.9"/>
<path fill="none" stroke="#56646a" stroke-width="1.2" d="M430.9 356.7l.7 .4 3.8-1.1 3.2 2.9 2.7-3 2-.4 1.4 2.4"/>
<path fill="none" stroke="#56646a" stroke-width="1.2" d="M431.4 359.4l3.4-1.5 2.6 3.2 3.3-1 1.5 2.9 3.8 .1 3.1 2.6"/>
<path fill="none" stroke="#56646a" stroke-width="1.2" d="M433.8 357.5l3.1 2.4 2.3 1.1 1.8 .4 .8 1.8 4.2 1.3 2.9 3.5 .5-1.3 2.6 1"/>
<path fill="none" stroke="#56646a" stroke-width="1.2" d="M431.2 358l.5 .7 1.7 1.2 .2 4.3 2 1.8 1.9 .7 2.2 1.8"/>
<path fill="none" stroke="#56646a" stroke-width="1.2" d="M430.5 358.7l.7 2.1 1.3 1.8 .7 2.8-1.8 3.9 2.4-.1 1 2.7-.6 1.5 2.2 2.3"/>
<path fill="none" stroke="#56646a" stroke-width="1.2" d="M430.8 360.2l.4 2.8 .6 1.1-.2 4.1 .6 .5"/>
<path fill="none" stroke="#56646a" stroke-width="1.2" d="M431 358.5l-3.5 1.1 .4 2.5-1.7 3.5 1.9 3.3-1.3 1.7-.1 3.4"/>
<path fill="none" stroke="#56646a" stroke-width="1.2" d="M427.8 358.5l-1.8 1.5 .1 .9-2 5.1-3.3 .7-.5 1.8 .1 3.4-2.9 1.2-1.8 2.7"/>
<path fill="none" stroke="#56646a" stroke-width="1.2" d="M427 360.2l-1.4-.1-1.5 5.9-2.6 1.1-1.9 .8"/>
<path fill="none" stroke="#56646a" stroke-width="1.2" d="M429.7 358.1l-3.7 .1-2.7 1.2-2.3 1.8-1.8 .8-2.5 1.6-2.3 .6-2.6 .5-1.9 2.3"/>
<path fill="none" stroke="#56646a" stroke-width="1.2" d="M426.3 357.4l-1.7-1.1-3.2-.3-2.2 1.9-4.1 1.1"/>
<path fill="none" stroke="#56646a" stroke-width="1.2" d="M425 356.8l-3.6-1.4-1.4 1.5-2.4 0-3.5-.3-3 .6 .4 1"/>
<path fill="none" stroke="#56646a" stroke-width="1.2" d="M428.9 357l-3.6-.6-1.4-2.3-2.4-1.8-1.8-.3-3.7 .7-.4-.4-2.7-1.8-1.8-2-4.1 0-.5 1.7"/>
<path fill="none" stroke="#56646a" stroke-width="1.2" d="M426.6 356l-1.1-3.7-1-1.7-.6 .7-1.7-1.8-3-.9-2.6-1"/>
<path fill="none" stroke="#56646a" stroke-width="1.2" d="M425.6 353l-1.7-2.1 .3 .3-3.2-2.9-3.4-.8-1.7-3.9-2.6-1.9"/>
<path fill="none" stroke="#56646a" stroke-width="1.2" d="M429.1 355.8l.1-2.7-3-3.9 1.4 .4-1.6-2.8-1.5-2.5"/>
<path fill="none" stroke="#56646a" stroke-width="1.2" d="M430.2 354.2l.4-2.5-.2-3 1.4-2.5-.8-2.4-1.1-1.4-1.6-2.6"/>
<path fill="none" stroke="#56646a" stroke-width="1.2" d="M431.7 351.9l-2.4-1.1 3.2-3.2 .1-1.4-1.3-3.4 .4-2.8 1.5-.4 .1-3-.4-2.3"/>
<path fill="none" stroke="#56646a" stroke-width="1.2" d="M429.5 356.4l1.2-2.7 2.1-1.2 1.3-1.8 3.8-2.3-1.3-1.7 .2-2.8"/>
<path fill="none" stroke="#56646a" stroke-width="1.2" d="M431.1 353.5l1.8 1 1.6-1.9 3.4-.8 3.2-.5 1.8-4.4 1.5-1.4 2.2-2.1 .5 .1"/>
<path fill="none" stroke="#56646a" stroke-width="1.2" d="M432.9 353.9l.9-.5 2.3-1.5 3.7 .3 1.3-3.5"/>
<path fill="none" stroke="#56646a" stroke-width="1.2" d="M430.6 356.4l1.3-.9 2.4-.4 4.4-1.9 2.6 1.7-.5-1.7 3.5 .7 3.3 1 3.1-1.6"/>
<path fill="#5b6770" stroke="#56646a" stroke-width="0.5" d="M434.9 356.3l-1.3 1.3-2.4 2.5-2.1-.4-1.2 .3-3.5-1 .2-2.6 .7-2.8 3.1-1.5 3.5 .2-1.1 .7 2 1Z"/>
<path fill="none" stroke="#56646a" stroke-width="1.3" d="M378.2 338.5l-.4 3.3 2.8 2.4 0 2.4 2.8 1.8 1.2 3.4-.5 1.3-1.8 2.4"/>
<path fill="none" stroke="#56646a" stroke-width="1.3" d="M384.6 351.8l3.1 2.2 1.3 .4 1 1.1 3.5-.1 1.5 1.5 1.3 3.8 1.4 2.7 2.5-.2 4.2 .4 2.1 .1"/>
<path fill="none" stroke="#56646a" stroke-width="1.3" d="M382.3 355.5l1.8 2.8 .4 1.8-.1 4.2-.2 3.4-.6 1.3 1.2 1.9 1.5 3-.3 3 0 2.7 2.1 1.8 1.6 2.1 2.6 3.3 1.9 1.2 2.2 2.3 2.8 1.7 .5 .1 3.1 3.5 .9 2.5 2.4 1.3 1 4.7 .5-.1"/>
<path fill="none" stroke="#56646a" stroke-width="1.3" d="M388.1 381.4l-2.5 2.8-.9 1.6-1.9 .7-3.3 1.1 .1 3.5-2.6 .9 0 3.2 0 3.6-2.4 1.5-2.3 3.2-1 1.9-3.2 3.1 .8-.7-3.3 2-1.3 1-2.1 2.8-3 1.6-3.4 1.1-3 .9-1.2 1.1-.2 1.2-2.4 2.7-2.6 2.4-.1 .3-2.4-.9-2.8-.5-2-1.3"/>
<path fill="none" stroke="#56646a" stroke-width="1.3" d="M396.4 390.3l3.1-.6 0-.8 2.6-1.7 2.8-.4 3.6-2.1 1.5-.4 2.3-1.3 1.7-1.2 2.7-.6 3.4 .3 2-.9"/>
<path fill="none" stroke="#56646a" stroke-width="1.3" d="M377 398.8l1.9 .2 1.7-2 4.2 .6 2.9-.6 3.1 1.6 2.3-.4 2 1.3 2.6-2 3.2 1.7 2.8-1.1"/>
<path fill="none" stroke="#56646a" stroke-width="1.3" d="M407.6 404l-.6 2.7 1.2 3.7-.4 1.2-1 3.6 1.8 3.8-1.5 1.8-2.1 3.7 .4 1.7-.8 3.2-1 1.1 3 2.3-.5 5.1-1.4 1.2 1.1 4 0 2.6 1.3 .6 1.1 4.4"/>
<path fill="none" stroke="#56646a" stroke-width="1.3" d="M351.6 418.3l-.5 .2 1.3 2 3.3 2.9-1.1 4 3.9 4.3-1.3 .1 2 3.1 1.7 1.2 4 .9 1.3 1.4 1.8 2.6 3.2-2.2 2.2-.9 1.7-.9 3.2-1.3 2.7 .9 1.8-1.8 4.2-.5 3.5-.4 2.8-1.3 1.1-1.3 3.7-1.8 1.8 .7 4.7-.8"/>
<path fill="none" stroke="#56646a" stroke-width="1.3" d="M381 436.6l1.3 .1-2.6 4.3 1.5 .1-.3 3.9 .4 2.2-.8 2.9 4.1 .6 0 4.6 .2 3.3 1.9 1.8 .8-.4 2.2-1.1 2.8-1.8 2.4 .2 2.7-2.4 1.7 .1 2-.9 4.1-3.1 2.8-.3"/>
<path fill="none" stroke="#56646a" stroke-width="1.3" d="M407.1 420.8l3.2 .2 .3-1.6 2-1.6 2.4-3.4 1.5-2.4 1.7-2.4 2-.4 1.8-1.5"/>
<path fill="none" stroke="#56646a" stroke-width="1.3" d="M434.3 406.5l1.1 .9 .1 2.4 1.5 2.8 1.6 3.6 .3 1.3 1.1 3.9-1 .9 1.2 3.9 1.7 .2 2.8 2.4"/>
<path fill="none" stroke="#56646a" stroke-width="1.3" d="M407.8 437.8l1.9 .8 2.6 .6 .7-.7 1.6 3.3 1-.1 3.9-.3 1-2.6 4.9-.1 .2-1.1 5.7 .1 .5-.1 1.5 3.7 3.7-3.4 4.5 1.6 1.9 1.7 1.3 2.3 2.5 2.9 .7 .3"/>
<path fill="none" stroke="#56646a" stroke-width="1.3" d="M440.4 399.1l1.2-1.6 4.5-.6 .7-2.5 2.5-2.1 2.2-.2 2.1-.3"/>
<path fill="none" stroke="#56646a" stroke-width="1.3" d="M439.4 405l1.4-.8 2.2 2.3 3-.7 2.6-.6 2.2-2 2.1 2.7 2.9 4.1 .6 1.9 1.1 1.1 1.6 1.3 1.5 2.1 2.7 2.9 .8 1 3.2-4.3 1.9-2.3 0 .7-.6-3.3 2.1-3.9"/>
<path fill="none" stroke="#56646a" stroke-width="1.3" d="M440.2 426.2l3.1-.8 3-2 1.5 .9 2-.9 3.1-.4 1.9 .2 2.3-1.9 2.7-1 1.9 .6 2.4-.6"/>
<path fill="none" stroke="#56646a" stroke-width="1.3" d="M339.8 459.7l2.7 2.9 1.5 .2 1.4-1.3 3.9 3 2.2 .4 1.1-.1 3.2 3.2 .7 1.3 .4 2.2 2 .9 .9 2.3 2.6 2.6 .9 2.1 3 3.7"/>
<path fill="none" stroke="#56646a" stroke-width="1.3" d="M368 441l.5 2.9-1.3 3.3-.8 2.1-.1 1.7-1.1 3.1 0 2.2 3.6 4.2 1.5 1.6 2.6 3.3 .3 .7 3.2 .5 2.3 1.3"/>
<path fill="none" stroke="#56646a" stroke-width="1.3" d="M458.1 355.9l.5 .4 1.8 3.4 2.5 1.4 1.1 1.7-1.3 1-4.4 3.1"/>
<path fill="none" stroke="#56646a" stroke-width="1.3" d="M472 348.2l3 3.6-.1 2.2 3.1 1.6-.3 1.4"/>
<path fill="none" stroke="#56646a" stroke-width="1.3" d="M407.9 324.6l-3.1 2.6 2 2.4-.2 3.7-2 1.7-3.5 1.1-3.2 .6-.4 2.8"/>
<path fill="none" stroke="#56646a" stroke-width="1.3" d="M428.5 323.5l1.9 2.3-1 2.3 2 3.5 2.5 4.2 .9 1.6"/>
<path fill="none" stroke="#56646a" stroke-width="1.3" d="M437.3 318.7l2.4 1.2 3.3 1.6 2.3 0 1.4 1.4 1.9 1.2 2.7 1 .6-.8 1.3 1.7 2.5 2.8 1.9 .1 3.9-.4 3.6 .7 3.2 .3-.7 1.7 3.1-.1 1.4 1.6 2.8 1.9"/>
<path fill="none" stroke="#56646a" stroke-width="1.3" d="M456.9 346.6l1.1 1.1 3.9 3.9 1.5-.3 2 2.2"/>
<path fill="none" stroke="#56646a" stroke-width="1.3" d="M413.8 182.6l1.5 1.6 1 2.1 .6 1.8 1 2 1.3 1.9 2.6 2.9 1.7-.9-.9 1.7-2.1 3 .7 3.4 .1 1.7 1.9 1.7-.2 2-.1 4 1.1-2.4-3.4 2.3-1.4 2-2.6 .5"/>
<path fill="none" stroke="#56646a" stroke-width="1.3" d="M429.8 195.8l.6 2.4 2.1 .6 1.6 1.3 2 .8 .8 3.6 2.5 1.1 3.4 .5 1.8-2.1 2.8-1.8 2.3-1.6 2.4 .2 1.6 .2 2.4-.2 3-1.1"/>
<path fill="none" stroke="#56646a" stroke-width="1.3" d="M436.9 204.5l1 2.9-1 2.2-1.4 1.5-1.5 4 .2 1.2-2.5 .1-1.7-1.3-1.3-1.5-2.4-1.5-3.4-.6"/>
<path fill="none" stroke="#56646a" stroke-width="1.3" d="M434 215.1l1.5 1.5 2.2 4.4-.5 .7-.2 3.7-1.6 .1-.9 3.5-.3 2-1.9 1.3 1.4 3.6-.6-.4 1.3 4.3 2.4 2.8 2.1-.6 3 .4 1.2 .7 2.6 1 .2 2.9 .9 .3-.1 3 .5 2.9 2 2.7 1.7 1.8 1 4.7-.6 1.2 .7 4 .9 1.6-.5 2.1 .2 3.7-1 3.5 1 1.4-1.2 1.3 .4 1.7 1.2 2.2-1.3 3.9-.1 4-3.6 2.3-1.7 2.2"/>
<path fill="none" stroke="#56646a" stroke-width="1.3" d="M436.8 242.6l-2.2 .9-3.1-.8-1.5 1.3-2.5 1.9"/>
<path fill="none" stroke="#56646a" stroke-width="1.3" d="M445.7 244.1l4.5-.6 .7-.6 2.3-1.5 2.9-.4 1.9 2.4 1.6 .8 .9 3.3 .8 .2 2.3-.2 2.3 1.2 1.8-.5 3.2 0 3.8-.4 2.4-.3"/>
<path fill="none" stroke="#56646a" stroke-width="1.3" d="M452.9 269.2l2.4 .7 4.2 2.1 1.5 .4 2.3-.5 1.7 .8 1.2 2.6-.6 1.5 3.1 2.2 3-.1 2.9 .6 .4 .5 4.7 .1"/>
<path fill="none" stroke="#56646a" stroke-width="1.3" d="M479.7 280.1l-1.9 3.6 1.1 2-.4 3-.1 2.5 1.1 3.2-1.2 .5-3.5 2.1-1.8 1.7"/>
<path fill="none" stroke="#56646a" stroke-width="1.3" d="M479.7 280.1l.3 .6 3.7-.3 2 .8 2.4-.4 .1 3.3 1 3.1 1.7 2.4 0 1.5 .1 4.7 .9 .9-1 4.1 0 .8-.8 3.6 .2 .4 2.6 3.6 .8 2.9 1.4 .8-1.1 2.8-2 .6-1.1 4.3-.8-2.2-2.6 1.7-2.3-1-1.9-1.8-3.5-.6-3.4 .4-.3-1.9-1.4-1.7"/>
<path fill="none" stroke="#56646a" stroke-width="1.3" d="M495.3 279.1l-.3 1.4 1.6 2.6-.4 3.1 .8 3.9 .6 .6-3.9 3.7-2.7 1.4"/>
<path fill="none" stroke="#56646a" stroke-width="1.3" d="M498.7 298.4l2.2 3.2 2.8 2.5 2 1.6 .5 2 2.4 2 2.3 2.7 1.6-.5 1.7 .2 2.1-.1 4.6 2 1.3-.6 2.4-1.2"/>
<path fill="none" stroke="#56646a" stroke-width="1.3" d="M498.7 298.4l-1.5 3.9 1.6 2.2-.6 3-3.4 3.2 .3 2.2"/>
<path fill="none" stroke="#56646a" stroke-width="1.3" d="M512.3 316.2l-3.7 2.2 2.1 1.3 1.1 3.8-.8 2.2 .3 1.9-.3 3.5"/>
<path fill="none" stroke="#56646a" stroke-width="1.3" d="M461.3 183.4l-1.1 2.6-2.4 3.8 1.6 1.3 2 2.2 .5 1.9-1.8 1.4 .8 2.8-1.8 .3"/>
<path fill="none" stroke="#56646a" stroke-width="1.3" d="M467.1 216.5l2.8-.7 1.1-.9 .5-2.6 2.3 3.5 1.4 0 1.5 2 1.9 1.9 3.4 1.5-1.4-2.6 2.1-1.6 2.2-2.6 2.9 2.8 1.4-.6 3.4 1.8"/>
<path fill="none" stroke="#56646a" stroke-width="1.3" d="M475.2 215.8l-.6 2.9 .2 4.6 .7 3.6 2.5 1.7 1.7-1.1 1.8 .3 3.6 1.6 2-1.7 1.1-1.3 1.6-2.4-.1-2.8 2.5-.4 .4-2.4"/>
<path fill="none" stroke="#56646a" stroke-width="1.3" d="M505.5 215.7l-2.8 .6-2.2 2.6-1.1 2.1-2.1 3.3-1 .6 .7 1.5-2.9 2.8-1 1.5-.4 .3-1.2 2.6 .9 4.8-3.3-.1-1.2 4.5 .3 1.8 .9 .1 .2 3.5 .5 3.3"/>
<path fill="none" stroke="#56646a" stroke-width="1.3" d="M519.5 228.2l1.3 .8-.4 3.8-1 3.5-3.9 .1-4.5 .5-2.1 1-2-.8-2.7 .6-1.7 1.8-1.5 1.6-4.2-1.2-.9 2.1-2.8-1.5-3.1 1.6"/>
<path fill="none" stroke="#56646a" stroke-width="1.3" d="M449.2 255.9l-1.3 .2-1.2 3.8-3 1.8-1.4 1.4-.6 2.6-4.9 .5"/>
<path fill="none" stroke="#56646a" stroke-width="1.3" d="M396.7 266.9l-1.1 1.6 1.8 1.1 3.1 5.3 2.2 .2 1.8 .5 .5 2.4 .5 3.8 1.9 2.5 1.8 1"/>
<path fill="none" stroke="#56646a" stroke-width="1.3" d="M395.2 308.6l2.1-2.2 1.3-.8 1.2-1.4 2.9-.9 4.6-2.7"/>
<path fill="none" stroke="#56646a" stroke-width="1.3" d="M414.5 306l-1.2 1.6-.6 2.4-.2 2.9-2.6 1.4-.4 3.8 1.2 2.8 1.4 .9 1.1 .7 .3 1.7"/>
<path fill="none" stroke="#56646a" stroke-width="1.3" d="M425.8 311l.9 .8 .1 .3 1.7 4.8 .3 1.5"/>
<path fill="none" stroke="#56646a" stroke-width="1.3" d="M546.4 263.9l.4 .9 3.4 2.2 1.4 2.9-1 3.4 4.1 .3 0 2.7 0 3.4-.2 1.5 .9 3.1 3.1 3.1 2.3-.1 2.8 2.6 .6 2.5 1.8 2.7"/>
<path fill="none" stroke="#56646a" stroke-width="1.3" d="M535.4 289.1l4.4 1.4 .9 2.4 2.6 0 2.1 1.4 2.5 1.1 3.5-1.4 2.3-.4 2.4-1.5 2.9 1.8-1 3.3 1 3 2 3"/>
<path fill="none" stroke="#56646a" stroke-width="1.3" d="M531.7 310.1l2.5 1.6 3.5 1.3 1 .5 2-.5 2.1 1.1 3.1 1.9 2.5 1.5 2.9 1.2 3.1-1.4 3.6 .5"/>
<path fill="none" stroke="#56646a" stroke-width="1.3" d="M528.8 329.3l3.8 2 3.3 3.3-.5-1.5 2.5 2.8 2.5 1.6 1.4 3 1 3.1 1.8 .5"/>
<path fill="none" stroke="#56646a" stroke-width="1.3" d="M506.7 337.9l3.1 1.6 4.1 2.6 .9-.3 3.4 2 1.6-.9 3.1 1.1 4 3.6"/>
<path fill="none" stroke="#56646a" stroke-width="1.3" d="M177.6 301.5l1.2-.2 1.3 1 4.7 .6 2.7 1.6 2.3 .3 1.6-1 3.1-.3 1.9-2.5 2.3 .8 2.4-3.8"/>
<path fill="none" stroke="#56646a" stroke-width="1.3" d="M192.1 359.7l1.5-.6 3.2 .2 2.1-.6 2.9-3 2 1.9 1.2 4.4 1.3 1.2 2.7-.5 .9 3.3"/>
<path fill="none" stroke="#56646a" stroke-width="1.3" d="M230.8 332.3l2.9-2.5 1.4-1 4.3-2.1-.5-.1 3.8 1.6 1.5-.6 3.3-.4 1.9-1.1-1.1-2.8-.1-2.8 1.1-3.1 .4-2.5"/>
<path fill="none" stroke="#56646a" stroke-width="1.3" d="M247.5 327.2l2.1 .9 4 1.2 2 .7 3.5 .4 1.7-.7 1.9-.7 4 .9"/>
<path fill="none" stroke="#56646a" stroke-width="1.3" d="M233.5 340.3l1.9-1.3 2.4 .3 4.6-2.6 2.6 .6 2.4 1.6 3.9 1 .7 .5 3.3-1.4 3.7 2.3 1.1-3 .5-3 .2-1.6 0-4"/>
<path fill="none" stroke="#56646a" stroke-width="1.3" d="M259 341.3l-.5 2.4 3.4 1.8 .5 .6 .6 1.4 1.9 .2 1.6-.8 3.5-.9 3 .1 4.5 .3 1.3-1.2 2.7 1.2 3 1.7 2.2 1.1 2.5 0 3.3 1.4 .9 1.1"/>
<path fill="none" stroke="#56646a" stroke-width="1.3" d="M281.9 332l3.1-2.1 2.8 .8 1.1-1.9 3.2 1.3 .6-3.2 4.4 1.5 .7 2.7 1 1.5 4.4 1.5-2 3.6 .3 3.7-2.5 .5 1.1 4.2-3.4 .4-1.5 3.2-1.8 2"/>
<path fill="none" stroke="#56646a" stroke-width="1.3" d="M303.2 334.1l1.2-.8 1-2.5 2.4-.7 3.2-3-.8-1.8"/>
<path fill="none" stroke="#56646a" stroke-width="1.3" d="M226.7 346.6l.8 0 3.3 3.6 1.6 1.5 2.5 2.9 1.6 3.1 .3 1.3-.4 2.6 .8 2.7 1.3 3.4 .3 .6"/>
<path fill="none" stroke="#56646a" stroke-width="1.3" d="M209.9 366l1.9 2.3 3 1.5 4.3-.8 1.4 3.3 2.7-1.6 2.2-2 1.2-.2 3.1 0 4.3 .6 1.9-.6 2.9-.2"/>
<path fill="none" stroke="#56646a" stroke-width="1.3" d="M191.2 377.1l2.2 4 .3 .4-.7 3.3 2 2.3 3.4-.8 1 2.6 1.6 2.3 3.1-2 1.8 2.2 4.1 1 3.3 1.2 1.9-1.8 2.6 .6 2.2-.8 2 .5 .9-.7 4 .4 1.9-1 4.3 .7 2.1-2.4 2.7 .5"/>
<path fill="none" stroke="#56646a" stroke-width="1.3" d="M210 392.4l-.2 .8 1 3.5-.8 4.6 1.2 1.3-.6 2.3"/>
<path fill="none" stroke="#56646a" stroke-width="1.3" d="M323 265.9l.2 2.3 1.6 3.1-1.7 1.8 2.5 3.6 1.6 1 1.5 2.8 .1 1.1 .6 1.7 2 2.4 2.9 3.2 1.6 1.4"/>
<path fill="none" stroke="#56646a" stroke-width="1.3" d="M303.6 275.9l5.3 .6 1.1 2.2 1.8-.5 4.2 2 2.5-4.1 .7 2 6 .7 .4-2.1"/>
<path fill="none" stroke="#56646a" stroke-width="1.3" d="M350.7 290.5l5.2-1.4 2.8-.2 .5-2.1 1.6-1.4 3.3 .2 .9-1.4 1.8-5.8 2-1.1 1.2-.4"/>
<path fill="none" stroke="#56646a" stroke-width="1.3" d="M370.6 287.7l.7 1.8 .1 2.6-.8 1.4 .9 2.9 2.1 2.4 1 2.6-.5 3.1"/>
<path fill="none" stroke="#56646a" stroke-width="1.3" d="M355.5 300.9l1.1 .3 3.9 .8 1.6 2.2 1.2 2.1 1.9 .2 .2 1"/>
<path fill="none" stroke="#56646a" stroke-width="1.3" d="M383 188.6l2.3 1.1 1.7-.9 4 2.6 .8 1.5 3.9-.9 .7-2 2.1-.9"/>
<path fill="none" stroke="#56646a" stroke-width="1.3" d="M382.1 218.2l2.8 0 .6-.9 2.4 .3 4.8 .9"/>
<path fill="none" stroke="#56646a" stroke-width="1.3" d="M376.8 375.8l3.1 .8 .8 2.5 2.7 1.4 4.4 .7 2.3 1.3 1.3-2.2 2.2-1.9 3.3 .8 4.5-.4 2.7 1.9 2.5 1.6"/>
<path fill="none" stroke="#56646a" stroke-width="1.3" d="M383.7 354.9l.4 2.3 3.7 3.1 2.4-1.2 2.6 3.2 1.6-.9 1.7-1.2 3.4 .6 5-.7 2 .6"/>
<path fill="none" stroke="#56646a" stroke-width="1.3" d="M346.2 394l1 2.4 4 .8 1.6-.3 3.3 1.9 2.5 .3 1.1 1.7 3.9 .9 2.2 .9-.1 .9 2.5 2"/>
<path fill="none" stroke="#56646a" stroke-width="1.3" d="M368.3 383.9l2.3 2.3 1.6 1.4-.9 5.6-1.6 2.5 4.6 .6 1.9 2.4 .7 1.7 2 .6 0 3.5 3 2.4"/>
<path fill="none" stroke="#56646a" stroke-width="1.3" d="M375.7 707.1l3 .2 .4 4 5.2 1.8 2.5 .4 2.3-2.6 1.9 .5 3.7-4 1.5 1.8 3 2.6 .7 .3 1.6 2.4 3.1 .4 3.7-.5 1.8 1.2 2.9 1.5 1.8-2.7 1.2-2.6-.1-2.2"/>
<path fill="none" stroke="#56646a" stroke-width="1.3" d="M394.8 749.5l1.5-2 1.5-2.7 2.1-1.3 2.8-2.6-1.1-1.9-.7-2.4 .7-4.1-2.2-2.2 .7-1.1 4.2-.3 1.3-2.7 1-1.9 1.9-2.8 2-2.5-.3-2.6 2.8 .7"/>
<path fill="none" stroke="#56646a" stroke-width="1.3" d="M451.6 716.9l1.2 .5 3.9 3.9 1.9 1.5 1.9 2.1-.8-.1 3.1 1.9 2.8 4.5 .9 .1 2.5 2.6 1.4-2.6 .3-2.5"/>
<path fill="none" stroke="#56646a" stroke-width="1.3" d="M436.9 757.9l4.7 .5 2.5 0 1.8-.7 3 1.1 2.2-2.3 2.9-2.5 5.1 1.3-.4-1.5 3.7-.3 3.1 1.4 3.3-2.7 1.6 .2 3.6-2.5-.3 .3"/>
<path fill="none" stroke="#56646a" stroke-width="1.3" d="M470.4 752.4l2.1 3.2-.3 1.4 1.3 1.6 1.6 4.3-.1 1.1 1.6 .8 3.2 .5 3.4 .6 .9 1.3"/>
<path fill="none" stroke="#56646a" stroke-width="1.3" d="M442.3 801.7l5.1-1.3 .8-.6 3.5-3.2 .6-1.8 3.3 .2 1.6-.3 4.5 2.3 .9-1.3 2.2 3.2 3.4 1.8 1 1.8-.5 2.6 1.4 2.4"/>
<path fill="none" stroke="#56646a" stroke-width="1.3" d="M391.9 802.6l2 2 4 3.5 2.2 1.9 1.2 .9 1.9 1.3 4 1 2.6 .1 2 .2 2.3 0 2-1.4 5.5 .9 .5-2.6"/>
<path fill="none" stroke="#56646a" stroke-width="1.3" d="M411.8 813.5l-1.2 2.6 .6 1.5 .1 3.3-1.3 2.6 .9 2.4 .5 3.1 1.1 .9 1.6 1.7 2 .9-.7 5.6"/>
<path fill="none" stroke="#56646a" stroke-width="1.3" d="M382.6 792.8l-.7 2.5-1.6 2.5-1.3 2.9-2.6 2.8 .5 1.3 .1 3.1-.7 3.3"/>
<path fill="none" stroke="#56646a" stroke-width="1.3" d="M370.4 799.9l-1.1 4-1.6 .2-1.8 2.3-2.2-.6-2.1 3.6-1.2 2.1-2 1.5-3.9 2.5-.8 0"/>
<path fill="none" stroke="#56646a" stroke-width="1.3" d="M390.4 810l1.1 1 2.9 1.7 0 1.9 2.7 .9 2.2 2.6-.8 1 1.8 2.2 3.6 1.7 2.4 .7 2.4 .7 2.2 1.5"/>
<path fill="none" stroke="#56646a" stroke-width="1.3" d="M373.7 837.9l3.3-1 3.5 .6 2.2-3.3 2.8 .9 1.8 1.1 .5 2.3 .8 2.4 2.1 2.3 3.8 3.1"/>
<path fill="none" stroke="#56646a" stroke-width="1.3" d="M289.6 773l3.5 1.8 2.1 .6 4 3.2 2.1 .8 1.2 2.1 2.7 .7 .4 1.3 1.7 3.4"/>
<path fill="none" stroke="#56646a" stroke-width="1.3" d="M298.8 770.9l2.3-2.1 3.8 .6 3-1.3 3.2 .4 .1-1"/>
<path fill="none" stroke="#56646a" stroke-width="1.3" d="M290.1 819.7l3.1 1.4 1.4 .2 2.2 .2 2.1 1.1 3.3-.7 .2-1.2 2.5-1.8 3.8 .8"/>
<path fill="none" stroke="#56646a" stroke-width="1.3" d="M304.9 833.8l.5 2.1 4.6-.6 2.7-.1 2.6 1.6 2.5 3.8 .9 .4 1.6 1 2.2 2.7 2.4 1.9"/>
<path fill="none" stroke="#56646a" stroke-width="1.3" d="M346.5 826.4l2.2 4.1 .5 .6 3.9 3.8"/>
<path fill="none" stroke="#56646a" stroke-width="1.3" d="M423.4 833.8l1.5 3.1 1.1 4.2-1.6-.3 1.4 3.8 2.1 3 1.6 1.3 .9 3.2 .7 1.8 2.8 1.8 4.4-.8 2.8 1.1 .6 1.4 3.7-.2-.1 2.3 3.6 4.4-.8 .5 1.5 4.5-.9 2.6 3.2 3.3 .7 1.4-.6 1-2.1 4.2 2.8 .1 2.1 .1 2.3-.5 2.6-1.2 2.2 1.4 4.5-.8 2.4 .1 1.6-1.8 2.6-.2"/>
<path fill="none" stroke="#56646a" stroke-width="1.3" d="M445 833.8l.4 2.4 2.2 3.9-1.1 3.1-.6 3 3.5-2.1 3.5 2.7 1.8-1.2 2-.4 2.2 1.4 3.6-1.5 2 2.7 2.6-1.4 4.5-2.8 1.1 4.2 1.5-.1 2.4 3.1 1.6 3.2-.8 1.6 2.7 2.8-1.2 2"/>
<path fill="none" stroke="#56646a" stroke-width="1.3" d="M449.9 881.4l-3.1 .1-1.1 1.8-2.1 2-2.8-1.3-.4 .2-2.4 .5-5.2 .2-.8 1.3-1.5 1.9 .6 2 1.3 4.5 1.8 1.8-.6 2.1 2.4-.6 4.5-1.4 3.2 1.9 .5-1.3 3.2-1.8 1.7-.8 2.5-2.1 3.3-.8 2 .1 1.5 .4 3.5 1.7 4 .1 3.2 .4 1.8-3.7 1.6-.1"/>
<path fill="none" stroke="#56646a" stroke-width="1.3" d="M406.9 875.7l3.3 2 4 .3 3.3-.1 2.9-1 1.6 2.4 2.9 1.8 2.6-.7 2.5 1.5"/>
<path fill="none" stroke="#56646a" stroke-width="1.3" d="M429.6 915.4l2.6-1.5 1.5-3.2 1.3-.9 .6-2.5 3.4-.5 5.2-.4 .9-2.1 .1-2.1 4.2-.2 1.3-2.4 4.2-2 2.3 0 4 1.4 .5-3.3 4.2-.5"/>
<path fill="none" stroke="#56646a" stroke-width="1.3" d="M444.8 827.2l2.1-4.2 2 .2 2.9-1.4 1.9-.8 .7-2.3 1.9-2.1-.5-2.4 4.5-1.5 .9-1.5"/>
<path fill="none" stroke="#56646a" stroke-width="1.3" d="M314.6 843.5l2.4 3.3-.1 1.3 0 2.1 1 4.3-.5 2.5-.3 2.7-1.2 2.6 .2 2.8-.4 3.3-2.5 2.6 .7 2.1 2.3 2.6 0 2.4 1.1 3.7-1.1 2.3 .4 2.9 .4 2.7 .4 2.3-1.4 3.3"/>
<path fill="none" stroke="#56646a" stroke-width="1.3" d="M352.7 872.4l-.6 3.3-3 .6-1.7 2.2-.2 1.7-.7 1.3-4.4 1.9-1.7 1.2"/>
<path fill="none" stroke="#56646a" stroke-width="1.3" d="M332.2 842.3l-.6 2.7-.7 2.5 .1 3.5-3 .7 1.8 2.4-4.5 4.2 2.7 3.7-4.3 3.2-.2 .7 1.9 3-.6 1.9 .7 3 2.1 .8-.9 3.7 .8 1.6 1.8 .7-.5 3.9"/>
<path fill="none" stroke="#56646a" stroke-width="1.3" d="M365.2 780.8l4.1 3.5-.6-4.1 5.2-1-.8 2 4.8 .3 2.2 2.9 1.6 .6-.5 .9 2.1 2 .2 3.6 .5 1.9 2.5 2.9-2.2 3.9"/>
<path fill="none" stroke="#56646a" stroke-width="1.3" d="M400.1 754.5l.3 3 3.7 2.4 2 .9 1.2 3.7-3.4 .3-.2 4.9 .2 1.7-1.7 1.7-2.7 1.7-3 .3-2.7 .3-1.4 2-2.6 1.7-2.7 3.9 0 4-1.7 .2"/>
<path fill="none" stroke="#56646a" stroke-width="1.3" d="M403.9 771.4l3 1 2.8 2 .9-2.2 3.1 .6 3.2 0 3.6-.4 .9 1.5 1.1-.1 3.4 2.2 .5 4 3.7 .5"/>
<path fill="none" stroke="#56646a" stroke-width="1.3" d="M455.2 694.5l1.2 1.7 1.2 1.6 1.8 3 .3 1.6 .1 1.8 3.1 4.1-1.2 1.3 2.4 2.8-.7 3.2 .7 4.5"/>
<path fill="none" stroke="#56646a" stroke-width="1.3" d="M523.8 721.7l0-3.7 0-2.4-1.2-1.9-.5-1.8 2.1-3.4 1-1.3 3.3-3.1 1.2-1.1 1.3-2.4 3.9 1.8 3.3-2.1 1.9-.2 2.1-2 1-2.5 2.9-1.5"/>
<path fill="none" stroke="#56646a" stroke-width="1.3" d="M642.9 804.4l3 .9 2.9 .5 3.2 2.3 3.5 1.9 1.4-3.2 3.2-1.4 2.5-1.1 1.9 .4 .9 1.8 3.7 1.4 4.1 .2 1.7 .2 3.1-.9 1-1.2 3.7-.2 2.4 1.7 3.3-3.5 1.4-.6 2.7-1.6 1.5 .5 2.1-1.4 1.7-2.6 3.9-1.4 .6 .1 3.9 .6 1.3-.6 2.1-1.4-1.5-3 .6-2.2-2.7-2.8-2.5-1.5-1.2-4.1-.5-1.3-1.9-3.4-1.4-1 .9-4-1.9-3.3-.5-2.2 .3-1"/>
<path fill="none" stroke="#56646a" stroke-width="1.3" d="M635 823.2l1.7 1.1 1.6-.6 3.7 1.4 1.2 1.8 2.6-.1 2.7 1 3.5 .9 2.9 4.3 1-1.7 3.4-.4 1 .5 3.1-3.4 3.8 .6 1.8 .3 3.2-2.5 2.9-.5 1 .3 4.5 2.2 3.5 1 .9 1.9 2.1-2.1 2.2 .2 2.2-2.1 2.3-2.3 1.4-1.9 1.2 .3 4-3.1 3.3 1.4 2.2-2.9"/>
<path fill="none" stroke="#56646a" stroke-width="1.3" d="M663.4 828l-.2 4.6-1.2 1.1 .4 3.7-1.1 2.4-.8 .9 1.7 2.7 1.9 6.1 .5 1 1.7-.4 1.2 .1 4.6 2.4 1.8 1.9"/>
<path fill="none" stroke="#56646a" stroke-width="1.3" d="M685 831.3l-.1 2.7 1 4.6-2.3 1.2 .5 .4 2.4 4.2 2.7 1 2.4 1.6-.4 1.1"/>
<path fill="none" stroke="#56646a" stroke-width="1.3" d="M635.1 844.3l1.8 .9 1.9 1.2 1.7-1.2 3.1 2 1.5 1.3 4-.9 2.9 1.9 3.9 1.1 .1-3.9 .8-2.2 1.4-2.5 2.3-1.3"/>
<path fill="none" stroke="#56646a" stroke-width="1.3" d="M689 804.5l2.5 1.6 2.6 1.8 2 1.4 2.4 2.8 1.3-1.2 3-.5 2.8 1.3"/>
<path fill="none" stroke="#56646a" stroke-width="1.3" d="M672.4 708.9l1.2-.1 .5 1.7 2.3 1.5 2.9 2 2.6-3.2 1.3-1.4 1.7-.9 4.2-.4 1.6-1.1 2.3-2.6 .8-1.1 2.3-3.6 1.8-2-1-.5 1.4-2.6-2.5-1.6-2.1-2.4"/>
<path fill="none" stroke="#56646a" stroke-width="1.3" d="M650 720.6l2.1 3.3 2.2 1.3 .7-.7 2.8 2 1.9 1.6 2 2 .4 1.1 3.3 2 .9 4.7-1 1.7-.8 2.1 .7 1.5-2.2 1.9-1.9 .2-2.7 3.3"/>
<path fill="none" stroke="#56646a" stroke-width="1.3" d="M666.3 737.9l2.1 .4 3.3 2.6 1 1.4 2.8 .9 .1 4"/>
<path fill="none" stroke="#56646a" stroke-width="1.3" d="M570.9 759.2l3.3 3.5-1.1 2.3 .5 3.4-.5 2.2 1.8 .7 3.6 2.7-.1 2.3 1.2 5.7-.2 1.3 2.9 3.5-1.1 .5-1.1 1.9-1.5 2-2.8 .2-.8 5.5 1.2 2.5-1.4 1.7-1 1.7-2.3 1.5-1.7 1.7 .1 .4-4.3 1.2-2.5 3.7-.5 .3-.4-.2-3.4 2.2-1.4 1.9-1.8 4.1-2.8 2.6-2.9-.9 .4 2.4-1.7 1.1-2.6 5.1"/>
<path fill="none" stroke="#56646a" stroke-width="1.3" d="M582.3 786.8l1.1 .4-.2 1.9 3 2.1 1.5 2.8-.9 3.6 1.8-.4 .8 4.4 2.1 2.9-.6-.4 4.6 2.7-.3 .1 4.5 1.3 3.2 1 1.7-.2 1.1-1.4 2.5-1"/>
<path fill="none" stroke="#56646a" stroke-width="1.3" d="M561.5 768.5l.3 .5 1.1 2.6 0 4.1 1 2.1 2.6 .1 2.9 1.7 3.1-.2 1 .8"/>
<path fill="none" stroke="#56646a" stroke-width="1.3" d="M558.8 813.6l2.4 1.3 2.2 .8 3.2-.4 2.6 2.7 2.6 .8 1.4-1.1 3.5-1.5 2 0 3.5-.9 3-2.4 2.2 2.1 1.9 1.6 .4 4.1 2.1 0"/>
<path fill="none" stroke="#56646a" stroke-width="1.3" d="M581.6 712.1l-.9 1.8 3.5 4.7-.9 .6 1 3.8-.3 .8 .7 3.9 .1 2.5-2.4 2.4-1.6 3.6-.2 2.9"/>
<path fill="none" stroke="#56646a" stroke-width="1.3" d="M621.5 697.9l-.3 4 .6 2.1-1.3 4.4 1.4 0 .3 4.7 1.8-.1 5 2.1 .7 1.9 .5 2.4 2.7 1.9 3.1 1.6-.3 1.4 .5 3 1.8 1"/>
<path fill="none" stroke="#56646a" stroke-width="1.3" d="M629.1 741.4l-1.7 1-1.9 3.9 .1 4.5-2-.2-1 5.5-2.1 1.3"/>
<path fill="none" stroke="#56646a" stroke-width="1.3" d="M375.4 581.4l-.1 1.9-2.1 5.5 .8 3-1.6 .7 1.9 2.9-.7 3.1 2.6 3.6 1.1 .6 2.7 3.8 .1 2.8-.1 2 1.1 3.2-.2 3-.3 3.5 1 1.1 1.8 1.1 1.3 2.7 .5 2.8 2.4 .8 1.4 1.7 3.4 1.2 1 .6 2.2 1.3 3.7 1.5 3.4 2.2 1.4 1.2"/>
<path fill="none" stroke="#56646a" stroke-width="1.3" d="M339.5 596l3.2 2.6 1.2-.4 2.5 2.7 2-.2 3.1 1.6 .8 1.8 1.8 2.8 3 2.6 1 1.6 1.6 1.4 1.4 .6 1 4.5 0 2.2 2.3 4.4-2.2 1-.1 .4 1.1 2.5 1.3 2.5 2.6 .8 2.6 2.2 1.7 .2 3 3.4 5.6 1.4-2.2-3.4 1.3-.7 3.9-3.4 2.2-2.4"/>
<path fill="none" stroke="#56646a" stroke-width="1.3" d="M362.1 617.6l3.8-.5 2.8-2.9 1.7 1.8 3.1-.5 1.8-.3 3.7-.2"/>
<path fill="none" stroke="#56646a" stroke-width="1.3" d="M373.4 654.7l1.8 1.7 .5 1.9-2.8 2.2 3.3 5.7-2.9 .8 .5 4.2 1.2 3.6 1.1 0-.7 3.1 1.3 2.9 4.3 2.2-.3-.1 3.6 1.1 4 .6 2.9 .9 1.9 1.1 1.3 .7 3.3 2.6 .6 3.4 .5 1.5-.3 .5 2.3-.6 5.3 2.4 2.4-2.3 1.1-1.3-1-2 3.9-5.4 1.1 .2 .3-2.5 1.9 1.6 3.6 2.6 1 .9"/>
<path fill="none" stroke="#56646a" stroke-width="1.3" d="M413.9 683.8l2.5-1.7 2.7 0 2.7-3.2 1.3-1.1 3.1-.9 2-.9 1.8-2.4 1.7-2 .6-2.1-1.2-3"/>
<path fill="none" stroke="#56646a" stroke-width="1.3" d="M453.5 694l1.4 1.8-.2 4.3-.3 4.1 .2 0 1.2 4.1"/>
<path fill="none" stroke="#56646a" stroke-width="1.3" d="M420.5 696.6l3.4-1.1 2.2 .2 2-.2 1.9-2.8 2.4-.6 2.2 1.4 2.2 1 2.3 .3 4.7 1.2 2.3-1.9 1.6 1.2 1.6-.9 4.2-.4"/>
<path fill="none" stroke="#56646a" stroke-width="1.3" d="M486.2 680.9l.6 3.9-2.2 2.3 .5 2.5 1.1 .5 1 3.3 1.8 2 2.2 3.1-1.1 .7 .3 2.5-.7 3.5-1.3 .7"/>
<path fill="none" stroke="#56646a" stroke-width="1.3" d="M520.4 677.9l-1.1 1.6-3.5-.7-.9-2.2-1.9-1.6-3.7 1.1-1.1-1.2-3.4 1.1-1.6-.5-3.8-.6-.6 4.3-3.4-2.1-3.9 1.2-3 1.4-2.2 .1-.1 1.1"/>
<path fill="none" stroke="#56646a" stroke-width="1.3" d="M553.6 586l-.1 3.4-3.1 1.5 1.5 .3-2.5 2.6-2.1 1.7-1.9 2.2-1.1 1-3.6 .7-2.6 .2-2.7 1.3-1.3-1.4-3.2-.7-2.3 .2-2 1.1-2.3-.4-3.8-1.1-2.7-1.9 .2-3.3"/>
<path fill="none" stroke="#56646a" stroke-width="1.3" d="M545.4 597.7l1.6 3.7 1.6 2.8 .6 1.6 1.1 2.5-.3 3.6-.7 1.2 .8 2.2 .7 3.5-.1 2.8 1.7 3.4-.7 2"/>
<path fill="none" stroke="#56646a" stroke-width="1.3" d="M569.9 592.2l-3 4-.4 1.9-1.8 1.6-2 1.8-.2 1.8-3.1 .6-2.8 .8-3.3 2.5-1.1 1.5-1.9-.4"/>
<path fill="none" stroke="#56646a" stroke-width="1.3" d="M476.4 632.9l-.9 1.7 .8 2.9 1.5 2.3-.8 2.9 1.4 2-.4 2.8 1.6 2.8-1 3.3 2.1 3.2-2.2-.5 .6 3.9-.3 2.8-1.2 2.2-.3 3.5-1.8 1.4-1.8 3.3"/>
<path fill="none" stroke="#56646a" stroke-width="1.3" d="M479.1 660.2l3.5 1.8 .9-.3 4.7-.4 0-.2 4.7 1 1.9 1.1 1.8 1.7 5.5 .5"/>
<path fill="none" stroke="#56646a" stroke-width="1.3" d="M439.7 764.4l2.8-2.2 4.6-1 2.6-.6 .1-1.7 2.3-1.1 4.5-1.9 4 1.2 1.7-1 1.9-.5 3-1.3 2.2-2.1 2.7 .2 1.4-3.8 2.2-.6 1.7-3"/>
<path fill="none" stroke="#56646a" stroke-width="1.3" d="M437 780.6l3.9-1.2 3.2 1.2 1.4 1.1 3.3-1 .5-2 3.6 .9 2.4-2.4 1.8-.9 4.8 1.5 1.4-1.3 2.1 .2 2.6-1.6 2.1-2.9 2.8-1.5 1.3-1.8 2.3 .6 2.9-3.1 3.4-2.2"/>
<path fill="none" stroke="#56646a" stroke-width="1.3" d="M556.2 648.6l3-2.1 2.1 .8 5-.6 1.1 .3 2.5-1.1 4.5 3.3-.7-.9 2.2 3.3 4.9-1.1 2.8-1 1-3.1"/>
<path fill="none" stroke="#56646a" stroke-width="1.3" d="M558.6 681.6l4.8 1.2 .3-.5 2.2 2.3 2.9-.8 1.8 1.3 4.1 3 1.6-.2 1.9 1.2"/>
<path fill="none" stroke="#56646a" stroke-width="1.3" d="M562.9 633.3l1.3 2.8 1.7 3.3 .6 1 2.6 4-1.6 .9-.1 1.7"/>
<path fill="none" stroke="#56646a" stroke-width="1.3" d="M577.3 609.8l1 5.3-.3 1.2 .1 2.3 .3 3.4 2.9 4.3 .5-2.8 2.2 2.6 2.2 1.2"/>
<path fill="none" stroke="#56646a" stroke-width="1.3" d="M569.5 386.7l.6 3.9 1.7 2.5 2-.1 .2 4.1 3.8 1.2-.7 4 1.6 2.8 1 3.1 1.5-.1-.9 2.7 2.8 4.8-3.4 3.3 .5 1.6 .5 2.2-1 3.8 2.4 2.9-4.1-1.1-3.7-1.1-2.8 1.6"/>
<path fill="none" stroke="#56646a" stroke-width="1.3" d="M583.1 415.6l2.2 2 3.2 1-.2 .2 1.8 1.4 3.1 1.1 2.7 .6 2.6 1.9 2.2 1.6 4.1 1.5 1.7-1.9 .9-2 3.1-.7 2.3-2.9-1.4-2.5 2.8-2.6 2.2-.2-.2-3.2 2.9-2.3 .1-3"/>
<path fill="none" stroke="#56646a" stroke-width="1.3" d="M593.2 421.3l-1.9-.9 0 3.7-.3 5.4-1.7 .2-2.7 4.2 .6 2.9 1.4 1.7-2.3 3.6 .8 2.2-2.6 3.5 1.2 3.6"/>
<path fill="none" stroke="#56646a" stroke-width="1.3" d="M641.5 440.5l.9 5 1.7 1.1 3.1 3.8 .7 1.7 1.6 2.6 2.1 1.2-.4 1.6 2.8 3.6 1.3 1.5 2 3.7 1.3 1.3 2.3 2.1 2.5 1 1.2 2.7 0 2.4-1.8 4 .7 .7 1.4 6-1.4 1.5"/>
<path fill="none" stroke="#56646a" stroke-width="1.3" d="M663.2 441.8l1.5 4.5-.5 1.4 .4 1.4 .3 3.7 2 3.5-.8 2.9-1.5 1.9 .2 2.5 .5 1.6-2.3 3.6 .4 1.9"/>
<path fill="none" stroke="#56646a" stroke-width="1.3" d="M584.6 362.2l2.3-1.2 1.3 3.2 2.8 4.5 .7-.2 1.2 2.5-.9 .3-1.9 3.6-1.2 1.6"/>
<path fill="none" stroke="#56646a" stroke-width="1.3" d="M693.8 340.9l-.3 4.8 3.4 .8 0 3.2 .7 5.1 .9-.2 2.2-.8 1.4 2.1 3.2 2.6 1.4-1.4 4 .3 2.9-1.5 .9-1.3 1.7-1.1 4.5 3 1.6-.2 1.1 3.5 1.8 .7 1.2 2.2 2.7 3 .7 3.5 .2 3.5 .3 2.4 2.1 .7-1.7 1.3"/>
<path fill="none" stroke="#56646a" stroke-width="1.3" d="M714.5 354.6l.4-3.5 .9-2.8 1.4-2.7 .9-4.5-.5-.5-1.6-2.6-.1-2.2-.4-2.3"/>
<path fill="none" stroke="#56646a" stroke-width="1.3" d="M743.2 355.3l-2.8 .9-2 1.6-1.4-.2-1.2 1.8-2.4-.3-2-1.2-5.4 .2-2.6 1.7"/>
<path fill="none" stroke="#56646a" stroke-width="1.3" d="M595.8 340l-.1-3.3-.4-2.5-2.1-.4 .9-5.2 .2-2.5-.6-1.3-.3-.1-2.8-1.5"/>
<path fill="none" stroke="#56646a" stroke-width="1.3" d="M603.6 344.5l-.6 2.6-.9 2.7-1.1 2.7 .2 1.7 .3 3.5-1.6 2-.1 1-3 2.1-1.8 3.6-1.2 3.4-.9 1.2"/>
<path fill="none" stroke="#56646a" stroke-width="1.3" d="M612.3 349.4l-1.6 4 1 2 .4 1.6 1.9 2.8-.3 2.2 2.3 2.8 1.6 2.3 1.7 1.9 4.7-.7 .3 3.2 3.4-.2 1.8 2.4 3 2.4 0-.3 1.3 2.9 2.1-.1"/>
<path fill="none" stroke="#56646a" stroke-width="1.3" d="M476.8 411.1l-1.1 .2-1.3 4.1 1.6 4.2-.3 .9-.1 5.2-.2 1.2 .5 1.4 .6 2.8 0 2.7 1.4 2.8 1.5 2.5-1.8 2.8-1.7 2.1-2.7 2.6-.9 3.5-.9-.7-2.1 1.8-2.2 3-3.6 2.2"/>
<path fill="none" stroke="#56646a" stroke-width="1.3" d="M477.6 441.9l4.1-1.6 1.5 3.5 .2-1.1 3.5 1.1 2.5 1.4 4.2-.9 1.3-.1 4.2-2.9"/>
<path fill="none" stroke="#56646a" stroke-width="1.3" d="M520.8 412.8l1.2-2.7-1.2-3.8 1.9-3.2 1.3-1.5-.9-2.6 .5-3.8-2.6-.7-2-2.5-1.2-2.4-1.6-2.4-3 1.3-2.3 1.3-1.3-1.2-3.5 .9"/>
<path fill="none" stroke="#56646a" stroke-width="1.3" d="M552.3 418.4l.1-2.4 2-2.8 1.9-1.2 .4-3.3 .5-3.8 3.1-1.1 3.2 .2 1.4 .6"/>
<path fill="none" stroke="#56646a" stroke-width="1.3" d="M345.7 394.2l.3 2.7 3.5 1 .6 .5 2.4 .3 4.8 .2 .9-2.2 4.8 .1 2.6 .2 3.1-.1 1.6-.8 3.5-1.6 3.7-.3 1.1 .4 2.2-1.1 5.3-2 1.2-1.6 2.5 .9 .9 1.8 5.4-1.3 3.1 .7-.5 1.5 2.4 4 1 3 2.4 1.4 2.3 2.1 1.5 1.3"/>
<path fill="none" stroke="#56646a" stroke-width="1.3" d="M351.1 418.4l-.1 .9 3 3 .3 3.9 2.3 3.3 1.7 2.8 1.2 1.5 1.5 2.3 3.8-.4 1.9 2.6 1.7 2 4.5-1.2 2.4 1.6 2.3-2.3 .2 .1 3.1-1.8 .9-2.5 3.4-1.1 3.7 1.2 3.3-.3 1.4-1.2 1.7 1 4.4-1.5 3.7-1.7 1.5 .1 1.8-.8-.6-3.9-1-2 1.6-2.7 1.5-2.1-1.9-3.3 2.6-2.1-.2-.6 2-4.2"/>
<path fill="none" stroke="#56646a" stroke-width="1.3" d="M333.8 420.9l4.3-2.2 3.2-1.6 .8 1.4 3.9 .7 3.5 .4 1.6-1.2 0-3-.4-1.6 1.7-2.1 1.4-3.5 1.8-2.3 .3 .3 4.9-2.4 2.6-1.9 .1-.2 2.4-3.1 3.4-.9 3-2 1.5-1.2"/>
<path fill="none" stroke="#56646a" stroke-width="1.3" d="M375.3 440.7l1.4 2.1 1.1 3.6 1 3.1-.4 1.4 4.8 0 .4 3.3 .6 3.7 3.1 .2 1.9-.7 2.4-.9 3.4 .6 1-3.8 3.3 1.6"/>
<path fill="none" stroke="#56646a" stroke-width="1.3" d="M381.8 434.2l-.4 1.9 1.7 4.5 .9 .6 .8 4.3-1.7 1.9 .4 4 1.5 4.1-.8 2.4"/>
<path fill="none" stroke="#56646a" stroke-width="1.3" d="M405.6 429.6l3.7 2.6 1.2 2.3 3.7 2.1 3.2-1.2 1.2 1.1 1.6 2.1 2.2 .1 4.4 2.3 1.6-1.1 3.2 .8 2.8 1.7 2.5-1 2.6-1 2.5 .5 1.9 1.6 2.2 2.2 3.9-1.2"/>
<path fill="none" stroke="#56646a" stroke-width="1.3" d="M422.4 438.7l.6 2.1 2.3 5.4 0 2-.8 2.9 2.8 3.5"/>
<path fill="none" stroke="#56646a" stroke-width="1.3" d="M434.6 405.7l1.4 1.3 .4 1.6 .4 1.4 1.7 2.9 .6 2.8 1.5 4.1 .2 2.2 2 3.7 .1 1.1"/>
<path fill="none" stroke="#56646a" stroke-width="1.3" d="M441.4 400.4l1.1-1.8 3.6 1.7 2.2 1.6 2 2.3-.5-1.1 4.8 2.9 1.1 2.8 1.8 1.1 3.6 1.7 3.8 1.3 .9 .6 3 1.5 1.9 1.9"/>
<path fill="none" stroke="#56646a" stroke-width="1.3" d="M325.6 464.6l.2 2.1 2.7 3.2 .1 3.3-.1 .8 .7 3.7 .4 2.3 1.9 3.5-1.7 1.1-1.8 2.4-1 2.5-.2 3.1-.6 2.8 .1 3.7 .2 3.7 1.6 1.4 .7 1 .4 4.2-.6 2.4-2.2 3.4 .2 1.5-1.3 1.9-2 2.3-.8 4.6 1.2 1.6 1.3 1.9 .9 .6 1.4 1.9 1.7 4.5 .5 1.1 3 2.7 1.7 1.8 1.8 1.1 1.2 2 2.7 1.4 .9 5.8-.3 .1 2.7 3.3-.2 1.7 1.4 4.6 4-.2 1.3 1.5 1.1 1 2.2 1.8 1.7 4.1 1.5 1.2 2 2 .3 3.6-.4 2.8 .9 1.6"/>
<path fill="none" stroke="#56646a" stroke-width="1.3" d="M309.4 471.3l4.7-1.6 2.4-1.8 .8 .5 4-.6 4.6-1.1-.3-2.1 2.3-3 2.4-1.4 2.7-1.1-.1-3.2 .9-3.1 1.8-1.3-1.4-2.6 1.7-2.5 .8-2.2-1.5-4.1 .3-2.7 .7-3.4 1.1-1.5-1.9-4.5-.5-1.6 .2-3.6-1.3-1.9"/>
<path fill="none" stroke="#56646a" stroke-width="1.3" d="M331.5 483.5l.8-.6 3.5-2 3.1 .3 3-1.3 .9-2 1.9 .2 2.6 1 3.1 2.7 3.2 3.6 2.7 1.6-.6 1.7 2.3 .8 .6 3.9 1.6-.2 3.9 4.4 1.9 2.5-.3 1.6"/>
<path fill="none" stroke="#56646a" stroke-width="1.3" d="M309.5 530.4l2.8 3 4.6-2.1 1.1 2 3.3 .9 2.6-.5 2.3-.1 2.8 2.4"/>
<path fill="none" stroke="#56646a" stroke-width="1.3" d="M337.2 544.7l1.2-2 .7-.4 4.4-5.2 0-1.1 2.3-2.6 1.6-1.9 1-2.4 1.9-3.5 .3 .2 3.7-.8 1.5-.2 4.1-1.2 3.4 2.5 1.6-.9"/>
<path fill="none" stroke="#56646a" stroke-width="1.3" d="M343 557l.4 2.8-1 2.4-.7 4.5-.2 .8 2.1 5.9-1.4 1.7-2.9 1.2 2.5 4.5-.5 3.9-1.2-.1-1.6 3.6 .7 2.3-1.9 3.3"/>
<path fill="none" stroke="#56646a" stroke-width="1.3" d="M268 864.5l3.2-.2 1.9-1.8 .3-1.4 4.3-2.4 3.5-1.6 .6-1.6 1.5 .7 2.6-2.4 1.7 .6 3.2 .8"/>
<path fill="none" stroke="#56646a" stroke-width="1.3" d="M286.3 829.5l.7 1.7 1.5 1.3 0 3.3-.2 2.4 1.5 3.1-1.5 2.5 .6 2.5-.6 3.3-1.9 .9-.5 3.3"/>
<path fill="none" stroke="#56646a" stroke-width="1.3" d="M278.5 890.5l-1.4-1.5 1-1.4 1.1-3.9-.2-2.7 1.3-.8 1.1-3-1.7-4.2 1.4-1-3-3.2 .6-3.2 .5-2.2-2.2-2.3 .7-2.4"/>
<path fill="none" stroke="#56646a" stroke-width="1.3" d="M232.5 835l1.9 3.6 2.3 3 .3 1.2 .9 3.8-.9 1.8 1.8 3.4 0 2.1-.1 1.5-.5 2.8-1.9 3.1 .5 3.8-.4 2.1-1.5 1.3-.1 2.2 .2 3.7"/>
<path fill="none" stroke="#56646a" stroke-width="1.3" d="M213 818.7l.6-.9-.3-2.6-2.2-2.1 1.3-3.1-2-3.1-2.4-1 1.2-2.8 .7-3.3 1.7-3.5 1.7-2.8 2.6-1.3-.5-.6"/>
<path fill="none" stroke="#56646a" stroke-width="1.3" d="M199.4 814.7l2.2-.1 1-4 2.3-.5 1.2-4 1.9-.2"/>
<path fill="none" stroke="#56646a" stroke-width="1.3" d="M214.9 869.6l-2-1.3-2-2.2-2.8-3.8 1-3-2.7-2.1-1.4-.8-2.3-2.8"/>
<path fill="none" stroke="#56646a" stroke-width="1.3" d="M244.8 648.7l1.3 1.9 1.8 4 2.1 1.7 1.7 1.9 4 3.9 1.9-.1 3.9 1.3 1.4 1.9 3.3 .7 2.1 0 2.1 1.1 2.7 1.7 1.6 1.5 1.3 1.9 2.9 2.3 1.7 .1 3 1.6 1.6 .3 1.6 2.3 3.9-.2 .6-.8 1.7-4 4.5-.7 .8-3.7 1.2 1.8 1.1-2.8 3.5-3.5-.6-3.3 .7-2.2 .5-1.3 2-4.8-.7-.4 1.4-3.5"/>
<path fill="none" stroke="#56646a" stroke-width="1.3" d="M270.4 667l-.5-2.6-.7-2.5 2.4-2.9-.7-1.5 1-3.9 .8 .4 1.5-4"/>
</g>
<g stroke-linejoin="round" stroke-linecap="round">
<path fill="#985afc" stroke="#56646a" stroke-width="1.7" d="M733.9 18.3l109.1 0 9.8 4.8 9.7 3.3 13 11.4 9.8-4.9 8.2 13 8.1-3.2 9.8-6.5 9.7 4.8 16.3-3.2 14.6-8.2 13.1 4.9 4.8 11.4-6.5 9.8 9.8 9.8 6.5 9.7 8.1 8.2 8.2-3.3 1.6 11.4 16.3 4.9 1.6 8.1-9.7 6.5-1.7 8.2 9.8 6.5-1.6 14.6 10.7 11.4-7.5 9.8-1.6 9.7-9.8 9.8-3.2 11.4 4.9 9.8-1.7 6.5-14.6 3.2-11.4 3.3-14.7-3.3-11.4 3.3-8.1 14.6 3.3 8.2-4.9 14.6-11.4 6.5-8.2 9.8-9.7 3.3-6.5-6.6-8.2 8.2-9.7 1.6-13.1-3.2-17.9-1.7 9.8-13-3.3-11.4-11.3-9.8-3.3-8.1-6.5 1.6-9.8-4.8-6.5 3.2-8.1-6.5-8.2 9.8-24.4 3.2-6.5-6.5 4.9-11.4-1.6-9.7-9.8-9.8-9.8-3.3-9.7-13-1.6-11.4-9.8-4.9-1.6-9.7-8.2-4.9-6.5-13 3.3-6.5-6.6-8.2 0-13-1.6-14.6-8.1-18-6.5-11.3-3.3-11.4 8.2-9.8 14.6-4.9 3.3-9.8Z"/>
<path fill="#ffee00" stroke="#56646a" stroke-width="1.7" d="M854.7 870.5l6.3-.9 1.6 5.7 1.6 9.4-.7 12.7 2.3 9.4 .9 9.5 .6 12.6-.6 15.8-4.1 9.5-3.1 9.5-1.6 9.4-1.6 12.7-3.2 7.2-28.4 0-3.1-5.6 4.7-6.4 1.6-4.7-6.3 0-4.8-1.6 3.2-7.9 3.1-7.9-7.9 1.6-6.3-3.1 4.8-6.4 1.5-6.3-6.3-3.1-1.5-7.9 4.7-3.2-4.7-7.9 3.1-3.1 3.2-7.9 4.7-4.8 7.9-4.7 9.5-3.2 3.1-4.7 6.3-2.5 4.8 5.7 3.1-6.4 1.6-9.4-1.6-3.2Z"/>
<path fill="#04308a" stroke="#56646a" stroke-width="1.7" d="M891.8 47.5l9.8-4.8 9.8-6.5 9.7 4.8 16.3-3.2 14.6-8.2 13.1 4.9 4.8 11.4-6.5 9.8-13 6.5-13 8.1-9.8 8.2-9.7 4.9-8.2-3.3-1.6-9.8-1.6-9.7-9.8-3.3Z"/>
<path fill="#0d6cfb" stroke="#56646a" stroke-width="1.7" d="M906.5 104.5l11.4-1.6 11.3-1.6 1.7 11.4 9.7 1.6 9.8 11.4 8.1 1.6 1.7-11.4 3.2-13-4.9-8.1 3.3-11.4 6.5-8.2 11.4 0 8.1 8.2 8.2-3.3 1.6 11.4 16.3 4.9 1.6 8.1-9.7 6.5-1.7 8.2 9.8 6.5-1.6 14.6 10.7 11.4-7.5 9.8-1.6 9.7-9.8 9.8-3.2 11.4 4.9 9.8-1.7 6.5-14.6 3.2-11.4 3.3-14.7-3.3-11.4 3.3-8.1 14.6-8.1-4.8-8.2 4.8-6.5 6.5-9.7-4.8-6.6-9.8 3.3-11.4-1.6-8.1 6.5-4.9-9.8-9.8-9.7-1.6 4.8-14.7-1.6-16.2 8.1-9.8 9.8-1.6 8.1-3.3-8.1-8.1-3.2-13 3.2-6.5Z"/>
<path fill="#04308a" stroke="#56646a" stroke-width="1.7" d="M786 234.7l-6.5-6.5 4.9-11.4-1.6-9.7 8.1-14.7 6.5 0 0-9.8 8.2 3.3 8.1 4.9 6.5-1.6 3.3 6.5 6.5-3.3-1.7-9.8 9.8-1.6 1.6-16.3 3.3-6.5 8.1 6.5 8.2 0 8.1 1.7-3.3 11.4-1.6 13 4.9 16.3-8.1 3.2-6.5 4.9-3.3 13-6.5 1.6-9.8-4.8-6.5 3.2-8.1-6.5-8.2 9.8Z"/>
<path fill="#f92035" stroke="#56646a" stroke-width="1.7" d="M844.6 34.5l8.2-8.1 9.7 0 13 11.4 9.8-4.9 8.2 13-1.7 8.2 4.9 3.2 9.8 3.3 1.6 9.7 0 8.2-8.1 3.2-1.7 11.4-6.5 3.3-6.5-8.2-8.1-3.2-1.7-11.4-8.1-6.5-8.1 1.6-8.2-4.9-1.6-9.7-4.9-9.8Z"/>
<path fill="#f92035" stroke="#56646a" stroke-width="1.7" d="M817.7 81l2.2-11.6 6.7 2.2 7.7-1.7 4.4 .6 4.5-2.8 1.1-9.4 5.5-3.9 2.2 6.7 4.5 7.7 6.6-3.3 8.9-6.6 5.5 13.3 1.1 9.9 6.7 6.7 3.3 3.3-6.1 2.2 0 13.3-3.9-2.2-4.4-8.9-2.2-5.5-5.6-.6-5.5 3.4-2.2 2.7-6.7 1.1-5.5 1.1-4.4-4.4-3.4-5.5-4.4-5.6-6.6 0-6.7-1.1Z"/>
<path fill="#f92035" stroke="#56646a" stroke-width="1.7" d="M831.5 105.4l5-1.1 2.2-2.2 6.7-3.4 6.6 0 4.5 3.4-4.5 3.3 2.2 6.6 3.4-1.6 1.1 8.3 8.8 2.2 10 1.1-3.3 13.3-6.7-4.4-1.1-3.4-9.9 2.3-12.2-3.4-2.2-1.1-5.6-5.5 1.1-4.4-1.1-2.8-3.9-.6Z"/>
<path fill="#f92035" stroke="#56646a" stroke-width="1.7" d="M819.4 128.1l19.3-4.4 2.3 2.7-3.4 9.4-5.5-3.8-12.7 .5Z"/>
<path fill="#f92035" stroke="#56646a" stroke-width="1.4" d="M814.6 87.1l4.8-4.8 2.7 2-1.1 8.4Z"/>
<path fill="#f92035" stroke="#56646a" stroke-width="1.7" d="M720.9 63.8l4.9-8.1 13-6.5 11.4-3.3 9.8-4.9 6.5 4.9-3.3 11.4-4.8 8.2-11.4 1.6-11.4 1.6-6.5-4.9Z"/>
<path fill="#f92035" stroke="#56646a" stroke-width="1.7" d="M782.8 54.1l4.8-11.4 4.9-6.5 8.2 4.8-1.7 8.2-6.5 8.1-6.5 0Z"/>
<path fill="#f92035" stroke="#56646a" stroke-width="1.7" d="M777.2 115.9l5.6-6.5 4.8 3.3-.6 9.7-5.9 4.9-3.9-3.3Z"/>
<path fill="#f92035" stroke="#56646a" stroke-width="1.4" d="M787.6 107.8l8.2-6.5 3.2 2.2-6.5 6.9Z"/>
<path fill="#f92035" stroke="#56646a" stroke-width="1.7" d="M832.2 148.5l4.3-5.9 8.1-1.3 2.6 5.5-4.2 7.5-7.2-1Z"/>
<path fill="#f92035" stroke="#56646a" stroke-width="1.7" d="M842.3 155l7.2-4.9 6.5-1.6 4.9 6.5-1.6 9.1-7.2 0-4.2-5.9Z"/>
<path fill="#f92035" stroke="#56646a" stroke-width="1.7" d="M868.4 151.7l5.5-4.9 9.8 2.3 4.9 7.5-1.7 13-6.5 9.1-8.1-4.2-3.9-9.8Z"/>
<path fill="#985afc" stroke="#56646a" stroke-width="1.7" d="M807.4 922.6l4.7 1.6 9.5 4.7 7.9 4.8 6.3 6.3 4.7 6.3-1.6 4.7-6.3 3.2-7.9 3.2-9.5 3.1-6.3-3.1 4.8-6.4 1.5-6.3-6.3-3.1-1.5-7.9 4.7-3.2Z"/>
<path fill="#0d6cfb" stroke="#56646a" stroke-width="1.1" d="M850.9 104.5l8.3-.2-5 7.2Z"/>
<path fill="#1c32e8" stroke="#56646a" stroke-width="1.4" d="M849.8 132l15.5-4.5 1.1 5.6-7.7 7.7-4.5-3.3Z"/>
<path fill="none" stroke="#56646a" stroke-width="1.6" d="M838.9 894.2l1.6 9.5 3.2 6.3 11-1.6 9.5-1.6"/>
<path fill="none" stroke="#56646a" stroke-width="1.6" d="M840.5 946.3l6.3 6.3 3.2 12.6 7.9-1.5"/>
<path fill="none" stroke="#56646a" stroke-width="1.6" d="M867.4 166.4l3.3-17.9-3.3-8.2 9.8-13"/>
<path fill="none" stroke="#56646a" stroke-width="1.6" d="M867.4 207.1l8.1 3.2 4.9-13 13.1-11.4"/>
<path fill="none" stroke="#56646a" stroke-width="1.6" d="M888.6 156.6l8.1-1.6"/>
<path fill="none" stroke="#56646a" stroke-width="1.6" d="M908.1 78.5l3.3 14.6-4.9 11.4"/>
<path fill="none" stroke="#56646a" stroke-width="1.6" d="M886.9 96.4l6.6 11.4-8.2 14.6 13-9.7 8.2-8.2"/>
<path fill="none" stroke="#56646a" stroke-width="1.6" d="M877.2 127.3l8.1-4.9"/>
<path fill="none" stroke="#56646a" stroke-width="1.6" d="M929.2 181l8.2-9.8 8.1-13-9.7-4.9-13.1-13"/>
<path fill="none" stroke="#56646a" stroke-width="1.6" d="M929.2 181l11.4 9.8 9.8 8.1 1.6 16.3"/>
<path fill="none" stroke="#56646a" stroke-width="1.6" d="M833.2 60.6l0 11.4"/>
<path fill="none" stroke="#56646a" stroke-width="1.6" d="M859.3 68.7l1.6 16.3 11.4 3.2 4.9-3.2"/>
<path fill="none" stroke="#56646a" stroke-width="1.6" d="M867.4 67.1l1.6 13"/>
<path fill="none" stroke="#56646a" stroke-width="1.6" d="M843 67.1l1.6 14.6 8.2 3.3 8.1 0"/>
<path fill="none" stroke="#56646a" stroke-width="1.6" d="M833.2 72l1.7 13 9.7-3.3"/>
<path fill="none" stroke="#56646a" stroke-width="1.6" d="M823.5 70.3l1.6 19.6"/>
<path fill="none" stroke="#56646a" stroke-width="1.6" d="M852.8 85l1.6 11.4 11.4 1.6 6.5-9.8"/>
<path fill="none" stroke="#56646a" stroke-width="1.6" d="M865.8 98l4.9 11.4 11.3-1.6"/>
<path fill="none" stroke="#56646a" stroke-width="1.6" d="M843 96.4l11.4 0"/>
<path fill="none" stroke="#56646a" stroke-width="1.6" d="M836.5 99.6l4.9 11.4 8.1 1.7 9.8 0 11.4-3.3"/>
<path fill="none" stroke="#56646a" stroke-width="1.6" d="M841.4 111l1.6 16.3"/>
<path fill="none" stroke="#56646a" stroke-width="1.6" d="M859.3 112.7l0 9.7"/>
<path fill="none" stroke="#56646a" stroke-width="1.6" d="M859.3 164.7l3.2-19.5 4.9-4.9"/>
<path fill="none" stroke="#56646a" stroke-width="1.6" d="M847.2 146.8l15.3-1.6"/>
<path fill="none" stroke="#56646a" stroke-width="1.6" d="M764.5 60.3l12.8-2.4 3.3 13.7 8.8 9.6-2.4 6.5-4.8 5.6 0 10.5 2.4 5.6"/>
<path fill="none" stroke="#56646a" stroke-width="1.6" d="M780.6 71.6l-4.9 8-4.8 11.3-8.9 .8-10.4-4.8-5.7 5.6-2.4 5.7"/>
<path fill="none" stroke="#56646a" stroke-width="1.6" d="M743.5 98.2l-.8 12-4.8 12.9 4.8 7.3-13.7 5.6"/>
<path fill="none" stroke="#56646a" stroke-width="1.6" d="M743.5 98.2l6.5 1.6 11.2 8.8 9.7-.8 6.4 4.9"/>
<path fill="none" stroke="#56646a" stroke-width="1.6" d="M764.5 60.3l8-12.1 8.1 6.4 9.6 4.1 15.3-2.5 0 7.3-7.2 0-11.3 10.5-6.4-2.4"/>
<path fill="none" stroke="#56646a" stroke-width="1.6" d="M805.5 56.2l10.5-10.4 6.5 0 7.2 4 4-3.2 6.5 0 3.2-3.2"/>
<path fill="none" stroke="#56646a" stroke-width="1.6" d="M796.7 50.6l8.8 5.6"/>
<path fill="none" stroke="#56646a" stroke-width="1.6" d="M816 45.8l3.2-6.5-4-5.6 8.9-6.5 9.6 .9 1.7-4.1"/>
<path fill="none" stroke="#56646a" stroke-width="1.6" d="M819.2 39.3l24.2-4"/>
<path fill="none" stroke="#56646a" stroke-width="1.6" d="M805.5 63.5l7.3 4 6.4 2.5"/>
<path fill="none" stroke="#56646a" stroke-width="1.6" d="M824.9 49.8l-5.7 15.3 14.5 .8-4-16.1"/>
<path fill="none" stroke="#56646a" stroke-width="1.6" d="M833.7 65.9l6.5 .8"/>
<path fill="none" stroke="#56646a" stroke-width="1.6" d="M807.1 70.8l-3.2 12 8.9 6.5 3.2-5.6 1.6-7.3-4.8-8.9"/>
<path fill="none" stroke="#56646a" stroke-width="1.6" d="M787 87.7l12.9 4 4-8.9"/>
<path fill="none" stroke="#56646a" stroke-width="1.6" d="M799.9 91.7l4 7.3 5.7-3.3 3.2-6.4"/>
<path fill="none" stroke="#56646a" stroke-width="1.6" d="M809.6 95.7l3.2 4.9 9.7 1.6"/>
<path fill="none" stroke="#56646a" stroke-width="1.6" d="M784.6 109.4l12.1-6.4 7.2-4"/>
<path fill="none" stroke="#56646a" stroke-width="1.6" d="M787 110.2l1.6 8.1 13.7-1.6 .8-8.9 6.5-.8 12.9 8.9"/>
<path fill="none" stroke="#56646a" stroke-width="1.6" d="M802.3 116.7l-.8 8 21-8.8 5.6-.8"/>
<path fill="none" stroke="#56646a" stroke-width="1.6" d="M777.3 112.7l-1.6 12 1.6 11.3-2.4 5.7 13.7 4 4.9-8.1 8-2.4 0-10.5"/>
<path fill="none" stroke="#56646a" stroke-width="1.6" d="M801.5 135.2l14.5 6.5 3.2-8.9"/>
<path fill="none" stroke="#56646a" stroke-width="1.6" d="M788.6 145.7l4.9 10.5 19.3 6.4 12.9-2.4 3.2-7.3 9.7-2.4"/>
<path fill="none" stroke="#56646a" stroke-width="1.6" d="M793.5 156.2l-4.9 12.8-11.3-.8 2.5 6.5-2.5 5.3"/>
<path fill="none" stroke="#56646a" stroke-width="1.6" d="M828.1 115.1l.8 8-9.7 4.9"/>
<path fill="none" stroke="#56646a" stroke-width="1.6" d="M837.8 136.8l2.4-5.6"/>
<path fill="none" stroke="#56646a" stroke-width="1.6" d="M726.6 40.1l9.6 0 3.3 6.5"/>
<path fill="none" stroke="#56646a" stroke-width="1.2" d="M842 94.4l.4 1.8-1.5 1.3-2-.1-1.6-.4-2-.2-1.3-1.4 .8-1.7 1.2-1.1 1.1-1.2 1.9-.9 1.8 1 .5 1.6 .7 1.3"/>
<path fill="none" stroke="#56646a" stroke-width="1.2" d="M845.6 94.4l-1.7 2.1-1.2 2-1.8 2.3-3.3 .7-2.7-1.8-1.3-2.3-1.4-1.8-1.5-2.6 .9-2.8 3.3-1 2.9 .2 2.6-.2 3.3 .2 2.4 2.1-.5 2.9"/>
<path fill="none" stroke="#56646a" stroke-width="1.2" d="M849.9 94.4l.1 3.6-2.9 2.6-4 .7-3.2 .3-3.1 .8-4.1 .4-3.7-1.7-1.1-3.4 1.1-3.3 1.4-2.5 .7-2.7 1.6-3.2 3.6-1.9 4.1 .9 2.7 2.5 1.9 2.3 2.4 1.8 2.5 2.8"/>
<path fill="none" stroke="#56646a" stroke-width="1.2" d="M852.8 94.4l1.3 4.1-1.8 4-4.3 2.2-4.8 .1-3.9-.4-3.6 .3-4.5 .3-4.8-1.1-3.1-3.3-.1-4.2 2.2-3.6 2.4-2.7 1.6-2.8 1.8-3.5 3.6-2.9 4.9-.7 4.4 2 2.5 3.5 1.6 3.1 2 2.5 2.6 3.1"/>
<path fill="none" stroke="#56646a" stroke-width="1.2" d="M860.7 94.4l-1.5 4.8-4.1 3.4-4.8 1.9-4.1 1.3-3.6 1.9-4.2 2.4-5.4 1.6-5.7-.9-4.1-3.4-1.5-4.8 .5-4.5 .7-3.7-.1-3.5-.4-4.3 1.2-4.8 3.7-3.8 5.6-1.3 5.5 1.3 4.4 2.7 3.4 2.3 3.7 1.7 4.5 1.9 4.3 3.2 2 4.6"/>
<path fill="none" stroke="#56646a" stroke-width="1.1" d="M840.4 94.6l17 3.9"/>
<path fill="none" stroke="#56646a" stroke-width="1.1" d="M840.1 95.2l14 9"/>
<path fill="none" stroke="#56646a" stroke-width="1.1" d="M839.7 95.7l8.7 12.7"/>
<path fill="none" stroke="#56646a" stroke-width="1.1" d="M839 96l2.2 14.5"/>
<path fill="none" stroke="#56646a" stroke-width="1.1" d="M838.2 96l-4.6 14.2"/>
<path fill="none" stroke="#56646a" stroke-width="1.1" d="M837.5 95.9l-10.8 11.6"/>
<path fill="none" stroke="#56646a" stroke-width="1.1" d="M836.9 95.5l-15.3 7.2"/>
<path fill="none" stroke="#56646a" stroke-width="1.1" d="M836.6 94.9l-17.5 1.8"/>
<path fill="none" stroke="#56646a" stroke-width="1.1" d="M836.5 94.3l-17-3.9"/>
<path fill="none" stroke="#56646a" stroke-width="1.1" d="M836.7 93.7l-13.9-9"/>
<path fill="none" stroke="#56646a" stroke-width="1.1" d="M837.2 93.2l-8.7-12.8"/>
<path fill="none" stroke="#56646a" stroke-width="1.1" d="M837.9 92.9l-2.2-14.6"/>
<path fill="none" stroke="#56646a" stroke-width="1.1" d="M838.6 92.8l4.7-14.1"/>
<path fill="none" stroke="#56646a" stroke-width="1.1" d="M839.4 93l10.7-11.6"/>
<path fill="none" stroke="#56646a" stroke-width="1.1" d="M840 93.4l15.2-7.3"/>
<path fill="none" stroke="#56646a" stroke-width="1.1" d="M840.3 94l17.5-1.9"/>
</g>
</svg>
<div id="fade"></div>
<div id="topbar"><span class="dot"></span><span class="title">Résultats des élections législatives 2022 en France - en direct</span></div>
<div id="leftpanel"><i></i></div>
<div id="tip">Bildschirmfoto</div>
<svg id="tiparrow" width="22" height="10" viewBox="0 0 22 10"><path d="M0,0.5 C4,0.5 5,3.5 6.5,8.5 L11,16 L15.5,8.5 C17,3.5 18,0.5 22,0.5 Z" fill="#efefef"/><path d="M0,1 C4,1 5,3.5 6.5,8.5 L11,16 M22,1 C18,1 17,3.5 15.5,8.5 L11,16" fill="none" stroke="#d6d6d6" stroke-width="1"/></svg>
</body>
</html>
